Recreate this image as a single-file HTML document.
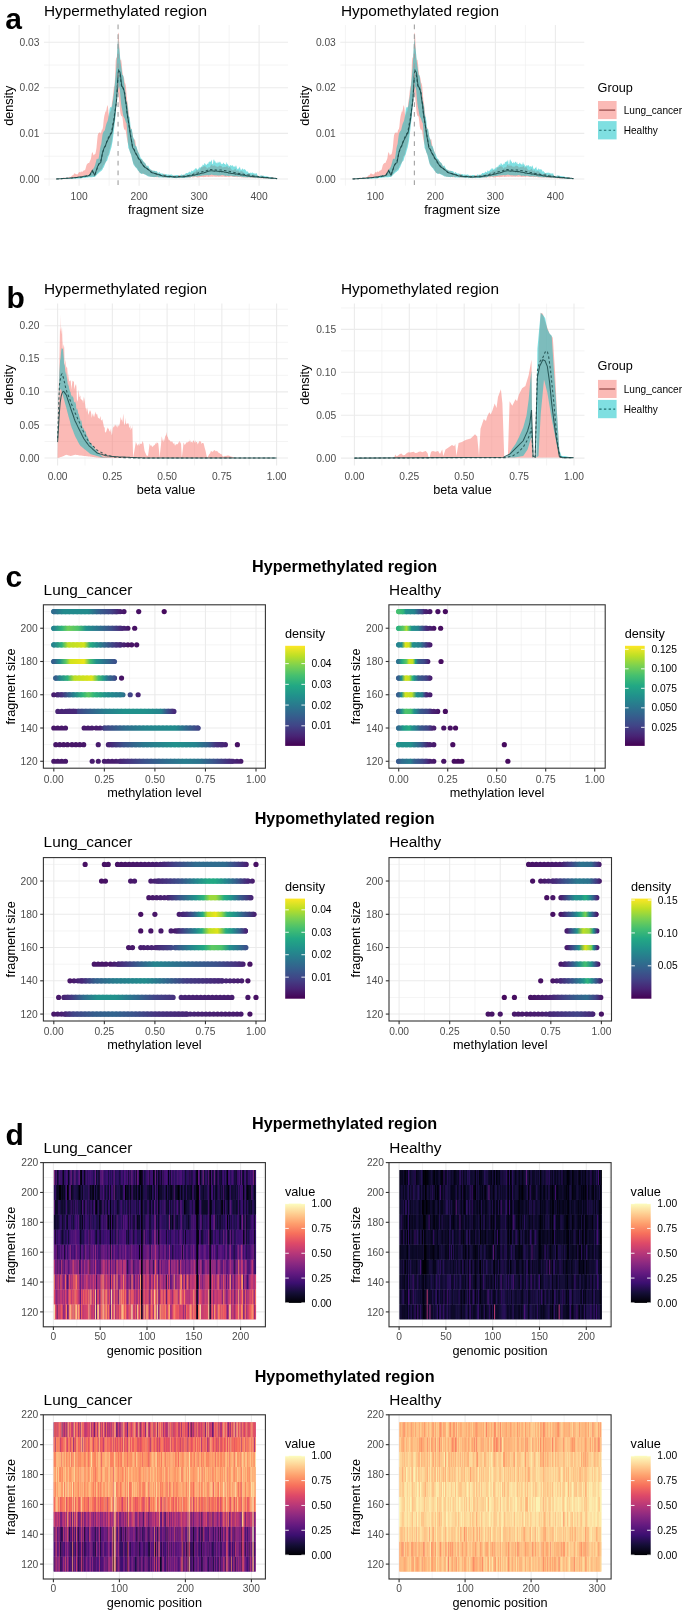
<!DOCTYPE html><html><head><meta charset="utf-8"><style>html,body{margin:0;padding:0;background:#fff;width:685px;height:1614px;overflow:hidden}svg{display:block;font-family:"Liberation Sans",sans-serif;filter:blur(0.5px)}</style></head><body><svg width="685" height="1614" viewBox="0 0 685 1614" font-family="Liberation Sans, sans-serif" fill="#000"><defs><linearGradient id="g0" gradientUnits="userSpaceOnUse" x1="53.8" y1="0" x2="175.12" y2="0"><stop offset="0" stop-color="#2f6c8e"/><stop offset="0.08" stop-color="#228b8d"/><stop offset="0.28" stop-color="#228b8d"/><stop offset="0.37" stop-color="#355f8d"/><stop offset="0.47" stop-color="#414487"/><stop offset="0.55" stop-color="#481d6f"/><stop offset="0.6" stop-color="#471365"/><stop offset="1" stop-color="#46085c"/></linearGradient><linearGradient id="g1" gradientUnits="userSpaceOnUse" x1="53.8" y1="0" x2="154.9" y2="0"><stop offset="0" stop-color="#25848e"/><stop offset="0.08" stop-color="#2fb47c"/><stop offset="0.14" stop-color="#6ece58"/><stop offset="0.24" stop-color="#4ec36b"/><stop offset="0.32" stop-color="#21918c"/><stop offset="0.44" stop-color="#2c738e"/><stop offset="0.56" stop-color="#3b528b"/><stop offset="0.66" stop-color="#472a7a"/><stop offset="0.76" stop-color="#471365"/><stop offset="1" stop-color="#460b5e"/></linearGradient><linearGradient id="g2" gradientUnits="userSpaceOnUse" x1="53.8" y1="0" x2="154.9" y2="0"><stop offset="0" stop-color="#25848e"/><stop offset="0.08" stop-color="#2fb47c"/><stop offset="0.14" stop-color="#bddf26"/><stop offset="0.3" stop-color="#d2e21b"/><stop offset="0.36" stop-color="#26ad81"/><stop offset="0.42" stop-color="#21918c"/><stop offset="0.52" stop-color="#355f8d"/><stop offset="0.62" stop-color="#463480"/><stop offset="0.74" stop-color="#471365"/><stop offset="1" stop-color="#460b5e"/></linearGradient><linearGradient id="g3" gradientUnits="userSpaceOnUse" x1="53.8" y1="0" x2="114.46" y2="0"><stop offset="0" stop-color="#355f8d"/><stop offset="0.1" stop-color="#21918c"/><stop offset="0.2" stop-color="#5ec962"/><stop offset="0.27" stop-color="#d2e21b"/><stop offset="0.5" stop-color="#ece51b"/><stop offset="0.6" stop-color="#44bf70"/><stop offset="0.7" stop-color="#21918c"/><stop offset="0.83" stop-color="#2c738e"/><stop offset="1" stop-color="#3b528b"/></linearGradient><linearGradient id="g4" gradientUnits="userSpaceOnUse" x1="55.82" y1="0" x2="121.54" y2="0"><stop offset="0" stop-color="#355f8d"/><stop offset="0.06" stop-color="#25848e"/><stop offset="0.18" stop-color="#2fb47c"/><stop offset="0.28" stop-color="#bddf26"/><stop offset="0.55" stop-color="#dfe318"/><stop offset="0.65" stop-color="#44bf70"/><stop offset="0.74" stop-color="#21918c"/><stop offset="0.8" stop-color="#2f6c8e"/><stop offset="0.89" stop-color="#3b528b"/><stop offset="1" stop-color="#471365"/></linearGradient><linearGradient id="g5" gradientUnits="userSpaceOnUse" x1="53.8" y1="0" x2="138.12" y2="0"><stop offset="0" stop-color="#481d6f"/><stop offset="0.1" stop-color="#463480"/><stop offset="0.17" stop-color="#355f8d"/><stop offset="0.24" stop-color="#25848e"/><stop offset="0.34" stop-color="#2fb47c"/><stop offset="0.41" stop-color="#5ec962"/><stop offset="0.48" stop-color="#2fb47c"/><stop offset="0.62" stop-color="#21918c"/><stop offset="0.72" stop-color="#25848e"/><stop offset="0.82" stop-color="#2a788e"/><stop offset="0.91" stop-color="#414487"/><stop offset="1" stop-color="#482475"/></linearGradient><linearGradient id="g6" gradientUnits="userSpaceOnUse" x1="57.84" y1="0" x2="173.91" y2="0"><stop offset="0" stop-color="#482475"/><stop offset="0.16" stop-color="#472a7a"/><stop offset="0.17" stop-color="#414487"/><stop offset="0.27" stop-color="#355f8d"/><stop offset="0.4" stop-color="#287d8e"/><stop offset="0.57" stop-color="#21918c"/><stop offset="0.75" stop-color="#21918c"/><stop offset="0.89" stop-color="#25848e"/><stop offset="0.94" stop-color="#3b528b"/><stop offset="1" stop-color="#472a7a"/></linearGradient><linearGradient id="g7" gradientUnits="userSpaceOnUse" x1="53.8" y1="0" x2="197.97" y2="0"><stop offset="0" stop-color="#481769"/><stop offset="0.32" stop-color="#481d6f"/><stop offset="0.35" stop-color="#414487"/><stop offset="0.49" stop-color="#2f6c8e"/><stop offset="0.63" stop-color="#25848e"/><stop offset="0.84" stop-color="#228b8d"/><stop offset="0.91" stop-color="#2f6c8e"/><stop offset="1" stop-color="#414487"/></linearGradient><linearGradient id="g8" gradientUnits="userSpaceOnUse" x1="53.8" y1="0" x2="237.8" y2="0"><stop offset="0" stop-color="#481769"/><stop offset="0.22" stop-color="#481769"/><stop offset="0.3" stop-color="#482475"/><stop offset="0.38" stop-color="#3b528b"/><stop offset="0.49" stop-color="#2a788e"/><stop offset="0.66" stop-color="#21918c"/><stop offset="0.77" stop-color="#25848e"/><stop offset="0.84" stop-color="#355f8d"/><stop offset="0.88" stop-color="#463480"/><stop offset="0.95" stop-color="#481d6f"/><stop offset="1" stop-color="#471063"/></linearGradient><linearGradient id="g9" gradientUnits="userSpaceOnUse" x1="53.8" y1="0" x2="243.46" y2="0"><stop offset="0" stop-color="#481769"/><stop offset="0.32" stop-color="#481d6f"/><stop offset="0.39" stop-color="#463480"/><stop offset="0.48" stop-color="#3b528b"/><stop offset="0.59" stop-color="#2f6c8e"/><stop offset="0.69" stop-color="#287d8e"/><stop offset="0.77" stop-color="#2c738e"/><stop offset="0.85" stop-color="#3b528b"/><stop offset="0.93" stop-color="#472a7a"/><stop offset="1" stop-color="#481769"/></linearGradient><linearGradient id="g10" x1="0" y1="0" x2="0" y2="1"><stop offset="0" stop-color="#fde725"/><stop offset="0.1" stop-color="#bddf26"/><stop offset="0.2" stop-color="#7ad151"/><stop offset="0.3" stop-color="#44bf70"/><stop offset="0.4" stop-color="#22a884"/><stop offset="0.5" stop-color="#21918c"/><stop offset="0.6" stop-color="#2a788e"/><stop offset="0.7" stop-color="#355f8d"/><stop offset="0.8" stop-color="#414487"/><stop offset="0.9" stop-color="#482475"/><stop offset="1" stop-color="#440154"/></linearGradient><linearGradient id="g11" gradientUnits="userSpaceOnUse" x1="398.7" y1="0" x2="445.74" y2="0"><stop offset="0" stop-color="#44bf70"/><stop offset="0.1" stop-color="#2fb47c"/><stop offset="0.15" stop-color="#21918c"/><stop offset="0.33" stop-color="#25848e"/><stop offset="0.42" stop-color="#375a8c"/><stop offset="0.5" stop-color="#414487"/><stop offset="0.54" stop-color="#482475"/><stop offset="0.71" stop-color="#471365"/><stop offset="1" stop-color="#460b5e"/></linearGradient><linearGradient id="g12" gradientUnits="userSpaceOnUse" x1="398.7" y1="0" x2="441.82" y2="0"><stop offset="0" stop-color="#2fb47c"/><stop offset="0.11" stop-color="#5ec962"/><stop offset="0.18" stop-color="#b0dd2f"/><stop offset="0.25" stop-color="#44bf70"/><stop offset="0.3" stop-color="#21918c"/><stop offset="0.45" stop-color="#25848e"/><stop offset="0.55" stop-color="#3b528b"/><stop offset="0.64" stop-color="#472a7a"/><stop offset="0.82" stop-color="#471365"/><stop offset="1" stop-color="#460b5e"/></linearGradient><linearGradient id="g13" gradientUnits="userSpaceOnUse" x1="398.7" y1="0" x2="432.41" y2="0"><stop offset="0" stop-color="#25848e"/><stop offset="0.09" stop-color="#21918c"/><stop offset="0.2" stop-color="#dfe318"/><stop offset="0.31" stop-color="#cae11f"/><stop offset="0.41" stop-color="#21918c"/><stop offset="0.64" stop-color="#287d8e"/><stop offset="0.76" stop-color="#3b528b"/><stop offset="0.87" stop-color="#472a7a"/><stop offset="1" stop-color="#481769"/></linearGradient><linearGradient id="g14" gradientUnits="userSpaceOnUse" x1="398.7" y1="0" x2="441.82" y2="0"><stop offset="0" stop-color="#2c738e"/><stop offset="0.07" stop-color="#22a884"/><stop offset="0.18" stop-color="#5ec962"/><stop offset="0.24" stop-color="#d2e21b"/><stop offset="0.33" stop-color="#bddf26"/><stop offset="0.39" stop-color="#1e9c89"/><stop offset="0.45" stop-color="#355f8d"/><stop offset="0.59" stop-color="#3e4989"/><stop offset="0.71" stop-color="#481d6f"/><stop offset="1" stop-color="#460b5e"/></linearGradient><linearGradient id="g15" gradientUnits="userSpaceOnUse" x1="398.7" y1="0" x2="433.78" y2="0"><stop offset="0" stop-color="#355f8d"/><stop offset="0.08" stop-color="#21918c"/><stop offset="0.19" stop-color="#d2e21b"/><stop offset="0.3" stop-color="#bddf26"/><stop offset="0.39" stop-color="#2fb47c"/><stop offset="0.45" stop-color="#21918c"/><stop offset="0.56" stop-color="#355f8d"/><stop offset="0.78" stop-color="#414487"/><stop offset="0.89" stop-color="#482475"/><stop offset="1" stop-color="#481769"/></linearGradient><linearGradient id="g16" gradientUnits="userSpaceOnUse" x1="398.7" y1="0" x2="433.39" y2="0"><stop offset="0" stop-color="#355f8d"/><stop offset="0.08" stop-color="#21918c"/><stop offset="0.19" stop-color="#d2e21b"/><stop offset="0.38" stop-color="#bddf26"/><stop offset="0.51" stop-color="#21918c"/><stop offset="0.68" stop-color="#287d8e"/><stop offset="0.73" stop-color="#3b528b"/><stop offset="0.79" stop-color="#472a7a"/><stop offset="1" stop-color="#481769"/></linearGradient><linearGradient id="g17" gradientUnits="userSpaceOnUse" x1="398.7" y1="0" x2="445.74" y2="0"><stop offset="0" stop-color="#355f8d"/><stop offset="0.06" stop-color="#21918c"/><stop offset="0.14" stop-color="#4ec36b"/><stop offset="0.26" stop-color="#44bf70"/><stop offset="0.33" stop-color="#21918c"/><stop offset="0.37" stop-color="#25848e"/><stop offset="0.46" stop-color="#375a8c"/><stop offset="0.62" stop-color="#414487"/><stop offset="0.71" stop-color="#482475"/><stop offset="0.85" stop-color="#481769"/><stop offset="1" stop-color="#460b5e"/></linearGradient><linearGradient id="g18" gradientUnits="userSpaceOnUse" x1="398.7" y1="0" x2="457.5" y2="0"><stop offset="0" stop-color="#2f6c8e"/><stop offset="0.08" stop-color="#1e9c89"/><stop offset="0.18" stop-color="#26ad81"/><stop offset="0.22" stop-color="#21918c"/><stop offset="0.27" stop-color="#25848e"/><stop offset="0.37" stop-color="#375a8c"/><stop offset="0.5" stop-color="#414487"/><stop offset="0.57" stop-color="#482475"/><stop offset="0.65" stop-color="#481769"/><stop offset="1" stop-color="#460b5e"/></linearGradient><linearGradient id="g19" gradientUnits="userSpaceOnUse" x1="398.7" y1="0" x2="457.5" y2="0"><stop offset="0" stop-color="#21918c"/><stop offset="0.2" stop-color="#21918c"/><stop offset="0.3" stop-color="#2c738e"/><stop offset="0.37" stop-color="#355f8d"/><stop offset="0.4" stop-color="#3b528b"/><stop offset="0.5" stop-color="#482475"/><stop offset="0.63" stop-color="#481769"/><stop offset="1" stop-color="#460b5e"/></linearGradient><linearGradient id="g20" gradientUnits="userSpaceOnUse" x1="398.7" y1="0" x2="457.5" y2="0"><stop offset="0" stop-color="#375a8c"/><stop offset="0.05" stop-color="#2f6c8e"/><stop offset="0.2" stop-color="#287d8e"/><stop offset="0.27" stop-color="#355f8d"/><stop offset="0.4" stop-color="#3e4989"/><stop offset="0.47" stop-color="#463480"/><stop offset="0.53" stop-color="#481d6f"/><stop offset="0.62" stop-color="#481769"/><stop offset="1" stop-color="#460b5e"/></linearGradient><linearGradient id="g21" x1="0" y1="0" x2="0" y2="1"><stop offset="0" stop-color="#fde725"/><stop offset="0.1" stop-color="#bddf26"/><stop offset="0.2" stop-color="#7ad151"/><stop offset="0.3" stop-color="#44bf70"/><stop offset="0.4" stop-color="#22a884"/><stop offset="0.5" stop-color="#21918c"/><stop offset="0.6" stop-color="#2a788e"/><stop offset="0.7" stop-color="#355f8d"/><stop offset="0.8" stop-color="#414487"/><stop offset="0.9" stop-color="#482475"/><stop offset="1" stop-color="#440154"/></linearGradient><linearGradient id="g22" gradientUnits="userSpaceOnUse" x1="84.13" y1="0" x2="256" y2="0"><stop offset="0" stop-color="#471063"/><stop offset="0.19" stop-color="#471365"/><stop offset="0.41" stop-color="#481d6f"/><stop offset="0.47" stop-color="#472a7a"/><stop offset="0.53" stop-color="#414487"/><stop offset="0.65" stop-color="#2f6c8e"/><stop offset="0.82" stop-color="#2f6c8e"/><stop offset="0.88" stop-color="#3e4989"/><stop offset="0.94" stop-color="#482475"/><stop offset="0.96" stop-color="#481769"/><stop offset="1" stop-color="#471063"/></linearGradient><linearGradient id="g23" gradientUnits="userSpaceOnUse" x1="100.31" y1="0" x2="256" y2="0"><stop offset="0" stop-color="#471063"/><stop offset="0.32" stop-color="#481d6f"/><stop offset="0.42" stop-color="#463480"/><stop offset="0.51" stop-color="#3b528b"/><stop offset="0.61" stop-color="#25848e"/><stop offset="0.69" stop-color="#22a884"/><stop offset="0.74" stop-color="#22a884"/><stop offset="0.81" stop-color="#25848e"/><stop offset="0.87" stop-color="#355f8d"/><stop offset="0.94" stop-color="#472a7a"/><stop offset="1" stop-color="#481769"/></linearGradient><linearGradient id="g24" gradientUnits="userSpaceOnUse" x1="148.83" y1="0" x2="251.96" y2="0"><stop offset="0" stop-color="#481769"/><stop offset="0.18" stop-color="#482475"/><stop offset="0.29" stop-color="#3b528b"/><stop offset="0.45" stop-color="#21918c"/><stop offset="0.53" stop-color="#2fb47c"/><stop offset="0.59" stop-color="#9bd93c"/><stop offset="0.65" stop-color="#9bd93c"/><stop offset="0.73" stop-color="#26ad81"/><stop offset="0.8" stop-color="#21918c"/><stop offset="0.88" stop-color="#355f8d"/><stop offset="1" stop-color="#482475"/></linearGradient><linearGradient id="g25" gradientUnits="userSpaceOnUse" x1="140.75" y1="0" x2="256" y2="0"><stop offset="0" stop-color="#471063"/><stop offset="0.33" stop-color="#481d6f"/><stop offset="0.4" stop-color="#463480"/><stop offset="0.46" stop-color="#355f8d"/><stop offset="0.51" stop-color="#21918c"/><stop offset="0.54" stop-color="#26ad81"/><stop offset="0.58" stop-color="#bddf26"/><stop offset="0.65" stop-color="#ece51b"/><stop offset="0.7" stop-color="#9bd93c"/><stop offset="0.75" stop-color="#26ad81"/><stop offset="0.82" stop-color="#21918c"/><stop offset="0.89" stop-color="#355f8d"/><stop offset="1" stop-color="#481d6f"/></linearGradient><linearGradient id="g26" gradientUnits="userSpaceOnUse" x1="140.75" y1="0" x2="245.89" y2="0"><stop offset="0" stop-color="#471063"/><stop offset="0.33" stop-color="#481d6f"/><stop offset="0.4" stop-color="#414487"/><stop offset="0.52" stop-color="#25848e"/><stop offset="0.58" stop-color="#26ad81"/><stop offset="0.65" stop-color="#bddf26"/><stop offset="0.73" stop-color="#dfe318"/><stop offset="0.81" stop-color="#26ad81"/><stop offset="0.87" stop-color="#21918c"/><stop offset="0.94" stop-color="#355f8d"/><stop offset="1" stop-color="#482475"/></linearGradient><linearGradient id="g27" gradientUnits="userSpaceOnUse" x1="128.61" y1="0" x2="245.89" y2="0"><stop offset="0" stop-color="#481769"/><stop offset="0.22" stop-color="#482475"/><stop offset="0.36" stop-color="#414487"/><stop offset="0.4" stop-color="#3b528b"/><stop offset="0.53" stop-color="#25848e"/><stop offset="0.64" stop-color="#22a884"/><stop offset="0.71" stop-color="#5ec962"/><stop offset="0.79" stop-color="#4ec36b"/><stop offset="0.86" stop-color="#21918c"/><stop offset="0.95" stop-color="#2f6c8e"/><stop offset="1" stop-color="#3b528b"/></linearGradient><linearGradient id="g28" gradientUnits="userSpaceOnUse" x1="94.24" y1="0" x2="249.93" y2="0"><stop offset="0" stop-color="#481769"/><stop offset="0.1" stop-color="#481769"/><stop offset="0.19" stop-color="#463480"/><stop offset="0.29" stop-color="#355f8d"/><stop offset="0.39" stop-color="#25848e"/><stop offset="0.52" stop-color="#2c738e"/><stop offset="0.65" stop-color="#355f8d"/><stop offset="0.78" stop-color="#3b528b"/><stop offset="0.91" stop-color="#463480"/><stop offset="0.97" stop-color="#481d6f"/><stop offset="1" stop-color="#471365"/></linearGradient><linearGradient id="g29" gradientUnits="userSpaceOnUse" x1="69.98" y1="0" x2="247.91" y2="0"><stop offset="0" stop-color="#481769"/><stop offset="0.07" stop-color="#472a7a"/><stop offset="0.14" stop-color="#355f8d"/><stop offset="0.25" stop-color="#287d8e"/><stop offset="0.42" stop-color="#228b8d"/><stop offset="0.53" stop-color="#2f6c8e"/><stop offset="0.65" stop-color="#433e85"/><stop offset="0.82" stop-color="#472a7a"/><stop offset="0.97" stop-color="#481d6f"/><stop offset="1" stop-color="#471365"/></linearGradient><linearGradient id="g30" gradientUnits="userSpaceOnUse" x1="57.84" y1="0" x2="256" y2="0"><stop offset="0" stop-color="#481769"/><stop offset="0.06" stop-color="#463480"/><stop offset="0.13" stop-color="#2f6c8e"/><stop offset="0.2" stop-color="#21918c"/><stop offset="0.29" stop-color="#21918c"/><stop offset="0.39" stop-color="#2f6c8e"/><stop offset="0.49" stop-color="#414487"/><stop offset="0.58" stop-color="#463480"/><stop offset="0.62" stop-color="#482475"/><stop offset="0.9" stop-color="#481d6f"/><stop offset="1" stop-color="#471063"/></linearGradient><linearGradient id="g31" gradientUnits="userSpaceOnUse" x1="53.8" y1="0" x2="249.93" y2="0"><stop offset="0" stop-color="#481769"/><stop offset="0.05" stop-color="#482475"/><stop offset="0.1" stop-color="#414487"/><stop offset="0.21" stop-color="#355f8d"/><stop offset="0.31" stop-color="#32648e"/><stop offset="0.41" stop-color="#3b528b"/><stop offset="0.52" stop-color="#463480"/><stop offset="0.72" stop-color="#482475"/><stop offset="0.96" stop-color="#481a6c"/><stop offset="1" stop-color="#471365"/></linearGradient><linearGradient id="g32" x1="0" y1="0" x2="0" y2="1"><stop offset="0" stop-color="#fde725"/><stop offset="0.1" stop-color="#bddf26"/><stop offset="0.2" stop-color="#7ad151"/><stop offset="0.3" stop-color="#44bf70"/><stop offset="0.4" stop-color="#22a884"/><stop offset="0.5" stop-color="#21918c"/><stop offset="0.6" stop-color="#2a788e"/><stop offset="0.7" stop-color="#355f8d"/><stop offset="0.8" stop-color="#414487"/><stop offset="0.9" stop-color="#482475"/><stop offset="1" stop-color="#440154"/></linearGradient><linearGradient id="g33" gradientUnits="userSpaceOnUse" x1="528.57" y1="0" x2="601.4" y2="0"><stop offset="0" stop-color="#471365"/><stop offset="0.44" stop-color="#481d6f"/><stop offset="0.58" stop-color="#414487"/><stop offset="0.72" stop-color="#2c738e"/><stop offset="0.86" stop-color="#2f6c8e"/><stop offset="0.92" stop-color="#414487"/><stop offset="1" stop-color="#481769"/></linearGradient><linearGradient id="g34" gradientUnits="userSpaceOnUse" x1="532.62" y1="0" x2="601.4" y2="0"><stop offset="0" stop-color="#471063"/><stop offset="0.12" stop-color="#481769"/><stop offset="0.32" stop-color="#472a7a"/><stop offset="0.47" stop-color="#3b528b"/><stop offset="0.65" stop-color="#2a788e"/><stop offset="0.82" stop-color="#2c738e"/><stop offset="0.91" stop-color="#414487"/><stop offset="1" stop-color="#481769"/></linearGradient><linearGradient id="g35" gradientUnits="userSpaceOnUse" x1="546.78" y1="0" x2="597.35" y2="0"><stop offset="0" stop-color="#471063"/><stop offset="0.28" stop-color="#481d6f"/><stop offset="0.44" stop-color="#355f8d"/><stop offset="0.56" stop-color="#21918c"/><stop offset="0.68" stop-color="#21918c"/><stop offset="0.76" stop-color="#26ad81"/><stop offset="0.84" stop-color="#21918c"/><stop offset="0.92" stop-color="#355f8d"/><stop offset="1" stop-color="#482475"/></linearGradient><linearGradient id="g36" gradientUnits="userSpaceOnUse" x1="552.85" y1="0" x2="597.35" y2="0"><stop offset="0" stop-color="#471063"/><stop offset="0.18" stop-color="#481769"/><stop offset="0.32" stop-color="#414487"/><stop offset="0.45" stop-color="#2f6c8e"/><stop offset="0.55" stop-color="#21918c"/><stop offset="0.64" stop-color="#2fb47c"/><stop offset="0.73" stop-color="#7ad151"/><stop offset="0.82" stop-color="#21918c"/><stop offset="0.91" stop-color="#3b528b"/><stop offset="1" stop-color="#481769"/></linearGradient><linearGradient id="g37" gradientUnits="userSpaceOnUse" x1="567.01" y1="0" x2="597.35" y2="0"><stop offset="0" stop-color="#481d6f"/><stop offset="0.13" stop-color="#3b528b"/><stop offset="0.33" stop-color="#21918c"/><stop offset="0.53" stop-color="#bddf26"/><stop offset="0.73" stop-color="#9bd93c"/><stop offset="0.87" stop-color="#21918c"/><stop offset="1" stop-color="#482475"/></linearGradient><linearGradient id="g38" gradientUnits="userSpaceOnUse" x1="567.01" y1="0" x2="597.35" y2="0"><stop offset="0" stop-color="#481d6f"/><stop offset="0.2" stop-color="#3b528b"/><stop offset="0.4" stop-color="#21918c"/><stop offset="0.6" stop-color="#dfe318"/><stop offset="0.8" stop-color="#7ad151"/><stop offset="0.87" stop-color="#21918c"/><stop offset="1" stop-color="#482475"/></linearGradient><linearGradient id="g39" gradientUnits="userSpaceOnUse" x1="560.94" y1="0" x2="599.38" y2="0"><stop offset="0" stop-color="#481769"/><stop offset="0.16" stop-color="#463480"/><stop offset="0.32" stop-color="#355f8d"/><stop offset="0.47" stop-color="#21918c"/><stop offset="0.63" stop-color="#44bf70"/><stop offset="0.79" stop-color="#21918c"/><stop offset="0.89" stop-color="#3b528b"/><stop offset="1" stop-color="#481769"/></linearGradient><linearGradient id="g40" gradientUnits="userSpaceOnUse" x1="540.71" y1="0" x2="601.4" y2="0"><stop offset="0" stop-color="#471063"/><stop offset="0.2" stop-color="#481769"/><stop offset="0.33" stop-color="#472a7a"/><stop offset="0.5" stop-color="#3b528b"/><stop offset="0.63" stop-color="#2a788e"/><stop offset="0.7" stop-color="#21918c"/><stop offset="0.77" stop-color="#2fb47c"/><stop offset="0.83" stop-color="#21918c"/><stop offset="0.9" stop-color="#355f8d"/><stop offset="1" stop-color="#481d6f"/></linearGradient><linearGradient id="g41" gradientUnits="userSpaceOnUse" x1="504.3" y1="0" x2="601.4" y2="0"><stop offset="0" stop-color="#460b5e"/><stop offset="0.27" stop-color="#471365"/><stop offset="0.48" stop-color="#482475"/><stop offset="0.62" stop-color="#414487"/><stop offset="0.75" stop-color="#355f8d"/><stop offset="0.85" stop-color="#2f6c8e"/><stop offset="0.94" stop-color="#414487"/><stop offset="1" stop-color="#481769"/></linearGradient><linearGradient id="g42" gradientUnits="userSpaceOnUse" x1="488.11" y1="0" x2="601.4" y2="0"><stop offset="0" stop-color="#471365"/><stop offset="0.46" stop-color="#481d6f"/><stop offset="0.64" stop-color="#463480"/><stop offset="0.79" stop-color="#414487"/><stop offset="0.91" stop-color="#472a7a"/><stop offset="1" stop-color="#471365"/></linearGradient><linearGradient id="g43" x1="0" y1="0" x2="0" y2="1"><stop offset="0" stop-color="#fde725"/><stop offset="0.1" stop-color="#bddf26"/><stop offset="0.2" stop-color="#7ad151"/><stop offset="0.3" stop-color="#44bf70"/><stop offset="0.4" stop-color="#22a884"/><stop offset="0.5" stop-color="#21918c"/><stop offset="0.6" stop-color="#2a788e"/><stop offset="0.7" stop-color="#355f8d"/><stop offset="0.8" stop-color="#414487"/><stop offset="0.9" stop-color="#482475"/><stop offset="1" stop-color="#440154"/></linearGradient><linearGradient id="g44" x1="0" y1="0" x2="0" y2="1"><stop offset="0" stop-color="#fcfdbf"/><stop offset="0.1" stop-color="#fecf92"/><stop offset="0.2" stop-color="#fe9f6d"/><stop offset="0.3" stop-color="#f7705c"/><stop offset="0.4" stop-color="#de4968"/><stop offset="0.5" stop-color="#b73779"/><stop offset="0.6" stop-color="#8c2981"/><stop offset="0.7" stop-color="#641a80"/><stop offset="0.8" stop-color="#3b0f70"/><stop offset="0.9" stop-color="#140e36"/><stop offset="1" stop-color="#000004"/></linearGradient><linearGradient id="g45" x1="0" y1="0" x2="0" y2="1"><stop offset="0" stop-color="#fcfdbf"/><stop offset="0.1" stop-color="#fecf92"/><stop offset="0.2" stop-color="#fe9f6d"/><stop offset="0.3" stop-color="#f7705c"/><stop offset="0.4" stop-color="#de4968"/><stop offset="0.5" stop-color="#b73779"/><stop offset="0.6" stop-color="#8c2981"/><stop offset="0.7" stop-color="#641a80"/><stop offset="0.8" stop-color="#3b0f70"/><stop offset="0.9" stop-color="#140e36"/><stop offset="1" stop-color="#000004"/></linearGradient><linearGradient id="g46" x1="0" y1="0" x2="0" y2="1"><stop offset="0" stop-color="#fcfdbf"/><stop offset="0.1" stop-color="#fecf92"/><stop offset="0.2" stop-color="#fe9f6d"/><stop offset="0.3" stop-color="#f7705c"/><stop offset="0.4" stop-color="#de4968"/><stop offset="0.5" stop-color="#b73779"/><stop offset="0.6" stop-color="#8c2981"/><stop offset="0.7" stop-color="#641a80"/><stop offset="0.8" stop-color="#3b0f70"/><stop offset="0.9" stop-color="#140e36"/><stop offset="1" stop-color="#000004"/></linearGradient><linearGradient id="g47" x1="0" y1="0" x2="0" y2="1"><stop offset="0" stop-color="#fcfdbf"/><stop offset="0.1" stop-color="#fecf92"/><stop offset="0.2" stop-color="#fe9f6d"/><stop offset="0.3" stop-color="#f7705c"/><stop offset="0.4" stop-color="#de4968"/><stop offset="0.5" stop-color="#b73779"/><stop offset="0.6" stop-color="#8c2981"/><stop offset="0.7" stop-color="#641a80"/><stop offset="0.8" stop-color="#3b0f70"/><stop offset="0.9" stop-color="#140e36"/><stop offset="1" stop-color="#000004"/></linearGradient></defs><text x="5.2" y="29.3" font-size="30" font-weight="bold">a</text><path d="M44 156.2H288" stroke="#EBEBEB" stroke-width="0.55"/><path d="M44 110.6H288" stroke="#EBEBEB" stroke-width="0.55"/><path d="M44 65H288" stroke="#EBEBEB" stroke-width="0.55"/><path d="M49.1 25V185.8" stroke="#EBEBEB" stroke-width="0.55"/><path d="M109.1 25V185.8" stroke="#EBEBEB" stroke-width="0.55"/><path d="M169.1 25V185.8" stroke="#EBEBEB" stroke-width="0.55"/><path d="M229.1 25V185.8" stroke="#EBEBEB" stroke-width="0.55"/><path d="M44 179H288" stroke="#EBEBEB" stroke-width="1.1"/><path d="M44 133.4H288" stroke="#EBEBEB" stroke-width="1.1"/><path d="M44 87.8H288" stroke="#EBEBEB" stroke-width="1.1"/><path d="M44 42.2H288" stroke="#EBEBEB" stroke-width="1.1"/><path d="M79.1 25V185.8" stroke="#EBEBEB" stroke-width="1.1"/><path d="M139.1 25V185.8" stroke="#EBEBEB" stroke-width="1.1"/><path d="M199.1 25V185.8" stroke="#EBEBEB" stroke-width="1.1"/><path d="M259.1 25V185.8" stroke="#EBEBEB" stroke-width="1.1"/><text x="44" y="15.5" font-size="15.36">Hypermethylated region</text><text x="39.5" y="182.6" font-size="10.24" text-anchor="end" fill="#4D4D4D">0.00</text><text x="39.5" y="137" font-size="10.24" text-anchor="end" fill="#4D4D4D">0.01</text><text x="39.5" y="91.4" font-size="10.24" text-anchor="end" fill="#4D4D4D">0.02</text><text x="39.5" y="45.8" font-size="10.24" text-anchor="end" fill="#4D4D4D">0.03</text><text x="79.1" y="199.8" font-size="10.24" text-anchor="middle" fill="#4D4D4D">100</text><text x="139.1" y="199.8" font-size="10.24" text-anchor="middle" fill="#4D4D4D">200</text><text x="199.1" y="199.8" font-size="10.24" text-anchor="middle" fill="#4D4D4D">300</text><text x="259.1" y="199.8" font-size="10.24" text-anchor="middle" fill="#4D4D4D">400</text><text x="166" y="214.3" font-size="12.7" text-anchor="middle">fragment size</text><text transform="translate(12.9 105.7) rotate(-90)" font-size="12.7" text-anchor="middle">density</text><path d="M56.3 178.5 56.9 178.6 57.5 179.0 58.1 179.0 58.7 179.0 59.3 178.7 59.9 178.7 60.5 178.6 61.1 178.5 61.7 178.6 62.3 178.5 62.9 177.9 63.5 177.5 64.1 177.4 64.7 177.7 65.3 178.0 65.9 178.1 66.5 178.0 67.1 177.7 67.7 177.8 68.3 177.9 68.9 177.3 69.5 176.8 70.1 176.9 70.7 177.0 71.3 176.5 71.9 175.7 72.5 175.3 73.1 175.2 73.7 174.5 74.3 173.5 74.9 173.2 75.5 173.9 76.1 174.2 76.7 174.2 77.3 174.4 77.9 174.0 78.5 173.0 79.1 172.1 79.7 172.2 80.3 172.4 80.9 171.6 81.5 171.6 82.1 171.9 82.7 171.4 83.3 170.8 83.9 170.4 84.5 170.3 85.1 170.0 85.7 168.2 86.3 165.7 86.9 164.3 87.5 163.7 88.1 162.9 88.7 163.0 89.3 162.7 89.9 161.1 90.5 160.1 91.1 157.9 91.7 154.1 92.3 152.0 92.9 153.3 93.5 155.6 94.1 154.5 94.7 154.6 95.3 154.1 95.9 151.6 96.5 147.9 97.1 141.2 97.7 135.6 98.3 133.5 98.9 133.1 99.5 132.5 100.1 132.2 100.7 133.7 101.3 131.9 101.9 129.6 102.5 129.4 103.1 126.5 103.7 120.0 104.3 116.1 104.9 113.7 105.5 111.2 106.1 111.8 106.7 108.5 107.3 104.9 107.9 106.7 108.5 113.1 109.1 116.9 109.7 114.0 110.3 111.1 110.9 111.8 111.5 107.3 112.1 101.7 112.7 98.0 113.3 92.5 113.9 87.1 114.5 85.6 115.1 77.4 115.7 60.8 116.3 56.9 116.9 58.6 117.5 48.6 118.1 32.5 118.7 33.5 119.3 45.2 119.9 57.4 120.5 60.5 121.1 59.4 121.7 63.5 122.3 70.8 122.9 75.0 123.5 76.3 124.1 78.3 124.7 82.6 125.3 83.5 125.9 86.1 126.5 94.0 127.1 100.3 127.7 103.2 128.3 108.7 128.9 114.3 129.5 121.3 130.1 126.7 130.7 127.6 131.3 128.5 131.9 131.0 132.5 133.7 133.1 137.3 133.7 139.8 134.3 139.4 134.9 138.9 135.5 142.3 136.1 146.2 136.7 147.9 137.3 150.1 137.9 151.4 138.5 152.2 139.1 155.2 139.7 158.2 140.3 158.9 140.9 159.1 141.5 159.3 142.1 159.9 142.7 161.1 143.3 161.5 143.9 162.1 144.5 163.0 145.1 163.3 145.7 164.3 146.3 165.4 146.9 166.0 147.5 167.1 148.1 167.7 148.7 167.8 149.3 168.6 149.9 169.6 150.5 169.9 151.1 169.7 151.7 169.9 152.3 170.6 152.9 171.0 153.5 171.4 154.1 171.3 154.7 170.6 155.3 171.6 155.9 172.5 156.5 172.3 157.1 172.7 157.7 172.8 158.3 172.9 158.9 173.6 159.5 174.1 160.1 174.3 160.7 174.6 161.3 175.1 161.9 175.1 162.5 174.4 163.1 173.9 163.7 173.8 164.3 173.7 164.9 174.2 165.5 174.9 166.1 175.4 166.7 175.9 167.3 176.0 167.9 175.7 168.5 175.2 169.1 175.2 169.7 175.6 170.3 176.1 170.9 176.3 171.5 176.0 172.1 175.7 172.7 175.8 173.3 175.8 173.9 175.4 174.5 175.5 175.1 176.2 175.7 176.4 176.3 176.3 176.9 176.1 177.5 175.9 178.1 175.6 178.7 175.3 179.3 175.0 179.9 175.1 180.5 175.4 181.1 175.5 181.7 175.7 182.3 175.4 182.9 174.9 183.5 174.8 184.1 174.7 184.7 174.9 185.3 174.9 185.9 174.6 186.5 174.7 187.1 174.8 187.7 174.8 188.3 174.7 188.9 174.5 189.5 174.0 190.1 173.3 190.7 173.0 191.3 173.3 191.9 174.0 192.5 173.4 193.1 172.6 193.7 172.3 194.3 171.8 194.9 171.6 195.5 171.8 196.1 170.9 196.7 169.8 197.3 170.2 197.9 170.6 198.5 170.5 199.1 170.5 199.7 170.5 200.3 169.3 200.9 167.5 201.5 167.3 202.1 167.5 202.7 166.9 203.3 166.6 203.9 166.5 204.5 166.1 205.1 166.4 205.7 166.6 206.3 167.1 206.9 168.4 207.5 168.2 208.1 167.3 208.7 167.4 209.3 167.3 209.9 167.2 210.5 166.1 211.1 164.4 211.7 164.9 212.3 165.7 212.9 165.5 213.5 165.7 214.1 165.7 214.7 165.3 215.3 165.7 215.9 166.6 216.5 166.4 217.1 166.5 217.7 166.9 218.3 166.5 218.9 166.2 219.5 165.6 220.1 165.5 220.7 165.9 221.3 166.0 221.9 166.6 222.5 167.6 223.1 167.5 223.7 167.1 224.3 167.0 224.9 166.8 225.5 167.1 226.1 167.1 226.7 165.9 227.3 165.7 227.9 167.2 228.5 167.9 229.1 167.5 229.7 166.8 230.3 167.2 230.9 168.8 231.5 169.6 232.1 169.9 232.7 170.3 233.3 170.2 233.9 169.7 234.5 169.4 235.1 168.6 235.7 169.0 236.3 170.4 236.9 171.0 237.5 170.5 238.1 170.1 238.7 171.1 239.3 171.9 239.9 171.4 240.5 171.3 241.1 171.3 241.7 171.0 242.3 171.3 242.9 172.0 243.5 172.6 244.1 172.8 244.7 173.3 245.3 173.9 245.9 173.9 246.5 174.0 247.1 174.2 247.7 173.8 248.3 173.2 248.9 173.1 249.5 173.4 250.1 173.8 250.7 175.0 251.3 175.5 251.9 174.8 252.5 174.3 253.1 174.3 253.7 174.3 254.3 174.7 254.9 175.3 255.5 174.9 256.1 174.6 256.7 175.6 257.3 176.3 257.9 176.1 258.5 175.8 259.1 175.9 259.7 176.1 260.3 176.5 260.9 176.7 261.5 176.0 262.1 175.4 262.7 175.9 263.3 176.7 263.9 177.1 264.5 177.5 265.1 177.1 265.7 176.9 266.3 177.2 266.9 177.0 267.5 176.9 268.1 176.9 268.7 177.1 269.3 177.6 269.9 178.1 270.5 178.2 271.1 177.9 271.7 177.7 272.3 177.6 272.9 177.6 273.5 178.1 274.1 178.2 274.7 178.2 275.3 178.2 275.9 178.3 276.5 178.4 277.1 178.3 277.1 179.0 276.5 179.0 275.9 179.0 275.3 178.8 274.7 178.9 274.1 179.0 273.5 178.8 272.9 178.7 272.3 178.9 271.7 178.9 271.1 178.7 270.5 178.7 269.9 178.7 269.3 178.7 268.7 178.6 268.1 178.6 267.5 178.6 266.9 178.6 266.3 178.5 265.7 178.6 265.1 178.5 264.5 178.3 263.9 178.2 263.3 178.3 262.7 178.3 262.1 178.2 261.5 178.3 260.9 178.4 260.3 178.3 259.7 178.0 259.1 178.0 258.5 178.2 257.9 178.2 257.3 178.1 256.7 178.1 256.1 178.1 255.5 178.2 254.9 178.0 254.3 177.9 253.7 178.0 253.1 178.0 252.5 177.9 251.9 178.0 251.3 177.8 250.7 177.7 250.1 177.6 249.5 177.5 248.9 177.4 248.3 177.5 247.7 177.4 247.1 177.4 246.5 177.5 245.9 177.5 245.3 177.6 244.7 177.7 244.1 177.6 243.5 177.4 242.9 177.3 242.3 177.5 241.7 177.4 241.1 177.2 240.5 177.0 239.9 177.1 239.3 177.2 238.7 177.1 238.1 177.0 237.5 177.2 236.9 177.2 236.3 177.0 235.7 176.9 235.1 176.9 234.5 177.0 233.9 177.1 233.3 177.0 232.7 176.9 232.1 176.8 231.5 176.6 230.9 176.7 230.3 176.6 229.7 176.7 229.1 177.1 228.5 177.0 227.9 176.6 227.3 176.8 226.7 176.9 226.1 176.8 225.5 177.0 224.9 177.0 224.3 176.7 223.7 176.6 223.1 176.7 222.5 176.8 221.9 176.7 221.3 176.7 220.7 176.7 220.1 176.6 219.5 176.8 218.9 177.0 218.3 176.7 217.7 176.5 217.1 176.7 216.5 176.7 215.9 176.7 215.3 176.7 214.7 176.7 214.1 176.6 213.5 176.6 212.9 176.7 212.3 176.8 211.7 176.7 211.1 176.6 210.5 176.8 209.9 176.8 209.3 176.8 208.7 177.0 208.1 177.0 207.5 176.7 206.9 176.6 206.3 176.8 205.7 177.0 205.1 177.1 204.5 177.0 203.9 177.1 203.3 177.2 202.7 176.9 202.1 176.9 201.5 177.1 200.9 177.1 200.3 177.0 199.7 177.0 199.1 177.2 198.5 177.3 197.9 177.4 197.3 177.5 196.7 177.3 196.1 177.0 195.5 176.8 194.9 177.0 194.3 177.2 193.7 177.3 193.1 177.5 192.5 177.4 191.9 177.0 191.3 177.1 190.7 177.5 190.1 177.7 189.5 177.7 188.9 177.6 188.3 177.6 187.7 177.6 187.1 177.6 186.5 177.8 185.9 177.6 185.3 177.6 184.7 177.8 184.1 177.9 183.5 177.9 182.9 177.8 182.3 177.6 181.7 177.7 181.1 177.8 180.5 177.7 179.9 178.0 179.3 178.2 178.7 178.0 178.1 177.7 177.5 177.8 176.9 178.0 176.3 178.1 175.7 178.2 175.1 178.1 174.5 178.0 173.9 178.0 173.3 178.0 172.7 178.0 172.1 177.9 171.5 177.8 170.9 177.8 170.3 178.0 169.7 178.0 169.1 177.8 168.5 177.8 167.9 177.9 167.3 177.8 166.7 177.7 166.1 177.7 165.5 177.6 164.9 177.4 164.3 177.5 163.7 177.6 163.1 177.6 162.5 177.3 161.9 177.1 161.3 177.1 160.7 177.0 160.1 176.9 159.5 176.8 158.9 177.0 158.3 177.3 157.7 177.3 157.1 177.3 156.5 177.3 155.9 177.2 155.3 177.1 154.7 177.1 154.1 177.2 153.5 177.1 152.9 176.9 152.3 176.8 151.7 176.8 151.1 176.8 150.5 176.8 149.9 176.6 149.3 176.3 148.7 175.9 148.1 175.6 147.5 175.6 146.9 175.4 146.3 174.9 145.7 174.4 145.1 174.1 144.5 174.0 143.9 174.1 143.3 173.9 142.7 173.7 142.1 173.5 141.5 173.3 140.9 173.2 140.3 173.0 139.7 172.7 139.1 171.8 138.5 170.4 137.9 169.5 137.3 168.5 136.7 167.7 136.1 167.5 135.5 167.0 134.9 165.5 134.3 164.4 133.7 164.3 133.1 162.6 132.5 159.4 131.9 157.0 131.3 155.0 130.7 153.5 130.1 152.5 129.5 149.6 128.9 145.9 128.3 144.3 127.7 142.4 127.1 139.4 126.5 136.1 125.9 131.7 125.3 129.5 124.7 130.1 124.1 129.1 123.5 126.6 122.9 121.1 122.3 116.5 121.7 116.3 121.1 115.8 120.5 113.8 119.9 108.6 119.3 101.8 118.7 94.8 118.1 92.5 117.5 92.7 116.9 91.7 116.3 97.1 115.7 106.3 115.1 114.9 114.5 121.0 113.9 126.2 113.3 129.6 112.7 133.8 112.1 139.2 111.5 143.3 110.9 145.1 110.3 147.4 109.7 149.3 109.1 151.6 108.5 154.7 107.9 155.8 107.3 156.1 106.7 158.5 106.1 160.9 105.5 162.5 104.9 163.4 104.3 164.3 103.7 165.1 103.1 165.8 102.5 167.4 101.9 168.9 101.3 169.3 100.7 169.7 100.1 170.3 99.5 170.8 98.9 171.4 98.3 171.9 97.7 172.5 97.1 173.6 96.5 174.4 95.9 174.9 95.3 175.7 94.7 176.4 94.1 176.4 93.5 176.4 92.9 176.1 92.3 176.0 91.7 176.2 91.1 176.4 90.5 176.6 89.9 176.8 89.3 176.8 88.7 176.8 88.1 176.8 87.5 176.9 86.9 177.0 86.3 176.8 85.7 176.7 85.1 176.8 84.5 176.9 83.9 176.9 83.3 177.0 82.7 177.1 82.1 177.3 81.5 177.4 80.9 177.3 80.3 177.4 79.7 177.3 79.1 177.3 78.5 177.2 77.9 177.1 77.3 177.3 76.7 177.8 76.1 178.0 75.5 177.7 74.9 177.6 74.3 177.8 73.7 177.9 73.1 177.8 72.5 177.8 71.9 177.7 71.3 177.7 70.7 177.8 70.1 178.0 69.5 178.1 68.9 178.1 68.3 178.2 67.7 178.2 67.1 178.1 66.5 178.1 65.9 178.3 65.3 178.4 64.7 178.5 64.1 178.4 63.5 178.4 62.9 178.5 62.3 178.6 61.7 178.7 61.1 178.7 60.5 178.7 59.9 178.9 59.3 179.0 58.7 179.0 58.1 179.0 57.5 179.0 56.9 179.0 56.3 179.0Z" fill="#F8766D" fill-opacity="0.5"/><path d="M56.3 178.8 56.9 179.0 57.5 179.0 58.1 179.0 58.7 179.0 59.3 179.0 59.9 178.8 60.5 178.7 61.1 178.8 61.7 178.6 62.3 178.6 62.9 178.9 63.5 178.9 64.1 178.6 64.7 178.5 65.3 178.6 65.9 178.7 66.5 178.6 67.1 178.4 67.7 178.4 68.3 178.4 68.9 178.1 69.5 177.9 70.1 178.0 70.7 178.1 71.3 178.2 71.9 178.3 72.5 178.4 73.1 178.2 73.7 178.0 74.3 178.0 74.9 178.0 75.5 178.0 76.1 178.0 76.7 177.8 77.3 177.7 77.9 177.6 78.5 177.2 79.1 176.7 79.7 176.7 80.3 177.1 80.9 177.2 81.5 176.9 82.1 176.4 82.7 176.4 83.3 176.5 83.9 176.0 84.5 175.5 85.1 175.5 85.7 175.5 86.3 175.4 86.9 175.6 87.5 175.6 88.1 175.4 88.7 174.9 89.3 174.5 89.9 174.1 90.5 173.8 91.1 172.7 91.7 171.8 92.3 170.8 92.9 169.3 93.5 168.3 94.1 167.5 94.7 165.9 95.3 164.2 95.9 162.0 96.5 159.6 97.1 158.5 97.7 159.2 98.3 159.1 98.9 157.1 99.5 153.1 100.1 148.5 100.7 145.8 101.3 143.9 101.9 138.9 102.5 134.5 103.1 132.7 103.7 131.5 104.3 131.0 104.9 129.9 105.5 127.2 106.1 124.7 106.7 122.9 107.3 121.7 107.9 119.9 108.5 116.7 109.1 112.9 109.7 109.0 110.3 106.9 110.9 107.2 111.5 107.6 112.1 105.4 112.7 101.5 113.3 98.1 113.9 93.1 114.5 87.6 115.1 81.4 115.7 74.7 116.3 68.0 116.9 57.0 117.5 45.3 118.1 38.0 118.7 44.8 119.3 49.1 119.9 54.7 120.5 62.1 121.1 66.0 121.7 70.0 122.3 75.1 122.9 75.1 123.5 77.0 124.1 82.6 124.7 87.1 125.3 91.6 125.9 97.6 126.5 101.9 127.1 103.4 127.7 106.5 128.3 112.7 128.9 116.5 129.5 117.1 130.1 121.5 130.7 128.4 131.3 128.9 131.9 129.2 132.5 133.8 133.1 137.2 133.7 138.3 134.3 140.6 134.9 144.0 135.5 145.9 136.1 146.1 136.7 147.2 137.3 149.4 137.9 151.2 138.5 152.8 139.1 153.7 139.7 155.1 140.3 157.0 140.9 158.2 141.5 158.8 142.1 159.3 142.7 160.3 143.3 161.3 143.9 162.0 144.5 162.4 145.1 163.1 145.7 163.9 146.3 165.5 146.9 166.6 147.5 165.7 148.1 165.4 148.7 166.8 149.3 168.2 149.9 168.9 150.5 169.3 151.1 169.7 151.7 170.3 152.3 170.6 152.9 170.7 153.5 170.6 154.1 170.7 154.7 170.9 155.3 171.0 155.9 171.2 156.5 171.1 157.1 171.6 157.7 172.7 158.3 173.0 158.9 172.2 159.5 172.1 160.1 173.0 160.7 173.6 161.3 173.5 161.9 173.4 162.5 173.6 163.1 173.8 163.7 174.2 164.3 174.5 164.9 174.2 165.5 173.9 166.1 174.0 166.7 174.4 167.3 174.7 167.9 174.6 168.5 174.6 169.1 174.8 169.7 174.8 170.3 174.7 170.9 174.6 171.5 174.5 172.1 174.7 172.7 175.3 173.3 175.8 173.9 175.6 174.5 175.4 175.1 175.4 175.7 175.1 176.3 175.1 176.9 175.1 177.5 175.0 178.1 174.9 178.7 175.5 179.3 175.9 179.9 175.7 180.5 175.3 181.1 174.5 181.7 174.5 182.3 175.0 182.9 174.7 183.5 174.7 184.1 175.1 184.7 174.3 185.3 173.9 185.9 173.1 186.5 172.9 187.1 173.3 187.7 172.9 188.3 172.8 188.9 172.0 189.5 171.6 190.1 172.3 190.7 172.2 191.3 170.0 191.9 171.4 192.5 170.8 193.1 171.0 193.7 170.0 194.3 169.5 194.9 169.4 195.5 168.1 196.1 168.8 196.7 168.2 197.3 169.9 197.9 169.2 198.5 168.4 199.1 168.4 199.7 166.9 200.3 167.6 200.9 167.6 201.5 166.2 202.1 166.4 202.7 164.6 203.3 164.7 203.9 165.2 204.5 163.0 205.1 163.6 205.7 164.5 206.3 164.9 206.9 164.5 207.5 163.3 208.1 164.2 208.7 162.0 209.3 162.3 209.9 160.9 210.5 162.0 211.1 161.2 211.7 159.6 212.3 163.9 212.9 163.9 213.5 159.7 214.1 159.5 214.7 161.6 215.3 161.2 215.9 163.1 216.5 163.3 217.1 161.6 217.7 163.6 218.3 162.7 218.9 161.7 219.5 161.8 220.1 163.5 220.7 161.6 221.3 164.0 221.9 164.2 222.5 163.9 223.1 163.2 223.7 162.4 224.3 163.9 224.9 164.0 225.5 164.8 226.1 164.4 226.7 161.7 227.3 164.2 227.9 164.3 228.5 165.4 229.1 166.5 229.7 166.1 230.3 165.3 230.9 165.0 231.5 166.2 232.1 165.1 232.7 165.5 233.3 167.0 233.9 166.0 234.5 166.5 235.1 167.3 235.7 165.6 236.3 165.7 236.9 168.1 237.5 169.2 238.1 168.9 238.7 168.2 239.3 167.8 239.9 166.6 240.5 169.4 241.1 169.8 241.7 169.7 242.3 168.3 242.9 168.9 243.5 169.7 244.1 169.4 244.7 169.1 245.3 169.7 245.9 170.4 246.5 171.8 247.1 171.0 247.7 171.7 248.3 172.5 248.9 172.9 249.5 172.9 250.1 172.9 250.7 172.5 251.3 172.8 251.9 173.2 252.5 172.3 253.1 173.1 253.7 173.3 254.3 173.4 254.9 173.6 255.5 173.6 256.1 173.8 256.7 172.7 257.3 174.9 257.9 175.9 258.5 176.1 259.1 176.0 259.7 176.4 260.3 175.8 260.9 175.2 261.5 175.6 262.1 175.6 262.7 176.0 263.3 175.6 263.9 176.1 264.5 176.0 265.1 175.9 265.7 176.4 266.3 176.2 266.9 176.3 267.5 176.4 268.1 176.5 268.7 177.0 269.3 177.3 269.9 177.0 270.5 177.1 271.1 177.5 271.7 177.8 272.3 177.7 272.9 177.8 273.5 178.0 274.1 178.0 274.7 177.9 275.3 178.0 275.9 178.3 276.5 178.9 277.1 178.6 277.1 179.0 276.5 178.9 275.9 178.8 275.3 178.8 274.7 178.8 274.1 178.9 273.5 178.9 272.9 178.8 272.3 178.5 271.7 178.4 271.1 178.6 270.5 178.7 269.9 178.7 269.3 178.6 268.7 178.4 268.1 178.3 267.5 178.2 266.9 178.3 266.3 178.4 265.7 178.3 265.1 178.1 264.5 178.0 263.9 178.0 263.3 178.0 262.7 177.9 262.1 177.9 261.5 178.0 260.9 178.0 260.3 178.0 259.7 177.9 259.1 177.8 258.5 177.8 257.9 177.8 257.3 177.7 256.7 177.7 256.1 177.6 255.5 177.7 254.9 177.8 254.3 177.6 253.7 177.4 253.1 177.5 252.5 177.4 251.9 177.3 251.3 177.2 250.7 177.4 250.1 177.6 249.5 177.2 248.9 176.9 248.3 177.2 247.7 177.4 247.1 177.3 246.5 177.2 245.9 177.2 245.3 177.2 244.7 177.1 244.1 177.0 243.5 177.2 242.9 177.1 242.3 176.9 241.7 176.7 241.1 176.6 240.5 176.6 239.9 176.7 239.3 176.6 238.7 176.6 238.1 176.7 237.5 176.6 236.9 176.3 236.3 176.2 235.7 176.3 235.1 176.4 234.5 176.4 233.9 176.4 233.3 176.2 232.7 176.2 232.1 176.1 231.5 175.8 230.9 175.8 230.3 175.7 229.7 175.7 229.1 176.0 228.5 176.1 227.9 175.9 227.3 175.7 226.7 175.6 226.1 175.7 225.5 176.0 224.9 175.8 224.3 175.4 223.7 175.3 223.1 175.2 222.5 175.0 221.9 175.0 221.3 175.3 220.7 175.4 220.1 175.5 219.5 175.5 218.9 175.5 218.3 175.6 217.7 175.5 217.1 175.4 216.5 175.3 215.9 175.2 215.3 175.3 214.7 175.3 214.1 175.3 213.5 175.1 212.9 174.9 212.3 174.7 211.7 174.6 211.1 174.7 210.5 174.9 209.9 174.9 209.3 175.2 208.7 175.5 208.1 175.3 207.5 175.1 206.9 175.1 206.3 175.3 205.7 175.3 205.1 175.3 204.5 175.3 203.9 175.5 203.3 175.5 202.7 175.5 202.1 175.6 201.5 175.8 200.9 176.1 200.3 176.1 199.7 176.0 199.1 175.9 198.5 175.9 197.9 176.3 197.3 176.4 196.7 176.4 196.1 176.4 195.5 176.3 194.9 176.3 194.3 176.4 193.7 176.4 193.1 176.5 192.5 176.6 191.9 176.8 191.3 177.1 190.7 177.2 190.1 177.3 189.5 177.2 188.9 177.1 188.3 177.4 187.7 177.6 187.1 177.6 186.5 177.6 185.9 177.7 185.3 177.7 184.7 177.9 184.1 178.0 183.5 177.9 182.9 177.9 182.3 178.0 181.7 178.0 181.1 177.9 180.5 177.8 179.9 177.9 179.3 178.0 178.7 177.8 178.1 177.8 177.5 178.0 176.9 178.1 176.3 178.2 175.7 178.1 175.1 178.0 174.5 177.9 173.9 177.9 173.3 177.9 172.7 178.0 172.1 178.2 171.5 178.0 170.9 177.8 170.3 177.7 169.7 177.7 169.1 177.7 168.5 177.9 167.9 177.9 167.3 177.7 166.7 177.5 166.1 177.6 165.5 177.6 164.9 177.5 164.3 177.3 163.7 177.4 163.1 177.5 162.5 177.5 161.9 177.5 161.3 177.5 160.7 177.5 160.1 177.3 159.5 177.4 158.9 177.5 158.3 177.2 157.7 176.8 157.1 176.6 156.5 176.9 155.9 177.1 155.3 177.0 154.7 177.1 154.1 177.3 153.5 177.1 152.9 177.0 152.3 177.1 151.7 177.0 151.1 176.8 150.5 176.8 149.9 176.7 149.3 176.4 148.7 176.4 148.1 176.4 147.5 176.1 146.9 175.6 146.3 175.2 145.7 174.9 145.1 174.7 144.5 174.5 143.9 174.0 143.3 173.5 142.7 173.4 142.1 173.9 141.5 174.0 140.9 173.5 140.3 173.2 139.7 172.8 139.1 171.8 138.5 171.1 137.9 170.5 137.3 169.4 136.7 168.4 136.1 167.8 135.5 167.3 134.9 166.5 134.3 165.7 133.7 164.9 133.1 163.1 132.5 160.9 131.9 158.5 131.3 155.8 130.7 153.9 130.1 152.4 129.5 150.7 128.9 149.0 128.3 147.9 127.7 140.7 127.1 130.1 126.5 122.9 125.9 122.4 125.3 120.4 124.7 118.6 124.1 117.6 123.5 116.5 122.9 114.0 122.3 110.4 121.7 107.5 121.1 103.8 120.5 97.6 119.9 90.1 119.3 86.6 118.7 87.2 118.1 89.5 117.5 94.2 116.9 97.8 116.3 105.1 115.7 114.7 115.1 120.2 114.5 125.3 113.9 131.0 113.3 135.8 112.7 140.7 112.1 143.8 111.5 147.1 110.9 149.1 110.3 151.0 109.7 153.2 109.1 155.0 108.5 156.1 107.9 158.1 107.3 160.3 106.7 161.2 106.1 161.5 105.5 162.7 104.9 164.4 104.3 166.1 103.7 167.4 103.1 168.0 102.5 169.4 101.9 170.6 101.3 170.7 100.7 171.2 100.1 171.9 99.5 172.3 98.9 172.8 98.3 173.4 97.7 173.8 97.1 174.5 96.5 175.3 95.9 175.8 95.3 176.4 94.7 177.0 94.1 176.9 93.5 176.9 92.9 177.0 92.3 177.2 91.7 177.3 91.1 177.2 90.5 177.2 89.9 177.2 89.3 177.2 88.7 177.3 88.1 177.5 87.5 177.6 86.9 177.6 86.3 177.6 85.7 177.8 85.1 177.9 84.5 177.9 83.9 177.9 83.3 178.0 82.7 177.9 82.1 178.0 81.5 178.3 80.9 178.4 80.3 178.4 79.7 178.4 79.1 178.6 78.5 178.6 77.9 178.5 77.3 178.4 76.7 178.5 76.1 178.7 75.5 178.7 74.9 178.5 74.3 178.6 73.7 178.8 73.1 178.9 72.5 178.9 71.9 178.8 71.3 178.8 70.7 178.8 70.1 178.8 69.5 178.8 68.9 178.8 68.3 178.9 67.7 178.8 67.1 178.8 66.5 178.7 65.9 178.8 65.3 178.9 64.7 178.9 64.1 178.9 63.5 178.9 62.9 178.9 62.3 178.8 61.7 179.0 61.1 179.0 60.5 179.0 59.9 179.0 59.3 179.0 58.7 179.0 58.1 179.0 57.5 179.0 56.9 179.0 56.3 179.0Z" fill="#00BFC4" fill-opacity="0.5"/><path d="M56.3 179.0 56.9 178.9 57.5 178.8 58.1 178.8 58.7 178.8 59.3 178.7 59.9 178.8 60.5 178.8 61.1 178.7 61.7 178.7 62.3 178.7 62.9 178.6 63.5 178.5 64.1 178.5 64.7 178.5 65.3 178.4 65.9 178.3 66.5 178.2 67.1 178.3 67.7 178.3 68.3 178.3 68.9 178.3 69.5 178.2 70.1 178.1 70.7 178.0 71.3 177.9 71.9 177.9 72.5 177.9 73.1 177.8 73.7 177.7 74.3 177.6 74.9 177.6 75.5 177.6 76.1 177.5 76.7 177.4 77.3 177.3 77.9 177.2 78.5 177.1 79.1 177.1 79.7 177.0 80.3 177.0 80.9 177.0 81.5 176.9 82.1 176.7 82.7 176.6 83.3 176.4 83.9 176.3 84.5 176.3 85.1 176.2 85.7 176.1 86.3 175.9 86.9 175.9 87.5 175.9 88.1 175.8 88.7 175.6 89.3 175.4 89.9 174.9 90.5 173.6 91.1 172.5 91.7 171.5 92.3 170.3 92.9 171.5 93.5 172.7 94.1 174.0 94.7 175.1 95.3 173.7 95.9 171.6 96.5 169.9 97.1 168.2 97.7 166.1 98.3 165.2 98.9 164.0 99.5 163.1 100.1 162.9 100.7 162.6 101.3 159.4 101.9 155.9 102.5 152.8 103.1 150.9 103.7 149.2 104.3 147.5 104.9 146.4 105.5 145.4 106.1 143.8 106.7 142.0 107.3 140.7 107.9 139.7 108.5 138.4 109.1 137.4 109.7 136.2 110.3 134.7 110.9 134.0 111.5 133.5 112.1 131.1 112.7 127.8 113.3 124.3 113.9 121.3 114.5 117.1 115.1 112.0 115.7 107.0 116.3 102.4 116.9 96.4 117.5 84.8 118.1 73.0 118.7 70.1 119.3 71.4 119.9 72.0 120.5 75.1 121.1 80.7 121.7 85.4 122.3 86.5 122.9 87.9 123.5 88.7 124.1 91.2 124.7 94.3 125.3 99.3 125.9 102.7 126.5 106.9 127.1 112.9 127.7 117.1 128.3 120.2 128.9 124.1 129.5 128.8 130.1 133.2 130.7 136.9 131.3 139.9 131.9 143.4 132.5 147.4 133.1 148.4 133.7 149.0 134.3 150.3 134.9 151.7 135.5 153.0 136.1 154.1 136.7 154.9 137.3 155.7 137.9 156.9 138.5 158.1 139.1 159.0 139.7 159.7 140.3 160.4 140.9 161.4 141.5 162.5 142.1 163.8 142.7 164.8 143.3 165.4 143.9 166.2 144.5 166.8 145.1 167.5 145.7 167.8 146.3 168.0 146.9 168.6 147.5 169.2 148.1 169.6 148.7 170.0 149.3 170.4 149.9 170.8 150.5 171.5 151.1 172.2 151.7 172.6 152.3 172.8 152.9 172.9 153.5 173.0 154.1 173.3 154.7 173.5 155.3 173.7 155.9 173.8 156.5 174.0 157.1 174.2 157.7 174.5 158.3 174.6 158.9 174.7 159.5 174.8 160.1 174.9 160.7 175.2 161.3 175.4 161.9 175.7 162.5 175.9 163.1 176.0 163.7 176.0 164.3 176.1 164.9 176.1 165.5 176.2 166.1 176.3 166.7 176.4 167.3 176.4 167.9 176.4 168.5 176.5 169.1 176.6 169.7 176.6 170.3 176.5 170.9 176.5 171.5 176.6 172.1 176.7 172.7 176.8 173.3 176.8 173.9 176.8 174.5 176.9 175.1 176.9 175.7 176.8 176.3 176.9 176.9 177.0 177.5 177.0 178.1 177.0 178.7 176.9 179.3 176.8 179.9 176.8 180.5 176.8 181.1 176.7 181.7 176.7 182.3 176.8 182.9 176.9 183.5 176.8 184.1 176.7 184.7 176.7 185.3 176.6 185.9 176.5 186.5 176.3 187.1 176.3 187.7 176.3 188.3 176.2 188.9 176.1 189.5 175.9 190.1 175.7 190.7 175.7 191.3 175.7 191.9 175.6 192.5 175.4 193.1 175.3 193.7 175.1 194.3 175.1 194.9 175.0 195.5 174.8 196.1 174.5 196.7 174.4 197.3 174.4 197.9 174.3 198.5 174.0 199.1 174.0 199.7 173.9 200.3 173.6 200.9 173.4 201.5 173.3 202.1 173.2 202.7 173.0 203.3 172.9 203.9 172.9 204.5 172.6 205.1 172.4 205.7 172.2 206.3 171.9 206.9 171.7 207.5 171.5 208.1 171.3 208.7 171.2 209.3 171.1 209.9 171.0 210.5 170.8 211.1 170.8 211.7 170.8 212.3 170.8 212.9 170.9 213.5 171.0 214.1 171.1 214.7 171.1 215.3 171.0 215.9 171.0 216.5 171.0 217.1 171.2 217.7 171.2 218.3 171.2 218.9 171.4 219.5 171.6 220.1 171.5 220.7 171.5 221.3 171.6 221.9 171.6 222.5 171.6 223.1 171.7 223.7 171.8 224.3 172.1 224.9 172.3 225.5 172.2 226.1 172.2 226.7 172.4 227.3 172.5 227.9 172.6 228.5 172.9 229.1 173.1 229.7 173.0 230.3 173.1 230.9 173.4 231.5 173.5 232.1 173.5 232.7 173.5 233.3 173.6 233.9 173.7 234.5 173.8 235.1 174.0 235.7 174.1 236.3 174.0 236.9 174.0 237.5 174.1 238.1 174.4 238.7 174.5 239.3 174.5 239.9 174.6 240.5 175.0 241.1 175.0 241.7 174.8 242.3 174.9 242.9 175.1 243.5 175.2 244.1 175.2 244.7 175.3 245.3 175.4 245.9 175.5 246.5 175.7 247.1 175.9 247.7 176.0 248.3 176.0 248.9 176.1 249.5 176.1 250.1 176.3 250.7 176.5 251.3 176.4 251.9 176.3 252.5 176.4 253.1 176.5 253.7 176.6 254.3 176.6 254.9 176.7 255.5 176.7 256.1 176.7 256.7 176.8 257.3 176.9 257.9 177.0 258.5 177.1 259.1 177.3 259.7 177.3 260.3 177.2 260.9 177.3 261.5 177.4 262.1 177.5 262.7 177.5 263.3 177.6 263.9 177.6 264.5 177.6 265.1 177.6 265.7 177.6 266.3 177.7 266.9 177.7 267.5 177.6 268.1 177.8 268.7 177.9 269.3 177.9 269.9 178.0 270.5 178.1 271.1 178.1 271.7 178.2 272.3 178.2 272.9 178.3 273.5 178.3 274.1 178.3 274.7 178.3 275.3 178.3 275.9 178.4 276.5 178.6 277.1 178.6" fill="none" stroke="#1b4848" stroke-opacity="0.85" stroke-width="1.05"/><path d="M56.3 179.0 56.9 178.9 57.5 178.9 58.1 179.0 58.7 179.0 59.3 178.8 59.9 178.7 60.5 178.7 61.1 178.6 61.7 178.6 62.3 178.5 62.9 178.5 63.5 178.5 64.1 178.4 64.7 178.4 65.3 178.4 65.9 178.4 66.5 178.3 67.1 178.2 67.7 178.2 68.3 178.1 68.9 178.1 69.5 178.2 70.1 178.1 70.7 178.0 71.3 178.0 71.9 177.9 72.5 177.8 73.1 177.8 73.7 177.8 74.3 177.8 74.9 177.8 75.5 177.6 76.1 177.5 76.7 177.5 77.3 177.5 77.9 177.6 78.5 177.5 79.1 177.4 79.7 177.2 80.3 177.1 80.9 177.2 81.5 177.1 82.1 176.9 82.7 176.8 83.3 176.7 83.9 176.5 84.5 176.5 85.1 176.4 85.7 176.3 86.3 176.0 86.9 175.9 87.5 175.8 88.1 175.7 88.7 175.5 89.3 175.2 89.9 174.9 90.5 174.1 91.1 173.1 91.7 172.0 92.3 171.2 92.9 172.2 93.5 173.0 94.1 173.8 94.7 174.7 95.3 173.5 95.9 171.7 96.5 170.1 97.1 168.4 97.7 166.3 98.3 165.1 98.9 164.1 99.5 163.0 100.1 162.0 100.7 161.5 101.3 158.9 101.9 156.2 102.5 153.5 103.1 151.2 103.7 149.6 104.3 148.0 104.9 146.8 105.5 145.9 106.1 144.2 106.7 142.1 107.3 140.3 107.9 138.8 108.5 137.3 109.1 135.9 109.7 134.9 110.3 133.9 110.9 133.1 111.5 132.2 112.1 128.7 112.7 124.8 113.3 122.1 113.9 119.0 114.5 114.2 115.1 110.5 115.7 107.1 116.3 102.8 116.9 95.4 117.5 83.8 118.1 75.9 118.7 75.4 119.3 74.5 119.9 74.2 120.5 78.2 121.1 83.2 121.7 87.3 122.3 87.2 122.9 87.1 123.5 89.6 124.1 92.1 124.7 92.7 125.3 97.3 125.9 102.4 126.5 108.1 127.1 113.2 127.7 117.3 128.3 121.4 128.9 125.0 129.5 128.6 130.1 132.2 130.7 135.8 131.3 139.4 131.9 143.0 132.5 146.3 133.1 147.5 133.7 148.8 134.3 150.0 134.9 151.1 135.5 152.4 136.1 153.8 136.7 155.1 137.3 156.4 137.9 157.8 138.5 158.6 139.1 159.6 139.7 160.6 140.3 161.2 140.9 162.4 141.5 163.6 142.1 164.1 142.7 164.6 143.3 165.4 143.9 166.3 144.5 166.8 145.1 167.2 145.7 167.8 146.3 168.4 146.9 168.6 147.5 168.9 148.1 169.3 148.7 169.8 149.3 170.4 149.9 170.9 150.5 171.4 151.1 172.0 151.7 172.5 152.3 172.7 152.9 173.0 153.5 173.2 154.1 173.3 154.7 173.4 155.3 173.5 155.9 173.7 156.5 174.0 157.1 174.2 157.7 174.4 158.3 174.5 158.9 174.5 159.5 174.8 160.1 175.0 160.7 175.2 161.3 175.4 161.9 175.6 162.5 175.8 163.1 175.9 163.7 175.9 164.3 175.9 164.9 175.9 165.5 176.0 166.1 176.2 166.7 176.2 167.3 176.1 167.9 176.2 168.5 176.4 169.1 176.4 169.7 176.3 170.3 176.3 170.9 176.3 171.5 176.3 172.1 176.4 172.7 176.5 173.3 176.7 173.9 176.9 174.5 176.9 175.1 176.7 175.7 176.6 176.3 176.6 176.9 176.6 177.5 176.6 178.1 176.5 178.7 176.4 179.3 176.4 179.9 176.5 180.5 176.4 181.1 176.3 181.7 176.4 182.3 176.4 182.9 176.3 183.5 176.3 184.1 176.3 184.7 176.3 185.3 176.2 185.9 175.9 186.5 175.7 187.1 175.5 187.7 175.3 188.3 175.4 188.9 175.4 189.5 175.3 190.1 175.2 190.7 174.9 191.3 174.7 191.9 174.7 192.5 174.6 193.1 174.4 193.7 174.1 194.3 174.0 194.9 174.0 195.5 173.9 196.1 173.6 196.7 173.3 197.3 173.2 197.9 173.0 198.5 172.7 199.1 172.6 199.7 172.5 200.3 172.3 200.9 172.2 201.5 171.9 202.1 171.7 202.7 171.5 203.3 171.4 203.9 171.4 204.5 171.3 205.1 171.0 205.7 170.9 206.3 170.7 206.9 170.4 207.5 170.2 208.1 170.4 208.7 170.6 209.3 170.3 209.9 169.9 210.5 169.5 211.1 169.5 211.7 169.6 212.3 169.7 212.9 170.0 213.5 170.2 214.1 170.1 214.7 169.9 215.3 169.8 215.9 169.9 216.5 170.0 217.1 170.2 217.7 170.2 218.3 170.0 218.9 169.9 219.5 170.0 220.1 170.0 220.7 170.0 221.3 170.1 221.9 170.2 222.5 170.1 223.1 170.2 223.7 170.5 224.3 170.5 224.9 170.6 225.5 170.7 226.1 170.8 226.7 170.8 227.3 171.2 227.9 171.4 228.5 171.3 229.1 171.3 229.7 171.4 230.3 171.6 230.9 171.8 231.5 172.0 232.1 172.2 232.7 172.3 233.3 172.3 233.9 172.5 234.5 172.6 235.1 172.6 235.7 172.7 236.3 172.8 236.9 172.8 237.5 172.9 238.1 173.2 238.7 173.5 239.3 173.5 239.9 173.5 240.5 173.7 241.1 173.8 241.7 174.0 242.3 174.1 242.9 174.1 243.5 174.2 244.1 174.4 244.7 174.4 245.3 174.4 245.9 174.5 246.5 174.7 247.1 174.8 247.7 175.0 248.3 175.0 248.9 175.0 249.5 175.1 250.1 175.3 250.7 175.5 251.3 175.7 251.9 175.8 252.5 175.8 253.1 175.9 253.7 175.9 254.3 176.0 254.9 176.1 255.5 176.1 256.1 176.2 256.7 176.3 257.3 176.3 257.9 176.4 258.5 176.6 259.1 176.7 259.7 176.7 260.3 176.8 260.9 177.0 261.5 177.0 262.1 177.0 262.7 177.1 263.3 177.2 263.9 177.2 264.5 177.1 265.1 177.2 265.7 177.4 266.3 177.5 266.9 177.5 267.5 177.6 268.1 177.7 268.7 177.7 269.3 177.7 269.9 177.8 270.5 177.9 271.1 178.0 271.7 178.0 272.3 178.0 272.9 178.0 273.5 178.0 274.1 178.2 274.7 178.4 275.3 178.4 275.9 178.4 276.5 178.4 277.1 178.5" fill="none" stroke="#1b4848" stroke-opacity="0.85" stroke-width="1.05" stroke-dasharray="2.5 2.3"/><path d="M118.06 24.5V186" stroke="#A0A0A0" stroke-width="1.1" stroke-dasharray="4.7 5.03"/><path d="M340.3 156.2H584.3" stroke="#EBEBEB" stroke-width="0.55"/><path d="M340.3 110.6H584.3" stroke="#EBEBEB" stroke-width="0.55"/><path d="M340.3 65H584.3" stroke="#EBEBEB" stroke-width="0.55"/><path d="M345.4 25V185.8" stroke="#EBEBEB" stroke-width="0.55"/><path d="M405.4 25V185.8" stroke="#EBEBEB" stroke-width="0.55"/><path d="M465.4 25V185.8" stroke="#EBEBEB" stroke-width="0.55"/><path d="M525.4 25V185.8" stroke="#EBEBEB" stroke-width="0.55"/><path d="M340.3 179H584.3" stroke="#EBEBEB" stroke-width="1.1"/><path d="M340.3 133.4H584.3" stroke="#EBEBEB" stroke-width="1.1"/><path d="M340.3 87.8H584.3" stroke="#EBEBEB" stroke-width="1.1"/><path d="M340.3 42.2H584.3" stroke="#EBEBEB" stroke-width="1.1"/><path d="M375.4 25V185.8" stroke="#EBEBEB" stroke-width="1.1"/><path d="M435.4 25V185.8" stroke="#EBEBEB" stroke-width="1.1"/><path d="M495.4 25V185.8" stroke="#EBEBEB" stroke-width="1.1"/><path d="M555.4 25V185.8" stroke="#EBEBEB" stroke-width="1.1"/><text x="341" y="15.5" font-size="15.36">Hypomethylated region</text><text x="335.8" y="182.6" font-size="10.24" text-anchor="end" fill="#4D4D4D">0.00</text><text x="335.8" y="137" font-size="10.24" text-anchor="end" fill="#4D4D4D">0.01</text><text x="335.8" y="91.4" font-size="10.24" text-anchor="end" fill="#4D4D4D">0.02</text><text x="335.8" y="45.8" font-size="10.24" text-anchor="end" fill="#4D4D4D">0.03</text><text x="375.4" y="199.8" font-size="10.24" text-anchor="middle" fill="#4D4D4D">100</text><text x="435.4" y="199.8" font-size="10.24" text-anchor="middle" fill="#4D4D4D">200</text><text x="495.4" y="199.8" font-size="10.24" text-anchor="middle" fill="#4D4D4D">300</text><text x="555.4" y="199.8" font-size="10.24" text-anchor="middle" fill="#4D4D4D">400</text><text x="462.3" y="214.3" font-size="12.7" text-anchor="middle">fragment size</text><text transform="translate(309.2 105.7) rotate(-90)" font-size="12.7" text-anchor="middle">density</text><path d="M352.6 178.5 353.2 178.6 353.8 179.0 354.4 179.0 355.0 179.0 355.6 178.7 356.2 178.7 356.8 178.6 357.4 178.5 358.0 178.6 358.6 178.5 359.2 177.9 359.8 177.5 360.4 177.4 361.0 177.7 361.6 178.0 362.2 178.1 362.8 178.0 363.4 177.7 364.0 177.8 364.6 177.9 365.2 177.3 365.8 176.8 366.4 176.9 367.0 177.0 367.6 176.5 368.2 175.7 368.8 175.3 369.4 175.2 370.0 174.5 370.6 173.5 371.2 173.2 371.8 173.9 372.4 174.2 373.0 174.2 373.6 174.4 374.2 174.0 374.8 173.0 375.4 172.1 376.0 172.2 376.6 172.4 377.2 171.6 377.8 171.6 378.4 171.9 379.0 171.4 379.6 170.8 380.2 170.4 380.8 170.3 381.4 170.0 382.0 168.2 382.6 165.7 383.2 164.3 383.8 163.7 384.4 162.9 385.0 163.0 385.6 162.7 386.2 161.1 386.8 160.1 387.4 157.9 388.0 154.1 388.6 152.0 389.2 153.3 389.8 155.6 390.4 154.5 391.0 154.6 391.6 154.1 392.2 151.6 392.8 147.9 393.4 141.2 394.0 135.6 394.6 133.5 395.2 133.1 395.8 132.5 396.4 132.2 397.0 133.7 397.6 131.9 398.2 129.6 398.8 129.4 399.4 126.5 400.0 120.0 400.6 116.1 401.2 113.7 401.8 111.2 402.4 111.8 403.0 108.5 403.6 104.9 404.2 106.7 404.8 113.1 405.4 116.9 406.0 114.0 406.6 111.1 407.2 111.8 407.8 107.3 408.4 101.7 409.0 98.0 409.6 92.5 410.2 87.1 410.8 85.6 411.4 77.4 412.0 60.8 412.6 56.9 413.2 58.6 413.8 48.6 414.4 32.5 415.0 33.5 415.6 45.2 416.2 57.4 416.8 60.5 417.4 59.4 418.0 63.5 418.6 70.8 419.2 75.0 419.8 76.3 420.4 78.3 421.0 82.6 421.6 83.5 422.2 86.1 422.8 94.0 423.4 100.3 424.0 103.2 424.6 108.7 425.2 114.3 425.8 121.3 426.4 126.7 427.0 127.6 427.6 128.5 428.2 131.0 428.8 133.7 429.4 137.3 430.0 139.8 430.6 139.4 431.2 138.9 431.8 142.3 432.4 146.2 433.0 147.9 433.6 150.1 434.2 151.4 434.8 152.2 435.4 155.2 436.0 158.2 436.6 158.9 437.2 159.1 437.8 159.3 438.4 159.9 439.0 161.1 439.6 161.5 440.2 162.1 440.8 163.0 441.4 163.3 442.0 164.3 442.6 165.4 443.2 166.0 443.8 167.1 444.4 167.7 445.0 167.8 445.6 168.6 446.2 169.6 446.8 169.9 447.4 169.7 448.0 169.9 448.6 170.6 449.2 171.0 449.8 171.4 450.4 171.3 451.0 170.6 451.6 171.6 452.2 172.5 452.8 172.3 453.4 172.7 454.0 172.8 454.6 172.9 455.2 173.6 455.8 174.1 456.4 174.3 457.0 174.6 457.6 175.1 458.2 175.1 458.8 174.4 459.4 173.9 460.0 173.8 460.6 173.7 461.2 174.2 461.8 174.9 462.4 175.4 463.0 175.9 463.6 176.0 464.2 175.7 464.8 175.2 465.4 175.2 466.0 175.6 466.6 176.1 467.2 176.3 467.8 176.0 468.4 175.7 469.0 175.8 469.6 175.8 470.2 175.4 470.8 175.5 471.4 176.2 472.0 176.4 472.6 176.3 473.2 176.1 473.8 175.9 474.4 175.6 475.0 175.3 475.6 175.0 476.2 175.1 476.8 175.4 477.4 175.5 478.0 175.7 478.6 175.4 479.2 174.9 479.8 174.8 480.4 174.7 481.0 174.9 481.6 174.9 482.2 174.6 482.8 174.7 483.4 174.8 484.0 174.8 484.6 174.7 485.2 174.5 485.8 174.0 486.4 173.3 487.0 173.0 487.6 173.3 488.2 174.0 488.8 173.4 489.4 172.6 490.0 172.3 490.6 171.8 491.2 171.6 491.8 171.8 492.4 170.9 493.0 169.8 493.6 170.2 494.2 170.6 494.8 170.5 495.4 170.5 496.0 170.5 496.6 169.3 497.2 167.5 497.8 167.3 498.4 167.5 499.0 166.9 499.6 166.6 500.2 166.5 500.8 166.1 501.4 166.4 502.0 166.6 502.6 167.1 503.2 168.4 503.8 168.2 504.4 167.3 505.0 167.4 505.6 167.3 506.2 167.2 506.8 166.1 507.4 164.4 508.0 164.9 508.6 165.7 509.2 165.5 509.8 165.7 510.4 165.7 511.0 165.3 511.6 165.7 512.2 166.6 512.8 166.4 513.4 166.5 514.0 166.9 514.6 166.5 515.2 166.2 515.8 165.6 516.4 165.5 517.0 165.9 517.6 166.0 518.2 166.6 518.8 167.6 519.4 167.5 520.0 167.1 520.6 167.0 521.2 166.8 521.8 167.1 522.4 167.1 523.0 165.9 523.6 165.7 524.2 167.2 524.8 167.9 525.4 167.5 526.0 166.8 526.6 167.2 527.2 168.8 527.8 169.6 528.4 169.9 529.0 170.3 529.6 170.2 530.2 169.7 530.8 169.4 531.4 168.6 532.0 169.0 532.6 170.4 533.2 171.0 533.8 170.5 534.4 170.1 535.0 171.1 535.6 171.9 536.2 171.4 536.8 171.3 537.4 171.3 538.0 171.0 538.6 171.3 539.2 172.0 539.8 172.6 540.4 172.8 541.0 173.3 541.6 173.9 542.2 173.9 542.8 174.0 543.4 174.2 544.0 173.8 544.6 173.2 545.2 173.1 545.8 173.4 546.4 173.8 547.0 175.0 547.6 175.5 548.2 174.8 548.8 174.3 549.4 174.3 550.0 174.3 550.6 174.7 551.2 175.3 551.8 174.9 552.4 174.6 553.0 175.6 553.6 176.3 554.2 176.1 554.8 175.8 555.4 175.9 556.0 176.1 556.6 176.5 557.2 176.7 557.8 176.0 558.4 175.4 559.0 175.9 559.6 176.7 560.2 177.1 560.8 177.5 561.4 177.1 562.0 176.9 562.6 177.2 563.2 177.0 563.8 176.9 564.4 176.9 565.0 177.1 565.6 177.6 566.2 178.1 566.8 178.2 567.4 177.9 568.0 177.7 568.6 177.6 569.2 177.6 569.8 178.1 570.4 178.2 571.0 178.2 571.6 178.2 572.2 178.3 572.8 178.4 573.4 178.3 573.4 179.0 572.8 179.0 572.2 179.0 571.6 178.8 571.0 178.9 570.4 179.0 569.8 178.8 569.2 178.7 568.6 178.9 568.0 178.9 567.4 178.7 566.8 178.7 566.2 178.7 565.6 178.7 565.0 178.6 564.4 178.6 563.8 178.6 563.2 178.6 562.6 178.5 562.0 178.6 561.4 178.5 560.8 178.3 560.2 178.2 559.6 178.3 559.0 178.3 558.4 178.2 557.8 178.3 557.2 178.4 556.6 178.3 556.0 178.0 555.4 178.0 554.8 178.2 554.2 178.2 553.6 178.1 553.0 178.1 552.4 178.1 551.8 178.2 551.2 178.0 550.6 177.9 550.0 178.0 549.4 178.0 548.8 177.9 548.2 178.0 547.6 177.8 547.0 177.7 546.4 177.6 545.8 177.5 545.2 177.4 544.6 177.5 544.0 177.4 543.4 177.4 542.8 177.5 542.2 177.5 541.6 177.6 541.0 177.7 540.4 177.6 539.8 177.4 539.2 177.3 538.6 177.5 538.0 177.4 537.4 177.2 536.8 177.0 536.2 177.1 535.6 177.2 535.0 177.1 534.4 177.0 533.8 177.2 533.2 177.2 532.6 177.0 532.0 176.9 531.4 176.9 530.8 177.0 530.2 177.1 529.6 177.0 529.0 176.9 528.4 176.8 527.8 176.6 527.2 176.7 526.6 176.6 526.0 176.7 525.4 177.1 524.8 177.0 524.2 176.6 523.6 176.8 523.0 176.9 522.4 176.8 521.8 177.0 521.2 177.0 520.6 176.7 520.0 176.6 519.4 176.7 518.8 176.8 518.2 176.7 517.6 176.7 517.0 176.7 516.4 176.6 515.8 176.8 515.2 177.0 514.6 176.7 514.0 176.5 513.4 176.7 512.8 176.7 512.2 176.7 511.6 176.7 511.0 176.7 510.4 176.6 509.8 176.6 509.2 176.7 508.6 176.8 508.0 176.7 507.4 176.6 506.8 176.8 506.2 176.8 505.6 176.8 505.0 177.0 504.4 177.0 503.8 176.7 503.2 176.6 502.6 176.8 502.0 177.0 501.4 177.1 500.8 177.0 500.2 177.1 499.6 177.2 499.0 176.9 498.4 176.9 497.8 177.1 497.2 177.1 496.6 177.0 496.0 177.0 495.4 177.2 494.8 177.3 494.2 177.4 493.6 177.5 493.0 177.3 492.4 177.0 491.8 176.8 491.2 177.0 490.6 177.2 490.0 177.3 489.4 177.5 488.8 177.4 488.2 177.0 487.6 177.1 487.0 177.5 486.4 177.7 485.8 177.7 485.2 177.6 484.6 177.6 484.0 177.6 483.4 177.6 482.8 177.8 482.2 177.6 481.6 177.6 481.0 177.8 480.4 177.9 479.8 177.9 479.2 177.8 478.6 177.6 478.0 177.7 477.4 177.8 476.8 177.7 476.2 178.0 475.6 178.2 475.0 178.0 474.4 177.7 473.8 177.8 473.2 178.0 472.6 178.1 472.0 178.2 471.4 178.1 470.8 178.0 470.2 178.0 469.6 178.0 469.0 178.0 468.4 177.9 467.8 177.8 467.2 177.8 466.6 178.0 466.0 178.0 465.4 177.8 464.8 177.8 464.2 177.9 463.6 177.8 463.0 177.7 462.4 177.7 461.8 177.6 461.2 177.4 460.6 177.5 460.0 177.6 459.4 177.6 458.8 177.3 458.2 177.1 457.6 177.1 457.0 177.0 456.4 176.9 455.8 176.8 455.2 177.0 454.6 177.3 454.0 177.3 453.4 177.3 452.8 177.3 452.2 177.2 451.6 177.1 451.0 177.1 450.4 177.2 449.8 177.1 449.2 176.9 448.6 176.8 448.0 176.8 447.4 176.8 446.8 176.8 446.2 176.6 445.6 176.3 445.0 175.9 444.4 175.6 443.8 175.6 443.2 175.4 442.6 174.9 442.0 174.4 441.4 174.1 440.8 174.0 440.2 174.1 439.6 173.9 439.0 173.7 438.4 173.5 437.8 173.3 437.2 173.2 436.6 173.0 436.0 172.7 435.4 171.8 434.8 170.4 434.2 169.5 433.6 168.5 433.0 167.7 432.4 167.5 431.8 167.0 431.2 165.5 430.6 164.4 430.0 164.3 429.4 162.6 428.8 159.4 428.2 157.0 427.6 155.0 427.0 153.5 426.4 152.5 425.8 149.6 425.2 145.9 424.6 144.3 424.0 142.4 423.4 139.4 422.8 136.1 422.2 131.7 421.6 129.5 421.0 130.1 420.4 129.1 419.8 126.6 419.2 121.1 418.6 116.5 418.0 116.3 417.4 115.8 416.8 113.8 416.2 108.6 415.6 101.8 415.0 94.8 414.4 92.5 413.8 92.7 413.2 91.7 412.6 97.1 412.0 106.3 411.4 114.9 410.8 121.0 410.2 126.2 409.6 129.6 409.0 133.8 408.4 139.2 407.8 143.3 407.2 145.1 406.6 147.4 406.0 149.3 405.4 151.6 404.8 154.7 404.2 155.8 403.6 156.1 403.0 158.5 402.4 160.9 401.8 162.5 401.2 163.4 400.6 164.3 400.0 165.1 399.4 165.8 398.8 167.4 398.2 168.9 397.6 169.3 397.0 169.7 396.4 170.3 395.8 170.8 395.2 171.4 394.6 171.9 394.0 172.5 393.4 173.6 392.8 174.4 392.2 174.9 391.6 175.7 391.0 176.4 390.4 176.4 389.8 176.4 389.2 176.1 388.6 176.0 388.0 176.2 387.4 176.4 386.8 176.6 386.2 176.8 385.6 176.8 385.0 176.8 384.4 176.8 383.8 176.9 383.2 177.0 382.6 176.8 382.0 176.7 381.4 176.8 380.8 176.9 380.2 176.9 379.6 177.0 379.0 177.1 378.4 177.3 377.8 177.4 377.2 177.3 376.6 177.4 376.0 177.3 375.4 177.3 374.8 177.2 374.2 177.1 373.6 177.3 373.0 177.8 372.4 178.0 371.8 177.7 371.2 177.6 370.6 177.8 370.0 177.9 369.4 177.8 368.8 177.8 368.2 177.7 367.6 177.7 367.0 177.8 366.4 178.0 365.8 178.1 365.2 178.1 364.6 178.2 364.0 178.2 363.4 178.1 362.8 178.1 362.2 178.3 361.6 178.4 361.0 178.5 360.4 178.4 359.8 178.4 359.2 178.5 358.6 178.6 358.0 178.7 357.4 178.7 356.8 178.7 356.2 178.9 355.6 179.0 355.0 179.0 354.4 179.0 353.8 179.0 353.2 179.0 352.6 179.0Z" fill="#F8766D" fill-opacity="0.5"/><path d="M352.6 178.8 353.2 179.0 353.8 179.0 354.4 179.0 355.0 179.0 355.6 179.0 356.2 178.8 356.8 178.7 357.4 178.8 358.0 178.6 358.6 178.6 359.2 178.9 359.8 178.9 360.4 178.6 361.0 178.5 361.6 178.6 362.2 178.7 362.8 178.6 363.4 178.4 364.0 178.4 364.6 178.4 365.2 178.1 365.8 177.9 366.4 178.0 367.0 178.1 367.6 178.2 368.2 178.3 368.8 178.4 369.4 178.2 370.0 178.0 370.6 178.0 371.2 178.0 371.8 178.0 372.4 178.0 373.0 177.8 373.6 177.7 374.2 177.6 374.8 177.2 375.4 176.7 376.0 176.7 376.6 177.1 377.2 177.2 377.8 176.9 378.4 176.4 379.0 176.4 379.6 176.5 380.2 176.0 380.8 175.5 381.4 175.5 382.0 175.5 382.6 175.4 383.2 175.6 383.8 175.6 384.4 175.4 385.0 174.9 385.6 174.5 386.2 174.1 386.8 173.8 387.4 172.7 388.0 171.8 388.6 170.8 389.2 169.3 389.8 168.3 390.4 167.5 391.0 165.9 391.6 164.2 392.2 162.0 392.8 159.6 393.4 158.5 394.0 159.2 394.6 159.1 395.2 157.1 395.8 153.1 396.4 148.5 397.0 145.8 397.6 143.9 398.2 138.9 398.8 134.5 399.4 132.7 400.0 131.5 400.6 131.0 401.2 129.9 401.8 127.2 402.4 124.7 403.0 122.9 403.6 121.7 404.2 119.9 404.8 116.7 405.4 112.9 406.0 109.0 406.6 106.9 407.2 107.2 407.8 107.6 408.4 105.4 409.0 101.5 409.6 98.1 410.2 93.1 410.8 87.6 411.4 81.4 412.0 74.7 412.6 68.0 413.2 57.0 413.8 45.3 414.4 38.0 415.0 44.8 415.6 49.1 416.2 54.7 416.8 62.1 417.4 66.0 418.0 70.0 418.6 75.1 419.2 75.1 419.8 77.0 420.4 82.6 421.0 87.1 421.6 91.6 422.2 97.6 422.8 101.9 423.4 103.4 424.0 106.5 424.6 112.7 425.2 116.5 425.8 117.1 426.4 121.5 427.0 128.4 427.6 128.9 428.2 129.2 428.8 133.8 429.4 137.2 430.0 138.3 430.6 140.6 431.2 144.0 431.8 145.9 432.4 146.1 433.0 147.2 433.6 149.4 434.2 151.2 434.8 152.8 435.4 153.7 436.0 155.1 436.6 157.0 437.2 158.2 437.8 158.8 438.4 159.3 439.0 160.3 439.6 161.3 440.2 162.0 440.8 162.4 441.4 163.1 442.0 163.9 442.6 165.5 443.2 166.6 443.8 165.7 444.4 165.4 445.0 166.8 445.6 168.2 446.2 168.9 446.8 169.3 447.4 169.7 448.0 170.3 448.6 170.6 449.2 170.7 449.8 170.6 450.4 170.7 451.0 170.9 451.6 171.0 452.2 171.2 452.8 171.1 453.4 171.6 454.0 172.7 454.6 173.0 455.2 172.2 455.8 172.1 456.4 173.0 457.0 173.6 457.6 173.5 458.2 173.4 458.8 173.6 459.4 173.8 460.0 174.2 460.6 174.5 461.2 174.2 461.8 173.9 462.4 174.0 463.0 174.4 463.6 174.7 464.2 174.6 464.8 174.6 465.4 174.8 466.0 174.8 466.6 174.7 467.2 174.6 467.8 174.5 468.4 174.7 469.0 175.3 469.6 175.8 470.2 175.6 470.8 175.4 471.4 175.4 472.0 175.1 472.6 175.1 473.2 175.1 473.8 175.0 474.4 174.9 475.0 175.5 475.6 175.9 476.2 175.7 476.8 175.3 477.4 174.5 478.0 174.5 478.6 175.0 479.2 174.7 479.8 174.7 480.4 175.1 481.0 174.3 481.6 173.9 482.2 173.1 482.8 172.9 483.4 173.3 484.0 172.9 484.6 172.8 485.2 172.0 485.8 171.6 486.4 172.3 487.0 172.2 487.6 170.0 488.2 171.4 488.8 170.8 489.4 171.0 490.0 170.0 490.6 169.5 491.2 169.4 491.8 168.1 492.4 168.8 493.0 168.2 493.6 169.9 494.2 169.2 494.8 168.4 495.4 168.4 496.0 166.9 496.6 167.6 497.2 167.6 497.8 166.2 498.4 166.4 499.0 164.6 499.6 164.7 500.2 165.2 500.8 163.0 501.4 163.6 502.0 164.5 502.6 164.9 503.2 164.5 503.8 163.3 504.4 164.2 505.0 162.0 505.6 162.3 506.2 160.9 506.8 162.0 507.4 161.2 508.0 159.6 508.6 163.9 509.2 163.9 509.8 159.7 510.4 159.5 511.0 161.6 511.6 161.2 512.2 163.1 512.8 163.3 513.4 161.6 514.0 163.6 514.6 162.7 515.2 161.7 515.8 161.8 516.4 163.5 517.0 161.6 517.6 164.0 518.2 164.2 518.8 163.9 519.4 163.2 520.0 162.4 520.6 163.9 521.2 164.0 521.8 164.8 522.4 164.4 523.0 161.7 523.6 164.2 524.2 164.3 524.8 165.4 525.4 166.5 526.0 166.1 526.6 165.3 527.2 165.0 527.8 166.2 528.4 165.1 529.0 165.5 529.6 167.0 530.2 166.0 530.8 166.5 531.4 167.3 532.0 165.6 532.6 165.7 533.2 168.1 533.8 169.2 534.4 168.9 535.0 168.2 535.6 167.8 536.2 166.6 536.8 169.4 537.4 169.8 538.0 169.7 538.6 168.3 539.2 168.9 539.8 169.7 540.4 169.4 541.0 169.1 541.6 169.7 542.2 170.4 542.8 171.8 543.4 171.0 544.0 171.7 544.6 172.5 545.2 172.9 545.8 172.9 546.4 172.9 547.0 172.5 547.6 172.8 548.2 173.2 548.8 172.3 549.4 173.1 550.0 173.3 550.6 173.4 551.2 173.6 551.8 173.6 552.4 173.8 553.0 172.7 553.6 174.9 554.2 175.9 554.8 176.1 555.4 176.0 556.0 176.4 556.6 175.8 557.2 175.2 557.8 175.6 558.4 175.6 559.0 176.0 559.6 175.6 560.2 176.1 560.8 176.0 561.4 175.9 562.0 176.4 562.6 176.2 563.2 176.3 563.8 176.4 564.4 176.5 565.0 177.0 565.6 177.3 566.2 177.0 566.8 177.1 567.4 177.5 568.0 177.8 568.6 177.7 569.2 177.8 569.8 178.0 570.4 178.0 571.0 177.9 571.6 178.0 572.2 178.3 572.8 178.9 573.4 178.6 573.4 179.0 572.8 178.9 572.2 178.8 571.6 178.8 571.0 178.8 570.4 178.9 569.8 178.9 569.2 178.8 568.6 178.5 568.0 178.4 567.4 178.6 566.8 178.7 566.2 178.7 565.6 178.6 565.0 178.4 564.4 178.3 563.8 178.2 563.2 178.3 562.6 178.4 562.0 178.3 561.4 178.1 560.8 178.0 560.2 178.0 559.6 178.0 559.0 177.9 558.4 177.9 557.8 178.0 557.2 178.0 556.6 178.0 556.0 177.9 555.4 177.8 554.8 177.8 554.2 177.8 553.6 177.7 553.0 177.7 552.4 177.6 551.8 177.7 551.2 177.8 550.6 177.6 550.0 177.4 549.4 177.5 548.8 177.4 548.2 177.3 547.6 177.2 547.0 177.4 546.4 177.6 545.8 177.2 545.2 176.9 544.6 177.2 544.0 177.4 543.4 177.3 542.8 177.2 542.2 177.2 541.6 177.2 541.0 177.1 540.4 177.0 539.8 177.2 539.2 177.1 538.6 176.9 538.0 176.7 537.4 176.6 536.8 176.6 536.2 176.7 535.6 176.6 535.0 176.6 534.4 176.7 533.8 176.6 533.2 176.3 532.6 176.2 532.0 176.3 531.4 176.4 530.8 176.4 530.2 176.4 529.6 176.2 529.0 176.2 528.4 176.1 527.8 175.8 527.2 175.8 526.6 175.7 526.0 175.7 525.4 176.0 524.8 176.1 524.2 175.9 523.6 175.7 523.0 175.6 522.4 175.7 521.8 176.0 521.2 175.8 520.6 175.4 520.0 175.3 519.4 175.2 518.8 175.0 518.2 175.0 517.6 175.3 517.0 175.4 516.4 175.5 515.8 175.5 515.2 175.5 514.6 175.6 514.0 175.5 513.4 175.4 512.8 175.3 512.2 175.2 511.6 175.3 511.0 175.3 510.4 175.3 509.8 175.1 509.2 174.9 508.6 174.7 508.0 174.6 507.4 174.7 506.8 174.9 506.2 174.9 505.6 175.2 505.0 175.5 504.4 175.3 503.8 175.1 503.2 175.1 502.6 175.3 502.0 175.3 501.4 175.3 500.8 175.3 500.2 175.5 499.6 175.5 499.0 175.5 498.4 175.6 497.8 175.8 497.2 176.1 496.6 176.1 496.0 176.0 495.4 175.9 494.8 175.9 494.2 176.3 493.6 176.4 493.0 176.4 492.4 176.4 491.8 176.3 491.2 176.3 490.6 176.4 490.0 176.4 489.4 176.5 488.8 176.6 488.2 176.8 487.6 177.1 487.0 177.2 486.4 177.3 485.8 177.2 485.2 177.1 484.6 177.4 484.0 177.6 483.4 177.6 482.8 177.6 482.2 177.7 481.6 177.7 481.0 177.9 480.4 178.0 479.8 177.9 479.2 177.9 478.6 178.0 478.0 178.0 477.4 177.9 476.8 177.8 476.2 177.9 475.6 178.0 475.0 177.8 474.4 177.8 473.8 178.0 473.2 178.1 472.6 178.2 472.0 178.1 471.4 178.0 470.8 177.9 470.2 177.9 469.6 177.9 469.0 178.0 468.4 178.2 467.8 178.0 467.2 177.8 466.6 177.7 466.0 177.7 465.4 177.7 464.8 177.9 464.2 177.9 463.6 177.7 463.0 177.5 462.4 177.6 461.8 177.6 461.2 177.5 460.6 177.3 460.0 177.4 459.4 177.5 458.8 177.5 458.2 177.5 457.6 177.5 457.0 177.5 456.4 177.3 455.8 177.4 455.2 177.5 454.6 177.2 454.0 176.8 453.4 176.6 452.8 176.9 452.2 177.1 451.6 177.0 451.0 177.1 450.4 177.3 449.8 177.1 449.2 177.0 448.6 177.1 448.0 177.0 447.4 176.8 446.8 176.8 446.2 176.7 445.6 176.4 445.0 176.4 444.4 176.4 443.8 176.1 443.2 175.6 442.6 175.2 442.0 174.9 441.4 174.7 440.8 174.5 440.2 174.0 439.6 173.5 439.0 173.4 438.4 173.9 437.8 174.0 437.2 173.5 436.6 173.2 436.0 172.8 435.4 171.8 434.8 171.1 434.2 170.5 433.6 169.4 433.0 168.4 432.4 167.8 431.8 167.3 431.2 166.5 430.6 165.7 430.0 164.9 429.4 163.1 428.8 160.9 428.2 158.5 427.6 155.8 427.0 153.9 426.4 152.4 425.8 150.7 425.2 149.0 424.6 147.9 424.0 140.7 423.4 130.1 422.8 122.9 422.2 122.4 421.6 120.4 421.0 118.6 420.4 117.6 419.8 116.5 419.2 114.0 418.6 110.4 418.0 107.5 417.4 103.8 416.8 97.6 416.2 90.1 415.6 86.6 415.0 87.2 414.4 89.5 413.8 94.2 413.2 97.8 412.6 105.1 412.0 114.7 411.4 120.2 410.8 125.3 410.2 131.0 409.6 135.8 409.0 140.7 408.4 143.8 407.8 147.1 407.2 149.1 406.6 151.0 406.0 153.2 405.4 155.0 404.8 156.1 404.2 158.1 403.6 160.3 403.0 161.2 402.4 161.5 401.8 162.7 401.2 164.4 400.6 166.1 400.0 167.4 399.4 168.0 398.8 169.4 398.2 170.6 397.6 170.7 397.0 171.2 396.4 171.9 395.8 172.3 395.2 172.8 394.6 173.4 394.0 173.8 393.4 174.5 392.8 175.3 392.2 175.8 391.6 176.4 391.0 177.0 390.4 176.9 389.8 176.9 389.2 177.0 388.6 177.2 388.0 177.3 387.4 177.2 386.8 177.2 386.2 177.2 385.6 177.2 385.0 177.3 384.4 177.5 383.8 177.6 383.2 177.6 382.6 177.6 382.0 177.8 381.4 177.9 380.8 177.9 380.2 177.9 379.6 178.0 379.0 177.9 378.4 178.0 377.8 178.3 377.2 178.4 376.6 178.4 376.0 178.4 375.4 178.6 374.8 178.6 374.2 178.5 373.6 178.4 373.0 178.5 372.4 178.7 371.8 178.7 371.2 178.5 370.6 178.6 370.0 178.8 369.4 178.9 368.8 178.9 368.2 178.8 367.6 178.8 367.0 178.8 366.4 178.8 365.8 178.8 365.2 178.8 364.6 178.9 364.0 178.8 363.4 178.8 362.8 178.7 362.2 178.8 361.6 178.9 361.0 178.9 360.4 178.9 359.8 178.9 359.2 178.9 358.6 178.8 358.0 179.0 357.4 179.0 356.8 179.0 356.2 179.0 355.6 179.0 355.0 179.0 354.4 179.0 353.8 179.0 353.2 179.0 352.6 179.0Z" fill="#00BFC4" fill-opacity="0.5"/><path d="M352.6 179.0 353.2 178.9 353.8 178.8 354.4 178.8 355.0 178.8 355.6 178.7 356.2 178.8 356.8 178.8 357.4 178.7 358.0 178.7 358.6 178.7 359.2 178.6 359.8 178.5 360.4 178.5 361.0 178.5 361.6 178.4 362.2 178.3 362.8 178.2 363.4 178.3 364.0 178.3 364.6 178.3 365.2 178.3 365.8 178.2 366.4 178.1 367.0 178.0 367.6 177.9 368.2 177.9 368.8 177.9 369.4 177.8 370.0 177.7 370.6 177.6 371.2 177.6 371.8 177.6 372.4 177.5 373.0 177.4 373.6 177.3 374.2 177.2 374.8 177.1 375.4 177.1 376.0 177.0 376.6 177.0 377.2 177.0 377.8 176.9 378.4 176.7 379.0 176.6 379.6 176.4 380.2 176.3 380.8 176.3 381.4 176.2 382.0 176.1 382.6 175.9 383.2 175.9 383.8 175.9 384.4 175.8 385.0 175.6 385.6 175.4 386.2 174.9 386.8 173.6 387.4 172.5 388.0 171.5 388.6 170.3 389.2 171.5 389.8 172.7 390.4 174.0 391.0 175.1 391.6 173.7 392.2 171.6 392.8 169.9 393.4 168.2 394.0 166.1 394.6 165.2 395.2 164.0 395.8 163.1 396.4 162.9 397.0 162.6 397.6 159.4 398.2 155.9 398.8 152.8 399.4 150.9 400.0 149.2 400.6 147.5 401.2 146.4 401.8 145.4 402.4 143.8 403.0 142.0 403.6 140.7 404.2 139.7 404.8 138.4 405.4 137.4 406.0 136.2 406.6 134.7 407.2 134.0 407.8 133.5 408.4 131.1 409.0 127.8 409.6 124.3 410.2 121.3 410.8 117.1 411.4 112.0 412.0 107.0 412.6 102.4 413.2 96.4 413.8 84.8 414.4 73.0 415.0 70.1 415.6 71.4 416.2 72.0 416.8 75.1 417.4 80.7 418.0 85.4 418.6 86.5 419.2 87.9 419.8 88.7 420.4 91.2 421.0 94.3 421.6 99.3 422.2 102.7 422.8 106.9 423.4 112.9 424.0 117.1 424.6 120.2 425.2 124.1 425.8 128.8 426.4 133.2 427.0 136.9 427.6 139.9 428.2 143.4 428.8 147.4 429.4 148.4 430.0 149.0 430.6 150.3 431.2 151.7 431.8 153.0 432.4 154.1 433.0 154.9 433.6 155.7 434.2 156.9 434.8 158.1 435.4 159.0 436.0 159.7 436.6 160.4 437.2 161.4 437.8 162.5 438.4 163.8 439.0 164.8 439.6 165.4 440.2 166.2 440.8 166.8 441.4 167.5 442.0 167.8 442.6 168.0 443.2 168.6 443.8 169.2 444.4 169.6 445.0 170.0 445.6 170.4 446.2 170.8 446.8 171.5 447.4 172.2 448.0 172.6 448.6 172.8 449.2 172.9 449.8 173.0 450.4 173.3 451.0 173.5 451.6 173.7 452.2 173.8 452.8 174.0 453.4 174.2 454.0 174.5 454.6 174.6 455.2 174.7 455.8 174.8 456.4 174.9 457.0 175.2 457.6 175.4 458.2 175.7 458.8 175.9 459.4 176.0 460.0 176.0 460.6 176.1 461.2 176.1 461.8 176.2 462.4 176.3 463.0 176.4 463.6 176.4 464.2 176.4 464.8 176.5 465.4 176.6 466.0 176.6 466.6 176.5 467.2 176.5 467.8 176.6 468.4 176.7 469.0 176.8 469.6 176.8 470.2 176.8 470.8 176.9 471.4 176.9 472.0 176.8 472.6 176.9 473.2 177.0 473.8 177.0 474.4 177.0 475.0 176.9 475.6 176.8 476.2 176.8 476.8 176.8 477.4 176.7 478.0 176.7 478.6 176.8 479.2 176.9 479.8 176.8 480.4 176.7 481.0 176.7 481.6 176.6 482.2 176.5 482.8 176.3 483.4 176.3 484.0 176.3 484.6 176.2 485.2 176.1 485.8 175.9 486.4 175.7 487.0 175.7 487.6 175.7 488.2 175.6 488.8 175.4 489.4 175.3 490.0 175.1 490.6 175.1 491.2 175.0 491.8 174.8 492.4 174.5 493.0 174.4 493.6 174.4 494.2 174.3 494.8 174.0 495.4 174.0 496.0 173.9 496.6 173.6 497.2 173.4 497.8 173.3 498.4 173.2 499.0 173.0 499.6 172.9 500.2 172.9 500.8 172.6 501.4 172.4 502.0 172.2 502.6 171.9 503.2 171.7 503.8 171.5 504.4 171.3 505.0 171.2 505.6 171.1 506.2 171.0 506.8 170.8 507.4 170.8 508.0 170.8 508.6 170.8 509.2 170.9 509.8 171.0 510.4 171.1 511.0 171.1 511.6 171.0 512.2 171.0 512.8 171.0 513.4 171.2 514.0 171.2 514.6 171.2 515.2 171.4 515.8 171.6 516.4 171.5 517.0 171.5 517.6 171.6 518.2 171.6 518.8 171.6 519.4 171.7 520.0 171.8 520.6 172.1 521.2 172.3 521.8 172.2 522.4 172.2 523.0 172.4 523.6 172.5 524.2 172.6 524.8 172.9 525.4 173.1 526.0 173.0 526.6 173.1 527.2 173.4 527.8 173.5 528.4 173.5 529.0 173.5 529.6 173.6 530.2 173.7 530.8 173.8 531.4 174.0 532.0 174.1 532.6 174.0 533.2 174.0 533.8 174.1 534.4 174.4 535.0 174.5 535.6 174.5 536.2 174.6 536.8 175.0 537.4 175.0 538.0 174.8 538.6 174.9 539.2 175.1 539.8 175.2 540.4 175.2 541.0 175.3 541.6 175.4 542.2 175.5 542.8 175.7 543.4 175.9 544.0 176.0 544.6 176.0 545.2 176.1 545.8 176.1 546.4 176.3 547.0 176.5 547.6 176.4 548.2 176.3 548.8 176.4 549.4 176.5 550.0 176.6 550.6 176.6 551.2 176.7 551.8 176.7 552.4 176.7 553.0 176.8 553.6 176.9 554.2 177.0 554.8 177.1 555.4 177.3 556.0 177.3 556.6 177.2 557.2 177.3 557.8 177.4 558.4 177.5 559.0 177.5 559.6 177.6 560.2 177.6 560.8 177.6 561.4 177.6 562.0 177.6 562.6 177.7 563.2 177.7 563.8 177.6 564.4 177.8 565.0 177.9 565.6 177.9 566.2 178.0 566.8 178.1 567.4 178.1 568.0 178.2 568.6 178.2 569.2 178.3 569.8 178.3 570.4 178.3 571.0 178.3 571.6 178.3 572.2 178.4 572.8 178.6 573.4 178.6" fill="none" stroke="#1b4848" stroke-opacity="0.85" stroke-width="1.05"/><path d="M352.6 179.0 353.2 178.9 353.8 178.9 354.4 179.0 355.0 179.0 355.6 178.8 356.2 178.7 356.8 178.7 357.4 178.6 358.0 178.6 358.6 178.5 359.2 178.5 359.8 178.5 360.4 178.4 361.0 178.4 361.6 178.4 362.2 178.4 362.8 178.3 363.4 178.2 364.0 178.2 364.6 178.1 365.2 178.1 365.8 178.2 366.4 178.1 367.0 178.0 367.6 178.0 368.2 177.9 368.8 177.8 369.4 177.8 370.0 177.8 370.6 177.8 371.2 177.8 371.8 177.6 372.4 177.5 373.0 177.5 373.6 177.5 374.2 177.6 374.8 177.5 375.4 177.4 376.0 177.2 376.6 177.1 377.2 177.2 377.8 177.1 378.4 176.9 379.0 176.8 379.6 176.7 380.2 176.5 380.8 176.5 381.4 176.4 382.0 176.3 382.6 176.0 383.2 175.9 383.8 175.8 384.4 175.7 385.0 175.5 385.6 175.2 386.2 174.9 386.8 174.1 387.4 173.1 388.0 172.0 388.6 171.2 389.2 172.2 389.8 173.0 390.4 173.8 391.0 174.7 391.6 173.5 392.2 171.7 392.8 170.1 393.4 168.4 394.0 166.3 394.6 165.1 395.2 164.1 395.8 163.0 396.4 162.0 397.0 161.5 397.6 158.9 398.2 156.2 398.8 153.5 399.4 151.2 400.0 149.6 400.6 148.0 401.2 146.8 401.8 145.9 402.4 144.2 403.0 142.1 403.6 140.3 404.2 138.8 404.8 137.3 405.4 135.9 406.0 134.9 406.6 133.9 407.2 133.1 407.8 132.2 408.4 128.7 409.0 124.8 409.6 122.1 410.2 119.0 410.8 114.2 411.4 110.5 412.0 107.1 412.6 102.8 413.2 95.4 413.8 83.8 414.4 75.9 415.0 75.4 415.6 74.5 416.2 74.2 416.8 78.2 417.4 83.2 418.0 87.3 418.6 87.2 419.2 87.1 419.8 89.6 420.4 92.1 421.0 92.7 421.6 97.3 422.2 102.4 422.8 108.1 423.4 113.2 424.0 117.3 424.6 121.4 425.2 125.0 425.8 128.6 426.4 132.2 427.0 135.8 427.6 139.4 428.2 143.0 428.8 146.3 429.4 147.5 430.0 148.8 430.6 150.0 431.2 151.1 431.8 152.4 432.4 153.8 433.0 155.1 433.6 156.4 434.2 157.8 434.8 158.6 435.4 159.6 436.0 160.6 436.6 161.2 437.2 162.4 437.8 163.6 438.4 164.1 439.0 164.6 439.6 165.4 440.2 166.3 440.8 166.8 441.4 167.2 442.0 167.8 442.6 168.4 443.2 168.6 443.8 168.9 444.4 169.3 445.0 169.8 445.6 170.4 446.2 170.9 446.8 171.4 447.4 172.0 448.0 172.5 448.6 172.7 449.2 173.0 449.8 173.2 450.4 173.3 451.0 173.4 451.6 173.5 452.2 173.7 452.8 174.0 453.4 174.2 454.0 174.4 454.6 174.5 455.2 174.5 455.8 174.8 456.4 175.0 457.0 175.2 457.6 175.4 458.2 175.6 458.8 175.8 459.4 175.9 460.0 175.9 460.6 175.9 461.2 175.9 461.8 176.0 462.4 176.2 463.0 176.2 463.6 176.1 464.2 176.2 464.8 176.4 465.4 176.4 466.0 176.3 466.6 176.3 467.2 176.3 467.8 176.3 468.4 176.4 469.0 176.5 469.6 176.7 470.2 176.9 470.8 176.9 471.4 176.7 472.0 176.6 472.6 176.6 473.2 176.6 473.8 176.6 474.4 176.5 475.0 176.4 475.6 176.4 476.2 176.5 476.8 176.4 477.4 176.3 478.0 176.4 478.6 176.4 479.2 176.3 479.8 176.3 480.4 176.3 481.0 176.3 481.6 176.2 482.2 175.9 482.8 175.7 483.4 175.5 484.0 175.3 484.6 175.4 485.2 175.4 485.8 175.3 486.4 175.2 487.0 174.9 487.6 174.7 488.2 174.7 488.8 174.6 489.4 174.4 490.0 174.1 490.6 174.0 491.2 174.0 491.8 173.9 492.4 173.6 493.0 173.3 493.6 173.2 494.2 173.0 494.8 172.7 495.4 172.6 496.0 172.5 496.6 172.3 497.2 172.2 497.8 171.9 498.4 171.7 499.0 171.5 499.6 171.4 500.2 171.4 500.8 171.3 501.4 171.0 502.0 170.9 502.6 170.7 503.2 170.4 503.8 170.2 504.4 170.4 505.0 170.6 505.6 170.3 506.2 169.9 506.8 169.5 507.4 169.5 508.0 169.6 508.6 169.7 509.2 170.0 509.8 170.2 510.4 170.1 511.0 169.9 511.6 169.8 512.2 169.9 512.8 170.0 513.4 170.2 514.0 170.2 514.6 170.0 515.2 169.9 515.8 170.0 516.4 170.0 517.0 170.0 517.6 170.1 518.2 170.2 518.8 170.1 519.4 170.2 520.0 170.5 520.6 170.5 521.2 170.6 521.8 170.7 522.4 170.8 523.0 170.8 523.6 171.2 524.2 171.4 524.8 171.3 525.4 171.3 526.0 171.4 526.6 171.6 527.2 171.8 527.8 172.0 528.4 172.2 529.0 172.3 529.6 172.3 530.2 172.5 530.8 172.6 531.4 172.6 532.0 172.7 532.6 172.8 533.2 172.8 533.8 172.9 534.4 173.2 535.0 173.5 535.6 173.5 536.2 173.5 536.8 173.7 537.4 173.8 538.0 174.0 538.6 174.1 539.2 174.1 539.8 174.2 540.4 174.4 541.0 174.4 541.6 174.4 542.2 174.5 542.8 174.7 543.4 174.8 544.0 175.0 544.6 175.0 545.2 175.0 545.8 175.1 546.4 175.3 547.0 175.5 547.6 175.7 548.2 175.8 548.8 175.8 549.4 175.9 550.0 175.9 550.6 176.0 551.2 176.1 551.8 176.1 552.4 176.2 553.0 176.3 553.6 176.3 554.2 176.4 554.8 176.6 555.4 176.7 556.0 176.7 556.6 176.8 557.2 177.0 557.8 177.0 558.4 177.0 559.0 177.1 559.6 177.2 560.2 177.2 560.8 177.1 561.4 177.2 562.0 177.4 562.6 177.5 563.2 177.5 563.8 177.6 564.4 177.7 565.0 177.7 565.6 177.7 566.2 177.8 566.8 177.9 567.4 178.0 568.0 178.0 568.6 178.0 569.2 178.0 569.8 178.0 570.4 178.2 571.0 178.4 571.6 178.4 572.2 178.4 572.8 178.4 573.4 178.5" fill="none" stroke="#1b4848" stroke-opacity="0.85" stroke-width="1.05" stroke-dasharray="2.5 2.3"/><path d="M414.36 24.5V186" stroke="#A0A0A0" stroke-width="1.1" stroke-dasharray="4.7 5.03"/><text x="597.6" y="92.3" font-size="12.7">Group</text><rect x="598" y="101" width="18.6" height="18.1" fill="#F8766D" fill-opacity="0.5"/><rect x="598" y="121.1" width="18.6" height="18.3" fill="#00BFC4" fill-opacity="0.5"/><path d="M599.2 110.1H615.2" stroke="#8a3f3d" stroke-width="1.1"/><path d="M599.2 130.3H615.2" stroke="#1f6f6f" stroke-width="1.1" stroke-dasharray="2.4 2.3"/><text x="623.7" y="114.1" font-size="10.1">Lung_cancer</text><text x="623.7" y="134" font-size="10.1">Healthy</text><text x="6.5" y="307.7" font-size="30" font-weight="bold">b</text><path d="M44.5 441.46H288" stroke="#EBEBEB" stroke-width="0.55"/><path d="M44.5 408.39H288" stroke="#EBEBEB" stroke-width="0.55"/><path d="M44.5 375.32H288" stroke="#EBEBEB" stroke-width="0.55"/><path d="M44.5 342.25H288" stroke="#EBEBEB" stroke-width="0.55"/><path d="M44.5 309.19H288" stroke="#EBEBEB" stroke-width="0.55"/><path d="M84.97 303.6V465.5" stroke="#EBEBEB" stroke-width="0.55"/><path d="M139.72 303.6V465.5" stroke="#EBEBEB" stroke-width="0.55"/><path d="M194.47 303.6V465.5" stroke="#EBEBEB" stroke-width="0.55"/><path d="M249.22 303.6V465.5" stroke="#EBEBEB" stroke-width="0.55"/><path d="M44.5 458H288" stroke="#EBEBEB" stroke-width="1.1"/><path d="M44.5 424.93H288" stroke="#EBEBEB" stroke-width="1.1"/><path d="M44.5 391.86H288" stroke="#EBEBEB" stroke-width="1.1"/><path d="M44.5 358.79H288" stroke="#EBEBEB" stroke-width="1.1"/><path d="M44.5 325.72H288" stroke="#EBEBEB" stroke-width="1.1"/><path d="M57.6 303.6V465.5" stroke="#EBEBEB" stroke-width="1.1"/><path d="M112.35 303.6V465.5" stroke="#EBEBEB" stroke-width="1.1"/><path d="M167.1 303.6V465.5" stroke="#EBEBEB" stroke-width="1.1"/><path d="M221.85 303.6V465.5" stroke="#EBEBEB" stroke-width="1.1"/><path d="M276.6 303.6V465.5" stroke="#EBEBEB" stroke-width="1.1"/><text x="44" y="294.2" font-size="15.36">Hypermethylated region</text><text x="39.5" y="461.6" font-size="10.24" text-anchor="end" fill="#4D4D4D">0.00</text><text x="39.5" y="428.53" font-size="10.24" text-anchor="end" fill="#4D4D4D">0.05</text><text x="39.5" y="395.46" font-size="10.24" text-anchor="end" fill="#4D4D4D">0.10</text><text x="39.5" y="362.39" font-size="10.24" text-anchor="end" fill="#4D4D4D">0.15</text><text x="39.5" y="329.32" font-size="10.24" text-anchor="end" fill="#4D4D4D">0.20</text><text x="57.6" y="479.5" font-size="10.24" text-anchor="middle" fill="#4D4D4D">0.00</text><text x="112.35" y="479.5" font-size="10.24" text-anchor="middle" fill="#4D4D4D">0.25</text><text x="167.1" y="479.5" font-size="10.24" text-anchor="middle" fill="#4D4D4D">0.50</text><text x="221.85" y="479.5" font-size="10.24" text-anchor="middle" fill="#4D4D4D">0.75</text><text x="276.6" y="479.5" font-size="10.24" text-anchor="middle" fill="#4D4D4D">1.00</text><text x="166" y="494" font-size="12.7" text-anchor="middle">beta value</text><text transform="translate(12.9 384.7) rotate(-90)" font-size="12.7" text-anchor="middle">density</text><path d="M57.6 458.0 58.0 425.2 58.5 396.5 59.4 361.5 60.2 314.9 60.4 331.7 61.1 327.1 61.5 334.4 62.0 326.7 62.4 340.4 62.9 349.8 63.7 344.2 64.2 347.6 64.6 365.3 65.5 359.7 65.9 368.9 66.4 366.2 67.2 368.1 68.1 379.8 68.5 373.0 69.0 380.4 69.9 381.5 70.7 380.0 71.4 389.7 71.6 387.4 72.5 380.7 73.4 381.3 74.0 382.3 74.2 389.4 75.1 385.9 76.0 384.1 76.4 387.1 76.9 399.3 77.7 401.7 78.4 392.7 78.6 389.5 79.5 397.3 80.4 395.4 80.6 398.8 81.3 399.5 82.1 400.0 82.8 400.9 83.0 403.8 83.9 396.5 84.8 401.5 85.6 408.3 86.5 408.7 86.9 412.0 87.4 407.3 88.3 414.9 89.1 412.4 90.0 410.1 90.5 411.3 90.9 411.7 91.8 418.1 92.6 413.2 93.5 416.9 94.0 413.2 94.4 417.6 95.3 411.5 96.1 414.8 97.0 413.5 97.9 417.5 98.8 418.3 99.6 419.0 100.5 415.9 101.0 420.2 101.4 420.4 102.3 419.3 103.2 423.2 104.0 427.2 104.7 427.6 104.9 431.4 105.8 432.8 106.7 430.2 107.5 427.3 108.0 429.3 108.4 428.0 109.3 430.8 110.2 432.1 111.0 428.3 111.3 432.5 111.9 435.4 112.8 428.3 113.7 426.4 114.5 426.4 115.0 424.3 115.4 425.5 116.3 425.5 117.2 427.8 118.0 424.8 118.9 426.5 119.8 423.6 120.7 417.1 121.5 420.5 122.0 419.6 122.4 422.4 123.3 413.6 124.2 425.6 125.1 422.8 125.5 417.8 125.9 423.0 126.8 424.6 127.7 423.0 128.1 423.2 128.6 423.8 129.4 428.2 130.3 425.5 130.7 430.2 131.2 428.8 132.1 427.6 132.3 424.2 132.9 449.9 133.2 458.0 133.8 453.9 134.7 449.0 135.6 443.4 135.8 441.8 136.4 443.3 137.3 445.3 137.5 445.9 138.2 443.4 139.1 446.0 139.9 443.3 140.2 444.3 140.8 443.5 141.7 443.9 142.6 441.1 142.8 441.5 143.4 443.3 144.3 449.3 144.5 450.7 145.2 452.5 146.1 454.5 146.3 455.2 147.0 455.7 147.8 455.7 148.0 456.0 148.7 451.1 149.6 443.6 150.5 445.8 151.3 445.3 152.2 447.0 153.1 446.3 154.0 445.3 154.8 445.0 155.7 442.9 156.2 444.2 156.6 442.6 157.5 442.8 158.3 443.4 159.2 452.5 159.7 458.0 160.1 452.6 161.0 444.7 161.6 437.5 161.8 436.2 162.7 441.1 163.4 439.0 163.6 442.3 164.5 439.5 165.3 435.9 166.2 435.0 166.9 431.9 167.1 436.0 168.0 437.4 168.6 439.9 168.9 439.6 169.7 440.4 170.4 441.1 170.6 441.7 171.5 441.4 172.4 441.6 173.0 443.3 173.2 443.9 174.1 442.7 175.0 445.8 175.2 445.5 175.9 444.2 176.7 444.2 177.4 444.3 177.6 444.3 178.5 442.8 179.4 440.7 180.2 443.8 180.9 441.7 181.1 444.8 181.8 458.0 182.0 456.3 182.9 448.9 183.5 443.0 183.7 442.4 184.6 444.9 185.5 444.0 186.4 442.6 186.8 442.3 187.2 442.4 188.1 442.0 189.0 441.3 189.7 441.6 189.9 439.2 190.8 442.5 191.6 441.8 192.5 442.8 193.2 440.1 193.4 440.6 194.3 441.6 195.1 443.2 195.6 439.9 196.0 441.9 196.9 441.9 197.8 444.5 198.4 443.1 198.6 442.8 199.5 441.1 200.4 441.8 201.0 440.9 201.3 444.0 202.1 442.9 203.0 443.0 203.7 443.5 203.9 444.6 204.8 448.2 205.6 451.1 206.5 455.4 207.2 458.0 207.4 457.6 208.3 456.0 209.1 454.2 210.0 453.5 210.7 451.7 210.9 450.8 211.8 451.4 212.7 451.9 213.1 450.2 213.5 451.4 214.4 450.0 215.3 450.7 215.9 451.4 216.2 451.2 217.0 450.8 217.9 452.1 218.6 452.7 218.8 452.8 219.7 453.3 220.5 453.9 221.2 453.9 221.4 454.0 222.3 455.7 222.9 456.5 223.2 456.5 224.0 456.4 224.7 455.9 224.9 455.8 225.8 456.1 226.7 455.7 227.5 455.4 228.2 455.5 228.4 455.4 229.3 455.8 230.2 456.2 231.0 456.5 231.7 456.7 231.9 456.8 232.8 457.1 233.7 457.5 234.6 457.8 235.2 458.0 235.4 458.0 236.3 458.0 237.2 458.0 238.1 458.0 238.9 458.0 239.8 458.0 240.7 458.0 241.6 458.0 242.4 458.0 243.3 458.0 244.2 458.0 245.1 458.0 245.9 458.0 246.8 458.0 247.7 458.0 248.6 458.0 249.4 458.0 250.3 458.0 251.2 458.0 252.1 458.0 252.9 458.0 253.8 458.0 254.7 458.0 255.6 458.0 256.5 458.0 257.3 458.0 258.2 458.0 259.1 458.0 260.0 458.0 260.8 458.0 261.7 458.0 262.6 458.0 263.5 458.0 264.3 458.0 265.2 458.0 266.1 458.0 267.0 458.0 267.8 458.0 268.7 458.0 269.6 458.0 270.5 458.0 271.3 458.0 272.2 458.0 273.1 458.0 274.0 458.0 274.8 458.0 275.7 458.0 276.6 458.0 276.6 458.0 275.7 458.0 274.8 458.0 274.0 458.0 273.1 458.0 272.2 458.0 271.3 458.0 270.5 458.0 269.6 458.0 268.7 458.0 267.8 458.0 267.0 458.0 266.1 458.0 265.2 458.0 264.3 458.0 263.5 458.0 262.6 458.0 261.7 458.0 260.8 458.0 260.0 458.0 259.1 458.0 258.2 458.0 257.3 458.0 256.5 458.0 255.6 458.0 254.7 458.0 253.8 458.0 252.9 458.0 252.1 458.0 251.2 458.0 250.3 458.0 249.4 458.0 248.6 458.0 247.7 458.0 246.8 458.0 245.9 458.0 245.1 458.0 244.2 458.0 243.3 458.0 242.4 458.0 241.6 458.0 240.7 458.0 239.8 458.0 238.9 458.0 238.1 458.0 237.2 458.0 236.3 458.0 235.4 458.0 235.2 458.0 234.6 458.0 233.7 458.0 232.8 458.0 231.9 458.0 231.7 458.0 231.0 458.0 230.2 458.0 229.3 458.0 228.4 458.0 228.2 458.0 227.5 458.0 226.7 458.0 225.8 458.0 224.9 458.0 224.7 458.0 224.0 458.0 223.2 458.0 222.9 458.0 222.3 458.0 221.4 458.0 221.2 458.0 220.5 458.0 219.7 458.0 218.8 458.0 218.6 458.0 217.9 458.0 217.0 458.0 216.2 458.0 215.9 458.0 215.3 458.0 214.4 458.0 213.5 458.0 213.1 458.0 212.7 458.0 211.8 458.0 210.9 458.0 210.7 458.0 210.0 458.0 209.1 458.0 208.3 458.0 207.4 458.0 207.2 458.0 206.5 458.0 205.6 458.0 204.8 458.0 203.9 458.0 203.7 458.0 203.0 458.0 202.1 458.0 201.3 458.0 201.0 458.0 200.4 458.0 199.5 458.0 198.6 458.0 198.4 458.0 197.8 458.0 196.9 458.0 196.0 458.0 195.6 458.0 195.1 458.0 194.3 458.0 193.4 458.0 193.2 458.0 192.5 458.0 191.6 458.0 190.8 458.0 189.9 458.0 189.7 458.0 189.0 458.0 188.1 458.0 187.2 458.0 186.8 458.0 186.4 458.0 185.5 458.0 184.6 458.0 183.7 458.0 183.5 458.0 182.9 458.0 182.0 458.0 181.8 458.0 181.1 458.0 180.9 458.0 180.2 458.0 179.4 458.0 178.5 458.0 177.6 458.0 177.4 458.0 176.7 458.0 175.9 458.0 175.2 458.0 175.0 458.0 174.1 458.0 173.2 458.0 173.0 458.0 172.4 458.0 171.5 458.0 170.6 458.0 170.4 458.0 169.7 458.0 168.9 458.0 168.6 458.0 168.0 458.0 167.1 458.0 166.9 458.0 166.2 458.0 165.3 458.0 164.5 458.0 163.6 458.0 163.4 458.0 162.7 458.0 161.8 458.0 161.6 458.0 161.0 458.0 160.1 458.0 159.7 458.0 159.2 458.0 158.3 458.0 157.5 458.0 156.6 458.0 156.2 458.0 155.7 458.0 154.8 458.0 154.0 458.0 153.1 458.0 152.2 458.0 151.3 458.0 150.5 458.0 149.6 458.0 148.7 458.0 148.0 458.0 147.8 458.0 147.0 458.0 146.3 458.0 146.1 458.0 145.2 458.0 144.5 458.0 144.3 458.0 143.4 458.0 142.8 458.0 142.6 458.0 141.7 458.0 140.8 458.0 140.2 458.0 139.9 458.0 139.1 458.0 138.2 458.0 137.5 458.0 137.3 458.0 136.4 458.0 135.8 458.0 135.6 458.0 134.7 458.0 133.8 458.0 133.2 458.0 132.9 458.0 132.3 458.0 132.1 458.0 131.2 458.0 130.7 458.0 130.3 458.0 129.4 458.0 128.6 458.0 128.1 458.0 127.7 458.0 126.8 458.0 125.9 458.0 125.5 458.0 125.1 458.0 124.2 458.0 123.3 458.0 122.4 458.0 122.0 458.0 121.5 458.0 120.7 458.0 119.8 458.0 118.9 458.0 118.0 458.0 117.2 458.0 116.3 458.0 115.4 458.0 115.0 458.0 114.5 458.0 113.7 458.0 112.8 458.0 111.9 458.0 111.3 458.0 111.0 458.0 110.2 458.0 109.3 458.0 108.4 458.0 108.0 458.0 107.5 458.0 106.7 458.0 105.8 458.0 104.9 458.0 104.7 458.0 104.0 458.0 103.2 458.0 102.3 458.0 101.4 458.0 101.0 457.9 100.5 457.9 99.6 457.8 98.8 457.7 97.9 457.6 97.0 457.5 96.1 457.4 95.3 457.3 94.4 457.2 94.0 457.1 93.5 457.0 92.6 456.9 91.8 456.8 90.9 456.7 90.5 456.7 90.0 456.6 89.1 456.5 88.3 456.4 87.4 456.3 86.9 456.3 86.5 456.2 85.6 456.1 84.8 456.0 83.9 455.9 83.0 455.8 82.8 455.8 82.1 455.7 81.3 455.6 80.6 455.5 80.4 455.5 79.5 455.4 78.6 455.2 78.4 455.2 77.7 455.1 76.9 455.0 76.4 454.9 76.0 454.8 75.1 454.7 74.2 455.0 74.0 455.0 73.4 455.2 72.5 455.5 71.6 455.8 71.4 455.8 70.7 456.0 69.9 455.8 69.0 455.5 68.5 455.4 68.1 455.2 67.2 455.0 66.4 454.7 65.9 454.9 65.5 455.1 64.6 455.5 64.2 455.7 63.7 455.9 62.9 456.3 62.4 456.5 62.0 456.7 61.5 456.8 61.1 456.9 60.4 457.1 60.2 457.2 59.4 457.5 58.5 457.7 58.0 457.9 57.6 458.0Z" fill="#F8766D" fill-opacity="0.5"/><path d="M57.6 458.0 58.0 424.7 58.5 406.2 59.4 372.6 60.2 358.4 60.4 360.2 61.1 351.7 61.5 348.8 62.0 348.0 62.4 348.9 62.9 348.4 63.7 357.2 64.2 366.1 64.6 363.4 65.5 374.6 65.9 371.3 66.4 374.7 67.2 379.4 68.1 386.2 68.5 383.6 69.0 387.9 69.9 390.9 70.7 392.6 71.4 397.4 71.6 394.8 72.5 396.5 73.4 397.8 74.0 402.0 74.2 402.4 75.1 401.6 76.0 404.5 76.4 410.3 76.9 408.2 77.7 410.3 78.4 414.6 78.6 413.1 79.5 417.3 80.4 419.9 80.6 421.4 81.3 420.2 82.1 424.9 82.8 428.7 83.0 427.5 83.9 429.0 84.8 431.5 85.6 431.3 86.5 435.1 86.9 435.8 87.4 436.5 88.3 438.2 89.1 441.0 90.0 442.6 90.5 442.9 90.9 442.9 91.8 444.8 92.6 445.9 93.5 447.5 94.0 447.5 94.4 448.2 95.3 449.2 96.1 450.1 97.0 451.1 97.9 452.1 98.8 453.2 99.6 453.8 100.5 454.8 101.0 455.1 101.4 455.6 102.3 456.5 103.2 457.0 104.0 457.0 104.7 457.1 104.9 457.1 105.8 457.2 106.7 457.3 107.5 457.4 108.0 457.4 108.4 457.5 109.3 457.6 110.2 457.6 111.0 457.7 111.3 457.7 111.9 457.8 112.8 457.8 113.7 457.9 114.5 458.0 115.0 458.0 115.4 458.0 116.3 458.0 117.2 458.0 118.0 458.0 118.9 458.0 119.8 458.0 120.7 458.0 121.5 458.0 122.0 458.0 122.4 458.0 123.3 458.0 124.2 458.0 125.1 458.0 125.5 458.0 125.9 458.0 126.8 458.0 127.7 458.0 128.1 458.0 128.6 458.0 129.4 458.0 130.3 458.0 130.7 458.0 131.2 458.0 132.1 458.0 132.3 458.0 132.9 458.0 133.2 458.0 133.8 458.0 134.7 458.0 135.6 458.0 135.8 458.0 136.4 458.0 137.3 458.0 137.5 458.0 138.2 458.0 139.1 458.0 139.9 458.0 140.2 458.0 140.8 458.0 141.7 458.0 142.6 458.0 142.8 458.0 143.4 458.0 144.3 458.0 144.5 458.0 145.2 458.0 146.1 458.0 146.3 458.0 147.0 458.0 147.8 458.0 148.0 458.0 148.7 458.0 149.6 458.0 150.5 458.0 151.3 458.0 152.2 458.0 153.1 458.0 154.0 458.0 154.8 458.0 155.7 458.0 156.2 458.0 156.6 458.0 157.5 458.0 158.3 458.0 159.2 458.0 159.7 458.0 160.1 458.0 161.0 458.0 161.6 458.0 161.8 458.0 162.7 458.0 163.4 458.0 163.6 458.0 164.5 458.0 165.3 458.0 166.2 458.0 166.9 458.0 167.1 458.0 168.0 458.0 168.6 458.0 168.9 458.0 169.7 458.0 170.4 458.0 170.6 458.0 171.5 458.0 172.4 458.0 173.0 458.0 173.2 458.0 174.1 458.0 175.0 458.0 175.2 458.0 175.9 458.0 176.7 458.0 177.4 458.0 177.6 458.0 178.5 458.0 179.4 458.0 180.2 458.0 180.9 458.0 181.1 458.0 181.8 458.0 182.0 458.0 182.9 458.0 183.5 458.0 183.7 458.0 184.6 458.0 185.5 458.0 186.4 458.0 186.8 458.0 187.2 458.0 188.1 458.0 189.0 458.0 189.7 458.0 189.9 458.0 190.8 458.0 191.6 458.0 192.5 458.0 193.2 458.0 193.4 458.0 194.3 458.0 195.1 458.0 195.6 458.0 196.0 458.0 196.9 458.0 197.8 458.0 198.4 458.0 198.6 458.0 199.5 458.0 200.4 458.0 201.0 458.0 201.3 458.0 202.1 458.0 203.0 458.0 203.7 458.0 203.9 458.0 204.8 458.0 205.6 458.0 206.5 458.0 207.2 458.0 207.4 458.0 208.3 458.0 209.1 458.0 210.0 458.0 210.7 458.0 210.9 458.0 211.8 458.0 212.7 458.0 213.1 458.0 213.5 458.0 214.4 458.0 215.3 458.0 215.9 458.0 216.2 458.0 217.0 458.0 217.9 458.0 218.6 458.0 218.8 458.0 219.7 458.0 220.5 458.0 221.2 458.0 221.4 458.0 222.3 458.0 222.9 458.0 223.2 458.0 224.0 458.0 224.7 458.0 224.9 458.0 225.8 458.0 226.7 458.0 227.5 458.0 228.2 458.0 228.4 458.0 229.3 458.0 230.2 458.0 231.0 458.0 231.7 458.0 231.9 458.0 232.8 458.0 233.7 458.0 234.6 458.0 235.2 458.0 235.4 458.0 236.3 458.0 237.2 458.0 238.1 458.0 238.9 458.0 239.8 458.0 240.7 458.0 241.6 458.0 242.4 458.0 243.3 458.0 244.2 458.0 245.1 458.0 245.9 458.0 246.8 458.0 247.7 458.0 248.6 458.0 249.4 458.0 250.3 458.0 251.2 458.0 252.1 458.0 252.9 458.0 253.8 458.0 254.7 458.0 255.6 458.0 256.5 458.0 257.3 458.0 258.2 458.0 259.1 458.0 260.0 458.0 260.8 458.0 261.7 458.0 262.6 458.0 263.5 458.0 264.3 458.0 265.2 458.0 266.1 458.0 267.0 458.0 267.8 458.0 268.7 458.0 269.6 458.0 270.5 458.0 271.3 458.0 272.2 458.0 273.1 458.0 274.0 458.0 274.8 458.0 275.7 458.0 276.6 458.0 276.6 458.0 275.7 458.0 274.8 458.0 274.0 458.0 273.1 458.0 272.2 458.0 271.3 458.0 270.5 458.0 269.6 458.0 268.7 458.0 267.8 458.0 267.0 458.0 266.1 458.0 265.2 458.0 264.3 458.0 263.5 458.0 262.6 458.0 261.7 458.0 260.8 458.0 260.0 458.0 259.1 458.0 258.2 458.0 257.3 458.0 256.5 458.0 255.6 458.0 254.7 458.0 253.8 458.0 252.9 458.0 252.1 458.0 251.2 458.0 250.3 458.0 249.4 458.0 248.6 458.0 247.7 458.0 246.8 458.0 245.9 458.0 245.1 458.0 244.2 458.0 243.3 458.0 242.4 458.0 241.6 458.0 240.7 458.0 239.8 458.0 238.9 458.0 238.1 458.0 237.2 458.0 236.3 458.0 235.4 458.0 235.2 458.0 234.6 458.0 233.7 458.0 232.8 458.0 231.9 458.0 231.7 458.0 231.0 458.0 230.2 458.0 229.3 458.0 228.4 458.0 228.2 458.0 227.5 458.0 226.7 458.0 225.8 458.0 224.9 458.0 224.7 458.0 224.0 458.0 223.2 458.0 222.9 458.0 222.3 458.0 221.4 458.0 221.2 458.0 220.5 458.0 219.7 458.0 218.8 458.0 218.6 458.0 217.9 458.0 217.0 458.0 216.2 458.0 215.9 458.0 215.3 458.0 214.4 458.0 213.5 458.0 213.1 458.0 212.7 458.0 211.8 458.0 210.9 458.0 210.7 458.0 210.0 458.0 209.1 458.0 208.3 458.0 207.4 458.0 207.2 458.0 206.5 458.0 205.6 458.0 204.8 458.0 203.9 458.0 203.7 458.0 203.0 458.0 202.1 458.0 201.3 458.0 201.0 458.0 200.4 458.0 199.5 458.0 198.6 458.0 198.4 458.0 197.8 458.0 196.9 458.0 196.0 458.0 195.6 458.0 195.1 458.0 194.3 458.0 193.4 458.0 193.2 458.0 192.5 458.0 191.6 458.0 190.8 458.0 189.9 458.0 189.7 458.0 189.0 458.0 188.1 458.0 187.2 458.0 186.8 458.0 186.4 458.0 185.5 458.0 184.6 458.0 183.7 458.0 183.5 458.0 182.9 458.0 182.0 458.0 181.8 458.0 181.1 458.0 180.9 458.0 180.2 458.0 179.4 458.0 178.5 458.0 177.6 458.0 177.4 458.0 176.7 458.0 175.9 458.0 175.2 458.0 175.0 458.0 174.1 458.0 173.2 458.0 173.0 458.0 172.4 458.0 171.5 458.0 170.6 458.0 170.4 458.0 169.7 458.0 168.9 458.0 168.6 458.0 168.0 458.0 167.1 458.0 166.9 458.0 166.2 458.0 165.3 458.0 164.5 458.0 163.6 458.0 163.4 458.0 162.7 458.0 161.8 458.0 161.6 458.0 161.0 458.0 160.1 458.0 159.7 458.0 159.2 458.0 158.3 458.0 157.5 458.0 156.6 458.0 156.2 458.0 155.7 458.0 154.8 458.0 154.0 458.0 153.1 458.0 152.2 458.0 151.3 458.0 150.5 458.0 149.6 458.0 148.7 458.0 148.0 458.0 147.8 458.0 147.0 458.0 146.3 458.0 146.1 458.0 145.2 458.0 144.5 458.0 144.3 458.0 143.4 458.0 142.8 458.0 142.6 458.0 141.7 458.0 140.8 458.0 140.2 458.0 139.9 458.0 139.1 458.0 138.2 458.0 137.5 458.0 137.3 458.0 136.4 458.0 135.8 458.0 135.6 458.0 134.7 458.0 133.8 458.0 133.2 458.0 132.9 458.0 132.3 458.0 132.1 458.0 131.2 458.0 130.7 458.0 130.3 458.0 129.4 458.0 128.6 458.0 128.1 458.0 127.7 458.0 126.8 458.0 125.9 458.0 125.5 458.0 125.1 458.0 124.2 458.0 123.3 458.0 122.4 458.0 122.0 458.0 121.5 458.0 120.7 458.0 119.8 458.0 118.9 458.0 118.0 458.0 117.2 458.0 116.3 458.0 115.4 458.0 115.0 458.0 114.5 458.0 113.7 458.0 112.8 458.0 111.9 458.0 111.3 457.9 111.0 457.9 110.2 457.9 109.3 457.8 108.4 457.8 108.0 457.7 107.5 457.7 106.7 457.7 105.8 457.6 104.9 457.6 104.7 457.5 104.0 457.5 103.2 457.4 102.3 457.4 101.4 457.3 101.0 457.2 100.5 457.1 99.6 456.8 98.8 456.5 97.9 456.3 97.0 456.0 96.1 455.8 95.3 455.5 94.4 455.2 94.0 455.1 93.5 455.0 92.6 454.7 91.8 454.4 90.9 454.2 90.5 454.0 90.0 453.7 89.1 453.0 88.3 452.2 87.4 451.5 86.9 451.2 86.5 450.8 85.6 450.1 84.8 449.4 83.9 448.7 83.0 447.9 82.8 447.8 82.1 447.2 81.3 446.5 80.6 446.0 80.4 445.8 79.5 444.6 78.6 442.9 78.4 442.5 77.7 441.2 76.9 439.5 76.4 438.7 76.0 437.9 75.1 436.2 74.2 434.0 74.0 433.4 73.4 431.8 72.5 429.6 71.6 427.4 71.4 426.8 70.7 424.6 69.9 421.3 69.0 418.1 68.5 416.4 68.1 414.8 67.2 411.5 66.4 408.2 65.9 406.6 65.5 405.0 64.6 401.7 64.2 400.1 63.7 398.5 62.9 395.5 62.4 393.9 62.0 392.4 61.5 390.9 61.1 389.3 60.4 389.3 60.2 389.7 59.4 391.1 58.5 409.9 58.0 427.9 57.6 458.0Z" fill="#00BFC4" fill-opacity="0.5"/><path d="M57.6 442.1 58.5 427.3 59.4 412.5 60.2 402.3 61.1 396.7 62.0 393.1 62.9 391.7 63.7 391.3 64.6 392.6 65.5 393.9 66.4 395.2 67.2 397.8 68.1 400.5 69.0 403.1 69.9 405.7 70.7 408.4 71.6 411.0 72.5 413.5 73.4 416.0 74.2 418.5 75.1 421.0 76.0 422.8 76.9 424.6 77.7 426.4 78.6 428.2 79.5 430.0 80.4 431.8 81.3 433.5 82.1 435.3 83.0 437.1 83.9 438.8 84.8 440.0 85.6 441.2 86.5 442.4 87.4 443.6 88.3 444.8 89.1 445.8 90.0 446.6 90.9 447.4 91.8 448.2 92.6 449.0 93.5 449.8 94.4 450.6 95.3 451.4 96.1 452.2 97.0 453.0 97.9 453.2 98.8 453.5 99.6 453.8 100.5 454.1 101.4 454.3 102.3 454.6 103.2 454.9 104.0 455.1 104.9 455.4 105.8 455.7 106.7 455.8 107.5 455.9 108.4 456.0 109.3 456.1 110.2 456.2 111.0 456.3 111.9 456.4 112.8 456.5 113.7 456.6 114.5 456.7 115.4 456.7 116.3 456.8 117.2 456.8 118.0 456.8 118.9 456.9 119.8 456.9 120.7 456.9 121.5 457.0 122.4 457.0 123.3 457.1 124.2 457.1 125.1 457.1 125.9 457.2 126.8 457.2 127.7 457.2 128.6 457.3 129.4 457.3 130.3 457.4 131.2 457.4 132.1 457.4 132.9 457.5 133.8 457.5 134.7 457.5 135.6 457.6 136.4 457.6 137.3 457.7 138.2 457.7 139.1 457.7 139.9 457.8 140.8 457.8 141.7 457.8 142.6 457.9 143.4 457.9 144.3 458.0 145.2 458.0 146.1 458.0 147.0 458.0 147.8 458.0 148.7 458.0 149.6 458.0 150.5 458.0 151.3 458.0 152.2 458.0 153.1 458.0 154.0 458.0 154.8 458.0 155.7 458.0 156.6 458.0 157.5 458.0 158.3 458.0 159.2 458.0 160.1 458.0 161.0 458.0 161.8 458.0 162.7 458.0 163.6 458.0 164.5 458.0 165.3 458.0 166.2 458.0 167.1 458.0 168.0 458.0 168.9 458.0 169.7 458.0 170.6 458.0 171.5 458.0 172.4 458.0 173.2 458.0 174.1 458.0 175.0 458.0 175.9 458.0 176.7 458.0 177.6 458.0 178.5 458.0 179.4 458.0 180.2 458.0 181.1 458.0 182.0 458.0 182.9 458.0 183.7 458.0 184.6 458.0 185.5 458.0 186.4 458.0 187.2 458.0 188.1 458.0 189.0 458.0 189.9 458.0 190.8 458.0 191.6 458.0 192.5 458.0 193.4 458.0 194.3 458.0 195.1 458.0 196.0 458.0 196.9 458.0 197.8 458.0 198.6 458.0 199.5 458.0 200.4 458.0 201.3 458.0 202.1 458.0 203.0 458.0 203.9 458.0 204.8 458.0 205.6 458.0 206.5 458.0 207.4 458.0 208.3 458.0 209.1 458.0 210.0 458.0 210.9 458.0 211.8 458.0 212.7 458.0 213.5 458.0 214.4 458.0 215.3 458.0 216.2 458.0 217.0 458.0 217.9 458.0 218.8 458.0 219.7 458.0 220.5 458.0 221.4 458.0 222.3 458.0 223.2 458.0 224.0 458.0 224.9 458.0 225.8 458.0 226.7 458.0 227.5 458.0 228.4 458.0 229.3 458.0 230.2 458.0 231.0 458.0 231.9 458.0 232.8 458.0 233.7 458.0 234.6 458.0 235.4 458.0 236.3 458.0 237.2 458.0 238.1 458.0 238.9 458.0 239.8 458.0 240.7 458.0 241.6 458.0 242.4 458.0 243.3 458.0 244.2 458.0 245.1 458.0 245.9 458.0 246.8 458.0 247.7 458.0 248.6 458.0 249.4 458.0 250.3 458.0 251.2 458.0 252.1 458.0 252.9 458.0 253.8 458.0 254.7 458.0 255.6 458.0 256.5 458.0 257.3 458.0 258.2 458.0 259.1 458.0 260.0 458.0 260.8 458.0 261.7 458.0 262.6 458.0 263.5 458.0 264.3 458.0 265.2 458.0 266.1 458.0 267.0 458.0 267.8 458.0 268.7 458.0 269.6 458.0 270.5 458.0 271.3 458.0 272.2 458.0 273.1 458.0 274.0 458.0 274.8 458.0 275.7 458.0 276.6 458.0" fill="none" stroke="#1b4848" stroke-opacity="0.85" stroke-width="1.05"/><path d="M57.6 438.2 58.5 411.7 59.4 385.2 60.2 380.2 61.1 375.2 62.0 373.9 62.9 376.3 63.7 378.6 64.6 382.9 65.5 387.1 66.4 390.4 67.2 392.7 68.1 395.0 69.0 397.3 69.9 399.6 70.7 401.9 71.6 404.2 72.5 406.4 73.4 408.6 74.2 410.8 75.1 413.0 76.0 414.9 76.9 416.9 77.7 418.8 78.6 420.7 79.5 422.6 80.4 424.6 81.3 426.7 82.1 428.8 83.0 430.8 83.9 432.9 84.8 434.5 85.6 436.1 86.5 437.7 87.4 439.4 88.3 441.0 89.1 442.2 90.0 443.1 90.9 443.9 91.8 444.8 92.6 445.7 93.5 446.5 94.4 447.4 95.3 448.2 96.1 449.1 97.0 450.0 97.9 450.6 98.8 451.1 99.6 451.6 100.5 452.0 101.4 452.5 102.3 452.9 103.2 453.4 104.0 453.9 104.9 454.3 105.8 454.8 106.7 455.1 107.5 455.3 108.4 455.5 109.3 455.7 110.2 455.9 111.0 456.1 111.9 456.3 112.8 456.5 113.7 456.7 114.5 456.9 115.4 457.0 116.3 457.2 117.2 457.4 118.0 457.4 118.9 457.4 119.8 457.5 120.7 457.5 121.5 457.5 122.4 457.6 123.3 457.6 124.2 457.6 125.1 457.7 125.9 457.7 126.8 457.7 127.7 457.8 128.6 457.8 129.4 457.8 130.3 457.9 131.2 457.9 132.1 457.9 132.9 458.0 133.8 458.0 134.7 458.0 135.6 458.0 136.4 458.0 137.3 458.0 138.2 458.0 139.1 458.0 139.9 458.0 140.8 458.0 141.7 458.0 142.6 458.0 143.4 458.0 144.3 458.0 145.2 458.0 146.1 458.0 147.0 458.0 147.8 458.0 148.7 458.0 149.6 458.0 150.5 458.0 151.3 458.0 152.2 458.0 153.1 458.0 154.0 458.0 154.8 458.0 155.7 458.0 156.6 458.0 157.5 458.0 158.3 458.0 159.2 458.0 160.1 458.0 161.0 458.0 161.8 458.0 162.7 458.0 163.6 458.0 164.5 458.0 165.3 458.0 166.2 458.0 167.1 458.0 168.0 458.0 168.9 458.0 169.7 458.0 170.6 458.0 171.5 458.0 172.4 458.0 173.2 458.0 174.1 458.0 175.0 458.0 175.9 458.0 176.7 458.0 177.6 458.0 178.5 458.0 179.4 458.0 180.2 458.0 181.1 458.0 182.0 458.0 182.9 458.0 183.7 458.0 184.6 458.0 185.5 458.0 186.4 458.0 187.2 458.0 188.1 458.0 189.0 458.0 189.9 458.0 190.8 458.0 191.6 458.0 192.5 458.0 193.4 458.0 194.3 458.0 195.1 458.0 196.0 458.0 196.9 458.0 197.8 458.0 198.6 458.0 199.5 458.0 200.4 458.0 201.3 458.0 202.1 458.0 203.0 458.0 203.9 458.0 204.8 458.0 205.6 458.0 206.5 458.0 207.4 458.0 208.3 458.0 209.1 458.0 210.0 458.0 210.9 458.0 211.8 458.0 212.7 458.0 213.5 458.0 214.4 458.0 215.3 458.0 216.2 458.0 217.0 458.0 217.9 458.0 218.8 458.0 219.7 458.0 220.5 458.0 221.4 458.0 222.3 458.0 223.2 458.0 224.0 458.0 224.9 458.0 225.8 458.0 226.7 458.0 227.5 458.0 228.4 458.0 229.3 458.0 230.2 458.0 231.0 458.0 231.9 458.0 232.8 458.0 233.7 458.0 234.6 458.0 235.4 458.0 236.3 458.0 237.2 458.0 238.1 458.0 238.9 458.0 239.8 458.0 240.7 458.0 241.6 458.0 242.4 458.0 243.3 458.0 244.2 458.0 245.1 458.0 245.9 458.0 246.8 458.0 247.7 458.0 248.6 458.0 249.4 458.0 250.3 458.0 251.2 458.0 252.1 458.0 252.9 458.0 253.8 458.0 254.7 458.0 255.6 458.0 256.5 458.0 257.3 458.0 258.2 458.0 259.1 458.0 260.0 458.0 260.8 458.0 261.7 458.0 262.6 458.0 263.5 458.0 264.3 458.0 265.2 458.0 266.1 458.0 267.0 458.0 267.8 458.0 268.7 458.0 269.6 458.0 270.5 458.0 271.3 458.0 272.2 458.0 273.1 458.0 274.0 458.0 274.8 458.0 275.7 458.0 276.6 458.0" fill="none" stroke="#1b4848" stroke-opacity="0.85" stroke-width="1.05" stroke-dasharray="2.5 2.3"/><path d="M341 436.65H584.5" stroke="#EBEBEB" stroke-width="0.55"/><path d="M341 393.75H584.5" stroke="#EBEBEB" stroke-width="0.55"/><path d="M341 350.85H584.5" stroke="#EBEBEB" stroke-width="0.55"/><path d="M341 307.95H584.5" stroke="#EBEBEB" stroke-width="0.55"/><path d="M381.85 303.6V465.5" stroke="#EBEBEB" stroke-width="0.55"/><path d="M436.75 303.6V465.5" stroke="#EBEBEB" stroke-width="0.55"/><path d="M491.65 303.6V465.5" stroke="#EBEBEB" stroke-width="0.55"/><path d="M546.55 303.6V465.5" stroke="#EBEBEB" stroke-width="0.55"/><path d="M341 458.1H584.5" stroke="#EBEBEB" stroke-width="1.1"/><path d="M341 415.2H584.5" stroke="#EBEBEB" stroke-width="1.1"/><path d="M341 372.3H584.5" stroke="#EBEBEB" stroke-width="1.1"/><path d="M341 329.4H584.5" stroke="#EBEBEB" stroke-width="1.1"/><path d="M354.4 303.6V465.5" stroke="#EBEBEB" stroke-width="1.1"/><path d="M409.3 303.6V465.5" stroke="#EBEBEB" stroke-width="1.1"/><path d="M464.2 303.6V465.5" stroke="#EBEBEB" stroke-width="1.1"/><path d="M519.1 303.6V465.5" stroke="#EBEBEB" stroke-width="1.1"/><path d="M574 303.6V465.5" stroke="#EBEBEB" stroke-width="1.1"/><text x="341" y="294.2" font-size="15.36">Hypomethylated region</text><text x="336.1" y="461.7" font-size="10.24" text-anchor="end" fill="#4D4D4D">0.00</text><text x="336.1" y="418.8" font-size="10.24" text-anchor="end" fill="#4D4D4D">0.05</text><text x="336.1" y="375.9" font-size="10.24" text-anchor="end" fill="#4D4D4D">0.10</text><text x="336.1" y="333" font-size="10.24" text-anchor="end" fill="#4D4D4D">0.15</text><text x="354.4" y="479.5" font-size="10.24" text-anchor="middle" fill="#4D4D4D">0.00</text><text x="409.3" y="479.5" font-size="10.24" text-anchor="middle" fill="#4D4D4D">0.25</text><text x="464.2" y="479.5" font-size="10.24" text-anchor="middle" fill="#4D4D4D">0.50</text><text x="519.1" y="479.5" font-size="10.24" text-anchor="middle" fill="#4D4D4D">0.75</text><text x="574" y="479.5" font-size="10.24" text-anchor="middle" fill="#4D4D4D">1.00</text><text x="462.5" y="494" font-size="12.7" text-anchor="middle">beta value</text><text transform="translate(309.2 384.7) rotate(-90)" font-size="12.7" text-anchor="middle">density</text><path d="M393.9 458.1 394.3 457.6 395.2 454.5 396.4 456.2 397.8 455.7 399.6 454.3 401.3 453.6 403.1 455.3 404.8 455.0 406.6 453.2 408.3 452.2 410.1 452.5 413.6 451.8 415.3 452.9 417.1 452.7 418.8 451.8 420.6 451.5 422.3 452.2 424.1 451.5 425.8 451.0 427.6 453.2 428.5 457.1 429.7 457.1 431.1 451.8 432.9 451.0 435.5 451.8 438.1 451.0 440.0 453.9 442.2 449.5 443.3 456.1 445.5 449.5 448.8 447.3 452.0 445.1 454.2 446.2 455.3 444.0 456.4 456.1 458.6 442.9 461.9 441.9 464.1 440.8 466.3 439.7 470.7 438.6 472.8 436.4 475.0 434.2 477.2 436.4 479.0 456.1 480.5 428.7 483.8 418.9 486.0 421.0 487.1 416.7 489.3 412.3 490.8 414.5 492.6 410.1 494.7 403.5 496.5 407.9 498.0 397.0 500.9 389.3 502.4 403.5 504.2 456.1 505.7 457.6 507.9 456.1 509.6 401.3 512.3 405.7 515.5 399.2 517.1 401.3 518.8 394.8 522.1 388.2 525.4 386.0 528.7 375.1 531.5 359.7 532.6 456.1 533.7 457.6 536.3 457.6 537.4 436.4 538.5 348.8 540.7 312.7 542.9 313.8 544.0 318.1 546.2 324.7 549.5 333.5 552.8 337.8 555.0 370.7 557.1 414.5 559.3 449.5 560.9 457.2 561.7 457.6Z" fill="#F8766D" fill-opacity="0.5"/><path d="M503.5 457.6 507.9 456.1 512.3 448.4 515.5 444.0 518.8 437.5 523.2 427.6 526.5 415.6 528.7 399.2 530.4 379.4 531.5 370.7 532.4 456.1 533.1 457.6 536.3 457.6 537.4 348.8 540.7 312.7 542.9 314.9 545.1 318.1 547.3 329.1 549.5 333.5 551.7 335.7 553.9 370.7 557.1 414.5 559.3 449.5 561.5 456.1 564.8 456.1 571.4 457.6 571.4 457.6 561.5 457.6 559.3 456.1 556.0 440.8 551.7 418.9 547.3 392.6 544.0 379.4 540.7 414.5 538.5 456.1 536.3 457.6 533.1 457.6 532.4 457.6 531.5 436.4 527.6 449.5 523.2 456.1 514.4 457.6 503.5 457.6Z" fill="#00BFC4" fill-opacity="0.5"/><path d="M354.4 458.1 503.5 457.2 510.1 453.9 516.6 447.3 523.2 440.8 527.6 430.9 529.8 423.2 531.5 410.1 533.1 456.1 535.2 457.2 537.4 377.3 539.6 366.3 542.9 359.7 545.1 360.8 547.3 366.3 549.5 381.6 551.7 403.5 553.9 421.0 556.0 436.4 559.3 456.1 562.6 457.6 573.6 457.6" fill="none" stroke="#1b4848" stroke-opacity="0.85" stroke-width="1.05"/><path d="M354.4 458.1 505.7 457.6 512.3 456.1 517.7 452.8 523.2 447.3 527.6 439.7 529.8 434.2 531.5 427.6 533.1 457.2 535.2 457.6 537.4 370.7 539.6 361.9 542.9 357.6 545.1 352.1 547.3 351.0 548.8 357.6 550.6 370.7 553.9 403.5 557.1 440.8 560.0 457.2 562.6 457.6 573.6 457.6" fill="none" stroke="#1b4848" stroke-opacity="0.85" stroke-width="1.05" stroke-dasharray="2.5 2.3"/><text x="597.6" y="370.4" font-size="12.7">Group</text><rect x="598" y="379.9" width="18.6" height="18.1" fill="#F8766D" fill-opacity="0.5"/><rect x="598" y="399.9" width="18.6" height="18.3" fill="#00BFC4" fill-opacity="0.5"/><path d="M599.2 389H615.2" stroke="#8a3f3d" stroke-width="1.1"/><path d="M599.2 409.1H615.2" stroke="#1f6f6f" stroke-width="1.1" stroke-dasharray="2.4 2.3"/><text x="623.7" y="393.1" font-size="10.1">Lung_cancer</text><text x="623.7" y="412.8" font-size="10.1">Healthy</text><text x="5.6" y="587" font-size="30" font-weight="bold">c</text><text x="344.6" y="571.5" font-size="16.2" text-anchor="middle" font-weight="bold">Hypermethylated region</text><path d="M43.4 744.64H265.4" stroke="#EBEBEB" stroke-width="0.55"/><path d="M43.4 711.38H265.4" stroke="#EBEBEB" stroke-width="0.55"/><path d="M43.4 678.12H265.4" stroke="#EBEBEB" stroke-width="0.55"/><path d="M43.4 644.86H265.4" stroke="#EBEBEB" stroke-width="0.55"/><path d="M43.4 611.6H265.4" stroke="#EBEBEB" stroke-width="0.55"/><path d="M79.07 604.8V768.2" stroke="#EBEBEB" stroke-width="0.55"/><path d="M129.62 604.8V768.2" stroke="#EBEBEB" stroke-width="0.55"/><path d="M180.18 604.8V768.2" stroke="#EBEBEB" stroke-width="0.55"/><path d="M230.72 604.8V768.2" stroke="#EBEBEB" stroke-width="0.55"/><path d="M43.4 761.27H265.4" stroke="#EBEBEB" stroke-width="1.1"/><path d="M43.4 728.01H265.4" stroke="#EBEBEB" stroke-width="1.1"/><path d="M43.4 694.75H265.4" stroke="#EBEBEB" stroke-width="1.1"/><path d="M43.4 661.49H265.4" stroke="#EBEBEB" stroke-width="1.1"/><path d="M43.4 628.23H265.4" stroke="#EBEBEB" stroke-width="1.1"/><path d="M53.8 604.8V768.2" stroke="#EBEBEB" stroke-width="1.1"/><path d="M104.35 604.8V768.2" stroke="#EBEBEB" stroke-width="1.1"/><path d="M154.9 604.8V768.2" stroke="#EBEBEB" stroke-width="1.1"/><path d="M205.45 604.8V768.2" stroke="#EBEBEB" stroke-width="1.1"/><path d="M256 604.8V768.2" stroke="#EBEBEB" stroke-width="1.1"/><path d="M53.8 611.6H126.59" stroke="url(#g0)" stroke-width="5.2" stroke-linecap="round" stroke-dasharray="0 3.9" fill="none"/><path d="M53.8 611.6H117.95" stroke="url(#g0)" stroke-width="5.2" stroke-linecap="round" fill="none"/><circle cx="138.72" cy="611.6" r="2.6" fill="#471063"/><circle cx="164.2" cy="611.6" r="2.6" fill="#460a5d"/><path d="M53.8 628.23H130.64" stroke="url(#g1)" stroke-width="5.2" stroke-linecap="round" stroke-dasharray="0 3.9" fill="none"/><path d="M53.8 628.23H121.49" stroke="url(#g1)" stroke-width="5.2" stroke-linecap="round" fill="none"/><circle cx="134.68" cy="628.23" r="2.6" fill="#471164"/><path d="M53.8 644.86H128.61" stroke="url(#g2)" stroke-width="5.2" stroke-linecap="round" stroke-dasharray="0 3.9" fill="none"/><path d="M53.8 644.86H120.99" stroke="url(#g2)" stroke-width="5.2" stroke-linecap="round" fill="none"/><circle cx="131.65" cy="644.86" r="2.6" fill="#471365"/><circle cx="136.7" cy="644.86" r="2.6" fill="#471164"/><path d="M53.8 661.49H114.46" stroke="url(#g3)" stroke-width="5.2" stroke-linecap="round" stroke-dasharray="0 3.9" fill="none"/><path d="M53.8 661.49H114.47" stroke="url(#g3)" stroke-width="5.2" stroke-linecap="round" fill="none"/><path d="M55.82 678.12H114.46" stroke="url(#g4)" stroke-width="5.2" stroke-linecap="round" stroke-dasharray="0 3.9" fill="none"/><path d="M55.82 678.12H114.47" stroke="url(#g4)" stroke-width="5.2" stroke-linecap="round" fill="none"/><circle cx="121.54" cy="678.12" r="2.6" fill="#471365"/><path d="M53.8 694.75H122.95" stroke="url(#g5)" stroke-width="5.2" stroke-linecap="round" stroke-dasharray="0 3.9" fill="none"/><path d="M57.39 694.75H122.96" stroke="url(#g5)" stroke-width="5.2" stroke-linecap="round" fill="none"/><circle cx="130.23" cy="694.75" r="2.6" fill="#414487"/><circle cx="138.12" cy="694.75" r="2.6" fill="#482475"/><path d="M57.84 711.38H76.04M78.06 711.38H89.19M90.2 711.38H173.91" stroke="url(#g6)" stroke-width="5.2" stroke-linecap="round" stroke-dasharray="0 3.9" fill="none"/><path d="M67.2 711.38H76.05M78.06 711.38H89.2M90.2 711.38H173.92" stroke="url(#g6)" stroke-width="5.2" stroke-linecap="round" fill="none"/><path d="M53.8 728.01H67.95M84.13 728.01H92.22M96.26 728.01H100.31M104.35 728.01H197.97" stroke="url(#g7)" stroke-width="5.2" stroke-linecap="round" stroke-dasharray="0 3.9" fill="none"/><path d="M104.35 728.01H197.98" stroke="url(#g7)" stroke-width="5.2" stroke-linecap="round" fill="none"/><path d="M55.82 744.64H67.95M72 744.64H86.15M108.39 744.64H228.3" stroke="url(#g8)" stroke-width="5.2" stroke-linecap="round" stroke-dasharray="0 3.9" fill="none"/><path d="M109.92 744.64H222.72" stroke="url(#g8)" stroke-width="5.2" stroke-linecap="round" fill="none"/><circle cx="98.28" cy="744.64" r="2.6" fill="#481b6d"/><circle cx="237.4" cy="744.64" r="2.6" fill="#471063"/><path d="M53.8 761.27H67.95M98.28 761.27H100.31M104.35 761.27H243.46" stroke="url(#g9)" stroke-width="5.2" stroke-linecap="round" stroke-dasharray="0 3.9" fill="none"/><path d="M120.6 761.27H231.8" stroke="url(#g9)" stroke-width="5.2" stroke-linecap="round" fill="none"/><circle cx="92.22" cy="761.27" r="2.6" fill="#481b6d"/><rect x="43.4" y="604.8" width="222" height="163.4" fill="none" stroke="#333" stroke-width="1.1"/><text x="43.6" y="594.6" font-size="15.36">Lung_cancer</text><text x="37.6" y="764.87" font-size="10.24" text-anchor="end" fill="#4D4D4D">120</text><path d="M40.2 761.27H43.4" stroke="#333" stroke-width="1.1"/><text x="37.6" y="731.61" font-size="10.24" text-anchor="end" fill="#4D4D4D">140</text><path d="M40.2 728.01H43.4" stroke="#333" stroke-width="1.1"/><text x="37.6" y="698.35" font-size="10.24" text-anchor="end" fill="#4D4D4D">160</text><path d="M40.2 694.75H43.4" stroke="#333" stroke-width="1.1"/><text x="37.6" y="665.09" font-size="10.24" text-anchor="end" fill="#4D4D4D">180</text><path d="M40.2 661.49H43.4" stroke="#333" stroke-width="1.1"/><text x="37.6" y="631.83" font-size="10.24" text-anchor="end" fill="#4D4D4D">200</text><path d="M40.2 628.23H43.4" stroke="#333" stroke-width="1.1"/><text x="53.8" y="782.6" font-size="10.24" text-anchor="middle" fill="#4D4D4D">0.00</text><path d="M53.8 768.2V771.4" stroke="#333" stroke-width="1.1"/><text x="104.35" y="782.6" font-size="10.24" text-anchor="middle" fill="#4D4D4D">0.25</text><path d="M104.35 768.2V771.4" stroke="#333" stroke-width="1.1"/><text x="154.9" y="782.6" font-size="10.24" text-anchor="middle" fill="#4D4D4D">0.50</text><path d="M154.9 768.2V771.4" stroke="#333" stroke-width="1.1"/><text x="205.45" y="782.6" font-size="10.24" text-anchor="middle" fill="#4D4D4D">0.75</text><path d="M205.45 768.2V771.4" stroke="#333" stroke-width="1.1"/><text x="256" y="782.6" font-size="10.24" text-anchor="middle" fill="#4D4D4D">1.00</text><path d="M256 768.2V771.4" stroke="#333" stroke-width="1.1"/><text x="154.4" y="796.5" font-size="12.7" text-anchor="middle">methylation level</text><text transform="translate(14.7 686.5) rotate(-90)" font-size="12.7" text-anchor="middle">fragment size</text><rect x="285.2" y="645.8" width="19.8" height="100.1" fill="url(#g10)"/><text x="284.9" y="637.9" font-size="12.7">density</text><path d="M285.2 725.8H288.8" stroke="#fff" stroke-width="0.9"/><path d="M301.4 725.8H305" stroke="#fff" stroke-width="0.9"/><text x="311.6" y="729.4" font-size="10.24">0.01</text><path d="M285.2 705.07H288.8" stroke="#fff" stroke-width="0.9"/><path d="M301.4 705.07H305" stroke="#fff" stroke-width="0.9"/><text x="311.6" y="708.67" font-size="10.24">0.02</text><path d="M285.2 684.35H288.8" stroke="#fff" stroke-width="0.9"/><path d="M301.4 684.35H305" stroke="#fff" stroke-width="0.9"/><text x="311.6" y="687.95" font-size="10.24">0.03</text><path d="M285.2 663.62H288.8" stroke="#fff" stroke-width="0.9"/><path d="M301.4 663.62H305" stroke="#fff" stroke-width="0.9"/><text x="311.6" y="667.22" font-size="10.24">0.04</text><path d="M388.9 744.64H605.2" stroke="#EBEBEB" stroke-width="0.55"/><path d="M388.9 711.38H605.2" stroke="#EBEBEB" stroke-width="0.55"/><path d="M388.9 678.12H605.2" stroke="#EBEBEB" stroke-width="0.55"/><path d="M388.9 644.86H605.2" stroke="#EBEBEB" stroke-width="0.55"/><path d="M388.9 611.6H605.2" stroke="#EBEBEB" stroke-width="0.55"/><path d="M423.2 604.8V768.2" stroke="#EBEBEB" stroke-width="0.55"/><path d="M472.2 604.8V768.2" stroke="#EBEBEB" stroke-width="0.55"/><path d="M521.2 604.8V768.2" stroke="#EBEBEB" stroke-width="0.55"/><path d="M570.2 604.8V768.2" stroke="#EBEBEB" stroke-width="0.55"/><path d="M388.9 761.27H605.2" stroke="#EBEBEB" stroke-width="1.1"/><path d="M388.9 728.01H605.2" stroke="#EBEBEB" stroke-width="1.1"/><path d="M388.9 694.75H605.2" stroke="#EBEBEB" stroke-width="1.1"/><path d="M388.9 661.49H605.2" stroke="#EBEBEB" stroke-width="1.1"/><path d="M388.9 628.23H605.2" stroke="#EBEBEB" stroke-width="1.1"/><path d="M398.7 604.8V768.2" stroke="#EBEBEB" stroke-width="1.1"/><path d="M447.7 604.8V768.2" stroke="#EBEBEB" stroke-width="1.1"/><path d="M496.7 604.8V768.2" stroke="#EBEBEB" stroke-width="1.1"/><path d="M545.7 604.8V768.2" stroke="#EBEBEB" stroke-width="1.1"/><path d="M594.7 604.8V768.2" stroke="#EBEBEB" stroke-width="1.1"/><path d="M398.7 611.6H432.02" stroke="url(#g11)" stroke-width="5.2" stroke-linecap="round" stroke-dasharray="0 3.9" fill="none"/><path d="M398.7 611.6H423.58" stroke="url(#g11)" stroke-width="5.2" stroke-linecap="round" fill="none"/><circle cx="437.9" cy="611.6" r="2.6" fill="#471063"/><circle cx="445.35" cy="611.6" r="2.6" fill="#460b5e"/><path d="M398.7 628.23H433.98" stroke="url(#g12)" stroke-width="5.2" stroke-linecap="round" stroke-dasharray="0 3.9" fill="none"/><path d="M398.7 628.23H427.03" stroke="url(#g12)" stroke-width="5.2" stroke-linecap="round" fill="none"/><circle cx="440.64" cy="628.23" r="2.6" fill="#470d60"/><path d="M398.7 644.86H432.41" stroke="url(#g13)" stroke-width="5.2" stroke-linecap="round" stroke-dasharray="0 3.9" fill="none"/><path d="M398.7 644.86H428.4" stroke="url(#g13)" stroke-width="5.2" stroke-linecap="round" fill="none"/><path d="M398.7 661.49H429.28" stroke="url(#g14)" stroke-width="5.2" stroke-linecap="round" stroke-dasharray="0 3.9" fill="none"/><path d="M398.7 661.49H427.78" stroke="url(#g14)" stroke-width="5.2" stroke-linecap="round" fill="none"/><circle cx="441.04" cy="661.49" r="2.6" fill="#470d60"/><path d="M398.7 678.12H433.78" stroke="url(#g15)" stroke-width="5.2" stroke-linecap="round" stroke-dasharray="0 3.9" fill="none"/><path d="M398.7 678.12H429.28" stroke="url(#g15)" stroke-width="5.2" stroke-linecap="round" fill="none"/><path d="M398.7 694.75H433.39" stroke="url(#g16)" stroke-width="5.2" stroke-linecap="round" stroke-dasharray="0 3.9" fill="none"/><path d="M398.7 694.75H426.87" stroke="url(#g16)" stroke-width="5.2" stroke-linecap="round" fill="none"/><path d="M398.7 711.38H438.68" stroke="url(#g17)" stroke-width="5.2" stroke-linecap="round" stroke-dasharray="0 3.9" fill="none"/><path d="M398.7 711.38H431.2" stroke="url(#g17)" stroke-width="5.2" stroke-linecap="round" fill="none"/><circle cx="445.35" cy="711.38" r="2.6" fill="#470d60"/><path d="M398.7 728.01H436.72" stroke="url(#g18)" stroke-width="5.2" stroke-linecap="round" stroke-dasharray="0 3.9" fill="none"/><path d="M398.7 728.01H431.23" stroke="url(#g18)" stroke-width="5.2" stroke-linecap="round" fill="none"/><circle cx="443.78" cy="728.01" r="2.6" fill="#471365"/><circle cx="450.25" cy="728.01" r="2.6" fill="#471063"/><circle cx="455.54" cy="728.01" r="2.6" fill="#470d60"/><path d="M398.7 744.64H435.94" stroke="url(#g19)" stroke-width="5.2" stroke-linecap="round" stroke-dasharray="0 3.9" fill="none"/><path d="M398.7 744.64H427.51" stroke="url(#g19)" stroke-width="5.2" stroke-linecap="round" fill="none"/><circle cx="452.8" cy="744.64" r="2.6" fill="#470e61"/><circle cx="504.34" cy="744.64" r="2.6" fill="#460b5e"/><path d="M398.7 761.27H434.96M454.17 761.27H462.6" stroke="url(#g20)" stroke-width="5.2" stroke-linecap="round" stroke-dasharray="0 3.9" fill="none"/><path d="M398.7 761.27H428.02" stroke="url(#g20)" stroke-width="5.2" stroke-linecap="round" fill="none"/><circle cx="443.78" cy="761.27" r="2.6" fill="#471365"/><circle cx="507.87" cy="761.27" r="2.6" fill="#460b5e"/><rect x="388.9" y="604.8" width="216.3" height="163.4" fill="none" stroke="#333" stroke-width="1.1"/><text x="389.1" y="594.6" font-size="15.36">Healthy</text><text x="383.1" y="764.87" font-size="10.24" text-anchor="end" fill="#4D4D4D">120</text><path d="M385.7 761.27H388.9" stroke="#333" stroke-width="1.1"/><text x="383.1" y="731.61" font-size="10.24" text-anchor="end" fill="#4D4D4D">140</text><path d="M385.7 728.01H388.9" stroke="#333" stroke-width="1.1"/><text x="383.1" y="698.35" font-size="10.24" text-anchor="end" fill="#4D4D4D">160</text><path d="M385.7 694.75H388.9" stroke="#333" stroke-width="1.1"/><text x="383.1" y="665.09" font-size="10.24" text-anchor="end" fill="#4D4D4D">180</text><path d="M385.7 661.49H388.9" stroke="#333" stroke-width="1.1"/><text x="383.1" y="631.83" font-size="10.24" text-anchor="end" fill="#4D4D4D">200</text><path d="M385.7 628.23H388.9" stroke="#333" stroke-width="1.1"/><text x="398.7" y="782.6" font-size="10.24" text-anchor="middle" fill="#4D4D4D">0.00</text><path d="M398.7 768.2V771.4" stroke="#333" stroke-width="1.1"/><text x="447.7" y="782.6" font-size="10.24" text-anchor="middle" fill="#4D4D4D">0.25</text><path d="M447.7 768.2V771.4" stroke="#333" stroke-width="1.1"/><text x="496.7" y="782.6" font-size="10.24" text-anchor="middle" fill="#4D4D4D">0.50</text><path d="M496.7 768.2V771.4" stroke="#333" stroke-width="1.1"/><text x="545.7" y="782.6" font-size="10.24" text-anchor="middle" fill="#4D4D4D">0.75</text><path d="M545.7 768.2V771.4" stroke="#333" stroke-width="1.1"/><text x="594.7" y="782.6" font-size="10.24" text-anchor="middle" fill="#4D4D4D">1.00</text><path d="M594.7 768.2V771.4" stroke="#333" stroke-width="1.1"/><text x="497.05" y="796.5" font-size="12.7" text-anchor="middle">methylation level</text><text transform="translate(360.2 686.5) rotate(-90)" font-size="12.7" text-anchor="middle">fragment size</text><rect x="625" y="645.8" width="19.7" height="100.1" fill="url(#g21)"/><text x="624.7" y="637.9" font-size="12.7">density</text><path d="M625 727.33H628.6" stroke="#fff" stroke-width="0.9"/><path d="M641.1 727.33H644.7" stroke="#fff" stroke-width="0.9"/><text x="651.4" y="730.93" font-size="10.24">0.025</text><path d="M625 707.83H628.6" stroke="#fff" stroke-width="0.9"/><path d="M641.1 707.83H644.7" stroke="#fff" stroke-width="0.9"/><text x="651.4" y="711.43" font-size="10.24">0.050</text><path d="M625 688.32H628.6" stroke="#fff" stroke-width="0.9"/><path d="M641.1 688.32H644.7" stroke="#fff" stroke-width="0.9"/><text x="651.4" y="691.92" font-size="10.24">0.075</text><path d="M625 668.82H628.6" stroke="#fff" stroke-width="0.9"/><path d="M641.1 668.82H644.7" stroke="#fff" stroke-width="0.9"/><text x="651.4" y="672.42" font-size="10.24">0.100</text><path d="M625 649.31H628.6" stroke="#fff" stroke-width="0.9"/><path d="M641.1 649.31H644.7" stroke="#fff" stroke-width="0.9"/><text x="651.4" y="652.91" font-size="10.24">0.125</text><text x="344.6" y="824.3" font-size="16.2" text-anchor="middle" font-weight="bold">Hypomethylated region</text><path d="M43.4 997.44H265.4" stroke="#EBEBEB" stroke-width="0.55"/><path d="M43.4 964.18H265.4" stroke="#EBEBEB" stroke-width="0.55"/><path d="M43.4 930.92H265.4" stroke="#EBEBEB" stroke-width="0.55"/><path d="M43.4 897.66H265.4" stroke="#EBEBEB" stroke-width="0.55"/><path d="M43.4 864.4H265.4" stroke="#EBEBEB" stroke-width="0.55"/><path d="M79.07 857.6V1021" stroke="#EBEBEB" stroke-width="0.55"/><path d="M129.62 857.6V1021" stroke="#EBEBEB" stroke-width="0.55"/><path d="M180.18 857.6V1021" stroke="#EBEBEB" stroke-width="0.55"/><path d="M230.72 857.6V1021" stroke="#EBEBEB" stroke-width="0.55"/><path d="M43.4 1014.07H265.4" stroke="#EBEBEB" stroke-width="1.1"/><path d="M43.4 980.81H265.4" stroke="#EBEBEB" stroke-width="1.1"/><path d="M43.4 947.55H265.4" stroke="#EBEBEB" stroke-width="1.1"/><path d="M43.4 914.29H265.4" stroke="#EBEBEB" stroke-width="1.1"/><path d="M43.4 881.03H265.4" stroke="#EBEBEB" stroke-width="1.1"/><path d="M53.8 857.6V1021" stroke="#EBEBEB" stroke-width="1.1"/><path d="M104.35 857.6V1021" stroke="#EBEBEB" stroke-width="1.1"/><path d="M154.9 857.6V1021" stroke="#EBEBEB" stroke-width="1.1"/><path d="M205.45 857.6V1021" stroke="#EBEBEB" stroke-width="1.1"/><path d="M256 857.6V1021" stroke="#EBEBEB" stroke-width="1.1"/><path d="M85.14 864.4H88.17M104.35 864.4H109.41M117.49 864.4H249.93" stroke="url(#g22)" stroke-width="5.2" stroke-linecap="round" stroke-dasharray="0 3.9" fill="none"/><path d="M162.65 864.4H244.87" stroke="url(#g22)" stroke-width="5.2" stroke-linecap="round" fill="none"/><circle cx="256" cy="864.4" r="2.6" fill="#471063"/><path d="M101.52 881.03H106.37M130.64 881.03H136.7M150.86 881.03H256" stroke="url(#g23)" stroke-width="5.2" stroke-linecap="round" stroke-dasharray="0 3.9" fill="none"/><path d="M156.95 881.03H247.37" stroke="url(#g23)" stroke-width="5.2" stroke-linecap="round" fill="none"/><path d="M148.83 897.66H251.96" stroke="url(#g24)" stroke-width="5.2" stroke-linecap="round" stroke-dasharray="0 3.9" fill="none"/><path d="M168.14 897.66H250.95" stroke="url(#g24)" stroke-width="5.2" stroke-linecap="round" fill="none"/><path d="M179.16 914.29H255.6" stroke="url(#g25)" stroke-width="5.2" stroke-linecap="round" stroke-dasharray="0 3.9" fill="none"/><path d="M182.73 914.29H254.08" stroke="url(#g25)" stroke-width="5.2" stroke-linecap="round" fill="none"/><circle cx="140.75" cy="914.29" r="2.6" fill="#471063"/><circle cx="154.9" cy="914.29" r="2.6" fill="#481668"/><path d="M175.12 930.92H245.89" stroke="url(#g26)" stroke-width="5.2" stroke-linecap="round" stroke-dasharray="0 3.9" fill="none"/><path d="M177.16 930.92H245.39" stroke="url(#g26)" stroke-width="5.2" stroke-linecap="round" fill="none"/><circle cx="140.75" cy="930.92" r="2.6" fill="#471063"/><circle cx="150.86" cy="930.92" r="2.6" fill="#481467"/><circle cx="160.97" cy="930.92" r="2.6" fill="#48186a"/><circle cx="171.08" cy="930.92" r="2.6" fill="#481c6e"/><path d="M128.61 947.55H134.68M143.78 947.55H171.08M175.12 947.55H245.89" stroke="url(#g27)" stroke-width="5.2" stroke-linecap="round" stroke-dasharray="0 3.9" fill="none"/><path d="M156.9 947.55H171.09M175.12 947.55H245.9" stroke="url(#g27)" stroke-width="5.2" stroke-linecap="round" fill="none"/><circle cx="140.75" cy="947.55" r="2.6" fill="#481d6f"/><path d="M94.24 964.18H108.39M110.42 964.18H245.89" stroke="url(#g28)" stroke-width="5.2" stroke-linecap="round" stroke-dasharray="0 3.9" fill="none"/><path d="M118.53 964.18H241.33" stroke="url(#g28)" stroke-width="5.2" stroke-linecap="round" fill="none"/><circle cx="249.93" cy="964.18" r="2.6" fill="#471365"/><path d="M74.02 980.81H241.85" stroke="url(#g29)" stroke-width="5.2" stroke-linecap="round" stroke-dasharray="0 3.9" fill="none"/><path d="M80.1 980.81H222.08" stroke="url(#g29)" stroke-width="5.2" stroke-linecap="round" fill="none"/><circle cx="69.98" cy="980.81" r="2.6" fill="#481769"/><circle cx="247.91" cy="980.81" r="2.6" fill="#471365"/><path d="M63.91 997.44H173.1M181.19 997.44H235.78" stroke="url(#g30)" stroke-width="5.2" stroke-linecap="round" stroke-dasharray="0 3.9" fill="none"/><path d="M64.93 997.44H173.11" stroke="url(#g30)" stroke-width="5.2" stroke-linecap="round" fill="none"/><circle cx="58.65" cy="997.44" r="2.6" fill="#48186a"/><circle cx="247.91" cy="997.44" r="2.6" fill="#481668"/><circle cx="256" cy="997.44" r="2.6" fill="#471063"/><path d="M53.8 1014.07H241.85" stroke="url(#g31)" stroke-width="5.2" stroke-linecap="round" stroke-dasharray="0 3.9" fill="none"/><path d="M64.95 1014.07H187.11" stroke="url(#g31)" stroke-width="5.2" stroke-linecap="round" fill="none"/><circle cx="249.93" cy="1014.07" r="2.6" fill="#471365"/><rect x="43.4" y="857.6" width="222" height="163.4" fill="none" stroke="#333" stroke-width="1.1"/><text x="43.6" y="847.4" font-size="15.36">Lung_cancer</text><text x="37.6" y="1017.67" font-size="10.24" text-anchor="end" fill="#4D4D4D">120</text><path d="M40.2 1014.07H43.4" stroke="#333" stroke-width="1.1"/><text x="37.6" y="984.41" font-size="10.24" text-anchor="end" fill="#4D4D4D">140</text><path d="M40.2 980.81H43.4" stroke="#333" stroke-width="1.1"/><text x="37.6" y="951.15" font-size="10.24" text-anchor="end" fill="#4D4D4D">160</text><path d="M40.2 947.55H43.4" stroke="#333" stroke-width="1.1"/><text x="37.6" y="917.89" font-size="10.24" text-anchor="end" fill="#4D4D4D">180</text><path d="M40.2 914.29H43.4" stroke="#333" stroke-width="1.1"/><text x="37.6" y="884.63" font-size="10.24" text-anchor="end" fill="#4D4D4D">200</text><path d="M40.2 881.03H43.4" stroke="#333" stroke-width="1.1"/><text x="53.8" y="1035.4" font-size="10.24" text-anchor="middle" fill="#4D4D4D">0.00</text><path d="M53.8 1021V1024.2" stroke="#333" stroke-width="1.1"/><text x="104.35" y="1035.4" font-size="10.24" text-anchor="middle" fill="#4D4D4D">0.25</text><path d="M104.35 1021V1024.2" stroke="#333" stroke-width="1.1"/><text x="154.9" y="1035.4" font-size="10.24" text-anchor="middle" fill="#4D4D4D">0.50</text><path d="M154.9 1021V1024.2" stroke="#333" stroke-width="1.1"/><text x="205.45" y="1035.4" font-size="10.24" text-anchor="middle" fill="#4D4D4D">0.75</text><path d="M205.45 1021V1024.2" stroke="#333" stroke-width="1.1"/><text x="256" y="1035.4" font-size="10.24" text-anchor="middle" fill="#4D4D4D">1.00</text><path d="M256 1021V1024.2" stroke="#333" stroke-width="1.1"/><text x="154.4" y="1049.3" font-size="12.7" text-anchor="middle">methylation level</text><text transform="translate(14.7 939.3) rotate(-90)" font-size="12.7" text-anchor="middle">fragment size</text><rect x="285.2" y="898.6" width="19.8" height="100.1" fill="url(#g32)"/><text x="284.9" y="890.7" font-size="12.7">density</text><path d="M285.2 977.15H288.8" stroke="#fff" stroke-width="0.9"/><path d="M301.4 977.15H305" stroke="#fff" stroke-width="0.9"/><text x="311.6" y="980.75" font-size="10.24">0.01</text><path d="M285.2 954.71H288.8" stroke="#fff" stroke-width="0.9"/><path d="M301.4 954.71H305" stroke="#fff" stroke-width="0.9"/><text x="311.6" y="958.31" font-size="10.24">0.02</text><path d="M285.2 932.27H288.8" stroke="#fff" stroke-width="0.9"/><path d="M301.4 932.27H305" stroke="#fff" stroke-width="0.9"/><text x="311.6" y="935.87" font-size="10.24">0.03</text><path d="M285.2 909.82H288.8" stroke="#fff" stroke-width="0.9"/><path d="M301.4 909.82H305" stroke="#fff" stroke-width="0.9"/><text x="311.6" y="913.42" font-size="10.24">0.04</text><path d="M389 997.44H611.5" stroke="#EBEBEB" stroke-width="0.55"/><path d="M389 964.18H611.5" stroke="#EBEBEB" stroke-width="0.55"/><path d="M389 930.92H611.5" stroke="#EBEBEB" stroke-width="0.55"/><path d="M389 897.66H611.5" stroke="#EBEBEB" stroke-width="0.55"/><path d="M389 864.4H611.5" stroke="#EBEBEB" stroke-width="0.55"/><path d="M424.39 857.6V1021" stroke="#EBEBEB" stroke-width="0.55"/><path d="M474.96 857.6V1021" stroke="#EBEBEB" stroke-width="0.55"/><path d="M525.54 857.6V1021" stroke="#EBEBEB" stroke-width="0.55"/><path d="M576.11 857.6V1021" stroke="#EBEBEB" stroke-width="0.55"/><path d="M389 1014.07H611.5" stroke="#EBEBEB" stroke-width="1.1"/><path d="M389 980.81H611.5" stroke="#EBEBEB" stroke-width="1.1"/><path d="M389 947.55H611.5" stroke="#EBEBEB" stroke-width="1.1"/><path d="M389 914.29H611.5" stroke="#EBEBEB" stroke-width="1.1"/><path d="M389 881.03H611.5" stroke="#EBEBEB" stroke-width="1.1"/><path d="M399.1 857.6V1021" stroke="#EBEBEB" stroke-width="1.1"/><path d="M449.68 857.6V1021" stroke="#EBEBEB" stroke-width="1.1"/><path d="M500.25 857.6V1021" stroke="#EBEBEB" stroke-width="1.1"/><path d="M550.83 857.6V1021" stroke="#EBEBEB" stroke-width="1.1"/><path d="M601.4 857.6V1021" stroke="#EBEBEB" stroke-width="1.1"/><path d="M528.57 864.4H601.4" stroke="url(#g33)" stroke-width="5.2" stroke-linecap="round" stroke-dasharray="0 3.9" fill="none"/><path d="M563.71 864.4H598.86" stroke="url(#g33)" stroke-width="5.2" stroke-linecap="round" fill="none"/><path d="M540.71 881.03H601.4" stroke="url(#g34)" stroke-width="5.2" stroke-linecap="round" stroke-dasharray="0 3.9" fill="none"/><path d="M552.95 881.03H598.86" stroke="url(#g34)" stroke-width="5.2" stroke-linecap="round" fill="none"/><circle cx="532.62" cy="881.03" r="2.6" fill="#471063"/><path d="M560.94 897.66H597.35" stroke="url(#g35)" stroke-width="5.2" stroke-linecap="round" stroke-dasharray="0 3.9" fill="none"/><path d="M562.5 897.66H596.84" stroke="url(#g35)" stroke-width="5.2" stroke-linecap="round" fill="none"/><circle cx="546.78" cy="897.66" r="2.6" fill="#471063"/><circle cx="552.85" cy="897.66" r="2.6" fill="#481668"/><path d="M560.94 914.29H597.35" stroke="url(#g36)" stroke-width="5.2" stroke-linecap="round" stroke-dasharray="0 3.9" fill="none"/><path d="M563.54 914.29H595.8" stroke="url(#g36)" stroke-width="5.2" stroke-linecap="round" fill="none"/><circle cx="552.85" cy="914.29" r="2.6" fill="#471063"/><path d="M567.01 930.92H597.35" stroke="url(#g37)" stroke-width="5.2" stroke-linecap="round" stroke-dasharray="0 3.9" fill="none"/><path d="M568.04 930.92H596.85" stroke="url(#g37)" stroke-width="5.2" stroke-linecap="round" fill="none"/><path d="M567.01 947.55H597.35" stroke="url(#g38)" stroke-width="5.2" stroke-linecap="round" stroke-dasharray="0 3.9" fill="none"/><path d="M568.55 947.55H596.85" stroke="url(#g38)" stroke-width="5.2" stroke-linecap="round" fill="none"/><path d="M560.94 964.18H599.38" stroke="url(#g39)" stroke-width="5.2" stroke-linecap="round" stroke-dasharray="0 3.9" fill="none"/><path d="M564.58 964.18H597.83" stroke="url(#g39)" stroke-width="5.2" stroke-linecap="round" fill="none"/><path d="M552.85 980.81H601.4" stroke="url(#g40)" stroke-width="5.2" stroke-linecap="round" stroke-dasharray="0 3.9" fill="none"/><path d="M560 980.81H600.39" stroke="url(#g40)" stroke-width="5.2" stroke-linecap="round" fill="none"/><circle cx="540.71" cy="980.81" r="2.6" fill="#471063"/><path d="M530.6 997.44H601.4" stroke="url(#g41)" stroke-width="5.2" stroke-linecap="round" stroke-dasharray="0 3.9" fill="none"/><path d="M552.5 997.44H598.86" stroke="url(#g41)" stroke-width="5.2" stroke-linecap="round" fill="none"/><circle cx="504.3" cy="997.44" r="2.6" fill="#460b5e"/><circle cx="514.41" cy="997.44" r="2.6" fill="#470e61"/><path d="M488.11 1014.07H492.16M514.41 1014.07H522.5M526.55 1014.07H595.33" stroke="url(#g42)" stroke-width="5.2" stroke-linecap="round" stroke-dasharray="0 3.9" fill="none"/><path d="M549.48 1014.07H592.28" stroke="url(#g42)" stroke-width="5.2" stroke-linecap="round" fill="none"/><circle cx="500.25" cy="1014.07" r="2.6" fill="#481668"/><circle cx="601.4" cy="1014.07" r="2.6" fill="#471365"/><rect x="389" y="857.6" width="222.5" height="163.4" fill="none" stroke="#333" stroke-width="1.1"/><text x="389.2" y="847.4" font-size="15.36">Healthy</text><text x="383.2" y="1017.67" font-size="10.24" text-anchor="end" fill="#4D4D4D">120</text><path d="M385.8 1014.07H389" stroke="#333" stroke-width="1.1"/><text x="383.2" y="984.41" font-size="10.24" text-anchor="end" fill="#4D4D4D">140</text><path d="M385.8 980.81H389" stroke="#333" stroke-width="1.1"/><text x="383.2" y="951.15" font-size="10.24" text-anchor="end" fill="#4D4D4D">160</text><path d="M385.8 947.55H389" stroke="#333" stroke-width="1.1"/><text x="383.2" y="917.89" font-size="10.24" text-anchor="end" fill="#4D4D4D">180</text><path d="M385.8 914.29H389" stroke="#333" stroke-width="1.1"/><text x="383.2" y="884.63" font-size="10.24" text-anchor="end" fill="#4D4D4D">200</text><path d="M385.8 881.03H389" stroke="#333" stroke-width="1.1"/><text x="399.1" y="1035.4" font-size="10.24" text-anchor="middle" fill="#4D4D4D">0.00</text><path d="M399.1 1021V1024.2" stroke="#333" stroke-width="1.1"/><text x="449.68" y="1035.4" font-size="10.24" text-anchor="middle" fill="#4D4D4D">0.25</text><path d="M449.68 1021V1024.2" stroke="#333" stroke-width="1.1"/><text x="500.25" y="1035.4" font-size="10.24" text-anchor="middle" fill="#4D4D4D">0.50</text><path d="M500.25 1021V1024.2" stroke="#333" stroke-width="1.1"/><text x="550.83" y="1035.4" font-size="10.24" text-anchor="middle" fill="#4D4D4D">0.75</text><path d="M550.83 1021V1024.2" stroke="#333" stroke-width="1.1"/><text x="601.4" y="1035.4" font-size="10.24" text-anchor="middle" fill="#4D4D4D">1.00</text><path d="M601.4 1021V1024.2" stroke="#333" stroke-width="1.1"/><text x="500.25" y="1049.3" font-size="12.7" text-anchor="middle">methylation level</text><text transform="translate(360.3 939.3) rotate(-90)" font-size="12.7" text-anchor="middle">fragment size</text><rect x="631.3" y="898.6" width="20.1" height="100.1" fill="url(#g43)"/><text x="631" y="890.7" font-size="12.7">density</text><path d="M631.3 965.82H634.9" stroke="#fff" stroke-width="0.9"/><path d="M647.8 965.82H651.4" stroke="#fff" stroke-width="0.9"/><text x="657.7" y="969.42" font-size="10.24">0.05</text><path d="M631.3 932.93H634.9" stroke="#fff" stroke-width="0.9"/><path d="M647.8 932.93H651.4" stroke="#fff" stroke-width="0.9"/><text x="657.7" y="936.53" font-size="10.24">0.10</text><path d="M631.3 900.05H634.9" stroke="#fff" stroke-width="0.9"/><path d="M647.8 900.05H651.4" stroke="#fff" stroke-width="0.9"/><text x="657.7" y="903.65" font-size="10.24">0.15</text><text x="5.4" y="1144.8" font-size="30" font-weight="bold">d</text><text x="344.6" y="1129.1" font-size="16.2" text-anchor="middle" font-weight="bold">Hypermethylated region</text><path d="M43.3 1326.83H265.4" stroke="#EBEBEB" stroke-width="0.55"/><path d="M43.3 1296.97H265.4" stroke="#EBEBEB" stroke-width="0.55"/><path d="M43.3 1267.11H265.4" stroke="#EBEBEB" stroke-width="0.55"/><path d="M43.3 1237.25H265.4" stroke="#EBEBEB" stroke-width="0.55"/><path d="M43.3 1207.39H265.4" stroke="#EBEBEB" stroke-width="0.55"/><path d="M43.3 1177.53H265.4" stroke="#EBEBEB" stroke-width="0.55"/><path d="M76.8 1162.6V1326.8" stroke="#EBEBEB" stroke-width="0.55"/><path d="M123.6 1162.6V1326.8" stroke="#EBEBEB" stroke-width="0.55"/><path d="M170.4 1162.6V1326.8" stroke="#EBEBEB" stroke-width="0.55"/><path d="M217.2 1162.6V1326.8" stroke="#EBEBEB" stroke-width="0.55"/><path d="M264 1162.6V1326.8" stroke="#EBEBEB" stroke-width="0.55"/><path d="M43.3 1311.9H265.4" stroke="#EBEBEB" stroke-width="1.1"/><path d="M43.3 1282.04H265.4" stroke="#EBEBEB" stroke-width="1.1"/><path d="M43.3 1252.18H265.4" stroke="#EBEBEB" stroke-width="1.1"/><path d="M43.3 1222.32H265.4" stroke="#EBEBEB" stroke-width="1.1"/><path d="M43.3 1192.46H265.4" stroke="#EBEBEB" stroke-width="1.1"/><path d="M43.3 1162.6H265.4" stroke="#EBEBEB" stroke-width="1.1"/><path d="M53.4 1162.6V1326.8" stroke="#EBEBEB" stroke-width="1.1"/><path d="M100.2 1162.6V1326.8" stroke="#EBEBEB" stroke-width="1.1"/><path d="M147 1162.6V1326.8" stroke="#EBEBEB" stroke-width="1.1"/><path d="M193.8 1162.6V1326.8" stroke="#EBEBEB" stroke-width="1.1"/><path d="M240.6 1162.6V1326.8" stroke="#EBEBEB" stroke-width="1.1"/><g transform="translate(53.87 1170.07) scale(0.9360 14.9300)"><rect x="0" y="0" width="216" height="1" fill="#2c115f"/><rect x="0" y="1" width="216" height="1" fill="#150e38"/><rect x="0" y="2" width="216" height="1" fill="#1d1147"/><rect x="0" y="3" width="216" height="1" fill="#241253"/><rect x="0" y="4" width="216" height="1" fill="#331067"/><rect x="0" y="5" width="216" height="1" fill="#4f127b"/><rect x="0" y="6" width="216" height="1" fill="#792282"/><rect x="0" y="7" width="216" height="1" fill="#a3307e"/><rect x="0" y="8" width="216" height="1" fill="#c53c74"/><rect x="0" y="9" width="216" height="1" fill="#de4968"/><path fill="#000004" d="M29 0h1v1h-1zM32 0h1v1h-1zM92 0h1v1h-1zM94 0h1v1h-1zM112 0h1v1h-1zM144 0h1v1h-1zM146 0h1v1h-1zM166 0h1v1h-1zM178 0h1v1h-1zM185 0h1v1h-1zM193 0h1v1h-1zM195 0h1v1h-1zM206 0h1v1h-1zM3 1h1v1h-1zM5 1h3v1h-3zM9 1h1v1h-1zM14 1h2v1h-2zM19 1h1v1h-1zM27 1h1v1h-1zM41 1h1v1h-1zM48 1h1v1h-1zM76 1h1v1h-1zM81 1h1v1h-1zM88 1h1v1h-1zM114 1h1v1h-1zM120 1h1v1h-1zM132 1h2v1h-2zM136 1h1v1h-1zM147 1h1v1h-1zM152 1h3v1h-3zM162 1h1v1h-1zM177 1h1v1h-1zM186 1h1v1h-1zM193 1h1v1h-1zM202 1h1v1h-1zM214 1h1v1h-1zM3 2h1v1h-1zM19 2h1v1h-1zM32 2h1v1h-1zM38 2h1v1h-1zM45 2h1v1h-1zM93 2h1v1h-1zM102 2h1v1h-1zM111 2h1v1h-1zM139 2h1v1h-1zM151 2h3v1h-3zM178 2h1v1h-1zM182 2h1v1h-1zM205 2h1v1h-1zM9 3h1v1h-1zM38 3h1v1h-1zM48 3h1v1h-1zM58 3h1v1h-1zM60 3h1v1h-1zM79 3h1v1h-1zM89 3h1v1h-1zM93 3h1v1h-1zM152 3h1v1h-1zM174 3h1v1h-1zM178 3h1v1h-1zM185 3h1v1h-1zM205 3h1v1h-1zM49 4h1v1h-1zM79 4h1v1h-1zM205 4h1v1h-1zM214 4h1v1h-1zM93 5h1v1h-1z"/><path fill="#02020d" d="M15 0h1v1h-1zM28 0h1v1h-1zM48 0h1v1h-1zM88 0h1v1h-1zM91 0h1v1h-1zM93 0h1v1h-1zM102 0h1v1h-1zM106 0h1v1h-1zM114 0h1v1h-1zM122 0h1v1h-1zM152 0h2v1h-2zM156 0h1v1h-1zM167 0h1v1h-1zM214 0h1v1h-1zM39 1h1v1h-1zM42 1h1v1h-1zM71 1h1v1h-1zM79 1h1v1h-1zM91 1h1v1h-1zM93 1h2v1h-2zM104 1h1v1h-1zM111 1h2v1h-2zM125 1h1v1h-1zM166 1h2v1h-2zM173 1h1v1h-1zM206 1h2v1h-2zM210 1h1v1h-1zM8 2h1v1h-1zM49 2h1v1h-1zM57 2h1v1h-1zM60 2h1v1h-1zM81 2h1v1h-1zM94 2h1v1h-1zM154 2h1v1h-1zM166 2h2v1h-2zM179 2h2v1h-2zM186 2h1v1h-1zM211 2h1v1h-1zM30 3h1v1h-1zM62 3h1v1h-1zM84 3h1v1h-1zM94 3h1v1h-1zM102 3h1v1h-1zM132 3h1v1h-1zM143 3h1v1h-1zM153 3h1v1h-1zM166 3h2v1h-2zM1 4h1v1h-1zM38 4h1v1h-1zM60 4h1v1h-1zM93 4h2v1h-2zM102 4h1v1h-1zM140 4h1v1h-1zM152 4h3v1h-3zM166 4h2v1h-2zM202 4h1v1h-1zM91 5h1v1h-1zM94 5h1v1h-1zM152 5h2v1h-2zM166 5h1v1h-1zM93 6h2v1h-2zM153 6h1v1h-1zM93 7h1v1h-1zM152 7h2v1h-2z"/><path fill="#07061c" d="M3 0h1v1h-1zM9 0h2v1h-2zM70 0h1v1h-1zM79 0h1v1h-1zM109 0h1v1h-1zM111 0h1v1h-1zM173 0h1v1h-1zM176 0h1v1h-1zM202 0h1v1h-1zM11 1h1v1h-1zM18 1h1v1h-1zM26 1h1v1h-1zM30 1h1v1h-1zM38 1h1v1h-1zM44 1h1v1h-1zM47 1h1v1h-1zM78 1h1v1h-1zM82 1h1v1h-1zM85 1h1v1h-1zM90 1h1v1h-1zM99 1h1v1h-1zM102 1h1v1h-1zM124 1h1v1h-1zM127 1h1v1h-1zM130 1h1v1h-1zM134 1h1v1h-1zM140 1h1v1h-1zM146 1h1v1h-1zM150 1h1v1h-1zM159 1h1v1h-1zM180 1h1v1h-1zM182 1h1v1h-1zM185 1h1v1h-1zM191 1h1v1h-1zM208 1h1v1h-1zM1 2h1v1h-1zM29 2h1v1h-1zM41 2h1v1h-1zM44 2h1v1h-1zM68 2h1v1h-1zM79 2h1v1h-1zM103 2h1v1h-1zM112 2h1v1h-1zM120 2h1v1h-1zM133 2h1v1h-1zM140 2h1v1h-1zM168 2h1v1h-1zM192 2h1v1h-1zM198 2h1v1h-1zM202 2h1v1h-1zM209 2h1v1h-1zM1 3h1v1h-1zM4 3h1v1h-1zM14 3h1v1h-1zM49 3h1v1h-1zM57 3h1v1h-1zM81 3h1v1h-1zM111 3h1v1h-1zM124 3h1v1h-1zM126 3h2v1h-2zM158 3h1v1h-1zM187 3h1v1h-1zM199 3h1v1h-1zM207 3h1v1h-1zM209 3h1v1h-1zM214 3h1v1h-1zM9 4h1v1h-1zM28 4h1v1h-1zM111 4h2v1h-2zM120 4h1v1h-1zM189 4h1v1h-1zM3 5h1v1h-1zM11 5h1v1h-1zM38 5h1v1h-1zM167 5h1v1h-1zM38 6h1v1h-1zM152 6h1v1h-1zM166 6h2v1h-2zM94 7h1v1h-1zM166 7h2v1h-2zM93 8h2v1h-2zM152 8h1v1h-1zM93 9h1v1h-1zM152 9h2v1h-2z"/><path fill="#0d0a29" d="M4 0h1v1h-1zM45 0h1v1h-1zM81 0h1v1h-1zM86 0h1v1h-1zM115 0h1v1h-1zM124 0h1v1h-1zM140 0h1v1h-1zM164 0h1v1h-1zM174 0h1v1h-1zM179 0h1v1h-1zM4 1h1v1h-1zM8 1h1v1h-1zM10 1h1v1h-1zM21 1h1v1h-1zM28 1h1v1h-1zM46 1h1v1h-1zM54 1h1v1h-1zM58 1h1v1h-1zM60 1h1v1h-1zM66 1h1v1h-1zM72 1h1v1h-1zM77 1h1v1h-1zM86 1h1v1h-1zM101 1h1v1h-1zM103 1h1v1h-1zM107 1h1v1h-1zM122 1h1v1h-1zM131 1h1v1h-1zM139 1h1v1h-1zM142 1h2v1h-2zM145 1h1v1h-1zM160 1h1v1h-1zM170 1h1v1h-1zM172 1h1v1h-1zM184 1h1v1h-1zM189 1h1v1h-1zM196 1h1v1h-1zM205 1h1v1h-1zM209 1h1v1h-1zM2 2h1v1h-1zM6 2h1v1h-1zM9 2h1v1h-1zM11 2h1v1h-1zM15 2h1v1h-1zM48 2h1v1h-1zM50 2h1v1h-1zM67 2h1v1h-1zM88 2h1v1h-1zM97 2h1v1h-1zM99 2h1v1h-1zM106 2h1v1h-1zM122 2h1v1h-1zM124 2h1v1h-1zM127 2h1v1h-1zM141 2h1v1h-1zM148 2h1v1h-1zM158 2h6v1h-6zM172 2h1v1h-1zM194 2h2v1h-2zM208 2h1v1h-1zM214 2h2v1h-2zM0 3h1v1h-1zM3 3h1v1h-1zM28 3h1v1h-1zM32 3h1v1h-1zM66 3h1v1h-1zM86 3h1v1h-1zM90 3h2v1h-2zM109 3h1v1h-1zM112 3h1v1h-1zM130 3h1v1h-1zM144 3h1v1h-1zM163 3h1v1h-1zM180 3h1v1h-1zM189 3h1v1h-1zM198 3h1v1h-1zM8 4h1v1h-1zM15 4h1v1h-1zM45 4h1v1h-1zM85 4h1v1h-1zM133 4h1v1h-1zM157 4h1v1h-1zM177 4h1v1h-1zM186 4h1v1h-1zM208 4h1v1h-1zM112 5h1v1h-1zM137 5h1v1h-1zM174 5h1v1h-1zM192 5h1v1h-1zM208 5h1v1h-1zM214 5h1v1h-1zM193 6h1v1h-1zM153 8h1v1h-1zM166 8h2v1h-2zM94 9h1v1h-1zM166 9h1v1h-1z"/><path fill="#150e38" d="M19 0h1v1h-1zM33 0h1v1h-1zM47 0h1v1h-1zM58 0h1v1h-1zM96 0h1v1h-1zM107 0h1v1h-1zM117 0h1v1h-1zM148 0h1v1h-1zM160 0h2v1h-2zM169 0h1v1h-1zM184 0h1v1h-1zM199 0h1v1h-1zM201 0h1v1h-1zM205 0h1v1h-1zM2 1h1v1h-1zM23 1h1v1h-1zM25 1h1v1h-1zM40 1h1v1h-1zM55 1h1v1h-1zM57 1h1v1h-1zM65 1h1v1h-1zM73 1h1v1h-1zM84 1h1v1h-1zM87 1h1v1h-1zM97 1h1v1h-1zM109 1h1v1h-1zM113 1h1v1h-1zM115 1h1v1h-1zM117 1h1v1h-1zM119 1h1v1h-1zM123 1h1v1h-1zM126 1h1v1h-1zM129 1h1v1h-1zM137 1h1v1h-1zM144 1h1v1h-1zM151 1h1v1h-1zM157 1h2v1h-2zM174 1h1v1h-1zM178 1h1v1h-1zM187 1h1v1h-1zM190 1h1v1h-1zM194 1h1v1h-1zM215 1h1v1h-1zM4 2h1v1h-1zM10 2h1v1h-1zM14 2h1v1h-1zM16 2h2v1h-2zM21 2h1v1h-1zM24 2h1v1h-1zM26 2h1v1h-1zM28 2h1v1h-1zM46 2h1v1h-1zM51 2h1v1h-1zM53 2h2v1h-2zM63 2h1v1h-1zM69 2h1v1h-1zM90 2h1v1h-1zM105 2h1v1h-1zM109 2h1v1h-1zM115 2h1v1h-1zM121 2h1v1h-1zM134 2h1v1h-1zM142 2h3v1h-3zM164 2h1v1h-1zM173 2h2v1h-2zM176 2h1v1h-1zM185 2h1v1h-1zM191 2h1v1h-1zM196 2h1v1h-1zM207 2h1v1h-1zM210 2h1v1h-1zM2 3h1v1h-1zM13 3h1v1h-1zM18 3h1v1h-1zM20 3h2v1h-2zM27 3h1v1h-1zM53 3h1v1h-1zM63 3h1v1h-1zM65 3h1v1h-1zM97 3h1v1h-1zM103 3h1v1h-1zM131 3h1v1h-1zM134 3h1v1h-1zM141 3h1v1h-1zM154 3h1v1h-1zM172 3h1v1h-1zM176 3h2v1h-2zM192 3h1v1h-1zM202 3h1v1h-1zM62 4h1v1h-1zM65 4h1v1h-1zM77 4h1v1h-1zM84 4h1v1h-1zM97 4h1v1h-1zM144 4h1v1h-1zM146 4h1v1h-1zM158 4h2v1h-2zM168 4h1v1h-1zM176 4h1v1h-1zM180 4h1v1h-1zM192 4h1v1h-1zM203 4h1v1h-1zM28 5h1v1h-1zM60 5h1v1h-1zM126 5h1v1h-1zM145 5h1v1h-1zM78 6h1v1h-1zM120 7h1v1h-1zM167 9h1v1h-1z"/><path fill="#1d1147" d="M1 0h1v1h-1zM7 0h1v1h-1zM16 0h1v1h-1zM35 0h1v1h-1zM42 0h1v1h-1zM62 0h1v1h-1zM65 0h1v1h-1zM97 0h1v1h-1zM127 0h1v1h-1zM151 0h1v1h-1zM157 0h1v1h-1zM170 0h1v1h-1zM172 0h1v1h-1zM177 0h1v1h-1zM182 0h1v1h-1zM192 0h1v1h-1zM194 0h1v1h-1zM20 1h1v1h-1zM24 1h1v1h-1zM29 1h1v1h-1zM33 1h1v1h-1zM35 1h1v1h-1zM45 1h1v1h-1zM51 1h1v1h-1zM63 1h1v1h-1zM68 1h2v1h-2zM92 1h1v1h-1zM95 1h1v1h-1zM100 1h1v1h-1zM106 1h1v1h-1zM116 1h1v1h-1zM183 1h1v1h-1zM198 1h1v1h-1zM203 1h1v1h-1zM213 1h1v1h-1zM7 2h1v1h-1zM12 2h1v1h-1zM22 2h1v1h-1zM27 2h1v1h-1zM35 2h2v1h-2zM73 2h2v1h-2zM76 2h1v1h-1zM78 2h1v1h-1zM84 2h1v1h-1zM96 2h1v1h-1zM98 2h1v1h-1zM126 2h1v1h-1zM129 2h2v1h-2zM157 2h1v1h-1zM175 2h1v1h-1zM184 2h1v1h-1zM187 2h1v1h-1zM190 2h1v1h-1zM193 2h1v1h-1zM5 3h1v1h-1zM10 3h2v1h-2zM29 3h1v1h-1zM40 3h1v1h-1zM42 3h1v1h-1zM45 3h2v1h-2zM59 3h1v1h-1zM73 3h1v1h-1zM85 3h1v1h-1zM88 3h1v1h-1zM96 3h1v1h-1zM116 3h1v1h-1zM120 3h2v1h-2zM125 3h1v1h-1zM129 3h1v1h-1zM137 3h2v1h-2zM142 3h1v1h-1zM182 3h1v1h-1zM195 3h1v1h-1zM203 3h1v1h-1zM206 3h1v1h-1zM3 4h1v1h-1zM10 4h1v1h-1zM12 4h1v1h-1zM29 4h1v1h-1zM31 4h1v1h-1zM44 4h1v1h-1zM48 4h1v1h-1zM66 4h1v1h-1zM89 4h1v1h-1zM103 4h1v1h-1zM109 4h1v1h-1zM124 4h1v1h-1zM138 4h1v1h-1zM161 4h1v1h-1zM169 4h1v1h-1zM172 4h1v1h-1zM185 4h1v1h-1zM187 4h1v1h-1zM207 4h1v1h-1zM8 5h1v1h-1zM32 5h1v1h-1zM49 5h1v1h-1zM69 5h1v1h-1zM81 5h1v1h-1zM127 5h1v1h-1zM193 5h1v1h-1zM205 5h1v1h-1zM3 6h1v1h-1zM49 6h1v1h-1zM85 6h1v1h-1zM102 6h1v1h-1z"/><path fill="#271258" d="M24 0h1v1h-1zM38 0h1v1h-1zM46 0h1v1h-1zM54 0h1v1h-1zM60 0h1v1h-1zM66 0h1v1h-1zM69 0h1v1h-1zM71 0h1v1h-1zM74 0h1v1h-1zM84 0h1v1h-1zM98 0h1v1h-1zM129 0h1v1h-1zM133 0h1v1h-1zM137 0h1v1h-1zM141 0h2v1h-2zM147 0h1v1h-1zM158 0h1v1h-1zM163 0h1v1h-1zM188 0h1v1h-1zM208 0h1v1h-1zM0 1h1v1h-1zM12 1h1v1h-1zM32 1h1v1h-1zM34 1h1v1h-1zM36 1h1v1h-1zM43 1h1v1h-1zM70 1h1v1h-1zM80 1h1v1h-1zM89 1h1v1h-1zM96 1h1v1h-1zM121 1h1v1h-1zM135 1h1v1h-1zM138 1h1v1h-1zM149 1h1v1h-1zM156 1h1v1h-1zM161 1h1v1h-1zM163 1h2v1h-2zM175 1h1v1h-1zM179 1h1v1h-1zM192 1h1v1h-1zM195 1h1v1h-1zM31 2h1v1h-1zM56 2h1v1h-1zM61 2h2v1h-2zM65 2h1v1h-1zM70 2h1v1h-1zM82 2h1v1h-1zM86 2h1v1h-1zM89 2h1v1h-1zM92 2h1v1h-1zM101 2h1v1h-1zM117 2h1v1h-1zM119 2h1v1h-1zM137 2h2v1h-2zM147 2h1v1h-1zM169 2h2v1h-2zM177 2h1v1h-1zM199 2h1v1h-1zM203 2h1v1h-1zM213 2h1v1h-1zM6 3h1v1h-1zM8 3h1v1h-1zM47 3h1v1h-1zM68 3h1v1h-1zM70 3h1v1h-1zM95 3h1v1h-1zM106 3h1v1h-1zM118 3h1v1h-1zM122 3h1v1h-1zM133 3h1v1h-1zM139 3h2v1h-2zM145 3h2v1h-2zM155 3h1v1h-1zM159 3h3v1h-3zM173 3h1v1h-1zM175 3h1v1h-1zM193 3h2v1h-2zM208 3h1v1h-1zM7 4h1v1h-1zM13 4h1v1h-1zM30 4h1v1h-1zM68 4h2v1h-2zM78 4h1v1h-1zM90 4h2v1h-2zM95 4h1v1h-1zM100 4h1v1h-1zM122 4h1v1h-1zM129 4h1v1h-1zM164 4h1v1h-1zM182 4h1v1h-1zM193 4h2v1h-2zM206 4h1v1h-1zM5 5h1v1h-1zM103 5h1v1h-1zM120 5h1v1h-1zM129 5h1v1h-1zM133 5h1v1h-1zM140 5h1v1h-1zM182 5h1v1h-1zM186 5h1v1h-1zM206 5h1v1h-1zM27 6h1v1h-1zM97 6h1v1h-1zM106 6h1v1h-1zM133 6h1v1h-1zM158 6h1v1h-1zM192 6h1v1h-1zM207 6h1v1h-1zM81 7h1v1h-1zM144 7h1v1h-1z"/><path fill="#311165" d="M5 0h1v1h-1zM11 0h2v1h-2zM20 0h2v1h-2zM23 0h1v1h-1zM25 0h1v1h-1zM30 0h2v1h-2zM40 0h1v1h-1zM43 0h1v1h-1zM67 0h2v1h-2zM77 0h1v1h-1zM100 0h1v1h-1zM123 0h1v1h-1zM126 0h1v1h-1zM130 0h2v1h-2zM139 0h1v1h-1zM189 0h1v1h-1zM203 0h1v1h-1zM211 0h1v1h-1zM215 0h1v1h-1zM22 1h1v1h-1zM31 1h1v1h-1zM67 1h1v1h-1zM105 1h1v1h-1zM118 1h1v1h-1zM141 1h1v1h-1zM171 1h1v1h-1zM212 1h1v1h-1zM40 2h1v1h-1zM42 2h1v1h-1zM47 2h1v1h-1zM59 2h1v1h-1zM66 2h1v1h-1zM75 2h1v1h-1zM85 2h1v1h-1zM95 2h1v1h-1zM108 2h1v1h-1zM113 2h2v1h-2zM125 2h1v1h-1zM145 2h1v1h-1zM150 2h1v1h-1zM155 2h1v1h-1zM206 2h1v1h-1zM212 2h1v1h-1zM15 3h2v1h-2zM19 3h1v1h-1zM25 3h1v1h-1zM36 3h2v1h-2zM41 3h1v1h-1zM43 3h2v1h-2zM50 3h1v1h-1zM55 3h1v1h-1zM64 3h1v1h-1zM69 3h1v1h-1zM71 3h1v1h-1zM82 3h1v1h-1zM92 3h1v1h-1zM99 3h1v1h-1zM101 3h1v1h-1zM104 3h2v1h-2zM110 3h1v1h-1zM114 3h1v1h-1zM117 3h1v1h-1zM119 3h1v1h-1zM148 3h1v1h-1zM179 3h1v1h-1zM181 3h1v1h-1zM186 3h1v1h-1zM188 3h1v1h-1zM191 3h1v1h-1zM11 4h1v1h-1zM16 4h1v1h-1zM27 4h1v1h-1zM32 4h1v1h-1zM35 4h1v1h-1zM46 4h1v1h-1zM50 4h1v1h-1zM52 4h2v1h-2zM57 4h1v1h-1zM59 4h1v1h-1zM63 4h1v1h-1zM80 4h2v1h-2zM86 4h1v1h-1zM104 4h1v1h-1zM130 4h1v1h-1zM137 4h1v1h-1zM142 4h1v1h-1zM148 4h1v1h-1zM174 4h1v1h-1zM178 4h2v1h-2zM196 4h1v1h-1zM215 4h1v1h-1zM14 5h1v1h-1zM18 5h1v1h-1zM22 5h1v1h-1zM57 5h1v1h-1zM62 5h1v1h-1zM124 5h1v1h-1zM154 5h1v1h-1zM173 5h1v1h-1zM185 5h1v1h-1zM191 5h1v1h-1zM195 5h1v1h-1zM202 5h1v1h-1zM215 5h1v1h-1zM6 6h1v1h-1zM9 6h1v1h-1zM178 6h1v1h-1zM214 6h2v1h-2zM154 7h1v1h-1zM193 8h1v1h-1zM3 9h1v1h-1z"/><path fill="#3d0f71" d="M14 0h1v1h-1zM36 0h1v1h-1zM41 0h1v1h-1zM53 0h1v1h-1zM55 0h3v1h-3zM59 0h1v1h-1zM61 0h1v1h-1zM63 0h1v1h-1zM73 0h1v1h-1zM85 0h1v1h-1zM95 0h1v1h-1zM104 0h2v1h-2zM110 0h1v1h-1zM113 0h1v1h-1zM121 0h1v1h-1zM138 0h1v1h-1zM143 0h1v1h-1zM150 0h1v1h-1zM162 0h1v1h-1zM180 0h2v1h-2zM183 0h1v1h-1zM186 0h1v1h-1zM191 0h1v1h-1zM197 0h1v1h-1zM207 0h1v1h-1zM209 0h1v1h-1zM1 1h1v1h-1zM16 1h1v1h-1zM49 1h1v1h-1zM56 1h1v1h-1zM61 1h1v1h-1zM74 1h1v1h-1zM98 1h1v1h-1zM110 1h1v1h-1zM168 1h2v1h-2zM176 1h1v1h-1zM188 1h1v1h-1zM200 1h2v1h-2zM5 2h1v1h-1zM13 2h1v1h-1zM20 2h1v1h-1zM25 2h1v1h-1zM33 2h1v1h-1zM37 2h1v1h-1zM39 2h1v1h-1zM55 2h1v1h-1zM58 2h1v1h-1zM71 2h1v1h-1zM77 2h1v1h-1zM83 2h1v1h-1zM87 2h1v1h-1zM91 2h1v1h-1zM104 2h1v1h-1zM123 2h1v1h-1zM146 2h1v1h-1zM171 2h1v1h-1zM181 2h1v1h-1zM183 2h1v1h-1zM189 2h1v1h-1zM200 2h2v1h-2zM204 2h1v1h-1zM7 3h1v1h-1zM12 3h1v1h-1zM22 3h1v1h-1zM31 3h1v1h-1zM33 3h1v1h-1zM35 3h1v1h-1zM75 3h1v1h-1zM78 3h1v1h-1zM115 3h1v1h-1zM150 3h1v1h-1zM162 3h1v1h-1zM164 3h1v1h-1zM168 3h2v1h-2zM183 3h1v1h-1zM190 3h1v1h-1zM197 3h1v1h-1zM210 3h1v1h-1zM213 3h1v1h-1zM4 4h1v1h-1zM6 4h1v1h-1zM14 4h1v1h-1zM17 4h1v1h-1zM19 4h1v1h-1zM36 4h1v1h-1zM43 4h1v1h-1zM47 4h1v1h-1zM55 4h1v1h-1zM61 4h1v1h-1zM64 4h1v1h-1zM71 4h1v1h-1zM82 4h1v1h-1zM88 4h1v1h-1zM92 4h1v1h-1zM101 4h1v1h-1zM106 4h1v1h-1zM115 4h1v1h-1zM117 4h1v1h-1zM119 4h1v1h-1zM123 4h1v1h-1zM125 4h3v1h-3zM131 4h1v1h-1zM141 4h1v1h-1zM150 4h2v1h-2zM156 4h1v1h-1zM162 4h1v1h-1zM171 4h1v1h-1zM183 4h1v1h-1zM190 4h1v1h-1zM197 4h3v1h-3zM209 4h1v1h-1zM211 4h1v1h-1zM12 5h1v1h-1zM21 5h1v1h-1zM25 5h1v1h-1zM31 5h1v1h-1zM43 5h1v1h-1zM45 5h1v1h-1zM47 5h2v1h-2zM65 5h1v1h-1zM72 5h1v1h-1zM102 5h1v1h-1zM130 5h1v1h-1zM139 5h1v1h-1zM143 5h2v1h-2zM158 5h1v1h-1zM164 5h1v1h-1zM189 5h2v1h-2zM194 5h1v1h-1zM198 5h1v1h-1zM65 6h1v1h-1zM79 6h1v1h-1zM111 6h2v1h-2zM124 6h1v1h-1zM134 6h1v1h-1zM173 6h1v1h-1zM14 7h1v1h-1zM45 7h1v1h-1zM60 7h1v1h-1zM102 7h1v1h-1zM112 7h1v1h-1zM193 7h1v1h-1zM202 7h1v1h-1zM206 7h2v1h-2zM112 8h1v1h-1zM120 8h1v1h-1zM180 8h1v1h-1z"/><path fill="#491078" d="M8 0h1v1h-1zM13 0h1v1h-1zM17 0h1v1h-1zM37 0h1v1h-1zM50 0h1v1h-1zM72 0h1v1h-1zM76 0h1v1h-1zM80 0h1v1h-1zM90 0h1v1h-1zM99 0h1v1h-1zM103 0h1v1h-1zM119 0h2v1h-2zM134 0h2v1h-2zM145 0h1v1h-1zM149 0h1v1h-1zM155 0h1v1h-1zM187 0h1v1h-1zM196 0h1v1h-1zM204 0h1v1h-1zM13 1h1v1h-1zM37 1h1v1h-1zM50 1h1v1h-1zM52 1h2v1h-2zM59 1h1v1h-1zM62 1h1v1h-1zM75 1h1v1h-1zM148 1h1v1h-1zM165 1h1v1h-1zM197 1h1v1h-1zM199 1h1v1h-1zM204 1h1v1h-1zM18 2h1v1h-1zM64 2h1v1h-1zM72 2h1v1h-1zM80 2h1v1h-1zM100 2h1v1h-1zM116 2h1v1h-1zM131 2h2v1h-2zM136 2h1v1h-1zM149 2h1v1h-1zM156 2h1v1h-1zM197 2h1v1h-1zM17 3h1v1h-1zM23 3h2v1h-2zM34 3h1v1h-1zM52 3h1v1h-1zM61 3h1v1h-1zM72 3h1v1h-1zM83 3h1v1h-1zM135 3h1v1h-1zM151 3h1v1h-1zM184 3h1v1h-1zM196 3h1v1h-1zM200 3h1v1h-1zM211 3h2v1h-2zM215 3h1v1h-1zM2 4h1v1h-1zM24 4h2v1h-2zM34 4h1v1h-1zM41 4h2v1h-2zM51 4h1v1h-1zM54 4h1v1h-1zM58 4h1v1h-1zM72 4h1v1h-1zM75 4h1v1h-1zM87 4h1v1h-1zM98 4h2v1h-2zM116 4h1v1h-1zM118 4h1v1h-1zM121 4h1v1h-1zM132 4h1v1h-1zM139 4h1v1h-1zM143 4h1v1h-1zM145 4h1v1h-1zM160 4h1v1h-1zM163 4h1v1h-1zM170 4h1v1h-1zM173 4h1v1h-1zM175 4h1v1h-1zM200 4h1v1h-1zM210 4h1v1h-1zM213 4h1v1h-1zM4 5h1v1h-1zM6 5h1v1h-1zM19 5h1v1h-1zM27 5h1v1h-1zM51 5h1v1h-1zM67 5h1v1h-1zM78 5h2v1h-2zM84 5h1v1h-1zM86 5h1v1h-1zM88 5h1v1h-1zM90 5h1v1h-1zM97 5h1v1h-1zM99 5h1v1h-1zM117 5h1v1h-1zM122 5h1v1h-1zM125 5h1v1h-1zM131 5h2v1h-2zM134 5h2v1h-2zM148 5h1v1h-1zM150 5h2v1h-2zM162 5h2v1h-2zM168 5h1v1h-1zM170 5h1v1h-1zM172 5h1v1h-1zM175 5h1v1h-1zM180 5h1v1h-1zM204 5h1v1h-1zM207 5h1v1h-1zM209 5h2v1h-2zM7 6h1v1h-1zM11 6h1v1h-1zM15 6h1v1h-1zM28 6h1v1h-1zM60 6h1v1h-1zM140 6h1v1h-1zM159 6h1v1h-1zM180 6h1v1h-1zM206 6h1v1h-1zM213 6h1v1h-1zM6 7h1v1h-1zM184 7h1v1h-1zM192 9h1v1h-1z"/><path fill="#52137c" d="M26 0h1v1h-1zM34 0h1v1h-1zM39 0h1v1h-1zM75 0h1v1h-1zM78 0h1v1h-1zM87 0h1v1h-1zM116 0h1v1h-1zM118 0h1v1h-1zM125 0h1v1h-1zM128 0h1v1h-1zM136 0h1v1h-1zM168 0h1v1h-1zM175 0h1v1h-1zM190 0h1v1h-1zM198 0h1v1h-1zM210 0h1v1h-1zM212 0h1v1h-1zM83 1h1v1h-1zM108 1h1v1h-1zM155 1h1v1h-1zM181 1h1v1h-1zM23 2h1v1h-1zM30 2h1v1h-1zM34 2h1v1h-1zM43 2h1v1h-1zM110 2h1v1h-1zM118 2h1v1h-1zM128 2h1v1h-1zM165 2h1v1h-1zM39 3h1v1h-1zM51 3h1v1h-1zM54 3h1v1h-1zM76 3h2v1h-2zM80 3h1v1h-1zM87 3h1v1h-1zM98 3h1v1h-1zM100 3h1v1h-1zM113 3h1v1h-1zM157 3h1v1h-1zM165 3h1v1h-1zM0 4h1v1h-1zM5 4h1v1h-1zM21 4h1v1h-1zM26 4h1v1h-1zM39 4h2v1h-2zM56 4h1v1h-1zM70 4h1v1h-1zM73 4h2v1h-2zM76 4h1v1h-1zM105 4h1v1h-1zM114 4h1v1h-1zM134 4h1v1h-1zM136 4h1v1h-1zM149 4h1v1h-1zM155 4h1v1h-1zM195 4h1v1h-1zM201 4h1v1h-1zM212 4h1v1h-1zM1 5h1v1h-1zM15 5h1v1h-1zM35 5h2v1h-2zM40 5h1v1h-1zM63 5h1v1h-1zM68 5h1v1h-1zM75 5h1v1h-1zM89 5h1v1h-1zM95 5h1v1h-1zM111 5h1v1h-1zM116 5h1v1h-1zM121 5h1v1h-1zM147 5h1v1h-1zM157 5h1v1h-1zM159 5h1v1h-1zM177 5h1v1h-1zM179 5h1v1h-1zM181 5h1v1h-1zM31 6h1v1h-1zM43 6h1v1h-1zM46 6h1v1h-1zM48 6h1v1h-1zM57 6h1v1h-1zM84 6h1v1h-1zM114 6h1v1h-1zM130 6h1v1h-1zM145 6h1v1h-1zM160 6h1v1h-1zM174 6h1v1h-1zM184 6h2v1h-2zM208 6h2v1h-2zM124 7h1v1h-1zM140 7h1v1h-1zM45 8h1v1h-1zM45 9h1v1h-1z"/><path fill="#5d177f" d="M2 0h1v1h-1zM6 0h1v1h-1zM49 0h1v1h-1zM52 0h1v1h-1zM82 0h1v1h-1zM101 0h1v1h-1zM132 0h1v1h-1zM200 0h1v1h-1zM128 1h1v1h-1zM211 1h1v1h-1zM52 2h1v1h-1zM107 2h1v1h-1zM135 2h1v1h-1zM26 3h1v1h-1zM56 3h1v1h-1zM74 3h1v1h-1zM128 3h1v1h-1zM136 3h1v1h-1zM147 3h1v1h-1zM149 3h1v1h-1zM156 3h1v1h-1zM170 3h1v1h-1zM204 3h1v1h-1zM18 4h1v1h-1zM20 4h1v1h-1zM22 4h1v1h-1zM33 4h1v1h-1zM83 4h1v1h-1zM128 4h1v1h-1zM147 4h1v1h-1zM191 4h1v1h-1zM204 4h1v1h-1zM9 5h2v1h-2zM16 5h1v1h-1zM20 5h1v1h-1zM26 5h1v1h-1zM29 5h2v1h-2zM41 5h1v1h-1zM55 5h1v1h-1zM66 5h1v1h-1zM77 5h1v1h-1zM85 5h1v1h-1zM114 5h1v1h-1zM128 5h1v1h-1zM141 5h2v1h-2zM156 5h1v1h-1zM176 5h1v1h-1zM183 5h1v1h-1zM203 5h1v1h-1zM1 6h1v1h-1zM47 6h1v1h-1zM81 6h1v1h-1zM115 6h1v1h-1zM144 6h1v1h-1zM179 6h1v1h-1zM28 7h1v1h-1zM78 7h1v1h-1zM85 7h2v1h-2zM125 7h1v1h-1zM127 7h1v1h-1zM158 7h1v1h-1zM192 7h1v1h-1zM3 8h1v1h-1zM28 8h1v1h-1zM68 8h1v1h-1zM102 8h1v1h-1zM60 9h1v1h-1z"/><path fill="#671b80" d="M27 0h1v1h-1zM44 0h1v1h-1zM64 0h1v1h-1zM154 0h1v1h-1zM165 0h1v1h-1zM17 1h1v1h-1zM0 2h1v1h-1zM188 2h1v1h-1zM67 3h1v1h-1zM107 3h1v1h-1zM110 4h1v1h-1zM113 4h1v1h-1zM135 4h1v1h-1zM184 4h1v1h-1zM7 5h1v1h-1zM13 5h1v1h-1zM23 5h1v1h-1zM34 5h1v1h-1zM37 5h1v1h-1zM46 5h1v1h-1zM53 5h2v1h-2zM58 5h2v1h-2zM71 5h1v1h-1zM73 5h2v1h-2zM80 5h1v1h-1zM87 5h1v1h-1zM92 5h1v1h-1zM101 5h1v1h-1zM105 5h1v1h-1zM160 5h1v1h-1zM165 5h1v1h-1zM178 5h1v1h-1zM187 5h1v1h-1zM199 5h1v1h-1zM211 5h2v1h-2zM16 6h1v1h-1zM22 6h1v1h-1zM40 6h1v1h-1zM45 6h1v1h-1zM55 6h1v1h-1zM66 6h1v1h-1zM73 6h1v1h-1zM80 6h1v1h-1zM86 6h1v1h-1zM89 6h2v1h-2zM117 6h1v1h-1zM119 6h1v1h-1zM121 6h1v1h-1zM151 6h1v1h-1zM182 6h1v1h-1zM186 6h1v1h-1zM191 6h1v1h-1zM202 6h2v1h-2zM10 7h1v1h-1zM15 7h1v1h-1zM117 7h1v1h-1zM130 7h1v1h-1zM180 7h1v1h-1zM186 7h1v1h-1zM189 7h2v1h-2zM205 7h1v1h-1zM69 8h1v1h-1zM203 8h1v1h-1zM14 9h1v1h-1zM102 9h1v1h-1zM112 9h1v1h-1z"/><path fill="#721f81" d="M83 0h1v1h-1zM89 0h1v1h-1zM108 0h1v1h-1zM171 0h1v1h-1zM108 3h1v1h-1zM171 3h1v1h-1zM23 4h1v1h-1zM37 4h1v1h-1zM67 4h1v1h-1zM188 4h1v1h-1zM0 5h1v1h-1zM39 5h1v1h-1zM50 5h1v1h-1zM56 5h1v1h-1zM83 5h1v1h-1zM96 5h1v1h-1zM106 5h1v1h-1zM109 5h1v1h-1zM115 5h1v1h-1zM119 5h1v1h-1zM136 5h1v1h-1zM138 5h1v1h-1zM146 5h1v1h-1zM155 5h1v1h-1zM169 5h1v1h-1zM171 5h1v1h-1zM184 5h1v1h-1zM196 5h1v1h-1zM213 5h1v1h-1zM5 6h1v1h-1zM10 6h1v1h-1zM30 6h1v1h-1zM34 6h1v1h-1zM41 6h1v1h-1zM77 6h1v1h-1zM87 6h1v1h-1zM120 6h1v1h-1zM137 6h2v1h-2zM154 6h1v1h-1zM164 6h1v1h-1zM196 6h1v1h-1zM198 6h1v1h-1zM210 6h1v1h-1zM1 7h1v1h-1zM3 7h1v1h-1zM79 7h1v1h-1zM91 7h1v1h-1zM103 7h1v1h-1zM111 7h1v1h-1zM122 7h1v1h-1zM133 7h1v1h-1zM137 7h1v1h-1zM161 7h1v1h-1zM208 7h1v1h-1zM126 8h1v1h-1zM192 8h1v1h-1zM10 9h1v1h-1zM28 9h1v1h-1zM185 9h1v1h-1zM214 9h1v1h-1z"/><path fill="#7b2382" d="M18 0h1v1h-1zM22 0h1v1h-1zM51 0h1v1h-1zM64 1h1v1h-1zM201 3h1v1h-1zM181 4h1v1h-1zM2 5h1v1h-1zM70 5h1v1h-1zM107 5h1v1h-1zM110 5h1v1h-1zM113 5h1v1h-1zM118 5h1v1h-1zM161 5h1v1h-1zM201 5h1v1h-1zM2 6h1v1h-1zM4 6h1v1h-1zM14 6h1v1h-1zM19 6h1v1h-1zM24 6h1v1h-1zM39 6h1v1h-1zM62 6h2v1h-2zM68 6h1v1h-1zM88 6h1v1h-1zM95 6h1v1h-1zM105 6h1v1h-1zM136 6h1v1h-1zM141 6h3v1h-3zM148 6h1v1h-1zM161 6h1v1h-1zM187 6h1v1h-1zM189 6h1v1h-1zM194 6h1v1h-1zM19 7h1v1h-1zM31 7h1v1h-1zM36 7h1v1h-1zM38 7h1v1h-1zM40 7h1v1h-1zM68 7h2v1h-2zM88 7h1v1h-1zM119 7h1v1h-1zM129 7h1v1h-1zM177 7h2v1h-2zM2 8h1v1h-1zM5 8h1v1h-1zM14 8h1v1h-1zM48 8h1v1h-1zM60 8h1v1h-1zM154 8h1v1h-1zM184 8h1v1h-1zM189 8h1v1h-1zM208 8h1v1h-1zM15 9h1v1h-1zM88 9h1v1h-1zM111 9h1v1h-1zM140 9h1v1h-1zM202 9h1v1h-1zM205 9h1v1h-1z"/><path fill="#862781" d="M159 0h1v1h-1zM213 0h1v1h-1zM123 3h1v1h-1zM96 4h1v1h-1zM107 4h2v1h-2zM165 4h1v1h-1zM33 5h1v1h-1zM42 5h1v1h-1zM52 5h1v1h-1zM64 5h1v1h-1zM76 5h1v1h-1zM82 5h1v1h-1zM98 5h1v1h-1zM149 5h1v1h-1zM13 6h1v1h-1zM17 6h2v1h-2zM25 6h1v1h-1zM33 6h1v1h-1zM35 6h1v1h-1zM103 6h1v1h-1zM110 6h1v1h-1zM118 6h1v1h-1zM127 6h1v1h-1zM139 6h1v1h-1zM155 6h1v1h-1zM163 6h1v1h-1zM183 6h1v1h-1zM190 6h1v1h-1zM195 6h1v1h-1zM199 6h1v1h-1zM11 7h1v1h-1zM13 7h1v1h-1zM27 7h1v1h-1zM30 7h1v1h-1zM49 7h1v1h-1zM70 7h1v1h-1zM77 7h1v1h-1zM82 7h1v1h-1zM89 7h1v1h-1zM106 7h1v1h-1zM9 8h1v1h-1zM49 8h1v1h-1zM66 8h1v1h-1zM78 8h2v1h-2zM81 8h1v1h-1zM86 8h1v1h-1zM88 8h1v1h-1zM198 8h1v1h-1zM6 9h1v1h-1zM21 9h1v1h-1zM38 9h1v1h-1zM40 9h1v1h-1zM68 9h1v1h-1z"/><path fill="#912b81" d="M0 0h1v1h-1zM24 5h1v1h-1zM44 5h1v1h-1zM61 5h1v1h-1zM197 5h1v1h-1zM12 6h1v1h-1zM42 6h1v1h-1zM50 6h1v1h-1zM82 6h1v1h-1zM101 6h1v1h-1zM104 6h1v1h-1zM107 6h1v1h-1zM131 6h1v1h-1zM169 6h4v1h-4zM177 6h1v1h-1zM205 6h1v1h-1zM9 7h1v1h-1zM17 7h1v1h-1zM33 7h1v1h-1zM43 7h1v1h-1zM48 7h1v1h-1zM54 7h1v1h-1zM62 7h1v1h-1zM65 7h1v1h-1zM126 7h1v1h-1zM159 7h1v1h-1zM172 7h1v1h-1zM182 7h1v1h-1zM199 7h1v1h-1zM11 8h1v1h-1zM38 8h1v1h-1zM101 8h1v1h-1zM144 8h1v1h-1zM159 8h1v1h-1zM163 8h1v1h-1zM170 8h1v1h-1zM185 8h1v1h-1zM202 8h1v1h-1zM214 8h1v1h-1zM11 9h1v1h-1zM49 9h1v1h-1zM138 9h1v1h-1zM189 9h1v1h-1zM203 9h1v1h-1z"/><path fill="#9b2e7f" d="M17 5h1v1h-1zM100 5h1v1h-1zM104 5h1v1h-1zM123 5h1v1h-1zM188 5h1v1h-1zM51 6h1v1h-1zM69 6h1v1h-1zM91 6h1v1h-1zM99 6h1v1h-1zM109 6h1v1h-1zM116 6h1v1h-1zM125 6h2v1h-2zM146 6h2v1h-2zM157 6h1v1h-1zM165 6h1v1h-1zM168 6h1v1h-1zM25 7h1v1h-1zM46 7h1v1h-1zM57 7h1v1h-1zM116 7h1v1h-1zM131 7h1v1h-1zM156 7h1v1h-1zM163 7h1v1h-1zM203 7h2v1h-2zM27 8h1v1h-1zM41 8h1v1h-1zM97 8h1v1h-1zM111 8h1v1h-1zM133 8h1v1h-1zM174 8h1v1h-1zM190 8h1v1h-1zM196 8h1v1h-1zM205 8h2v1h-2zM43 9h1v1h-1zM66 9h1v1h-1zM97 9h1v1h-1zM161 9h1v1h-1zM170 9h1v1h-1zM174 9h1v1h-1zM178 9h1v1h-1z"/><path fill="#a6317d" d="M29 6h1v1h-1zM36 6h1v1h-1zM58 6h1v1h-1zM64 6h1v1h-1zM92 6h1v1h-1zM96 6h1v1h-1zM122 6h1v1h-1zM129 6h1v1h-1zM149 6h1v1h-1zM176 6h1v1h-1zM2 7h1v1h-1zM5 7h1v1h-1zM8 7h1v1h-1zM37 7h1v1h-1zM41 7h1v1h-1zM47 7h1v1h-1zM66 7h1v1h-1zM73 7h1v1h-1zM80 7h1v1h-1zM84 7h1v1h-1zM95 7h1v1h-1zM97 7h1v1h-1zM109 7h1v1h-1zM114 7h1v1h-1zM141 7h1v1h-1zM157 7h1v1h-1zM168 7h1v1h-1zM170 7h1v1h-1zM173 7h1v1h-1zM185 7h1v1h-1zM196 7h1v1h-1zM213 7h2v1h-2zM1 8h1v1h-1zM6 8h1v1h-1zM21 8h1v1h-1zM43 8h1v1h-1zM89 8h1v1h-1zM91 8h1v1h-1zM99 8h1v1h-1zM65 9h1v1h-1zM81 9h1v1h-1zM86 9h1v1h-1zM95 9h1v1h-1zM106 9h1v1h-1zM124 9h2v1h-2zM148 9h1v1h-1zM159 9h1v1h-1zM184 9h1v1h-1zM186 9h1v1h-1zM193 9h1v1h-1z"/><path fill="#b0357b" d="M200 5h1v1h-1zM23 6h1v1h-1zM26 6h1v1h-1zM32 6h1v1h-1zM59 6h1v1h-1zM61 6h1v1h-1zM70 6h1v1h-1zM128 6h1v1h-1zM156 6h1v1h-1zM162 6h1v1h-1zM175 6h1v1h-1zM181 6h1v1h-1zM204 6h1v1h-1zM211 6h1v1h-1zM29 7h1v1h-1zM58 7h1v1h-1zM75 7h1v1h-1zM105 7h1v1h-1zM118 7h1v1h-1zM148 7h1v1h-1zM160 7h1v1h-1zM176 7h1v1h-1zM179 7h1v1h-1zM183 7h1v1h-1zM194 7h2v1h-2zM209 7h1v1h-1zM13 8h1v1h-1zM18 8h1v1h-1zM57 8h1v1h-1zM62 8h2v1h-2zM65 8h1v1h-1zM77 8h1v1h-1zM95 8h1v1h-1zM132 8h1v1h-1zM142 8h1v1h-1zM158 8h1v1h-1zM160 8h1v1h-1zM182 8h2v1h-2zM213 8h1v1h-1zM4 9h1v1h-1zM9 9h1v1h-1zM48 9h1v1h-1zM78 9h1v1h-1zM120 9h1v1h-1zM134 9h1v1h-1zM190 9h1v1h-1zM198 9h1v1h-1zM207 9h1v1h-1z"/><path fill="#bc3978" d="M108 5h1v1h-1zM21 6h1v1h-1zM52 6h2v1h-2zM56 6h1v1h-1zM71 6h1v1h-1zM75 6h2v1h-2zM83 6h1v1h-1zM188 6h1v1h-1zM201 6h1v1h-1zM32 7h1v1h-1zM55 7h1v1h-1zM59 7h1v1h-1zM63 7h1v1h-1zM71 7h1v1h-1zM87 7h1v1h-1zM98 7h2v1h-2zM101 7h1v1h-1zM108 7h1v1h-1zM115 7h1v1h-1zM132 7h1v1h-1zM134 7h1v1h-1zM138 7h1v1h-1zM147 7h1v1h-1zM174 7h1v1h-1zM187 7h1v1h-1zM210 7h1v1h-1zM4 8h1v1h-1zM8 8h1v1h-1zM10 8h1v1h-1zM26 8h1v1h-1zM30 8h1v1h-1zM58 8h1v1h-1zM103 8h1v1h-1zM109 8h1v1h-1zM125 8h1v1h-1zM141 8h1v1h-1zM143 8h1v1h-1zM145 8h1v1h-1zM161 8h1v1h-1zM171 8h1v1h-1zM178 8h2v1h-2zM186 8h1v1h-1zM194 8h1v1h-1zM2 9h1v1h-1zM19 9h1v1h-1zM31 9h1v1h-1zM41 9h1v1h-1zM54 9h1v1h-1zM57 9h1v1h-1zM59 9h1v1h-1zM84 9h1v1h-1zM109 9h1v1h-1zM115 9h1v1h-1zM163 9h1v1h-1zM206 9h1v1h-1z"/><path fill="#c53c74" d="M0 6h1v1h-1zM37 6h1v1h-1zM44 6h1v1h-1zM54 6h1v1h-1zM72 6h1v1h-1zM74 6h1v1h-1zM98 6h1v1h-1zM113 6h1v1h-1zM150 6h1v1h-1zM200 6h1v1h-1zM39 7h1v1h-1zM44 7h1v1h-1zM51 7h1v1h-1zM90 7h1v1h-1zM145 7h1v1h-1zM149 7h1v1h-1zM171 7h1v1h-1zM191 7h1v1h-1zM198 7h1v1h-1zM7 8h1v1h-1zM15 8h1v1h-1zM35 8h1v1h-1zM51 8h1v1h-1zM85 8h1v1h-1zM105 8h1v1h-1zM113 8h1v1h-1zM117 8h1v1h-1zM124 8h1v1h-1zM130 8h1v1h-1zM140 8h1v1h-1zM168 8h1v1h-1zM173 8h1v1h-1zM176 8h1v1h-1zM187 8h1v1h-1zM199 8h1v1h-1zM207 8h1v1h-1zM30 9h1v1h-1zM62 9h1v1h-1zM71 9h1v1h-1zM79 9h1v1h-1zM91 9h1v1h-1zM101 9h1v1h-1zM126 9h1v1h-1zM144 9h1v1h-1zM157 9h2v1h-2zM173 9h1v1h-1zM180 9h1v1h-1zM194 9h1v1h-1z"/><path fill="#d0416f" d="M8 6h1v1h-1zM100 6h1v1h-1zM123 6h1v1h-1zM132 6h1v1h-1zM135 6h1v1h-1zM212 6h1v1h-1zM18 7h1v1h-1zM26 7h1v1h-1zM34 7h1v1h-1zM42 7h1v1h-1zM76 7h1v1h-1zM146 7h1v1h-1zM150 7h1v1h-1zM164 7h1v1h-1zM212 7h1v1h-1zM46 8h1v1h-1zM54 8h1v1h-1zM87 8h1v1h-1zM116 8h1v1h-1zM119 8h1v1h-1zM127 8h1v1h-1zM138 8h1v1h-1zM147 8h2v1h-2zM151 8h1v1h-1zM157 8h1v1h-1zM164 8h1v1h-1zM172 8h1v1h-1zM195 8h1v1h-1zM210 8h1v1h-1zM12 9h1v1h-1zM25 9h1v1h-1zM32 9h3v1h-3zM42 9h1v1h-1zM63 9h1v1h-1zM69 9h1v1h-1zM85 9h1v1h-1zM135 9h1v1h-1zM137 9h1v1h-1zM168 9h1v1h-1zM191 9h1v1h-1z"/><path fill="#d9466b" d="M4 7h1v1h-1zM22 7h1v1h-1zM35 7h1v1h-1zM72 7h1v1h-1zM104 7h1v1h-1zM113 7h1v1h-1zM121 7h1v1h-1zM123 7h1v1h-1zM143 7h1v1h-1zM151 7h1v1h-1zM211 7h1v1h-1zM215 7h1v1h-1zM12 8h1v1h-1zM19 8h1v1h-1zM25 8h1v1h-1zM32 8h1v1h-1zM40 8h1v1h-1zM71 8h1v1h-1zM75 8h1v1h-1zM106 8h1v1h-1zM121 8h1v1h-1zM137 8h1v1h-1zM146 8h1v1h-1zM150 8h1v1h-1zM162 8h1v1h-1zM169 8h1v1h-1zM175 8h1v1h-1zM177 8h1v1h-1zM191 8h1v1h-1zM211 8h1v1h-1zM35 9h2v1h-2zM51 9h1v1h-1zM77 9h1v1h-1zM103 9h1v1h-1zM121 9h1v1h-1zM136 9h1v1h-1zM139 9h1v1h-1zM199 9h1v1h-1zM215 9h1v1h-1z"/><path fill="#e34e65" d="M20 6h1v1h-1zM53 7h1v1h-1zM56 7h1v1h-1zM139 7h1v1h-1zM155 7h1v1h-1zM162 7h1v1h-1zM165 7h1v1h-1zM169 7h1v1h-1zM29 8h1v1h-1zM33 8h1v1h-1zM36 8h1v1h-1zM47 8h1v1h-1zM59 8h1v1h-1zM83 8h1v1h-1zM90 8h1v1h-1zM98 8h1v1h-1zM114 8h1v1h-1zM128 8h1v1h-1zM156 8h1v1h-1zM200 8h1v1h-1zM5 9h1v1h-1zM7 9h1v1h-1zM105 9h1v1h-1zM117 9h1v1h-1zM131 9h1v1h-1zM142 9h2v1h-2zM150 9h1v1h-1zM160 9h1v1h-1zM162 9h1v1h-1zM164 9h1v1h-1zM182 9h1v1h-1zM196 9h1v1h-1zM208 9h1v1h-1z"/><path fill="#eb5760" d="M16 7h1v1h-1zM20 7h1v1h-1zM61 7h1v1h-1zM96 7h1v1h-1zM100 7h1v1h-1zM0 8h1v1h-1zM24 8h1v1h-1zM42 8h1v1h-1zM73 8h1v1h-1zM134 8h1v1h-1zM1 9h1v1h-1zM75 9h1v1h-1zM127 9h1v1h-1zM132 9h2v1h-2zM151 9h1v1h-1zM172 9h1v1h-1zM183 9h1v1h-1zM195 9h1v1h-1zM213 9h1v1h-1z"/><path fill="#f1605d" d="M67 6h1v1h-1zM108 6h1v1h-1zM7 7h1v1h-1zM21 7h1v1h-1zM181 7h1v1h-1zM197 7h1v1h-1zM17 8h1v1h-1zM20 8h1v1h-1zM31 8h1v1h-1zM53 8h1v1h-1zM67 8h1v1h-1zM96 8h1v1h-1zM100 8h1v1h-1zM122 8h2v1h-2zM155 8h1v1h-1zM204 8h1v1h-1zM209 8h1v1h-1zM8 9h1v1h-1zM27 9h1v1h-1zM29 9h1v1h-1zM39 9h1v1h-1zM67 9h1v1h-1zM80 9h1v1h-1zM90 9h1v1h-1zM129 9h2v1h-2zM154 9h1v1h-1zM169 9h1v1h-1zM209 9h1v1h-1z"/><path fill="#f66c5c" d="M12 7h1v1h-1zM50 7h1v1h-1zM107 7h1v1h-1zM16 8h1v1h-1zM23 8h1v1h-1zM34 8h1v1h-1zM76 8h1v1h-1zM82 8h1v1h-1zM84 8h1v1h-1zM188 8h1v1h-1zM215 8h1v1h-1zM87 9h1v1h-1zM118 9h1v1h-1zM141 9h1v1h-1zM147 9h1v1h-1zM176 9h2v1h-2zM181 9h1v1h-1zM210 9h1v1h-1z"/><path fill="#f9785d" d="M197 6h1v1h-1zM23 7h2v1h-2zM142 7h1v1h-1zM175 7h1v1h-1zM200 7h1v1h-1zM50 8h1v1h-1zM92 8h1v1h-1zM108 8h1v1h-1zM118 8h1v1h-1zM129 8h1v1h-1zM136 8h1v1h-1zM212 8h1v1h-1zM58 9h1v1h-1zM70 9h1v1h-1zM104 9h1v1h-1zM204 9h1v1h-1z"/><path fill="#fb8560" d="M0 7h1v1h-1zM74 7h1v1h-1zM83 7h1v1h-1zM135 7h2v1h-2zM22 8h1v1h-1zM55 8h1v1h-1zM74 8h1v1h-1zM80 8h1v1h-1zM115 8h1v1h-1zM131 8h1v1h-1zM139 8h1v1h-1zM181 8h1v1h-1zM201 8h1v1h-1zM13 9h1v1h-1zM16 9h1v1h-1zM22 9h1v1h-1zM50 9h1v1h-1zM76 9h1v1h-1zM98 9h1v1h-1zM100 9h1v1h-1zM122 9h1v1h-1zM179 9h1v1h-1zM201 9h1v1h-1z"/><path fill="#fc9065" d="M64 7h1v1h-1zM67 7h1v1h-1zM110 7h1v1h-1zM128 7h1v1h-1zM37 8h1v1h-1zM56 8h1v1h-1zM64 8h1v1h-1zM104 8h1v1h-1zM18 9h1v1h-1zM55 9h2v1h-2zM82 9h1v1h-1zM92 9h1v1h-1zM114 9h1v1h-1zM116 9h1v1h-1zM119 9h1v1h-1zM149 9h1v1h-1zM200 9h1v1h-1zM211 9h1v1h-1z"/><path fill="#fe9d6c" d="M52 7h1v1h-1zM92 7h1v1h-1zM188 7h1v1h-1zM201 7h1v1h-1zM72 8h1v1h-1zM149 8h1v1h-1zM46 9h1v1h-1zM74 9h1v1h-1zM128 9h1v1h-1zM146 9h1v1h-1zM155 9h1v1h-1zM171 9h1v1h-1zM175 9h1v1h-1z"/><path fill="#feaa74" d="M70 8h1v1h-1zM110 8h1v1h-1zM197 8h1v1h-1zM20 9h1v1h-1zM108 9h1v1h-1zM113 9h1v1h-1zM123 9h1v1h-1zM212 9h1v1h-1z"/><path fill="#feb67c" d="M39 8h1v1h-1zM135 8h1v1h-1zM26 9h1v1h-1zM53 9h1v1h-1zM72 9h1v1h-1zM96 9h1v1h-1zM99 9h1v1h-1zM107 9h1v1h-1zM145 9h1v1h-1zM187 9h1v1h-1zM197 9h1v1h-1z"/><path fill="#fec287" d="M44 8h1v1h-1zM165 8h1v1h-1zM23 9h2v1h-2zM37 9h1v1h-1zM64 9h1v1h-1zM188 9h1v1h-1z"/><path fill="#fecd90" d="M52 8h1v1h-1zM107 8h1v1h-1zM17 9h1v1h-1zM52 9h1v1h-1zM61 9h1v1h-1zM73 9h1v1h-1zM89 9h1v1h-1z"/><path fill="#fdda9c" d="M44 9h1v1h-1zM47 9h1v1h-1z"/><path fill="#fde5a7" d="M61 8h1v1h-1zM156 9h1v1h-1zM165 9h1v1h-1z"/><path fill="#fcf2b4" d="M110 9h1v1h-1z"/><path fill="#fcfdbf" d="M0 9h1v1h-1zM83 9h1v1h-1z"/></g><rect x="43.3" y="1162.6" width="222.1" height="164.2" fill="none" stroke="#333" stroke-width="1.1"/><text x="43.6" y="1152.9" font-size="15.36">Lung_cancer</text><text x="38.3" y="1315.5" font-size="10.24" text-anchor="end" fill="#4D4D4D">120</text><path d="M40.1 1311.9H43.3" stroke="#333" stroke-width="1.1"/><text x="38.3" y="1285.64" font-size="10.24" text-anchor="end" fill="#4D4D4D">140</text><path d="M40.1 1282.04H43.3" stroke="#333" stroke-width="1.1"/><text x="38.3" y="1255.78" font-size="10.24" text-anchor="end" fill="#4D4D4D">160</text><path d="M40.1 1252.18H43.3" stroke="#333" stroke-width="1.1"/><text x="38.3" y="1225.92" font-size="10.24" text-anchor="end" fill="#4D4D4D">180</text><path d="M40.1 1222.32H43.3" stroke="#333" stroke-width="1.1"/><text x="38.3" y="1196.06" font-size="10.24" text-anchor="end" fill="#4D4D4D">200</text><path d="M40.1 1192.46H43.3" stroke="#333" stroke-width="1.1"/><text x="38.3" y="1166.2" font-size="10.24" text-anchor="end" fill="#4D4D4D">220</text><path d="M40.1 1162.6H43.3" stroke="#333" stroke-width="1.1"/><text x="53.4" y="1340.2" font-size="10.24" text-anchor="middle" fill="#4D4D4D">0</text><path d="M53.4 1326.8V1330" stroke="#333" stroke-width="1.1"/><text x="100.2" y="1340.2" font-size="10.24" text-anchor="middle" fill="#4D4D4D">50</text><path d="M100.2 1326.8V1330" stroke="#333" stroke-width="1.1"/><text x="147" y="1340.2" font-size="10.24" text-anchor="middle" fill="#4D4D4D">100</text><path d="M147 1326.8V1330" stroke="#333" stroke-width="1.1"/><text x="193.8" y="1340.2" font-size="10.24" text-anchor="middle" fill="#4D4D4D">150</text><path d="M193.8 1326.8V1330" stroke="#333" stroke-width="1.1"/><text x="240.6" y="1340.2" font-size="10.24" text-anchor="middle" fill="#4D4D4D">200</text><path d="M240.6 1326.8V1330" stroke="#333" stroke-width="1.1"/><text x="154.35" y="1354.6" font-size="12.7" text-anchor="middle">genomic position</text><text transform="translate(14.6 1244.7) rotate(-90)" font-size="12.7" text-anchor="middle">fragment size</text><rect x="285.2" y="1203.6" width="19.8" height="99.3" fill="url(#g44)"/><text x="284.9" y="1195.7" font-size="12.7">value</text><path d="M285.2 1302.9H288.8" stroke="#fff" stroke-width="0.9"/><path d="M301.4 1302.9H305" stroke="#fff" stroke-width="0.9"/><text x="311.6" y="1306.5" font-size="10.24">0.00</text><path d="M285.2 1278.08H288.8" stroke="#fff" stroke-width="0.9"/><path d="M301.4 1278.08H305" stroke="#fff" stroke-width="0.9"/><text x="311.6" y="1281.67" font-size="10.24">0.25</text><path d="M285.2 1253.25H288.8" stroke="#fff" stroke-width="0.9"/><path d="M301.4 1253.25H305" stroke="#fff" stroke-width="0.9"/><text x="311.6" y="1256.85" font-size="10.24">0.50</text><path d="M285.2 1228.42H288.8" stroke="#fff" stroke-width="0.9"/><path d="M301.4 1228.42H305" stroke="#fff" stroke-width="0.9"/><text x="311.6" y="1232.02" font-size="10.24">0.75</text><path d="M285.2 1203.6H288.8" stroke="#fff" stroke-width="0.9"/><path d="M301.4 1203.6H305" stroke="#fff" stroke-width="0.9"/><text x="311.6" y="1207.2" font-size="10.24">1.00</text><path d="M389 1326.83H611.1" stroke="#EBEBEB" stroke-width="0.55"/><path d="M389 1296.97H611.1" stroke="#EBEBEB" stroke-width="0.55"/><path d="M389 1267.11H611.1" stroke="#EBEBEB" stroke-width="0.55"/><path d="M389 1237.25H611.1" stroke="#EBEBEB" stroke-width="0.55"/><path d="M389 1207.39H611.1" stroke="#EBEBEB" stroke-width="0.55"/><path d="M389 1177.53H611.1" stroke="#EBEBEB" stroke-width="0.55"/><path d="M422.5 1162.6V1326.8" stroke="#EBEBEB" stroke-width="0.55"/><path d="M469.3 1162.6V1326.8" stroke="#EBEBEB" stroke-width="0.55"/><path d="M516.1 1162.6V1326.8" stroke="#EBEBEB" stroke-width="0.55"/><path d="M562.9 1162.6V1326.8" stroke="#EBEBEB" stroke-width="0.55"/><path d="M609.7 1162.6V1326.8" stroke="#EBEBEB" stroke-width="0.55"/><path d="M389 1311.9H611.1" stroke="#EBEBEB" stroke-width="1.1"/><path d="M389 1282.04H611.1" stroke="#EBEBEB" stroke-width="1.1"/><path d="M389 1252.18H611.1" stroke="#EBEBEB" stroke-width="1.1"/><path d="M389 1222.32H611.1" stroke="#EBEBEB" stroke-width="1.1"/><path d="M389 1192.46H611.1" stroke="#EBEBEB" stroke-width="1.1"/><path d="M389 1162.6H611.1" stroke="#EBEBEB" stroke-width="1.1"/><path d="M399.1 1162.6V1326.8" stroke="#EBEBEB" stroke-width="1.1"/><path d="M445.9 1162.6V1326.8" stroke="#EBEBEB" stroke-width="1.1"/><path d="M492.7 1162.6V1326.8" stroke="#EBEBEB" stroke-width="1.1"/><path d="M539.5 1162.6V1326.8" stroke="#EBEBEB" stroke-width="1.1"/><path d="M586.3 1162.6V1326.8" stroke="#EBEBEB" stroke-width="1.1"/><g transform="translate(399.57 1170.07) scale(0.9360 14.9300)"><rect x="0" y="0" width="216" height="1" fill="#0e0b2b"/><rect x="0" y="1" width="216" height="1" fill="#0d0a29"/><rect x="0" y="2" width="216" height="1" fill="#0d0a29"/><rect x="0" y="3" width="216" height="1" fill="#0d0a29"/><rect x="0" y="4" width="216" height="1" fill="#0e0b2b"/><rect x="0" y="5" width="216" height="1" fill="#0e0b2b"/><rect x="0" y="6" width="216" height="1" fill="#110c2f"/><rect x="0" y="7" width="216" height="1" fill="#140e36"/><rect x="0" y="8" width="216" height="1" fill="#140e36"/><rect x="0" y="9" width="216" height="1" fill="#150e38"/><path fill="#000004" d="M5 0h1v1h-1zM25 0h1v1h-1zM27 0h2v1h-2zM37 0h1v1h-1zM81 0h1v1h-1zM85 0h1v1h-1zM138 0h1v1h-1zM150 0h1v1h-1zM179 0h1v1h-1zM191 0h1v1h-1zM198 0h1v1h-1zM213 0h1v1h-1zM215 0h1v1h-1zM13 1h1v1h-1zM27 1h2v1h-2zM38 1h1v1h-1zM45 1h1v1h-1zM48 1h1v1h-1zM66 1h1v1h-1zM68 1h1v1h-1zM80 1h2v1h-2zM91 1h1v1h-1zM119 1h1v1h-1zM130 1h2v1h-2zM142 1h1v1h-1zM154 1h1v1h-1zM161 1h1v1h-1zM163 1h1v1h-1zM168 1h1v1h-1zM178 1h1v1h-1zM184 1h1v1h-1zM198 1h1v1h-1zM205 1h1v1h-1zM214 1h1v1h-1zM5 2h1v1h-1zM24 2h2v1h-2zM28 2h2v1h-2zM100 2h1v1h-1zM127 2h1v1h-1zM137 2h1v1h-1zM142 2h1v1h-1zM163 2h1v1h-1zM168 2h1v1h-1zM170 2h1v1h-1zM191 2h1v1h-1zM214 2h1v1h-1zM3 3h1v1h-1zM13 3h1v1h-1zM25 3h3v1h-3zM48 3h1v1h-1zM86 3h1v1h-1zM97 3h1v1h-1zM130 3h1v1h-1zM142 3h1v1h-1zM150 3h1v1h-1zM161 3h1v1h-1zM163 3h1v1h-1zM170 3h1v1h-1zM178 3h2v1h-2zM214 3h1v1h-1zM3 4h1v1h-1zM8 4h1v1h-1zM13 4h1v1h-1zM24 4h1v1h-1zM48 4h1v1h-1zM68 4h1v1h-1zM73 4h1v1h-1zM86 4h1v1h-1zM91 4h1v1h-1zM100 4h1v1h-1zM142 4h1v1h-1zM158 4h1v1h-1zM163 4h1v1h-1zM188 4h1v1h-1zM195 4h1v1h-1zM214 4h2v1h-2zM26 5h3v1h-3zM81 5h1v1h-1zM127 5h1v1h-1zM142 5h1v1h-1zM161 5h1v1h-1zM179 5h1v1h-1zM188 5h1v1h-1zM191 5h1v1h-1zM215 5h1v1h-1zM5 6h1v1h-1zM25 6h4v1h-4zM48 6h1v1h-1zM73 6h1v1h-1zM80 6h1v1h-1zM86 6h1v1h-1zM142 6h1v1h-1zM161 6h1v1h-1zM199 6h1v1h-1zM214 6h1v1h-1zM73 7h1v1h-1zM142 7h1v1h-1zM81 8h1v1h-1zM142 8h1v1h-1zM214 8h1v1h-1zM3 9h1v1h-1zM48 9h1v1h-1zM97 9h1v1h-1zM163 9h1v1h-1zM192 9h1v1h-1z"/><path fill="#02020d" d="M1 0h1v1h-1zM3 0h1v1h-1zM6 0h1v1h-1zM18 0h1v1h-1zM26 0h1v1h-1zM29 0h2v1h-2zM36 0h1v1h-1zM44 0h3v1h-3zM48 0h1v1h-1zM58 0h1v1h-1zM66 0h1v1h-1zM68 0h1v1h-1zM80 0h1v1h-1zM98 0h1v1h-1zM101 0h1v1h-1zM103 0h1v1h-1zM106 0h1v1h-1zM109 0h1v1h-1zM115 0h2v1h-2zM118 0h1v1h-1zM124 0h1v1h-1zM131 0h1v1h-1zM161 0h1v1h-1zM180 0h1v1h-1zM184 0h2v1h-2zM188 0h1v1h-1zM192 0h1v1h-1zM205 0h1v1h-1zM40 1h2v1h-2zM69 1h1v1h-1zM79 1h1v1h-1zM88 1h1v1h-1zM92 1h1v1h-1zM97 1h1v1h-1zM100 1h1v1h-1zM107 1h1v1h-1zM115 1h2v1h-2zM127 1h2v1h-2zM137 1h2v1h-2zM150 1h1v1h-1zM158 1h1v1h-1zM180 1h1v1h-1zM185 1h1v1h-1zM188 1h1v1h-1zM194 1h1v1h-1zM196 1h1v1h-1zM199 1h1v1h-1zM201 1h1v1h-1zM206 1h2v1h-2zM209 1h1v1h-1zM31 2h1v1h-1zM36 2h1v1h-1zM41 2h1v1h-1zM48 2h1v1h-1zM66 2h1v1h-1zM68 2h2v1h-2zM76 2h1v1h-1zM85 2h1v1h-1zM92 2h1v1h-1zM104 2h1v1h-1zM106 2h1v1h-1zM115 2h2v1h-2zM119 2h1v1h-1zM126 2h1v1h-1zM128 2h1v1h-1zM150 2h1v1h-1zM154 2h1v1h-1zM161 2h1v1h-1zM164 2h1v1h-1zM175 2h1v1h-1zM179 2h2v1h-2zM199 2h1v1h-1zM209 2h1v1h-1zM213 2h1v1h-1zM215 2h1v1h-1zM5 3h1v1h-1zM7 3h1v1h-1zM10 3h1v1h-1zM36 3h2v1h-2zM46 3h1v1h-1zM57 3h1v1h-1zM66 3h1v1h-1zM78 3h1v1h-1zM91 3h1v1h-1zM98 3h1v1h-1zM100 3h1v1h-1zM116 3h1v1h-1zM119 3h1v1h-1zM124 3h1v1h-1zM126 3h2v1h-2zM138 3h1v1h-1zM152 3h1v1h-1zM154 3h1v1h-1zM184 3h2v1h-2zM191 3h1v1h-1zM193 3h1v1h-1zM195 3h1v1h-1zM198 3h2v1h-2zM203 3h1v1h-1zM205 3h2v1h-2zM213 3h1v1h-1zM1 4h1v1h-1zM10 4h1v1h-1zM17 4h1v1h-1zM26 4h2v1h-2zM33 4h1v1h-1zM52 4h1v1h-1zM80 4h1v1h-1zM105 4h2v1h-2zM115 4h2v1h-2zM118 4h2v1h-2zM127 4h2v1h-2zM138 4h1v1h-1zM149 4h2v1h-2zM161 4h1v1h-1zM164 4h1v1h-1zM175 4h1v1h-1zM178 4h3v1h-3zM184 4h1v1h-1zM190 4h2v1h-2zM198 4h2v1h-2zM203 4h1v1h-1zM8 5h1v1h-1zM17 5h1v1h-1zM30 5h1v1h-1zM35 5h2v1h-2zM41 5h1v1h-1zM48 5h1v1h-1zM52 5h1v1h-1zM68 5h1v1h-1zM70 5h1v1h-1zM73 5h1v1h-1zM80 5h1v1h-1zM95 5h1v1h-1zM97 5h1v1h-1zM101 5h1v1h-1zM106 5h1v1h-1zM111 5h1v1h-1zM115 5h1v1h-1zM128 5h1v1h-1zM130 5h1v1h-1zM149 5h2v1h-2zM153 5h1v1h-1zM167 5h2v1h-2zM175 5h1v1h-1zM180 5h1v1h-1zM192 5h2v1h-2zM198 5h1v1h-1zM206 5h1v1h-1zM214 5h1v1h-1zM3 6h1v1h-1zM6 6h1v1h-1zM24 6h1v1h-1zM36 6h1v1h-1zM66 6h1v1h-1zM69 6h1v1h-1zM76 6h1v1h-1zM81 6h1v1h-1zM85 6h1v1h-1zM100 6h2v1h-2zM106 6h1v1h-1zM118 6h1v1h-1zM131 6h1v1h-1zM137 6h1v1h-1zM158 6h1v1h-1zM163 6h1v1h-1zM178 6h1v1h-1zM191 6h2v1h-2zM196 6h1v1h-1zM201 6h1v1h-1zM205 6h1v1h-1zM215 6h1v1h-1zM3 7h1v1h-1zM5 7h1v1h-1zM25 7h1v1h-1zM27 7h1v1h-1zM80 7h2v1h-2zM86 7h1v1h-1zM92 7h1v1h-1zM97 7h1v1h-1zM101 7h1v1h-1zM127 7h1v1h-1zM150 7h1v1h-1zM163 7h1v1h-1zM179 7h1v1h-1zM185 7h1v1h-1zM199 7h1v1h-1zM5 8h1v1h-1zM25 8h1v1h-1zM48 8h1v1h-1zM66 8h1v1h-1zM69 8h1v1h-1zM73 8h1v1h-1zM76 8h1v1h-1zM80 8h1v1h-1zM86 8h1v1h-1zM107 8h1v1h-1zM138 8h1v1h-1zM163 8h1v1h-1zM170 8h1v1h-1zM175 8h1v1h-1zM178 8h1v1h-1zM184 8h1v1h-1zM198 8h1v1h-1zM13 9h1v1h-1zM18 9h1v1h-1zM25 9h2v1h-2zM28 9h1v1h-1zM30 9h1v1h-1zM41 9h1v1h-1zM66 9h1v1h-1zM73 9h1v1h-1zM76 9h1v1h-1zM78 9h1v1h-1zM80 9h1v1h-1zM91 9h1v1h-1zM100 9h1v1h-1zM127 9h1v1h-1zM130 9h1v1h-1zM161 9h1v1h-1zM184 9h1v1h-1z"/><path fill="#07061c" d="M0 0h1v1h-1zM8 0h1v1h-1zM15 0h1v1h-1zM17 0h1v1h-1zM31 0h1v1h-1zM35 0h1v1h-1zM39 0h2v1h-2zM43 0h1v1h-1zM59 0h2v1h-2zM62 0h1v1h-1zM83 0h1v1h-1zM86 0h2v1h-2zM95 0h1v1h-1zM97 0h1v1h-1zM100 0h1v1h-1zM104 0h1v1h-1zM119 0h1v1h-1zM123 0h1v1h-1zM127 0h2v1h-2zM142 0h1v1h-1zM154 0h1v1h-1zM163 0h1v1h-1zM166 0h1v1h-1zM168 0h1v1h-1zM172 0h1v1h-1zM174 0h2v1h-2zM178 0h1v1h-1zM181 0h1v1h-1zM186 0h1v1h-1zM193 0h1v1h-1zM195 0h1v1h-1zM201 0h1v1h-1zM203 0h1v1h-1zM206 0h1v1h-1zM0 1h1v1h-1zM4 1h1v1h-1zM6 1h1v1h-1zM10 1h1v1h-1zM22 1h1v1h-1zM25 1h1v1h-1zM32 1h1v1h-1zM34 1h1v1h-1zM36 1h1v1h-1zM44 1h1v1h-1zM55 1h4v1h-4zM61 1h2v1h-2zM65 1h1v1h-1zM70 1h1v1h-1zM76 1h1v1h-1zM78 1h1v1h-1zM83 1h1v1h-1zM86 1h1v1h-1zM90 1h1v1h-1zM104 1h1v1h-1zM118 1h1v1h-1zM129 1h1v1h-1zM132 1h1v1h-1zM143 1h2v1h-2zM151 1h1v1h-1zM153 1h1v1h-1zM155 1h1v1h-1zM162 1h1v1h-1zM164 1h1v1h-1zM167 1h1v1h-1zM169 1h1v1h-1zM172 1h1v1h-1zM175 1h3v1h-3zM179 1h1v1h-1zM186 1h2v1h-2zM192 1h1v1h-1zM195 1h1v1h-1zM197 1h1v1h-1zM202 1h1v1h-1zM215 1h1v1h-1zM8 2h1v1h-1zM11 2h1v1h-1zM13 2h1v1h-1zM21 2h1v1h-1zM26 2h2v1h-2zM30 2h1v1h-1zM32 2h1v1h-1zM35 2h1v1h-1zM37 2h1v1h-1zM44 2h3v1h-3zM57 2h3v1h-3zM70 2h1v1h-1zM73 2h1v1h-1zM78 2h1v1h-1zM80 2h1v1h-1zM82 2h2v1h-2zM86 2h1v1h-1zM88 2h1v1h-1zM91 2h1v1h-1zM98 2h1v1h-1zM101 2h1v1h-1zM103 2h1v1h-1zM107 2h1v1h-1zM118 2h1v1h-1zM122 2h1v1h-1zM124 2h1v1h-1zM130 2h2v1h-2zM135 2h1v1h-1zM152 2h1v1h-1zM156 2h1v1h-1zM171 2h1v1h-1zM173 2h2v1h-2zM177 2h1v1h-1zM183 2h1v1h-1zM185 2h1v1h-1zM188 2h1v1h-1zM190 2h1v1h-1zM193 2h2v1h-2zM196 2h1v1h-1zM198 2h1v1h-1zM201 2h1v1h-1zM203 2h1v1h-1zM207 2h1v1h-1zM15 3h1v1h-1zM17 3h1v1h-1zM21 3h1v1h-1zM30 3h1v1h-1zM32 3h2v1h-2zM35 3h1v1h-1zM39 3h3v1h-3zM43 3h1v1h-1zM52 3h1v1h-1zM55 3h2v1h-2zM58 3h1v1h-1zM61 3h1v1h-1zM63 3h1v1h-1zM70 3h1v1h-1zM73 3h1v1h-1zM76 3h1v1h-1zM79 3h2v1h-2zM88 3h1v1h-1zM92 3h1v1h-1zM103 3h5v1h-5zM109 3h1v1h-1zM111 3h1v1h-1zM114 3h2v1h-2zM118 3h1v1h-1zM128 3h1v1h-1zM149 3h1v1h-1zM151 3h1v1h-1zM167 3h3v1h-3zM176 3h2v1h-2zM180 3h1v1h-1zM190 3h1v1h-1zM192 3h1v1h-1zM196 3h1v1h-1zM200 3h2v1h-2zM215 3h1v1h-1zM5 4h2v1h-2zM15 4h1v1h-1zM21 4h1v1h-1zM34 4h1v1h-1zM40 4h1v1h-1zM45 4h2v1h-2zM58 4h1v1h-1zM61 4h1v1h-1zM65 4h2v1h-2zM76 4h2v1h-2zM79 4h1v1h-1zM82 4h1v1h-1zM88 4h1v1h-1zM92 4h1v1h-1zM94 4h1v1h-1zM98 4h2v1h-2zM103 4h1v1h-1zM122 4h1v1h-1zM131 4h1v1h-1zM134 4h2v1h-2zM137 4h1v1h-1zM148 4h1v1h-1zM152 4h3v1h-3zM168 4h1v1h-1zM170 4h1v1h-1zM176 4h1v1h-1zM182 4h1v1h-1zM193 4h1v1h-1zM196 4h1v1h-1zM205 4h1v1h-1zM209 4h1v1h-1zM0 5h2v1h-2zM3 5h1v1h-1zM7 5h1v1h-1zM13 5h1v1h-1zM15 5h1v1h-1zM20 5h1v1h-1zM32 5h3v1h-3zM37 5h1v1h-1zM40 5h1v1h-1zM49 5h2v1h-2zM56 5h1v1h-1zM58 5h1v1h-1zM62 5h1v1h-1zM64 5h1v1h-1zM78 5h2v1h-2zM82 5h2v1h-2zM85 5h1v1h-1zM92 5h1v1h-1zM96 5h1v1h-1zM98 5h1v1h-1zM104 5h2v1h-2zM109 5h1v1h-1zM116 5h1v1h-1zM123 5h2v1h-2zM126 5h1v1h-1zM129 5h1v1h-1zM131 5h1v1h-1zM138 5h1v1h-1zM148 5h1v1h-1zM151 5h1v1h-1zM159 5h1v1h-1zM184 5h2v1h-2zM189 5h1v1h-1zM195 5h2v1h-2zM201 5h2v1h-2zM209 5h1v1h-1zM213 5h1v1h-1zM1 6h1v1h-1zM8 6h1v1h-1zM13 6h1v1h-1zM15 6h1v1h-1zM17 6h2v1h-2zM29 6h2v1h-2zM37 6h2v1h-2zM57 6h1v1h-1zM59 6h1v1h-1zM62 6h1v1h-1zM77 6h1v1h-1zM88 6h1v1h-1zM91 6h1v1h-1zM104 6h1v1h-1zM111 6h1v1h-1zM115 6h2v1h-2zM124 6h4v1h-4zM138 6h2v1h-2zM144 6h1v1h-1zM148 6h3v1h-3zM172 6h1v1h-1zM174 6h2v1h-2zM177 6h1v1h-1zM179 6h1v1h-1zM183 6h2v1h-2zM193 6h3v1h-3zM203 6h1v1h-1zM0 7h1v1h-1zM8 7h1v1h-1zM17 7h1v1h-1zM24 7h1v1h-1zM28 7h1v1h-1zM37 7h1v1h-1zM62 7h1v1h-1zM66 7h1v1h-1zM70 7h1v1h-1zM76 7h1v1h-1zM95 7h1v1h-1zM98 7h1v1h-1zM105 7h1v1h-1zM115 7h1v1h-1zM128 7h1v1h-1zM131 7h1v1h-1zM138 7h1v1h-1zM167 7h2v1h-2zM170 7h1v1h-1zM177 7h1v1h-1zM184 7h1v1h-1zM188 7h1v1h-1zM191 7h1v1h-1zM194 7h1v1h-1zM198 7h1v1h-1zM203 7h1v1h-1zM205 7h2v1h-2zM215 7h1v1h-1zM1 8h1v1h-1zM6 8h1v1h-1zM8 8h1v1h-1zM11 8h1v1h-1zM13 8h1v1h-1zM18 8h1v1h-1zM24 8h1v1h-1zM26 8h1v1h-1zM28 8h1v1h-1zM34 8h1v1h-1zM40 8h1v1h-1zM45 8h1v1h-1zM52 8h1v1h-1zM62 8h1v1h-1zM65 8h1v1h-1zM68 8h1v1h-1zM83 8h1v1h-1zM85 8h1v1h-1zM91 8h1v1h-1zM100 8h2v1h-2zM105 8h1v1h-1zM119 8h1v1h-1zM124 8h1v1h-1zM127 8h1v1h-1zM130 8h2v1h-2zM137 8h1v1h-1zM153 8h2v1h-2zM161 8h1v1h-1zM164 8h1v1h-1zM180 8h1v1h-1zM193 8h2v1h-2zM196 8h1v1h-1zM201 8h1v1h-1zM203 8h1v1h-1zM205 8h2v1h-2zM209 8h1v1h-1zM215 8h1v1h-1zM1 9h1v1h-1zM5 9h1v1h-1zM8 9h1v1h-1zM27 9h1v1h-1zM33 9h1v1h-1zM45 9h1v1h-1zM52 9h1v1h-1zM65 9h1v1h-1zM85 9h1v1h-1zM87 9h2v1h-2zM92 9h1v1h-1zM98 9h1v1h-1zM115 9h1v1h-1zM122 9h1v1h-1zM124 9h1v1h-1zM128 9h1v1h-1zM137 9h2v1h-2zM145 9h1v1h-1zM151 9h1v1h-1zM153 9h2v1h-2zM168 9h1v1h-1zM178 9h3v1h-3zM185 9h1v1h-1zM188 9h1v1h-1zM195 9h1v1h-1zM198 9h1v1h-1zM209 9h1v1h-1zM214 9h2v1h-2z"/><path fill="#0d0a29" d="M2 0h1v1h-1zM7 0h1v1h-1zM11 0h1v1h-1zM19 0h2v1h-2zM32 0h2v1h-2zM38 0h1v1h-1zM41 0h1v1h-1zM49 0h2v1h-2zM52 0h1v1h-1zM55 0h1v1h-1zM57 0h1v1h-1zM63 0h1v1h-1zM71 0h1v1h-1zM76 0h1v1h-1zM78 0h1v1h-1zM88 0h2v1h-2zM96 0h1v1h-1zM105 0h1v1h-1zM107 0h1v1h-1zM111 0h1v1h-1zM130 0h1v1h-1zM132 0h1v1h-1zM139 0h1v1h-1zM141 0h1v1h-1zM143 0h2v1h-2zM146 0h1v1h-1zM148 0h1v1h-1zM151 0h1v1h-1zM156 0h1v1h-1zM158 0h1v1h-1zM165 0h1v1h-1zM169 0h1v1h-1zM171 0h1v1h-1zM176 0h2v1h-2zM182 0h1v1h-1zM196 0h2v1h-2zM207 0h1v1h-1zM209 0h1v1h-1zM214 0h1v1h-1zM1 1h1v1h-1zM3 1h1v1h-1zM7 1h1v1h-1zM17 1h1v1h-1zM24 1h1v1h-1zM31 1h1v1h-1zM39 1h1v1h-1zM54 1h1v1h-1zM59 1h1v1h-1zM72 1h2v1h-2zM85 1h1v1h-1zM87 1h1v1h-1zM99 1h1v1h-1zM101 1h1v1h-1zM105 1h1v1h-1zM109 1h2v1h-2zM112 1h1v1h-1zM122 1h1v1h-1zM133 1h2v1h-2zM140 1h2v1h-2zM145 1h1v1h-1zM148 1h2v1h-2zM157 1h1v1h-1zM165 1h1v1h-1zM170 1h2v1h-2zM173 1h1v1h-1zM191 1h1v1h-1zM193 1h1v1h-1zM210 1h1v1h-1zM212 1h1v1h-1zM0 2h2v1h-2zM3 2h1v1h-1zM16 2h1v1h-1zM20 2h1v1h-1zM22 2h1v1h-1zM34 2h1v1h-1zM40 2h1v1h-1zM43 2h1v1h-1zM52 2h1v1h-1zM54 2h1v1h-1zM56 2h1v1h-1zM61 2h1v1h-1zM65 2h1v1h-1zM79 2h1v1h-1zM89 2h1v1h-1zM93 2h1v1h-1zM97 2h1v1h-1zM109 2h1v1h-1zM111 2h1v1h-1zM123 2h1v1h-1zM125 2h1v1h-1zM129 2h1v1h-1zM132 2h1v1h-1zM134 2h1v1h-1zM145 2h2v1h-2zM151 2h1v1h-1zM153 2h1v1h-1zM155 2h1v1h-1zM158 2h1v1h-1zM160 2h1v1h-1zM162 2h1v1h-1zM166 2h1v1h-1zM169 2h1v1h-1zM172 2h1v1h-1zM176 2h1v1h-1zM178 2h1v1h-1zM181 2h1v1h-1zM184 2h1v1h-1zM189 2h1v1h-1zM192 2h1v1h-1zM197 2h1v1h-1zM212 2h1v1h-1zM6 3h1v1h-1zM8 3h1v1h-1zM11 3h2v1h-2zM16 3h1v1h-1zM20 3h1v1h-1zM22 3h3v1h-3zM28 3h1v1h-1zM38 3h1v1h-1zM44 3h1v1h-1zM50 3h2v1h-2zM59 3h1v1h-1zM62 3h1v1h-1zM65 3h1v1h-1zM67 3h2v1h-2zM71 3h1v1h-1zM81 3h1v1h-1zM83 3h1v1h-1zM85 3h1v1h-1zM94 3h1v1h-1zM99 3h1v1h-1zM101 3h1v1h-1zM117 3h1v1h-1zM125 3h1v1h-1zM132 3h1v1h-1zM134 3h1v1h-1zM137 3h1v1h-1zM139 3h1v1h-1zM141 3h1v1h-1zM144 3h3v1h-3zM148 3h1v1h-1zM155 3h1v1h-1zM157 3h1v1h-1zM160 3h1v1h-1zM162 3h1v1h-1zM171 3h1v1h-1zM175 3h1v1h-1zM181 3h1v1h-1zM186 3h1v1h-1zM189 3h1v1h-1zM209 3h1v1h-1zM2 4h1v1h-1zM20 4h1v1h-1zM28 4h1v1h-1zM30 4h2v1h-2zM35 4h1v1h-1zM37 4h3v1h-3zM44 4h1v1h-1zM49 4h3v1h-3zM55 4h1v1h-1zM59 4h1v1h-1zM63 4h1v1h-1zM67 4h1v1h-1zM69 4h2v1h-2zM78 4h1v1h-1zM83 4h1v1h-1zM87 4h1v1h-1zM89 4h2v1h-2zM95 4h3v1h-3zM141 4h1v1h-1zM143 4h1v1h-1zM151 4h1v1h-1zM155 4h3v1h-3zM160 4h1v1h-1zM162 4h1v1h-1zM166 4h2v1h-2zM169 4h1v1h-1zM171 4h3v1h-3zM177 4h1v1h-1zM183 4h1v1h-1zM189 4h1v1h-1zM200 4h1v1h-1zM202 4h1v1h-1zM206 4h2v1h-2zM213 4h1v1h-1zM2 5h1v1h-1zM4 5h3v1h-3zM11 5h2v1h-2zM14 5h1v1h-1zM18 5h1v1h-1zM21 5h4v1h-4zM29 5h1v1h-1zM38 5h2v1h-2zM43 5h1v1h-1zM46 5h1v1h-1zM51 5h1v1h-1zM54 5h1v1h-1zM60 5h2v1h-2zM69 5h1v1h-1zM71 5h1v1h-1zM74 5h1v1h-1zM88 5h2v1h-2zM93 5h2v1h-2zM107 5h1v1h-1zM117 5h1v1h-1zM125 5h1v1h-1zM137 5h1v1h-1zM152 5h1v1h-1zM156 5h2v1h-2zM160 5h1v1h-1zM162 5h2v1h-2zM177 5h2v1h-2zM182 5h2v1h-2zM186 5h1v1h-1zM203 5h1v1h-1zM205 5h1v1h-1zM207 5h1v1h-1zM212 5h1v1h-1zM10 6h1v1h-1zM23 6h1v1h-1zM31 6h1v1h-1zM35 6h1v1h-1zM44 6h2v1h-2zM50 6h1v1h-1zM54 6h1v1h-1zM61 6h1v1h-1zM65 6h1v1h-1zM82 6h2v1h-2zM95 6h1v1h-1zM97 6h1v1h-1zM103 6h1v1h-1zM107 6h1v1h-1zM109 6h1v1h-1zM119 6h1v1h-1zM130 6h1v1h-1zM132 6h1v1h-1zM134 6h1v1h-1zM141 6h1v1h-1zM146 6h1v1h-1zM152 6h2v1h-2zM155 6h1v1h-1zM159 6h1v1h-1zM166 6h1v1h-1zM168 6h3v1h-3zM180 6h2v1h-2zM186 6h1v1h-1zM197 6h1v1h-1zM200 6h1v1h-1zM207 6h1v1h-1zM212 6h2v1h-2zM1 7h1v1h-1zM4 7h1v1h-1zM7 7h1v1h-1zM10 7h1v1h-1zM20 7h2v1h-2zM23 7h1v1h-1zM29 7h1v1h-1zM31 7h2v1h-2zM35 7h1v1h-1zM44 7h1v1h-1zM46 7h1v1h-1zM48 7h1v1h-1zM55 7h3v1h-3zM59 7h1v1h-1zM67 7h2v1h-2zM78 7h2v1h-2zM82 7h1v1h-1zM87 7h2v1h-2zM94 7h1v1h-1zM103 7h1v1h-1zM106 7h1v1h-1zM109 7h1v1h-1zM122 7h1v1h-1zM132 7h1v1h-1zM134 7h1v1h-1zM139 7h1v1h-1zM145 7h2v1h-2zM151 7h3v1h-3zM158 7h1v1h-1zM178 7h1v1h-1zM183 7h1v1h-1zM190 7h1v1h-1zM195 7h1v1h-1zM197 7h1v1h-1zM202 7h1v1h-1zM209 7h1v1h-1zM213 7h2v1h-2zM0 8h1v1h-1zM7 8h1v1h-1zM20 8h1v1h-1zM22 8h1v1h-1zM27 8h1v1h-1zM31 8h3v1h-3zM36 8h2v1h-2zM41 8h1v1h-1zM43 8h1v1h-1zM46 8h1v1h-1zM49 8h1v1h-1zM56 8h1v1h-1zM77 8h1v1h-1zM87 8h2v1h-2zM90 8h1v1h-1zM92 8h1v1h-1zM97 8h1v1h-1zM99 8h1v1h-1zM102 8h1v1h-1zM115 8h1v1h-1zM123 8h1v1h-1zM129 8h1v1h-1zM140 8h1v1h-1zM144 8h1v1h-1zM148 8h1v1h-1zM150 8h1v1h-1zM157 8h2v1h-2zM167 8h1v1h-1zM169 8h1v1h-1zM173 8h1v1h-1zM177 8h1v1h-1zM179 8h1v1h-1zM197 8h1v1h-1zM213 8h1v1h-1zM4 9h1v1h-1zM6 9h2v1h-2zM10 9h1v1h-1zM15 9h1v1h-1zM17 9h1v1h-1zM20 9h2v1h-2zM24 9h1v1h-1zM34 9h2v1h-2zM37 9h1v1h-1zM55 9h5v1h-5zM61 9h1v1h-1zM68 9h2v1h-2zM79 9h1v1h-1zM81 9h1v1h-1zM89 9h1v1h-1zM93 9h1v1h-1zM103 9h3v1h-3zM116 9h1v1h-1zM118 9h2v1h-2zM123 9h1v1h-1zM126 9h1v1h-1zM131 9h1v1h-1zM142 9h1v1h-1zM148 9h1v1h-1zM150 9h1v1h-1zM152 9h1v1h-1zM155 9h1v1h-1zM162 9h1v1h-1zM166 9h1v1h-1zM169 9h1v1h-1zM174 9h4v1h-4zM183 9h1v1h-1zM190 9h2v1h-2zM194 9h1v1h-1zM196 9h1v1h-1zM206 9h1v1h-1z"/><path fill="#150e38" d="M4 0h1v1h-1zM12 0h2v1h-2zM21 0h2v1h-2zM24 0h1v1h-1zM42 0h1v1h-1zM54 0h1v1h-1zM56 0h1v1h-1zM61 0h1v1h-1zM69 0h2v1h-2zM75 0h1v1h-1zM77 0h1v1h-1zM92 0h1v1h-1zM94 0h1v1h-1zM122 0h1v1h-1zM126 0h1v1h-1zM129 0h1v1h-1zM133 0h2v1h-2zM137 0h1v1h-1zM147 0h1v1h-1zM152 0h1v1h-1zM162 0h1v1h-1zM167 0h1v1h-1zM183 0h1v1h-1zM187 0h1v1h-1zM189 0h2v1h-2zM194 0h1v1h-1zM199 0h1v1h-1zM202 0h1v1h-1zM208 0h1v1h-1zM211 0h1v1h-1zM12 1h1v1h-1zM18 1h1v1h-1zM21 1h1v1h-1zM26 1h1v1h-1zM29 1h2v1h-2zM37 1h1v1h-1zM42 1h1v1h-1zM47 1h1v1h-1zM52 1h1v1h-1zM63 1h1v1h-1zM71 1h1v1h-1zM74 1h1v1h-1zM89 1h1v1h-1zM96 1h1v1h-1zM98 1h1v1h-1zM111 1h1v1h-1zM113 1h1v1h-1zM121 1h1v1h-1zM123 1h4v1h-4zM135 1h1v1h-1zM147 1h1v1h-1zM152 1h1v1h-1zM160 1h1v1h-1zM174 1h1v1h-1zM181 1h1v1h-1zM183 1h1v1h-1zM190 1h1v1h-1zM203 1h2v1h-2zM211 1h1v1h-1zM10 2h1v1h-1zM12 2h1v1h-1zM15 2h1v1h-1zM17 2h2v1h-2zM23 2h1v1h-1zM33 2h1v1h-1zM38 2h2v1h-2zM62 2h1v1h-1zM64 2h1v1h-1zM81 2h1v1h-1zM84 2h1v1h-1zM90 2h1v1h-1zM94 2h2v1h-2zM110 2h1v1h-1zM112 2h1v1h-1zM120 2h1v1h-1zM133 2h1v1h-1zM136 2h1v1h-1zM139 2h1v1h-1zM141 2h1v1h-1zM147 2h3v1h-3zM159 2h1v1h-1zM165 2h1v1h-1zM167 2h1v1h-1zM182 2h1v1h-1zM186 2h2v1h-2zM195 2h1v1h-1zM205 2h2v1h-2zM211 2h1v1h-1zM0 3h1v1h-1zM4 3h1v1h-1zM14 3h1v1h-1zM19 3h1v1h-1zM29 3h1v1h-1zM34 3h1v1h-1zM49 3h1v1h-1zM72 3h1v1h-1zM74 3h1v1h-1zM82 3h1v1h-1zM93 3h1v1h-1zM95 3h1v1h-1zM120 3h1v1h-1zM129 3h1v1h-1zM131 3h1v1h-1zM135 3h2v1h-2zM140 3h1v1h-1zM147 3h1v1h-1zM153 3h1v1h-1zM164 3h1v1h-1zM173 3h1v1h-1zM182 3h2v1h-2zM187 3h2v1h-2zM202 3h1v1h-1zM204 3h1v1h-1zM207 3h1v1h-1zM210 3h1v1h-1zM212 3h1v1h-1zM11 4h2v1h-2zM14 4h1v1h-1zM23 4h1v1h-1zM29 4h1v1h-1zM32 4h1v1h-1zM41 4h3v1h-3zM54 4h1v1h-1zM60 4h1v1h-1zM62 4h1v1h-1zM75 4h1v1h-1zM84 4h1v1h-1zM102 4h1v1h-1zM107 4h1v1h-1zM110 4h2v1h-2zM117 4h1v1h-1zM121 4h1v1h-1zM123 4h1v1h-1zM126 4h1v1h-1zM133 4h1v1h-1zM136 4h1v1h-1zM146 4h2v1h-2zM159 4h1v1h-1zM174 4h1v1h-1zM181 4h1v1h-1zM185 4h1v1h-1zM194 4h1v1h-1zM201 4h1v1h-1zM204 4h1v1h-1zM9 5h1v1h-1zM16 5h1v1h-1zM19 5h1v1h-1zM25 5h1v1h-1zM31 5h1v1h-1zM42 5h1v1h-1zM45 5h1v1h-1zM59 5h1v1h-1zM67 5h1v1h-1zM76 5h2v1h-2zM103 5h1v1h-1zM118 5h1v1h-1zM120 5h1v1h-1zM135 5h1v1h-1zM139 5h2v1h-2zM145 5h3v1h-3zM154 5h1v1h-1zM164 5h2v1h-2zM172 5h2v1h-2zM181 5h1v1h-1zM187 5h1v1h-1zM197 5h1v1h-1zM204 5h1v1h-1zM210 5h2v1h-2zM0 6h1v1h-1zM7 6h1v1h-1zM12 6h1v1h-1zM14 6h1v1h-1zM16 6h1v1h-1zM19 6h1v1h-1zM21 6h1v1h-1zM33 6h2v1h-2zM39 6h1v1h-1zM42 6h1v1h-1zM49 6h1v1h-1zM51 6h3v1h-3zM55 6h2v1h-2zM58 6h1v1h-1zM64 6h1v1h-1zM68 6h1v1h-1zM70 6h2v1h-2zM79 6h1v1h-1zM90 6h1v1h-1zM94 6h1v1h-1zM96 6h1v1h-1zM102 6h1v1h-1zM114 6h1v1h-1zM120 6h2v1h-2zM128 6h2v1h-2zM145 6h1v1h-1zM147 6h1v1h-1zM162 6h1v1h-1zM167 6h1v1h-1zM176 6h1v1h-1zM182 6h1v1h-1zM185 6h1v1h-1zM189 6h1v1h-1zM198 6h1v1h-1zM202 6h1v1h-1zM206 6h1v1h-1zM208 6h2v1h-2zM2 7h1v1h-1zM6 7h1v1h-1zM13 7h1v1h-1zM15 7h2v1h-2zM18 7h1v1h-1zM22 7h1v1h-1zM26 7h1v1h-1zM30 7h1v1h-1zM36 7h1v1h-1zM38 7h1v1h-1zM41 7h1v1h-1zM43 7h1v1h-1zM45 7h1v1h-1zM49 7h2v1h-2zM63 7h1v1h-1zM69 7h1v1h-1zM85 7h1v1h-1zM93 7h1v1h-1zM99 7h2v1h-2zM110 7h1v1h-1zM117 7h2v1h-2zM124 7h3v1h-3zM130 7h1v1h-1zM137 7h1v1h-1zM143 7h1v1h-1zM147 7h1v1h-1zM156 7h1v1h-1zM159 7h2v1h-2zM164 7h3v1h-3zM171 7h6v1h-6zM180 7h3v1h-3zM189 7h1v1h-1zM196 7h1v1h-1zM201 7h1v1h-1zM210 7h1v1h-1zM12 8h1v1h-1zM15 8h1v1h-1zM21 8h1v1h-1zM23 8h1v1h-1zM30 8h1v1h-1zM44 8h1v1h-1zM50 8h1v1h-1zM55 8h1v1h-1zM58 8h4v1h-4zM64 8h1v1h-1zM67 8h1v1h-1zM70 8h2v1h-2zM75 8h1v1h-1zM89 8h1v1h-1zM93 8h1v1h-1zM96 8h1v1h-1zM104 8h1v1h-1zM106 8h1v1h-1zM113 8h2v1h-2zM117 8h1v1h-1zM122 8h1v1h-1zM125 8h1v1h-1zM132 8h1v1h-1zM135 8h1v1h-1zM139 8h1v1h-1zM156 8h1v1h-1zM162 8h1v1h-1zM171 8h1v1h-1zM185 8h1v1h-1zM189 8h1v1h-1zM191 8h1v1h-1zM199 8h1v1h-1zM210 8h3v1h-3zM0 9h1v1h-1zM2 9h1v1h-1zM11 9h1v1h-1zM14 9h1v1h-1zM23 9h1v1h-1zM38 9h1v1h-1zM44 9h1v1h-1zM49 9h1v1h-1zM54 9h1v1h-1zM63 9h2v1h-2zM67 9h1v1h-1zM82 9h1v1h-1zM86 9h1v1h-1zM94 9h2v1h-2zM102 9h1v1h-1zM106 9h2v1h-2zM114 9h1v1h-1zM117 9h1v1h-1zM125 9h1v1h-1zM129 9h1v1h-1zM143 9h1v1h-1zM146 9h1v1h-1zM149 9h1v1h-1zM156 9h2v1h-2zM160 9h1v1h-1zM164 9h1v1h-1zM167 9h1v1h-1zM171 9h2v1h-2zM186 9h1v1h-1zM205 9h1v1h-1zM211 9h1v1h-1z"/><path fill="#1d1147" d="M10 0h1v1h-1zM34 0h1v1h-1zM53 0h1v1h-1zM73 0h1v1h-1zM79 0h1v1h-1zM84 0h1v1h-1zM99 0h1v1h-1zM102 0h1v1h-1zM113 0h1v1h-1zM121 0h1v1h-1zM125 0h1v1h-1zM136 0h1v1h-1zM145 0h1v1h-1zM149 0h1v1h-1zM153 0h1v1h-1zM155 0h1v1h-1zM164 0h1v1h-1zM170 0h1v1h-1zM200 0h1v1h-1zM2 1h1v1h-1zM5 1h1v1h-1zM8 1h1v1h-1zM11 1h1v1h-1zM15 1h2v1h-2zM23 1h1v1h-1zM46 1h1v1h-1zM50 1h2v1h-2zM53 1h1v1h-1zM84 1h1v1h-1zM93 1h2v1h-2zM102 1h2v1h-2zM106 1h1v1h-1zM108 1h1v1h-1zM117 1h1v1h-1zM156 1h1v1h-1zM182 1h1v1h-1zM189 1h1v1h-1zM208 1h1v1h-1zM213 1h1v1h-1zM2 2h1v1h-1zM14 2h1v1h-1zM19 2h1v1h-1zM42 2h1v1h-1zM47 2h1v1h-1zM55 2h1v1h-1zM67 2h1v1h-1zM75 2h1v1h-1zM102 2h1v1h-1zM144 2h1v1h-1zM208 2h1v1h-1zM210 2h1v1h-1zM1 3h1v1h-1zM18 3h1v1h-1zM47 3h1v1h-1zM53 3h1v1h-1zM60 3h1v1h-1zM69 3h1v1h-1zM75 3h1v1h-1zM84 3h1v1h-1zM87 3h1v1h-1zM89 3h1v1h-1zM112 3h1v1h-1zM123 3h1v1h-1zM158 3h2v1h-2zM166 3h1v1h-1zM174 3h1v1h-1zM194 3h1v1h-1zM197 3h1v1h-1zM208 3h1v1h-1zM7 4h1v1h-1zM22 4h1v1h-1zM25 4h1v1h-1zM47 4h1v1h-1zM57 4h1v1h-1zM85 4h1v1h-1zM93 4h1v1h-1zM101 4h1v1h-1zM109 4h1v1h-1zM112 4h3v1h-3zM125 4h1v1h-1zM129 4h2v1h-2zM132 4h1v1h-1zM186 4h1v1h-1zM197 4h1v1h-1zM212 4h1v1h-1zM10 5h1v1h-1zM44 5h1v1h-1zM47 5h1v1h-1zM65 5h2v1h-2zM72 5h1v1h-1zM75 5h1v1h-1zM84 5h1v1h-1zM86 5h2v1h-2zM91 5h1v1h-1zM99 5h1v1h-1zM102 5h1v1h-1zM110 5h1v1h-1zM113 5h1v1h-1zM121 5h1v1h-1zM132 5h1v1h-1zM134 5h1v1h-1zM136 5h1v1h-1zM144 5h1v1h-1zM170 5h1v1h-1zM174 5h1v1h-1zM200 5h1v1h-1zM2 6h1v1h-1zM9 6h1v1h-1zM20 6h1v1h-1zM32 6h1v1h-1zM40 6h1v1h-1zM72 6h1v1h-1zM84 6h1v1h-1zM87 6h1v1h-1zM98 6h2v1h-2zM112 6h2v1h-2zM117 6h1v1h-1zM122 6h1v1h-1zM133 6h1v1h-1zM143 6h1v1h-1zM151 6h1v1h-1zM154 6h1v1h-1zM156 6h1v1h-1zM187 6h2v1h-2zM190 6h1v1h-1zM204 6h1v1h-1zM11 7h2v1h-2zM33 7h1v1h-1zM40 7h1v1h-1zM60 7h2v1h-2zM71 7h2v1h-2zM77 7h1v1h-1zM83 7h2v1h-2zM90 7h2v1h-2zM96 7h1v1h-1zM104 7h1v1h-1zM107 7h1v1h-1zM111 7h3v1h-3zM123 7h1v1h-1zM133 7h1v1h-1zM141 7h1v1h-1zM155 7h1v1h-1zM162 7h1v1h-1zM192 7h2v1h-2zM200 7h1v1h-1zM207 7h1v1h-1zM2 8h2v1h-2zM16 8h1v1h-1zM19 8h1v1h-1zM54 8h1v1h-1zM57 8h1v1h-1zM82 8h1v1h-1zM109 8h2v1h-2zM112 8h1v1h-1zM116 8h1v1h-1zM118 8h1v1h-1zM120 8h2v1h-2zM126 8h1v1h-1zM128 8h1v1h-1zM133 8h2v1h-2zM145 8h2v1h-2zM149 8h1v1h-1zM152 8h1v1h-1zM159 8h2v1h-2zM168 8h1v1h-1zM186 8h3v1h-3zM190 8h1v1h-1zM192 8h1v1h-1zM200 8h1v1h-1zM202 8h1v1h-1zM31 9h1v1h-1zM36 9h1v1h-1zM39 9h1v1h-1zM50 9h1v1h-1zM53 9h1v1h-1zM60 9h1v1h-1zM62 9h1v1h-1zM70 9h1v1h-1zM72 9h1v1h-1zM74 9h1v1h-1zM77 9h1v1h-1zM108 9h2v1h-2zM113 9h1v1h-1zM120 9h1v1h-1zM132 9h1v1h-1zM135 9h2v1h-2zM140 9h2v1h-2zM144 9h1v1h-1zM158 9h1v1h-1zM181 9h1v1h-1zM193 9h1v1h-1zM199 9h1v1h-1zM201 9h2v1h-2zM212 9h2v1h-2z"/><path fill="#271258" d="M14 0h1v1h-1zM23 0h1v1h-1zM65 0h1v1h-1zM67 0h1v1h-1zM72 0h1v1h-1zM82 0h1v1h-1zM90 0h2v1h-2zM93 0h1v1h-1zM108 0h1v1h-1zM110 0h1v1h-1zM112 0h1v1h-1zM140 0h1v1h-1zM159 0h1v1h-1zM210 0h1v1h-1zM9 1h1v1h-1zM19 1h2v1h-2zM33 1h1v1h-1zM60 1h1v1h-1zM64 1h1v1h-1zM67 1h1v1h-1zM82 1h1v1h-1zM114 1h1v1h-1zM136 1h1v1h-1zM146 1h1v1h-1zM159 1h1v1h-1zM200 1h1v1h-1zM4 2h1v1h-1zM7 2h1v1h-1zM49 2h3v1h-3zM53 2h1v1h-1zM63 2h1v1h-1zM72 2h1v1h-1zM87 2h1v1h-1zM96 2h1v1h-1zM99 2h1v1h-1zM105 2h1v1h-1zM121 2h1v1h-1zM138 2h1v1h-1zM140 2h1v1h-1zM157 2h1v1h-1zM200 2h1v1h-1zM202 2h1v1h-1zM204 2h1v1h-1zM42 3h1v1h-1zM45 3h1v1h-1zM54 3h1v1h-1zM77 3h1v1h-1zM90 3h1v1h-1zM96 3h1v1h-1zM102 3h1v1h-1zM108 3h1v1h-1zM110 3h1v1h-1zM143 3h1v1h-1zM156 3h1v1h-1zM172 3h1v1h-1zM0 4h1v1h-1zM18 4h2v1h-2zM53 4h1v1h-1zM56 4h1v1h-1zM71 4h2v1h-2zM81 4h1v1h-1zM108 4h1v1h-1zM120 4h1v1h-1zM144 4h1v1h-1zM187 4h1v1h-1zM192 4h1v1h-1zM208 4h1v1h-1zM210 4h1v1h-1zM57 5h1v1h-1zM63 5h1v1h-1zM90 5h1v1h-1zM114 5h1v1h-1zM122 5h1v1h-1zM133 5h1v1h-1zM143 5h1v1h-1zM158 5h1v1h-1zM166 5h1v1h-1zM169 5h1v1h-1zM171 5h1v1h-1zM176 5h1v1h-1zM190 5h1v1h-1zM208 5h1v1h-1zM4 6h1v1h-1zM11 6h1v1h-1zM41 6h1v1h-1zM46 6h2v1h-2zM60 6h1v1h-1zM63 6h1v1h-1zM75 6h1v1h-1zM78 6h1v1h-1zM89 6h1v1h-1zM92 6h2v1h-2zM105 6h1v1h-1zM108 6h1v1h-1zM123 6h1v1h-1zM135 6h1v1h-1zM140 6h1v1h-1zM164 6h1v1h-1zM173 6h1v1h-1zM34 7h1v1h-1zM47 7h1v1h-1zM52 7h2v1h-2zM64 7h2v1h-2zM119 7h2v1h-2zM136 7h1v1h-1zM148 7h1v1h-1zM154 7h1v1h-1zM157 7h1v1h-1zM161 7h1v1h-1zM169 7h1v1h-1zM186 7h1v1h-1zM208 7h1v1h-1zM212 7h1v1h-1zM10 8h1v1h-1zM17 8h1v1h-1zM35 8h1v1h-1zM38 8h1v1h-1zM42 8h1v1h-1zM53 8h1v1h-1zM72 8h1v1h-1zM95 8h1v1h-1zM103 8h1v1h-1zM136 8h1v1h-1zM141 8h1v1h-1zM143 8h1v1h-1zM147 8h1v1h-1zM166 8h1v1h-1zM172 8h1v1h-1zM176 8h1v1h-1zM181 8h1v1h-1zM183 8h1v1h-1zM195 8h1v1h-1zM204 8h1v1h-1zM207 8h2v1h-2zM9 9h1v1h-1zM12 9h1v1h-1zM42 9h1v1h-1zM71 9h1v1h-1zM99 9h1v1h-1zM111 9h1v1h-1zM121 9h1v1h-1zM134 9h1v1h-1zM139 9h1v1h-1zM159 9h1v1h-1zM187 9h1v1h-1zM200 9h1v1h-1zM203 9h1v1h-1zM207 9h1v1h-1z"/><path fill="#311165" d="M51 0h1v1h-1zM74 0h1v1h-1zM117 0h1v1h-1zM120 0h1v1h-1zM160 0h1v1h-1zM173 0h1v1h-1zM14 1h1v1h-1zM35 1h1v1h-1zM49 1h1v1h-1zM75 1h1v1h-1zM120 1h1v1h-1zM6 2h1v1h-1zM9 2h1v1h-1zM71 2h1v1h-1zM74 2h1v1h-1zM113 2h2v1h-2zM143 2h1v1h-1zM2 3h1v1h-1zM9 3h1v1h-1zM113 3h1v1h-1zM122 3h1v1h-1zM133 3h1v1h-1zM4 4h1v1h-1zM9 4h1v1h-1zM64 4h1v1h-1zM74 4h1v1h-1zM139 4h2v1h-2zM165 4h1v1h-1zM53 5h1v1h-1zM55 5h1v1h-1zM108 5h1v1h-1zM112 5h1v1h-1zM119 5h1v1h-1zM194 5h1v1h-1zM199 5h1v1h-1zM43 6h1v1h-1zM67 6h1v1h-1zM74 6h1v1h-1zM110 6h1v1h-1zM136 6h1v1h-1zM165 6h1v1h-1zM171 6h1v1h-1zM210 6h2v1h-2zM9 7h1v1h-1zM19 7h1v1h-1zM39 7h1v1h-1zM42 7h1v1h-1zM51 7h1v1h-1zM54 7h1v1h-1zM58 7h1v1h-1zM102 7h1v1h-1zM114 7h1v1h-1zM116 7h1v1h-1zM129 7h1v1h-1zM135 7h1v1h-1zM144 7h1v1h-1zM204 7h1v1h-1zM4 8h1v1h-1zM39 8h1v1h-1zM63 8h1v1h-1zM78 8h2v1h-2zM84 8h1v1h-1zM98 8h1v1h-1zM111 8h1v1h-1zM155 8h1v1h-1zM165 8h1v1h-1zM182 8h1v1h-1zM22 9h1v1h-1zM40 9h1v1h-1zM46 9h2v1h-2zM51 9h1v1h-1zM83 9h1v1h-1zM90 9h1v1h-1zM110 9h1v1h-1zM112 9h1v1h-1zM147 9h1v1h-1zM165 9h1v1h-1zM173 9h1v1h-1zM197 9h1v1h-1zM208 9h1v1h-1z"/><path fill="#3d0f71" d="M9 0h1v1h-1zM16 0h1v1h-1zM47 0h1v1h-1zM64 0h1v1h-1zM114 0h1v1h-1zM157 0h1v1h-1zM204 0h1v1h-1zM139 1h1v1h-1zM77 2h1v1h-1zM117 2h1v1h-1zM165 3h1v1h-1zM211 3h1v1h-1zM36 4h1v1h-1zM104 4h1v1h-1zM124 4h1v1h-1zM145 4h1v1h-1zM155 5h1v1h-1zM157 6h1v1h-1zM74 7h1v1h-1zM89 7h1v1h-1zM149 7h1v1h-1zM187 7h1v1h-1zM211 7h1v1h-1zM47 8h1v1h-1zM74 8h1v1h-1zM108 8h1v1h-1zM151 8h1v1h-1zM174 8h1v1h-1zM16 9h1v1h-1zM43 9h1v1h-1zM75 9h1v1h-1zM84 9h1v1h-1zM96 9h1v1h-1zM182 9h1v1h-1zM204 9h1v1h-1zM210 9h1v1h-1z"/><path fill="#491078" d="M212 0h1v1h-1zM43 1h1v1h-1zM77 1h1v1h-1zM166 1h1v1h-1zM31 3h1v1h-1zM16 4h1v1h-1zM211 4h1v1h-1zM22 6h1v1h-1zM14 7h1v1h-1zM75 7h1v1h-1zM140 7h1v1h-1zM9 8h1v1h-1zM14 8h1v1h-1zM51 8h1v1h-1zM19 9h1v1h-1zM189 9h1v1h-1z"/><path fill="#52137c" d="M108 2h1v1h-1zM64 3h1v1h-1zM121 3h1v1h-1zM108 7h1v1h-1zM121 7h1v1h-1zM94 8h1v1h-1zM133 9h1v1h-1z"/><path fill="#5d177f" d="M60 2h1v1h-1zM141 5h1v1h-1z"/><path fill="#671b80" d="M135 0h1v1h-1zM95 1h1v1h-1zM100 5h1v1h-1zM160 6h1v1h-1z"/><path fill="#912b81" d="M32 9h1v1h-1z"/><path fill="#a6317d" d="M29 9h1v1h-1z"/><path fill="#bc3978" d="M170 9h1v1h-1z"/><path fill="#c53c74" d="M29 8h1v1h-1zM101 9h1v1h-1z"/></g><rect x="389" y="1162.6" width="222.1" height="164.2" fill="none" stroke="#333" stroke-width="1.1"/><text x="389.3" y="1152.9" font-size="15.36">Healthy</text><text x="384" y="1315.5" font-size="10.24" text-anchor="end" fill="#4D4D4D">120</text><path d="M385.8 1311.9H389" stroke="#333" stroke-width="1.1"/><text x="384" y="1285.64" font-size="10.24" text-anchor="end" fill="#4D4D4D">140</text><path d="M385.8 1282.04H389" stroke="#333" stroke-width="1.1"/><text x="384" y="1255.78" font-size="10.24" text-anchor="end" fill="#4D4D4D">160</text><path d="M385.8 1252.18H389" stroke="#333" stroke-width="1.1"/><text x="384" y="1225.92" font-size="10.24" text-anchor="end" fill="#4D4D4D">180</text><path d="M385.8 1222.32H389" stroke="#333" stroke-width="1.1"/><text x="384" y="1196.06" font-size="10.24" text-anchor="end" fill="#4D4D4D">200</text><path d="M385.8 1192.46H389" stroke="#333" stroke-width="1.1"/><text x="384" y="1166.2" font-size="10.24" text-anchor="end" fill="#4D4D4D">220</text><path d="M385.8 1162.6H389" stroke="#333" stroke-width="1.1"/><text x="399.1" y="1340.2" font-size="10.24" text-anchor="middle" fill="#4D4D4D">0</text><path d="M399.1 1326.8V1330" stroke="#333" stroke-width="1.1"/><text x="445.9" y="1340.2" font-size="10.24" text-anchor="middle" fill="#4D4D4D">50</text><path d="M445.9 1326.8V1330" stroke="#333" stroke-width="1.1"/><text x="492.7" y="1340.2" font-size="10.24" text-anchor="middle" fill="#4D4D4D">100</text><path d="M492.7 1326.8V1330" stroke="#333" stroke-width="1.1"/><text x="539.5" y="1340.2" font-size="10.24" text-anchor="middle" fill="#4D4D4D">150</text><path d="M539.5 1326.8V1330" stroke="#333" stroke-width="1.1"/><text x="586.3" y="1340.2" font-size="10.24" text-anchor="middle" fill="#4D4D4D">200</text><path d="M586.3 1326.8V1330" stroke="#333" stroke-width="1.1"/><text x="500.05" y="1354.6" font-size="12.7" text-anchor="middle">genomic position</text><text transform="translate(360.3 1244.7) rotate(-90)" font-size="12.7" text-anchor="middle">fragment size</text><rect x="630.9" y="1203.6" width="19.8" height="99.3" fill="url(#g45)"/><text x="630.6" y="1195.7" font-size="12.7">value</text><path d="M630.9 1302.9H634.5" stroke="#fff" stroke-width="0.9"/><path d="M647.1 1302.9H650.7" stroke="#fff" stroke-width="0.9"/><text x="657.3" y="1306.5" font-size="10.24">0.00</text><path d="M630.9 1278.08H634.5" stroke="#fff" stroke-width="0.9"/><path d="M647.1 1278.08H650.7" stroke="#fff" stroke-width="0.9"/><text x="657.3" y="1281.67" font-size="10.24">0.25</text><path d="M630.9 1253.25H634.5" stroke="#fff" stroke-width="0.9"/><path d="M647.1 1253.25H650.7" stroke="#fff" stroke-width="0.9"/><text x="657.3" y="1256.85" font-size="10.24">0.50</text><path d="M630.9 1228.42H634.5" stroke="#fff" stroke-width="0.9"/><path d="M647.1 1228.42H650.7" stroke="#fff" stroke-width="0.9"/><text x="657.3" y="1232.02" font-size="10.24">0.75</text><path d="M630.9 1203.6H634.5" stroke="#fff" stroke-width="0.9"/><path d="M647.1 1203.6H650.7" stroke="#fff" stroke-width="0.9"/><text x="657.3" y="1207.2" font-size="10.24">1.00</text><text x="344.6" y="1382.1" font-size="16.2" text-anchor="middle" font-weight="bold">Hypomethylated region</text><path d="M43.3 1579.03H265.4" stroke="#EBEBEB" stroke-width="0.55"/><path d="M43.3 1549.17H265.4" stroke="#EBEBEB" stroke-width="0.55"/><path d="M43.3 1519.31H265.4" stroke="#EBEBEB" stroke-width="0.55"/><path d="M43.3 1489.45H265.4" stroke="#EBEBEB" stroke-width="0.55"/><path d="M43.3 1459.59H265.4" stroke="#EBEBEB" stroke-width="0.55"/><path d="M43.3 1429.73H265.4" stroke="#EBEBEB" stroke-width="0.55"/><path d="M86.4 1414.8V1579" stroke="#EBEBEB" stroke-width="0.55"/><path d="M152.4 1414.8V1579" stroke="#EBEBEB" stroke-width="0.55"/><path d="M218.4 1414.8V1579" stroke="#EBEBEB" stroke-width="0.55"/><path d="M43.3 1564.1H265.4" stroke="#EBEBEB" stroke-width="1.1"/><path d="M43.3 1534.24H265.4" stroke="#EBEBEB" stroke-width="1.1"/><path d="M43.3 1504.38H265.4" stroke="#EBEBEB" stroke-width="1.1"/><path d="M43.3 1474.52H265.4" stroke="#EBEBEB" stroke-width="1.1"/><path d="M43.3 1444.66H265.4" stroke="#EBEBEB" stroke-width="1.1"/><path d="M43.3 1414.8H265.4" stroke="#EBEBEB" stroke-width="1.1"/><path d="M53.4 1414.8V1579" stroke="#EBEBEB" stroke-width="1.1"/><path d="M119.4 1414.8V1579" stroke="#EBEBEB" stroke-width="1.1"/><path d="M185.4 1414.8V1579" stroke="#EBEBEB" stroke-width="1.1"/><path d="M251.4 1414.8V1579" stroke="#EBEBEB" stroke-width="1.1"/><g transform="translate(53.73 1422.26) scale(0.6600 14.9300)"><rect x="0" y="0" width="306" height="1" fill="#d6456c"/><rect x="0" y="1" width="306" height="1" fill="#f05f5e"/><rect x="0" y="2" width="306" height="1" fill="#fd9a6a"/><rect x="0" y="3" width="306" height="1" fill="#fea36f"/><rect x="0" y="4" width="306" height="1" fill="#fe9d6c"/><rect x="0" y="5" width="306" height="1" fill="#f8765c"/><rect x="0" y="6" width="306" height="1" fill="#a5317e"/><rect x="0" y="7" width="306" height="1" fill="#6b1d81"/><rect x="0" y="8" width="306" height="1" fill="#5c167f"/><rect x="0" y="9" width="306" height="1" fill="#6a1c81"/><path fill="#000004" d="M9 7h1v1h-1zM144 7h1v1h-1zM252 7h1v1h-1zM274 7h1v1h-1zM29 8h1v1h-1zM62 8h1v1h-1zM111 8h1v1h-1zM144 8h1v1h-1zM153 8h1v1h-1zM201 8h1v1h-1zM223 8h1v1h-1zM274 8h1v1h-1zM62 9h1v1h-1zM90 9h1v1h-1zM144 9h1v1h-1zM223 9h1v1h-1z"/><path fill="#02020d" d="M11 7h1v1h-1zM24 7h1v1h-1zM37 7h1v1h-1zM46 7h1v1h-1zM102 7h1v1h-1zM108 7h1v1h-1zM211 7h1v1h-1zM70 8h1v1h-1zM212 8h1v1h-1zM274 9h1v1h-1z"/><path fill="#07061c" d="M29 7h1v1h-1zM90 7h1v1h-1zM125 7h1v1h-1zM194 7h1v1h-1zM221 7h1v1h-1zM223 7h1v1h-1zM90 8h1v1h-1zM124 8h1v1h-1zM127 8h1v1h-1zM129 8h1v1h-1zM163 8h1v1h-1zM194 8h1v1h-1zM207 8h1v1h-1zM211 8h1v1h-1zM227 8h1v1h-1zM284 8h1v1h-1zM38 9h1v1h-1zM212 9h1v1h-1z"/><path fill="#0d0a29" d="M223 6h1v1h-1zM62 7h1v1h-1zM70 7h1v1h-1zM127 7h1v1h-1zM129 7h1v1h-1zM241 7h1v1h-1zM249 7h1v1h-1zM9 8h1v1h-1zM37 8h1v1h-1zM43 8h1v1h-1zM46 8h1v1h-1zM135 8h1v1h-1zM157 8h1v1h-1zM218 8h1v1h-1zM235 8h1v1h-1zM290 8h1v1h-1zM29 9h1v1h-1zM95 9h1v1h-1zM111 9h1v1h-1zM127 9h1v1h-1zM135 9h1v1h-1zM161 9h2v1h-2zM211 9h1v1h-1zM238 9h1v1h-1zM241 9h1v1h-1zM268 9h1v1h-1z"/><path fill="#150e38" d="M208 0h1v1h-1zM144 6h1v1h-1zM0 7h1v1h-1zM13 7h1v1h-1zM71 7h1v1h-1zM135 7h1v1h-1zM142 7h1v1h-1zM170 7h1v1h-1zM212 7h1v1h-1zM225 7h1v1h-1zM284 7h1v1h-1zM10 8h1v1h-1zM23 8h1v1h-1zM38 8h1v1h-1zM59 8h1v1h-1zM63 8h1v1h-1zM108 8h1v1h-1zM116 8h1v1h-1zM137 8h1v1h-1zM143 8h1v1h-1zM145 8h1v1h-1zM154 8h1v1h-1zM172 8h1v1h-1zM208 8h1v1h-1zM233 8h1v1h-1zM238 8h1v1h-1zM252 8h1v1h-1zM294 8h1v1h-1zM296 8h1v1h-1zM0 9h1v1h-1zM11 9h1v1h-1zM26 9h1v1h-1zM37 9h1v1h-1zM43 9h1v1h-1zM129 9h1v1h-1zM163 9h1v1h-1zM172 9h1v1h-1zM207 9h1v1h-1zM234 9h1v1h-1zM249 9h1v1h-1zM252 9h1v1h-1z"/><path fill="#1d1147" d="M23 7h1v1h-1zM32 7h1v1h-1zM47 7h1v1h-1zM63 7h1v1h-1zM101 7h1v1h-1zM106 7h1v1h-1zM134 7h1v1h-1zM157 7h1v1h-1zM256 7h1v1h-1zM266 7h1v1h-1zM11 8h1v1h-1zM27 8h1v1h-1zM32 8h1v1h-1zM48 8h1v1h-1zM74 8h1v1h-1zM100 8h1v1h-1zM104 8h1v1h-1zM106 8h1v1h-1zM130 8h1v1h-1zM166 8h1v1h-1zM175 8h1v1h-1zM178 8h1v1h-1zM210 8h1v1h-1zM220 8h1v1h-1zM224 8h1v1h-1zM240 8h2v1h-2zM245 8h1v1h-1zM254 8h1v1h-1zM266 8h1v1h-1zM268 8h1v1h-1zM271 8h1v1h-1zM304 8h1v1h-1zM40 9h1v1h-1zM108 9h1v1h-1zM123 9h2v1h-2zM147 9h1v1h-1zM204 9h1v1h-1zM208 9h1v1h-1zM218 9h1v1h-1zM225 9h1v1h-1zM242 9h1v1h-1zM260 9h1v1h-1zM296 9h1v1h-1z"/><path fill="#271258" d="M111 6h1v1h-1zM129 6h1v1h-1zM135 6h1v1h-1zM169 6h1v1h-1zM238 6h1v1h-1zM241 6h1v1h-1zM59 7h1v1h-1zM66 7h1v1h-1zM81 7h1v1h-1zM111 7h1v1h-1zM137 7h1v1h-1zM147 7h1v1h-1zM162 7h1v1h-1zM169 7h1v1h-1zM173 7h1v1h-1zM189 7h1v1h-1zM204 7h1v1h-1zM208 7h1v1h-1zM220 7h1v1h-1zM227 7h1v1h-1zM233 7h1v1h-1zM245 7h1v1h-1zM268 7h1v1h-1zM271 7h1v1h-1zM13 8h1v1h-1zM25 8h2v1h-2zM60 8h1v1h-1zM67 8h1v1h-1zM101 8h1v1h-1zM142 8h1v1h-1zM161 8h1v1h-1zM196 8h1v1h-1zM204 8h1v1h-1zM242 8h1v1h-1zM248 8h1v1h-1zM10 9h1v1h-1zM46 9h1v1h-1zM74 9h1v1h-1zM100 9h1v1h-1zM125 9h1v1h-1zM131 9h1v1h-1zM142 9h1v1h-1zM196 9h1v1h-1zM227 9h1v1h-1zM245 9h1v1h-1zM284 9h1v1h-1z"/><path fill="#311165" d="M131 0h1v1h-1zM26 6h1v1h-1zM62 6h1v1h-1zM175 6h1v1h-1zM208 6h1v1h-1zM235 6h1v1h-1zM38 7h1v1h-1zM53 7h1v1h-1zM74 7h1v1h-1zM95 7h1v1h-1zM131 7h1v1h-1zM156 7h1v1h-1zM172 7h1v1h-1zM214 7h1v1h-1zM218 7h1v1h-1zM234 7h1v1h-1zM238 7h1v1h-1zM260 7h1v1h-1zM290 7h1v1h-1zM16 8h1v1h-1zM33 8h1v1h-1zM56 8h1v1h-1zM71 8h1v1h-1zM76 8h1v1h-1zM78 8h1v1h-1zM102 8h2v1h-2zM110 8h1v1h-1zM115 8h1v1h-1zM139 8h1v1h-1zM202 8h1v1h-1zM300 8h1v1h-1zM9 9h1v1h-1zM23 9h1v1h-1zM56 9h1v1h-1zM60 9h1v1h-1zM70 9h1v1h-1zM81 9h1v1h-1zM115 9h1v1h-1zM120 9h1v1h-1zM153 9h1v1h-1zM189 9h1v1h-1zM194 9h1v1h-1zM201 9h1v1h-1zM224 9h1v1h-1zM233 9h1v1h-1zM235 9h1v1h-1zM266 9h1v1h-1zM275 9h1v1h-1zM304 9h1v1h-1z"/><path fill="#3d0f71" d="M61 0h1v1h-1zM95 0h1v1h-1zM157 0h1v1h-1zM229 0h1v1h-1zM37 6h1v1h-1zM43 6h1v1h-1zM136 6h1v1h-1zM162 6h1v1h-1zM274 6h1v1h-1zM284 6h1v1h-1zM10 7h1v1h-1zM26 7h1v1h-1zM43 7h1v1h-1zM52 7h1v1h-1zM67 7h1v1h-1zM97 7h1v1h-1zM100 7h1v1h-1zM143 7h1v1h-1zM158 7h1v1h-1zM184 7h1v1h-1zM201 7h1v1h-1zM207 7h1v1h-1zM224 7h1v1h-1zM242 7h1v1h-1zM293 7h2v1h-2zM304 7h1v1h-1zM40 8h1v1h-1zM47 8h1v1h-1zM49 8h1v1h-1zM51 8h2v1h-2zM85 8h1v1h-1zM120 8h1v1h-1zM131 8h1v1h-1zM147 8h1v1h-1zM150 8h1v1h-1zM168 8h3v1h-3zM182 8h1v1h-1zM184 8h2v1h-2zM188 8h1v1h-1zM198 8h1v1h-1zM216 8h1v1h-1zM221 8h1v1h-1zM256 8h1v1h-1zM260 8h1v1h-1zM265 8h1v1h-1zM270 8h1v1h-1zM282 8h1v1h-1zM24 9h1v1h-1zM53 9h1v1h-1zM66 9h1v1h-1zM71 9h1v1h-1zM79 9h1v1h-1zM97 9h1v1h-1zM101 9h4v1h-4zM116 9h1v1h-1zM122 9h1v1h-1zM136 9h1v1h-1zM139 9h1v1h-1zM143 9h1v1h-1zM168 9h3v1h-3zM175 9h1v1h-1zM220 9h1v1h-1zM244 9h1v1h-1zM256 9h1v1h-1zM271 9h1v1h-1zM293 9h2v1h-2z"/><path fill="#491078" d="M0 0h1v1h-1zM13 0h1v1h-1zM212 0h1v1h-1zM240 0h2v1h-2zM29 6h1v1h-1zM100 6h1v1h-1zM163 6h1v1h-1zM194 6h1v1h-1zM212 6h1v1h-1zM233 6h1v1h-1zM266 6h1v1h-1zM290 6h1v1h-1zM5 7h1v1h-1zM12 7h1v1h-1zM27 7h1v1h-1zM33 7h1v1h-1zM35 7h1v1h-1zM56 7h1v1h-1zM151 7h1v1h-1zM166 7h1v1h-1zM178 7h1v1h-1zM187 7h1v1h-1zM230 7h1v1h-1zM235 7h1v1h-1zM265 7h1v1h-1zM0 8h1v1h-1zM15 8h1v1h-1zM39 8h1v1h-1zM61 8h1v1h-1zM72 8h1v1h-1zM81 8h1v1h-1zM86 8h1v1h-1zM95 8h1v1h-1zM97 8h1v1h-1zM99 8h1v1h-1zM125 8h1v1h-1zM136 8h1v1h-1zM151 8h1v1h-1zM162 8h1v1h-1zM167 8h1v1h-1zM209 8h1v1h-1zM230 8h1v1h-1zM258 8h1v1h-1zM281 8h1v1h-1zM303 8h1v1h-1zM13 9h1v1h-1zM33 9h1v1h-1zM36 9h1v1h-1zM45 9h1v1h-1zM48 9h1v1h-1zM72 9h1v1h-1zM110 9h1v1h-1zM137 9h1v1h-1zM145 9h1v1h-1zM151 9h1v1h-1zM154 9h1v1h-1zM156 9h1v1h-1zM167 9h1v1h-1zM177 9h1v1h-1zM185 9h1v1h-1zM221 9h1v1h-1zM232 9h1v1h-1zM247 9h2v1h-2zM270 9h1v1h-1zM279 9h1v1h-1zM292 9h1v1h-1zM300 9h1v1h-1z"/><path fill="#52137c" d="M29 0h1v1h-1zM59 0h1v1h-1zM70 0h1v1h-1zM139 0h1v1h-1zM145 0h1v1h-1zM10 6h2v1h-2zM40 6h1v1h-1zM74 6h1v1h-1zM108 6h1v1h-1zM271 6h1v1h-1zM304 6h1v1h-1zM15 7h1v1h-1zM79 7h1v1h-1zM96 7h1v1h-1zM123 7h1v1h-1zM133 7h1v1h-1zM136 7h1v1h-1zM153 7h2v1h-2zM161 7h1v1h-1zM163 7h1v1h-1zM167 7h1v1h-1zM175 7h1v1h-1zM185 7h1v1h-1zM191 7h1v1h-1zM196 7h1v1h-1zM210 7h1v1h-1zM229 7h1v1h-1zM231 7h1v1h-1zM244 7h1v1h-1zM253 7h1v1h-1zM289 7h1v1h-1zM296 7h1v1h-1zM1 8h1v1h-1zM5 8h1v1h-1zM18 8h1v1h-1zM35 8h1v1h-1zM66 8h1v1h-1zM80 8h1v1h-1zM109 8h1v1h-1zM114 8h1v1h-1zM118 8h2v1h-2zM140 8h1v1h-1zM181 8h1v1h-1zM214 8h1v1h-1zM219 8h1v1h-1zM249 8h1v1h-1zM267 8h1v1h-1zM279 8h1v1h-1zM293 8h1v1h-1zM25 9h1v1h-1zM32 9h1v1h-1zM51 9h2v1h-2zM57 9h1v1h-1zM61 9h1v1h-1zM63 9h1v1h-1zM65 9h1v1h-1zM67 9h2v1h-2zM73 9h1v1h-1zM133 9h1v1h-1zM148 9h1v1h-1zM157 9h1v1h-1zM182 9h1v1h-1zM184 9h1v1h-1zM188 9h1v1h-1zM190 9h1v1h-1zM202 9h1v1h-1zM210 9h1v1h-1zM215 9h2v1h-2zM240 9h1v1h-1z"/><path fill="#5d177f" d="M180 0h1v1h-1zM204 0h1v1h-1zM264 0h1v1h-1zM23 6h1v1h-1zM46 6h1v1h-1zM59 6h1v1h-1zM95 6h1v1h-1zM106 6h1v1h-1zM161 6h1v1h-1zM167 6h1v1h-1zM182 6h1v1h-1zM207 6h1v1h-1zM218 6h1v1h-1zM221 6h1v1h-1zM48 7h1v1h-1zM51 7h1v1h-1zM61 7h1v1h-1zM72 7h2v1h-2zM76 7h1v1h-1zM78 7h1v1h-1zM99 7h1v1h-1zM103 7h1v1h-1zM105 7h1v1h-1zM116 7h1v1h-1zM120 7h1v1h-1zM124 7h1v1h-1zM164 7h1v1h-1zM182 7h1v1h-1zM199 7h1v1h-1zM213 7h1v1h-1zM216 7h1v1h-1zM255 7h1v1h-1zM2 8h1v1h-1zM14 8h1v1h-1zM31 8h1v1h-1zM45 8h1v1h-1zM53 8h1v1h-1zM77 8h1v1h-1zM79 8h1v1h-1zM107 8h1v1h-1zM117 8h1v1h-1zM122 8h1v1h-1zM132 8h2v1h-2zM141 8h1v1h-1zM148 8h1v1h-1zM192 8h1v1h-1zM200 8h1v1h-1zM222 8h1v1h-1zM228 8h1v1h-1zM231 8h1v1h-1zM239 8h1v1h-1zM244 8h1v1h-1zM253 8h1v1h-1zM273 8h1v1h-1zM289 8h1v1h-1zM2 9h1v1h-1zM19 9h1v1h-1zM39 9h1v1h-1zM47 9h1v1h-1zM59 9h1v1h-1zM76 9h1v1h-1zM78 9h1v1h-1zM106 9h1v1h-1zM109 9h1v1h-1zM117 9h1v1h-1zM130 9h1v1h-1zM179 9h1v1h-1zM181 9h1v1h-1zM187 9h1v1h-1zM209 9h1v1h-1zM237 9h1v1h-1zM254 9h1v1h-1zM281 9h1v1h-1zM291 9h1v1h-1z"/><path fill="#671b80" d="M19 0h1v1h-1zM78 0h1v1h-1zM227 0h1v1h-1zM235 0h1v1h-1zM267 0h1v1h-1zM19 6h1v1h-1zM81 6h1v1h-1zM99 6h1v1h-1zM124 6h1v1h-1zM143 6h1v1h-1zM147 6h1v1h-1zM156 6h1v1h-1zM168 6h1v1h-1zM178 6h1v1h-1zM211 6h1v1h-1zM240 6h1v1h-1zM300 6h1v1h-1zM41 7h1v1h-1zM50 7h1v1h-1zM58 7h1v1h-1zM60 7h1v1h-1zM75 7h1v1h-1zM109 7h1v1h-1zM117 7h1v1h-1zM119 7h1v1h-1zM126 7h1v1h-1zM145 7h1v1h-1zM150 7h1v1h-1zM180 7h1v1h-1zM219 7h1v1h-1zM232 7h1v1h-1zM240 7h1v1h-1zM248 7h1v1h-1zM277 7h1v1h-1zM6 8h1v1h-1zM19 8h1v1h-1zM22 8h1v1h-1zM123 8h1v1h-1zM134 8h1v1h-1zM149 8h1v1h-1zM156 8h1v1h-1zM173 8h1v1h-1zM180 8h1v1h-1zM186 8h2v1h-2zM189 8h2v1h-2zM206 8h1v1h-1zM225 8h1v1h-1zM236 8h1v1h-1zM243 8h1v1h-1zM277 8h1v1h-1zM12 9h1v1h-1zM18 9h1v1h-1zM27 9h1v1h-1zM64 9h1v1h-1zM75 9h1v1h-1zM88 9h1v1h-1zM140 9h1v1h-1zM206 9h1v1h-1zM213 9h1v1h-1zM222 9h1v1h-1zM267 9h1v1h-1zM290 9h1v1h-1zM303 9h1v1h-1z"/><path fill="#721f81" d="M16 0h1v1h-1zM37 0h1v1h-1zM40 0h1v1h-1zM96 0h1v1h-1zM125 0h1v1h-1zM170 0h1v1h-1zM193 0h1v1h-1zM294 0h1v1h-1zM29 1h1v1h-1zM27 6h1v1h-1zM71 6h1v1h-1zM85 6h1v1h-1zM101 6h1v1h-1zM125 6h1v1h-1zM142 6h1v1h-1zM172 6h1v1h-1zM225 6h1v1h-1zM245 6h1v1h-1zM248 6h1v1h-1zM252 6h2v1h-2zM2 7h1v1h-1zM6 7h1v1h-1zM19 7h1v1h-1zM25 7h1v1h-1zM30 7h1v1h-1zM36 7h1v1h-1zM39 7h2v1h-2zM49 7h1v1h-1zM64 7h1v1h-1zM86 7h1v1h-1zM113 7h1v1h-1zM122 7h1v1h-1zM139 7h1v1h-1zM177 7h1v1h-1zM200 7h1v1h-1zM202 7h1v1h-1zM209 7h1v1h-1zM215 7h1v1h-1zM237 7h1v1h-1zM272 7h1v1h-1zM279 7h1v1h-1zM281 7h2v1h-2zM291 7h1v1h-1zM300 7h1v1h-1zM303 7h1v1h-1zM7 8h1v1h-1zM24 8h1v1h-1zM41 8h1v1h-1zM58 8h1v1h-1zM68 8h1v1h-1zM73 8h1v1h-1zM87 8h2v1h-2zM126 8h1v1h-1zM128 8h1v1h-1zM165 8h1v1h-1zM176 8h2v1h-2zM197 8h1v1h-1zM215 8h1v1h-1zM226 8h1v1h-1zM234 8h1v1h-1zM237 8h1v1h-1zM250 8h1v1h-1zM272 8h1v1h-1zM298 8h2v1h-2zM1 9h1v1h-1zM15 9h2v1h-2zM22 9h1v1h-1zM96 9h1v1h-1zM99 9h1v1h-1zM105 9h1v1h-1zM107 9h1v1h-1zM118 9h1v1h-1zM134 9h1v1h-1zM149 9h1v1h-1zM178 9h1v1h-1zM214 9h1v1h-1zM228 9h1v1h-1zM230 9h1v1h-1zM236 9h1v1h-1zM277 9h2v1h-2zM282 9h1v1h-1zM295 9h1v1h-1z"/><path fill="#7b2382" d="M3 0h1v1h-1zM100 0h1v1h-1zM111 0h2v1h-2zM129 0h1v1h-1zM151 0h1v1h-1zM271 0h1v1h-1zM43 1h1v1h-1zM156 1h1v1h-1zM38 6h2v1h-2zM52 6h1v1h-1zM60 6h1v1h-1zM63 6h1v1h-1zM67 6h1v1h-1zM70 6h1v1h-1zM78 6h1v1h-1zM90 6h1v1h-1zM116 6h1v1h-1zM123 6h1v1h-1zM154 6h1v1h-1zM166 6h1v1h-1zM170 6h1v1h-1zM227 6h1v1h-1zM247 6h1v1h-1zM260 6h1v1h-1zM16 7h1v1h-1zM57 7h1v1h-1zM65 7h1v1h-1zM80 7h1v1h-1zM85 7h1v1h-1zM104 7h1v1h-1zM110 7h1v1h-1zM115 7h1v1h-1zM118 7h1v1h-1zM149 7h1v1h-1zM168 7h1v1h-1zM181 7h1v1h-1zM190 7h1v1h-1zM198 7h1v1h-1zM246 7h2v1h-2zM250 7h1v1h-1zM292 7h1v1h-1zM21 8h1v1h-1zM30 8h1v1h-1zM54 8h1v1h-1zM96 8h1v1h-1zM121 8h1v1h-1zM138 8h1v1h-1zM158 8h1v1h-1zM164 8h1v1h-1zM191 8h1v1h-1zM232 8h1v1h-1zM247 8h1v1h-1zM251 8h1v1h-1zM259 8h1v1h-1zM264 8h1v1h-1zM291 8h1v1h-1zM5 9h1v1h-1zM35 9h1v1h-1zM85 9h1v1h-1zM94 9h1v1h-1zM119 9h1v1h-1zM121 9h1v1h-1zM158 9h1v1h-1zM164 9h1v1h-1zM173 9h1v1h-1zM191 9h1v1h-1zM198 9h1v1h-1zM239 9h1v1h-1zM250 9h1v1h-1zM253 9h1v1h-1zM255 9h1v1h-1zM264 9h1v1h-1zM299 9h1v1h-1z"/><path fill="#862781" d="M11 0h1v1h-1zM62 0h1v1h-1zM81 0h1v1h-1zM87 0h1v1h-1zM94 0h1v1h-1zM99 0h1v1h-1zM189 0h1v1h-1zM203 0h1v1h-1zM207 0h1v1h-1zM221 0h1v1h-1zM2 1h1v1h-1zM9 1h1v1h-1zM235 1h1v1h-1zM2 6h1v1h-1zM7 6h1v1h-1zM16 6h1v1h-1zM47 6h2v1h-2zM53 6h1v1h-1zM88 6h1v1h-1zM105 6h1v1h-1zM132 6h1v1h-1zM134 6h1v1h-1zM185 6h1v1h-1zM188 6h1v1h-1zM210 6h1v1h-1zM214 6h1v1h-1zM220 6h1v1h-1zM224 6h1v1h-1zM254 6h1v1h-1zM282 6h1v1h-1zM294 6h1v1h-1zM296 6h1v1h-1zM7 7h1v1h-1zM45 7h1v1h-1zM83 7h1v1h-1zM87 7h1v1h-1zM114 7h1v1h-1zM132 7h1v1h-1zM138 7h1v1h-1zM140 7h1v1h-1zM228 7h1v1h-1zM239 7h1v1h-1zM254 7h1v1h-1zM258 7h1v1h-1zM264 7h1v1h-1zM270 7h1v1h-1zM273 7h1v1h-1zM12 8h1v1h-1zM36 8h1v1h-1zM44 8h1v1h-1zM50 8h1v1h-1zM57 8h1v1h-1zM83 8h2v1h-2zM105 8h1v1h-1zM179 8h1v1h-1zM213 8h1v1h-1zM229 8h1v1h-1zM246 8h1v1h-1zM255 8h1v1h-1zM257 8h1v1h-1zM288 8h1v1h-1zM292 8h1v1h-1zM305 8h1v1h-1zM4 9h1v1h-1zM30 9h2v1h-2zM49 9h2v1h-2zM54 9h1v1h-1zM114 9h1v1h-1zM126 9h1v1h-1zM128 9h1v1h-1zM180 9h1v1h-1zM197 9h1v1h-1zM200 9h1v1h-1zM217 9h1v1h-1zM226 9h1v1h-1zM229 9h1v1h-1zM231 9h1v1h-1zM243 9h1v1h-1zM246 9h1v1h-1zM259 9h1v1h-1z"/><path fill="#912b81" d="M20 0h1v1h-1zM66 0h1v1h-1zM84 0h1v1h-1zM104 0h1v1h-1zM230 0h1v1h-1zM249 0h1v1h-1zM254 0h1v1h-1zM275 0h1v1h-1zM32 1h1v1h-1zM202 1h1v1h-1zM232 1h1v1h-1zM253 1h1v1h-1zM268 1h1v1h-1zM284 1h1v1h-1zM144 5h1v1h-1zM12 6h1v1h-1zM51 6h1v1h-1zM57 6h1v1h-1zM96 6h1v1h-1zM103 6h1v1h-1zM127 6h1v1h-1zM131 6h1v1h-1zM140 6h1v1h-1zM151 6h1v1h-1zM177 6h1v1h-1zM181 6h1v1h-1zM189 6h1v1h-1zM234 6h1v1h-1zM249 6h1v1h-1zM256 6h1v1h-1zM263 6h1v1h-1zM267 6h1v1h-1zM283 6h1v1h-1zM303 6h1v1h-1zM1 7h1v1h-1zM22 7h1v1h-1zM77 7h1v1h-1zM88 7h1v1h-1zM107 7h1v1h-1zM128 7h1v1h-1zM130 7h1v1h-1zM141 7h1v1h-1zM146 7h1v1h-1zM160 7h1v1h-1zM179 7h1v1h-1zM192 7h1v1h-1zM222 7h1v1h-1zM243 7h1v1h-1zM251 7h1v1h-1zM259 7h1v1h-1zM267 7h1v1h-1zM275 7h1v1h-1zM295 7h1v1h-1zM298 7h1v1h-1zM64 8h2v1h-2zM75 8h1v1h-1zM146 8h1v1h-1zM171 8h1v1h-1zM295 8h1v1h-1zM80 9h1v1h-1zM83 9h1v1h-1zM87 9h1v1h-1zM141 9h1v1h-1zM146 9h1v1h-1zM150 9h1v1h-1zM160 9h1v1h-1zM166 9h1v1h-1zM199 9h1v1h-1zM219 9h1v1h-1zM258 9h1v1h-1zM288 9h1v1h-1zM305 9h1v1h-1z"/><path fill="#9b2e7f" d="M17 0h1v1h-1zM56 0h1v1h-1zM73 0h1v1h-1zM77 0h1v1h-1zM115 0h1v1h-1zM138 0h1v1h-1zM153 0h1v1h-1zM166 0h1v1h-1zM172 0h1v1h-1zM183 0h1v1h-1zM242 0h1v1h-1zM265 0h1v1h-1zM282 0h1v1h-1zM288 0h1v1h-1zM30 1h1v1h-1zM147 1h1v1h-1zM192 1h1v1h-1zM81 5h1v1h-1zM111 5h1v1h-1zM4 6h1v1h-1zM9 6h1v1h-1zM30 6h1v1h-1zM32 6h1v1h-1zM36 6h1v1h-1zM45 6h1v1h-1zM72 6h2v1h-2zM77 6h1v1h-1zM86 6h1v1h-1zM102 6h1v1h-1zM104 6h1v1h-1zM114 6h1v1h-1zM130 6h1v1h-1zM146 6h1v1h-1zM201 6h1v1h-1zM216 6h1v1h-1zM232 6h1v1h-1zM242 6h1v1h-1zM265 6h1v1h-1zM277 6h1v1h-1zM279 6h1v1h-1zM281 6h1v1h-1zM289 6h1v1h-1zM8 7h1v1h-1zM17 7h1v1h-1zM68 7h1v1h-1zM186 7h1v1h-1zM206 7h1v1h-1zM278 7h1v1h-1zM283 7h1v1h-1zM305 7h1v1h-1zM4 8h1v1h-1zM55 8h1v1h-1zM94 8h1v1h-1zM113 8h1v1h-1zM199 8h1v1h-1zM217 8h1v1h-1zM283 8h1v1h-1zM6 9h1v1h-1zM41 9h1v1h-1zM58 9h1v1h-1zM86 9h1v1h-1zM113 9h1v1h-1zM132 9h1v1h-1zM165 9h1v1h-1zM174 9h1v1h-1zM176 9h1v1h-1zM186 9h1v1h-1zM192 9h1v1h-1zM251 9h1v1h-1zM272 9h1v1h-1zM283 9h1v1h-1zM289 9h1v1h-1z"/><path fill="#a6317d" d="M48 0h1v1h-1zM89 0h1v1h-1zM97 0h1v1h-1zM102 0h1v1h-1zM108 0h1v1h-1zM165 0h1v1h-1zM216 0h1v1h-1zM237 0h1v1h-1zM252 0h1v1h-1zM284 0h1v1h-1zM303 0h1v1h-1zM60 1h1v1h-1zM67 1h1v1h-1zM183 1h1v1h-1zM194 1h1v1h-1zM233 1h1v1h-1zM163 5h1v1h-1zM167 5h1v1h-1zM274 5h1v1h-1zM56 6h1v1h-1zM58 6h1v1h-1zM97 6h1v1h-1zM120 6h1v1h-1zM133 6h1v1h-1zM137 6h1v1h-1zM148 6h1v1h-1zM153 6h1v1h-1zM158 6h1v1h-1zM180 6h1v1h-1zM190 6h2v1h-2zM202 6h1v1h-1zM204 6h1v1h-1zM230 6h1v1h-1zM305 6h1v1h-1zM4 7h1v1h-1zM21 7h1v1h-1zM84 7h1v1h-1zM94 7h1v1h-1zM148 7h1v1h-1zM165 7h1v1h-1zM171 7h1v1h-1zM176 7h1v1h-1zM188 7h1v1h-1zM280 7h1v1h-1zM288 7h1v1h-1zM297 7h1v1h-1zM299 7h1v1h-1zM276 8h1v1h-1zM278 8h1v1h-1zM7 9h1v1h-1zM44 9h1v1h-1zM55 9h1v1h-1zM138 9h1v1h-1zM265 9h1v1h-1zM276 9h1v1h-1z"/><path fill="#b0357b" d="M5 0h1v1h-1zM14 0h1v1h-1zM23 0h1v1h-1zM57 0h1v1h-1zM65 0h1v1h-1zM82 0h1v1h-1zM101 0h1v1h-1zM118 0h1v1h-1zM190 0h1v1h-1zM210 0h2v1h-2zM223 0h1v1h-1zM247 0h1v1h-1zM25 1h1v1h-1zM90 1h1v1h-1zM97 1h1v1h-1zM100 1h1v1h-1zM126 1h1v1h-1zM144 1h1v1h-1zM146 1h1v1h-1zM159 1h1v1h-1zM249 1h1v1h-1zM303 1h2v1h-2zM90 5h1v1h-1zM211 5h1v1h-1zM220 5h1v1h-1zM227 5h1v1h-1zM233 5h1v1h-1zM0 6h1v1h-1zM13 6h1v1h-1zM24 6h1v1h-1zM33 6h1v1h-1zM66 6h1v1h-1zM76 6h1v1h-1zM118 6h1v1h-1zM122 6h1v1h-1zM126 6h1v1h-1zM139 6h1v1h-1zM145 6h1v1h-1zM149 6h1v1h-1zM186 6h1v1h-1zM196 6h1v1h-1zM213 6h1v1h-1zM219 6h1v1h-1zM237 6h1v1h-1zM246 6h1v1h-1zM268 6h1v1h-1zM272 6h1v1h-1zM31 7h1v1h-1zM55 7h1v1h-1zM155 7h1v1h-1zM276 7h1v1h-1zM17 8h1v1h-1zM20 8h1v1h-1zM69 8h1v1h-1zM82 8h1v1h-1zM183 8h1v1h-1zM193 8h1v1h-1zM14 9h1v1h-1zM21 9h1v1h-1zM77 9h1v1h-1zM171 9h1v1h-1zM263 9h1v1h-1zM273 9h1v1h-1z"/><path fill="#bc3978" d="M46 0h1v1h-1zM49 0h1v1h-1zM54 0h1v1h-1zM86 0h1v1h-1zM110 0h1v1h-1zM143 0h1v1h-1zM147 0h1v1h-1zM169 0h1v1h-1zM199 0h1v1h-1zM233 0h1v1h-1zM291 0h1v1h-1zM76 1h1v1h-1zM93 1h1v1h-1zM104 1h1v1h-1zM107 1h1v1h-1zM111 1h1v1h-1zM167 1h1v1h-1zM170 1h1v1h-1zM178 1h1v1h-1zM189 1h1v1h-1zM196 1h1v1h-1zM223 1h2v1h-2zM227 1h1v1h-1zM294 1h1v1h-1zM144 2h1v1h-1zM9 5h1v1h-1zM76 5h1v1h-1zM235 5h1v1h-1zM252 5h1v1h-1zM15 6h1v1h-1zM18 6h1v1h-1zM49 6h1v1h-1zM65 6h1v1h-1zM68 6h2v1h-2zM79 6h2v1h-2zM89 6h1v1h-1zM110 6h1v1h-1zM115 6h1v1h-1zM117 6h1v1h-1zM164 6h1v1h-1zM176 6h1v1h-1zM184 6h1v1h-1zM187 6h1v1h-1zM199 6h2v1h-2zM215 6h1v1h-1zM243 6h1v1h-1zM250 6h1v1h-1zM293 6h1v1h-1zM44 7h1v1h-1zM121 7h1v1h-1zM197 7h1v1h-1zM217 7h1v1h-1zM236 7h1v1h-1zM261 7h1v1h-1zM160 8h1v1h-1zM174 8h1v1h-1zM263 8h1v1h-1zM269 8h1v1h-1zM280 8h1v1h-1zM69 9h1v1h-1zM82 9h1v1h-1zM84 9h1v1h-1zM183 9h1v1h-1zM286 9h1v1h-1zM298 9h1v1h-1z"/><path fill="#c53c74" d="M28 0h1v1h-1zM47 0h1v1h-1zM83 0h1v1h-1zM90 0h1v1h-1zM127 0h1v1h-1zM144 0h1v1h-1zM168 0h1v1h-1zM175 0h1v1h-1zM178 0h1v1h-1zM206 0h1v1h-1zM218 0h1v1h-1zM253 0h1v1h-1zM256 0h1v1h-1zM262 0h2v1h-2zM297 0h1v1h-1zM300 0h1v1h-1zM20 1h1v1h-1zM40 1h1v1h-1zM46 1h1v1h-1zM48 1h1v1h-1zM74 1h2v1h-2zM131 1h1v1h-1zM142 1h1v1h-1zM160 1h1v1h-1zM204 1h1v1h-1zM229 1h1v1h-1zM244 1h1v1h-1zM247 1h1v1h-1zM274 1h1v1h-1zM144 4h1v1h-1zM38 5h1v1h-1zM62 5h1v1h-1zM97 5h1v1h-1zM241 5h1v1h-1zM268 5h1v1h-1zM284 5h1v1h-1zM6 6h1v1h-1zM14 6h1v1h-1zM50 6h1v1h-1zM61 6h1v1h-1zM75 6h1v1h-1zM87 6h1v1h-1zM109 6h1v1h-1zM197 6h2v1h-2zM206 6h1v1h-1zM209 6h1v1h-1zM222 6h1v1h-1zM251 6h1v1h-1zM255 6h1v1h-1zM258 6h1v1h-1zM270 6h1v1h-1zM276 6h1v1h-1zM295 6h1v1h-1zM298 6h1v1h-1zM18 7h1v1h-1zM69 7h1v1h-1zM174 7h1v1h-1zM263 7h1v1h-1zM8 8h1v1h-1zM155 8h1v1h-1zM297 8h1v1h-1zM8 9h1v1h-1zM20 9h1v1h-1zM98 9h1v1h-1zM261 9h1v1h-1zM297 9h1v1h-1z"/><path fill="#d0416f" d="M15 0h1v1h-1zM26 0h2v1h-2zM32 0h1v1h-1zM39 0h1v1h-1zM50 0h1v1h-1zM60 0h1v1h-1zM117 0h1v1h-1zM120 0h1v1h-1zM126 0h1v1h-1zM132 0h2v1h-2zM171 0h1v1h-1zM173 0h1v1h-1zM181 0h1v1h-1zM185 0h1v1h-1zM209 0h1v1h-1zM238 0h2v1h-2zM251 0h1v1h-1zM277 0h1v1h-1zM10 1h1v1h-1zM52 1h1v1h-1zM70 1h1v1h-1zM175 1h1v1h-1zM184 1h1v1h-1zM201 1h1v1h-1zM209 1h1v1h-1zM234 1h1v1h-1zM246 1h1v1h-1zM290 1h1v1h-1zM218 2h1v1h-1zM242 4h1v1h-1zM19 5h1v1h-1zM29 5h1v1h-1zM71 5h1v1h-1zM100 5h1v1h-1zM103 5h2v1h-2zM124 5h1v1h-1zM135 5h1v1h-1zM137 5h1v1h-1zM145 5h1v1h-1zM189 5h1v1h-1zM194 5h1v1h-1zM208 5h1v1h-1zM248 5h1v1h-1zM293 5h1v1h-1zM5 6h1v1h-1zM25 6h1v1h-1zM54 6h1v1h-1zM64 6h1v1h-1zM83 6h2v1h-2zM107 6h1v1h-1zM141 6h1v1h-1zM150 6h1v1h-1zM174 6h1v1h-1zM179 6h1v1h-1zM192 6h1v1h-1zM217 6h1v1h-1zM228 6h2v1h-2zM278 6h1v1h-1zM280 6h1v1h-1zM291 6h1v1h-1zM82 7h1v1h-1zM257 7h1v1h-1zM34 8h1v1h-1zM257 9h1v1h-1z"/><path fill="#d9466b" d="M7 0h1v1h-1zM33 0h1v1h-1zM51 0h1v1h-1zM74 0h1v1h-1zM85 0h1v1h-1zM98 0h1v1h-1zM136 0h1v1h-1zM159 0h1v1h-1zM163 0h1v1h-1zM202 0h1v1h-1zM214 0h1v1h-1zM219 0h2v1h-2zM224 0h1v1h-1zM268 0h1v1h-1zM274 0h1v1h-1zM305 0h1v1h-1zM0 1h1v1h-1zM19 1h1v1h-1zM21 1h1v1h-1zM62 1h1v1h-1zM82 1h1v1h-1zM86 1h2v1h-2zM110 1h1v1h-1zM112 1h1v1h-1zM128 1h1v1h-1zM152 1h1v1h-1zM157 1h1v1h-1zM174 1h1v1h-1zM214 1h1v1h-1zM242 1h1v1h-1zM258 1h1v1h-1zM271 1h1v1h-1zM300 1h1v1h-1zM72 2h1v1h-1zM90 3h1v1h-1zM90 4h1v1h-1zM284 4h1v1h-1zM27 5h1v1h-1zM52 5h1v1h-1zM67 5h1v1h-1zM115 5h1v1h-1zM120 5h1v1h-1zM129 5h1v1h-1zM134 5h1v1h-1zM136 5h1v1h-1zM212 5h1v1h-1zM216 5h1v1h-1zM238 5h1v1h-1zM249 5h1v1h-1zM3 6h1v1h-1zM8 6h1v1h-1zM22 6h1v1h-1zM35 6h1v1h-1zM42 6h1v1h-1zM94 6h1v1h-1zM128 6h1v1h-1zM152 6h1v1h-1zM155 6h1v1h-1zM157 6h1v1h-1zM159 6h1v1h-1zM173 6h1v1h-1zM195 6h1v1h-1zM226 6h1v1h-1zM244 6h1v1h-1zM292 6h1v1h-1zM14 7h1v1h-1zM112 7h1v1h-1zM193 7h1v1h-1zM226 7h1v1h-1zM285 7h1v1h-1zM42 8h1v1h-1zM98 8h1v1h-1zM261 8h1v1h-1zM275 8h1v1h-1zM285 8h1v1h-1zM280 9h1v1h-1z"/><path fill="#e34e65" d="M9 0h1v1h-1zM45 0h1v1h-1zM52 0h1v1h-1zM107 0h1v1h-1zM109 0h1v1h-1zM152 0h1v1h-1zM156 0h1v1h-1zM188 0h1v1h-1zM194 0h1v1h-1zM196 0h1v1h-1zM201 0h1v1h-1zM245 0h1v1h-1zM260 0h1v1h-1zM266 0h1v1h-1zM279 0h1v1h-1zM287 0h1v1h-1zM289 0h1v1h-1zM296 0h1v1h-1zM11 1h1v1h-1zM14 1h1v1h-1zM96 1h1v1h-1zM101 1h1v1h-1zM116 1h1v1h-1zM120 1h1v1h-1zM129 1h1v1h-1zM166 1h1v1h-1zM168 1h1v1h-1zM172 1h2v1h-2zM180 1h1v1h-1zM187 1h1v1h-1zM191 1h1v1h-1zM208 1h1v1h-1zM218 1h1v1h-1zM221 1h1v1h-1zM238 1h1v1h-1zM241 1h1v1h-1zM256 1h1v1h-1zM262 1h2v1h-2zM266 1h1v1h-1zM26 2h1v1h-1zM245 2h1v1h-1zM274 2h1v1h-1zM283 2h1v1h-1zM175 4h1v1h-1zM233 4h1v1h-1zM279 4h1v1h-1zM46 5h1v1h-1zM70 5h1v1h-1zM79 5h1v1h-1zM102 5h1v1h-1zM106 5h1v1h-1zM108 5h1v1h-1zM123 5h1v1h-1zM127 5h1v1h-1zM169 5h2v1h-2zM180 5h2v1h-2zM185 5h1v1h-1zM207 5h1v1h-1zM223 5h1v1h-1zM225 5h1v1h-1zM230 5h1v1h-1zM256 5h1v1h-1zM267 5h1v1h-1zM1 6h1v1h-1zM55 6h1v1h-1zM119 6h1v1h-1zM183 6h1v1h-1zM236 6h1v1h-1zM273 6h1v1h-1zM288 6h1v1h-1zM297 6h1v1h-1zM299 6h1v1h-1zM28 7h1v1h-1zM54 7h1v1h-1zM195 7h1v1h-1zM269 7h1v1h-1zM287 7h1v1h-1zM287 8h1v1h-1zM3 9h1v1h-1zM42 9h1v1h-1zM159 9h1v1h-1z"/><path fill="#eb5760" d="M2 0h1v1h-1zM36 0h1v1h-1zM43 0h1v1h-1zM53 0h1v1h-1zM63 0h1v1h-1zM72 0h1v1h-1zM76 0h1v1h-1zM80 0h1v1h-1zM124 0h1v1h-1zM135 0h1v1h-1zM137 0h1v1h-1zM146 0h1v1h-1zM182 0h1v1h-1zM184 0h1v1h-1zM191 0h1v1h-1zM225 0h1v1h-1zM236 0h1v1h-1zM280 0h1v1h-1zM302 0h1v1h-1zM304 0h1v1h-1zM81 1h1v1h-1zM92 1h1v1h-1zM108 1h1v1h-1zM119 1h1v1h-1zM132 1h2v1h-2zM135 1h1v1h-1zM145 1h1v1h-1zM151 1h1v1h-1zM171 1h1v1h-1zM182 1h1v1h-1zM190 1h1v1h-1zM198 1h2v1h-2zM212 1h1v1h-1zM252 1h1v1h-1zM254 1h1v1h-1zM11 2h1v1h-1zM29 2h1v1h-1zM36 2h1v1h-1zM111 2h1v1h-1zM134 2h1v1h-1zM223 2h1v1h-1zM266 2h1v1h-1zM62 3h1v1h-1zM194 3h1v1h-1zM263 3h1v1h-1zM71 4h1v1h-1zM95 4h1v1h-1zM130 4h1v1h-1zM170 4h1v1h-1zM181 4h1v1h-1zM200 4h1v1h-1zM11 5h1v1h-1zM20 5h1v1h-1zM33 5h1v1h-1zM37 5h1v1h-1zM51 5h1v1h-1zM53 5h1v1h-1zM63 5h1v1h-1zM73 5h1v1h-1zM95 5h1v1h-1zM116 5h1v1h-1zM126 5h1v1h-1zM143 5h1v1h-1zM156 5h1v1h-1zM161 5h2v1h-2zM166 5h1v1h-1zM184 5h1v1h-1zM245 5h1v1h-1zM247 5h1v1h-1zM260 5h1v1h-1zM282 5h1v1h-1zM289 5h1v1h-1zM300 5h1v1h-1zM17 6h1v1h-1zM44 6h1v1h-1zM98 6h1v1h-1zM138 6h1v1h-1zM171 6h1v1h-1zM231 6h1v1h-1zM261 6h1v1h-1zM275 6h1v1h-1zM3 7h1v1h-1zM42 7h1v1h-1zM98 7h1v1h-1zM262 7h1v1h-1zM286 7h1v1h-1zM286 8h1v1h-1zM17 9h1v1h-1zM34 9h1v1h-1zM112 9h1v1h-1zM152 9h1v1h-1zM155 9h1v1h-1zM193 9h1v1h-1zM285 9h1v1h-1zM287 9h1v1h-1z"/><path fill="#f1605d" d="M38 0h1v1h-1zM116 0h1v1h-1zM167 0h1v1h-1zM198 0h1v1h-1zM222 0h1v1h-1zM244 0h1v1h-1zM270 0h1v1h-1zM285 0h1v1h-1zM293 0h1v1h-1zM295 0h1v1h-1zM12 1h2v1h-2zM26 1h1v1h-1zM33 1h1v1h-1zM37 1h1v1h-1zM53 1h1v1h-1zM59 1h1v1h-1zM66 1h1v1h-1zM72 1h2v1h-2zM79 1h1v1h-1zM85 1h1v1h-1zM95 1h1v1h-1zM103 1h1v1h-1zM115 1h1v1h-1zM137 1h1v1h-1zM161 1h1v1h-1zM169 1h1v1h-1zM195 1h1v1h-1zM206 1h1v1h-1zM210 1h1v1h-1zM248 1h1v1h-1zM259 1h1v1h-1zM273 1h1v1h-1zM276 1h1v1h-1zM15 2h1v1h-1zM47 2h1v1h-1zM52 2h1v1h-1zM102 2h1v1h-1zM143 2h1v1h-1zM169 2h1v1h-1zM185 2h1v1h-1zM235 2h1v1h-1zM86 3h1v1h-1zM129 3h1v1h-1zM225 3h1v1h-1zM274 3h1v1h-1zM16 4h1v1h-1zM20 4h1v1h-1zM29 4h1v1h-1zM62 4h1v1h-1zM106 4h1v1h-1zM111 4h1v1h-1zM137 4h1v1h-1zM153 4h1v1h-1zM161 4h1v1h-1zM172 4h1v1h-1zM208 4h1v1h-1zM218 4h1v1h-1zM271 4h1v1h-1zM274 4h1v1h-1zM10 5h1v1h-1zM18 5h1v1h-1zM23 5h2v1h-2zM32 5h1v1h-1zM39 5h2v1h-2zM56 5h1v1h-1zM61 5h1v1h-1zM78 5h1v1h-1zM118 5h1v1h-1zM122 5h1v1h-1zM125 5h1v1h-1zM132 5h1v1h-1zM140 5h1v1h-1zM158 5h1v1h-1zM164 5h1v1h-1zM172 5h2v1h-2zM178 5h1v1h-1zM186 5h1v1h-1zM196 5h1v1h-1zM201 5h1v1h-1zM240 5h1v1h-1zM253 5h2v1h-2zM273 5h1v1h-1zM276 5h1v1h-1zM279 5h1v1h-1zM281 5h1v1h-1zM291 5h1v1h-1zM294 5h3v1h-3zM304 5h1v1h-1zM82 6h1v1h-1zM165 6h1v1h-1zM193 6h1v1h-1zM239 6h1v1h-1zM259 6h1v1h-1zM269 6h1v1h-1zM20 7h1v1h-1zM183 7h1v1h-1zM3 8h1v1h-1zM205 8h1v1h-1z"/><path fill="#f66c5c" d="M4 0h1v1h-1zM10 0h1v1h-1zM24 0h1v1h-1zM58 0h1v1h-1zM119 0h1v1h-1zM142 0h1v1h-1zM154 0h1v1h-1zM160 0h1v1h-1zM200 0h1v1h-1zM213 0h1v1h-1zM228 0h1v1h-1zM232 0h1v1h-1zM290 0h1v1h-1zM16 1h1v1h-1zM31 1h1v1h-1zM39 1h1v1h-1zM45 1h1v1h-1zM49 1h1v1h-1zM54 1h1v1h-1zM71 1h1v1h-1zM89 1h1v1h-1zM99 1h1v1h-1zM118 1h1v1h-1zM121 1h1v1h-1zM127 1h1v1h-1zM130 1h1v1h-1zM139 1h1v1h-1zM143 1h1v1h-1zM153 1h1v1h-1zM155 1h1v1h-1zM158 1h1v1h-1zM164 1h1v1h-1zM177 1h1v1h-1zM181 1h1v1h-1zM185 1h1v1h-1zM207 1h1v1h-1zM215 1h1v1h-1zM217 1h1v1h-1zM220 1h1v1h-1zM225 1h1v1h-1zM228 1h1v1h-1zM240 1h1v1h-1zM255 1h1v1h-1zM260 1h1v1h-1zM277 1h1v1h-1zM281 1h2v1h-2zM285 1h1v1h-1zM292 1h1v1h-1zM86 2h1v1h-1zM89 2h1v1h-1zM95 2h1v1h-1zM129 2h1v1h-1zM135 2h1v1h-1zM139 2h1v1h-1zM142 2h1v1h-1zM156 2h1v1h-1zM180 2h1v1h-1zM188 2h2v1h-2zM208 2h1v1h-1zM213 2h1v1h-1zM233 2h1v1h-1zM256 2h1v1h-1zM258 2h1v1h-1zM60 3h1v1h-1zM63 3h1v1h-1zM72 3h1v1h-1zM108 3h1v1h-1zM139 3h1v1h-1zM170 3h1v1h-1zM175 3h1v1h-1zM218 3h1v1h-1zM238 3h1v1h-1zM241 3h1v1h-1zM256 3h1v1h-1zM284 3h1v1h-1zM0 4h1v1h-1zM59 4h1v1h-1zM67 4h1v1h-1zM96 4h1v1h-1zM108 4h1v1h-1zM116 4h2v1h-2zM136 4h1v1h-1zM186 4h1v1h-1zM194 4h1v1h-1zM204 4h1v1h-1zM211 4h2v1h-2zM221 4h1v1h-1zM223 4h1v1h-1zM241 4h1v1h-1zM248 4h2v1h-2zM260 4h1v1h-1zM263 4h1v1h-1zM266 4h1v1h-1zM282 4h1v1h-1zM0 5h2v1h-2zM13 5h1v1h-1zM25 5h2v1h-2zM49 5h1v1h-1zM59 5h2v1h-2zM66 5h1v1h-1zM72 5h1v1h-1zM74 5h1v1h-1zM82 5h1v1h-1zM88 5h1v1h-1zM99 5h1v1h-1zM133 5h1v1h-1zM139 5h1v1h-1zM147 5h1v1h-1zM151 5h1v1h-1zM157 5h1v1h-1zM175 5h1v1h-1zM197 5h1v1h-1zM213 5h1v1h-1zM224 5h1v1h-1zM236 5h1v1h-1zM250 5h1v1h-1zM265 5h2v1h-2zM271 5h1v1h-1zM290 5h1v1h-1zM31 6h1v1h-1zM41 6h1v1h-1zM112 6h1v1h-1zM159 7h1v1h-1zM91 8h1v1h-1zM112 8h1v1h-1zM195 8h1v1h-1zM262 8h1v1h-1z"/><path fill="#f9785d" d="M1 0h1v1h-1zM18 0h1v1h-1zM34 0h1v1h-1zM68 0h1v1h-1zM71 0h1v1h-1zM79 0h1v1h-1zM123 0h1v1h-1zM149 0h1v1h-1zM162 0h1v1h-1zM176 0h1v1h-1zM187 0h1v1h-1zM192 0h1v1h-1zM246 0h1v1h-1zM250 0h1v1h-1zM255 0h1v1h-1zM5 1h1v1h-1zM23 1h2v1h-2zM38 1h1v1h-1zM50 1h1v1h-1zM58 1h1v1h-1zM84 1h1v1h-1zM94 1h1v1h-1zM102 1h1v1h-1zM106 1h1v1h-1zM123 1h3v1h-3zM134 1h1v1h-1zM140 1h1v1h-1zM162 1h1v1h-1zM188 1h1v1h-1zM193 1h1v1h-1zM230 1h1v1h-1zM245 1h1v1h-1zM270 1h1v1h-1zM272 1h1v1h-1zM275 1h1v1h-1zM278 1h3v1h-3zM2 2h1v1h-1zM20 2h1v1h-1zM24 2h1v1h-1zM32 2h1v1h-1zM38 2h1v1h-1zM46 2h1v1h-1zM53 2h1v1h-1zM63 2h1v1h-1zM66 2h1v1h-1zM71 2h1v1h-1zM87 2h1v1h-1zM97 2h2v1h-2zM101 2h1v1h-1zM118 2h1v1h-1zM123 2h1v1h-1zM127 2h1v1h-1zM131 2h1v1h-1zM162 2h2v1h-2zM184 2h1v1h-1zM191 2h1v1h-1zM201 2h1v1h-1zM207 2h1v1h-1zM227 2h1v1h-1zM231 2h1v1h-1zM248 2h1v1h-1zM304 2h1v1h-1zM10 3h1v1h-1zM13 3h1v1h-1zM38 3h1v1h-1zM40 3h1v1h-1zM45 3h1v1h-1zM53 3h1v1h-1zM71 3h1v1h-1zM98 3h1v1h-1zM142 3h1v1h-1zM163 3h1v1h-1zM169 3h1v1h-1zM193 3h1v1h-1zM201 3h1v1h-1zM204 3h1v1h-1zM223 3h1v1h-1zM227 3h1v1h-1zM240 3h1v1h-1zM271 3h1v1h-1zM282 3h1v1h-1zM2 4h1v1h-1zM37 4h1v1h-1zM47 4h1v1h-1zM60 4h1v1h-1zM63 4h1v1h-1zM81 4h1v1h-1zM86 4h1v1h-1zM98 4h1v1h-1zM100 4h2v1h-2zM114 4h2v1h-2zM127 4h1v1h-1zM131 4h1v1h-1zM135 4h1v1h-1zM157 4h1v1h-1zM169 4h1v1h-1zM210 4h1v1h-1zM227 4h1v1h-1zM245 4h1v1h-1zM253 4h1v1h-1zM280 4h1v1h-1zM283 4h1v1h-1zM290 4h1v1h-1zM2 5h1v1h-1zM7 5h1v1h-1zM16 5h1v1h-1zM36 5h1v1h-1zM47 5h1v1h-1zM58 5h1v1h-1zM68 5h1v1h-1zM75 5h1v1h-1zM83 5h2v1h-2zM86 5h1v1h-1zM105 5h1v1h-1zM107 5h1v1h-1zM174 5h1v1h-1zM179 5h1v1h-1zM182 5h1v1h-1zM198 5h1v1h-1zM228 5h1v1h-1zM242 5h1v1h-1zM244 5h1v1h-1zM263 5h1v1h-1zM277 5h1v1h-1zM283 5h1v1h-1zM21 6h1v1h-1zM257 6h1v1h-1zM262 6h1v1h-1zM34 7h1v1h-1zM203 8h1v1h-1zM195 9h1v1h-1zM203 9h1v1h-1z"/><path fill="#fb8560" d="M25 0h1v1h-1zM64 0h1v1h-1zM113 0h2v1h-2zM130 0h1v1h-1zM134 0h1v1h-1zM177 0h1v1h-1zM186 0h1v1h-1zM195 0h1v1h-1zM197 0h1v1h-1zM205 0h1v1h-1zM215 0h1v1h-1zM243 0h1v1h-1zM259 0h1v1h-1zM269 0h1v1h-1zM298 0h1v1h-1zM3 1h1v1h-1zM7 1h1v1h-1zM27 1h1v1h-1zM51 1h1v1h-1zM61 1h1v1h-1zM63 1h3v1h-3zM78 1h1v1h-1zM109 1h1v1h-1zM149 1h1v1h-1zM154 1h1v1h-1zM163 1h1v1h-1zM179 1h1v1h-1zM186 1h1v1h-1zM205 1h1v1h-1zM236 1h1v1h-1zM243 1h1v1h-1zM250 1h1v1h-1zM287 1h1v1h-1zM293 1h1v1h-1zM299 1h1v1h-1zM0 2h2v1h-2zM9 2h1v1h-1zM19 2h1v1h-1zM37 2h1v1h-1zM40 2h2v1h-2zM60 2h3v1h-3zM82 2h1v1h-1zM85 2h1v1h-1zM88 2h1v1h-1zM90 2h1v1h-1zM100 2h1v1h-1zM106 2h1v1h-1zM108 2h1v1h-1zM112 2h1v1h-1zM115 2h1v1h-1zM124 2h1v1h-1zM132 2h1v1h-1zM137 2h1v1h-1zM157 2h1v1h-1zM170 2h1v1h-1zM172 2h1v1h-1zM176 2h1v1h-1zM183 2h1v1h-1zM195 2h1v1h-1zM212 2h1v1h-1zM234 2h1v1h-1zM238 2h1v1h-1zM240 2h1v1h-1zM244 2h1v1h-1zM249 2h1v1h-1zM252 2h3v1h-3zM263 2h1v1h-1zM273 2h1v1h-1zM278 2h1v1h-1zM280 2h1v1h-1zM5 3h1v1h-1zM8 3h1v1h-1zM20 3h1v1h-1zM23 3h1v1h-1zM25 3h1v1h-1zM33 3h1v1h-1zM42 3h1v1h-1zM48 3h1v1h-1zM51 3h1v1h-1zM78 3h1v1h-1zM82 3h1v1h-1zM103 3h2v1h-2zM106 3h1v1h-1zM144 3h1v1h-1zM148 3h1v1h-1zM154 3h1v1h-1zM157 3h1v1h-1zM161 3h1v1h-1zM166 3h1v1h-1zM183 3h1v1h-1zM187 3h1v1h-1zM212 3h1v1h-1zM228 3h1v1h-1zM235 3h1v1h-1zM245 3h1v1h-1zM252 3h1v1h-1zM258 3h1v1h-1zM266 3h1v1h-1zM277 3h1v1h-1zM285 3h1v1h-1zM293 3h1v1h-1zM296 3h1v1h-1zM300 3h1v1h-1zM13 4h1v1h-1zM38 4h1v1h-1zM40 4h1v1h-1zM46 4h1v1h-1zM51 4h1v1h-1zM68 4h1v1h-1zM70 4h1v1h-1zM74 4h1v1h-1zM88 4h1v1h-1zM102 4h1v1h-1zM134 4h1v1h-1zM142 4h2v1h-2zM164 4h2v1h-2zM176 4h1v1h-1zM187 4h1v1h-1zM196 4h1v1h-1zM201 4h1v1h-1zM207 4h1v1h-1zM225 4h1v1h-1zM235 4h1v1h-1zM238 4h1v1h-1zM250 4h1v1h-1zM256 4h1v1h-1zM268 4h1v1h-1zM277 4h1v1h-1zM12 5h1v1h-1zM14 5h2v1h-2zM43 5h2v1h-2zM48 5h1v1h-1zM50 5h1v1h-1zM64 5h1v1h-1zM96 5h1v1h-1zM101 5h1v1h-1zM112 5h1v1h-1zM114 5h1v1h-1zM128 5h1v1h-1zM142 5h1v1h-1zM148 5h1v1h-1zM150 5h1v1h-1zM153 5h1v1h-1zM188 5h1v1h-1zM193 5h1v1h-1zM199 5h1v1h-1zM202 5h1v1h-1zM218 5h2v1h-2zM221 5h2v1h-2zM234 5h1v1h-1zM239 5h1v1h-1zM243 5h1v1h-1zM303 5h1v1h-1zM113 6h1v1h-1zM121 6h1v1h-1zM264 6h1v1h-1zM89 8h1v1h-1zM152 8h1v1h-1zM93 9h1v1h-1z"/><path fill="#fc9065" d="M6 0h1v1h-1zM8 0h1v1h-1zM35 0h1v1h-1zM44 0h1v1h-1zM67 0h1v1h-1zM88 0h1v1h-1zM91 0h1v1h-1zM106 0h1v1h-1zM140 0h1v1h-1zM150 0h1v1h-1zM164 0h1v1h-1zM179 0h1v1h-1zM217 0h1v1h-1zM226 0h1v1h-1zM248 0h1v1h-1zM258 0h1v1h-1zM272 0h1v1h-1zM1 1h1v1h-1zM18 1h1v1h-1zM22 1h1v1h-1zM36 1h1v1h-1zM83 1h1v1h-1zM98 1h1v1h-1zM122 1h1v1h-1zM136 1h1v1h-1zM148 1h1v1h-1zM150 1h1v1h-1zM203 1h1v1h-1zM211 1h1v1h-1zM213 1h1v1h-1zM219 1h1v1h-1zM226 1h1v1h-1zM231 1h1v1h-1zM251 1h1v1h-1zM257 1h1v1h-1zM265 1h1v1h-1zM269 1h1v1h-1zM286 1h1v1h-1zM296 1h2v1h-2zM302 1h1v1h-1zM305 1h1v1h-1zM3 2h1v1h-1zM18 2h1v1h-1zM23 2h1v1h-1zM27 2h1v1h-1zM34 2h1v1h-1zM39 2h1v1h-1zM45 2h1v1h-1zM48 2h1v1h-1zM51 2h1v1h-1zM54 2h1v1h-1zM59 2h1v1h-1zM91 2h1v1h-1zM93 2h1v1h-1zM103 2h1v1h-1zM107 2h1v1h-1zM110 2h1v1h-1zM116 2h2v1h-2zM121 2h1v1h-1zM140 2h2v1h-2zM145 2h2v1h-2zM152 2h1v1h-1zM159 2h2v1h-2zM167 2h1v1h-1zM175 2h1v1h-1zM194 2h1v1h-1zM196 2h1v1h-1zM202 2h1v1h-1zM204 2h1v1h-1zM216 2h1v1h-1zM219 2h1v1h-1zM224 2h1v1h-1zM226 2h1v1h-1zM230 2h1v1h-1zM232 2h1v1h-1zM250 2h1v1h-1zM293 2h2v1h-2zM300 2h1v1h-1zM302 2h1v1h-1zM2 3h1v1h-1zM9 3h1v1h-1zM19 3h1v1h-1zM29 3h1v1h-1zM37 3h1v1h-1zM46 3h1v1h-1zM52 3h1v1h-1zM57 3h1v1h-1zM64 3h1v1h-1zM79 3h1v1h-1zM81 3h1v1h-1zM95 3h1v1h-1zM97 3h1v1h-1zM100 3h1v1h-1zM111 3h1v1h-1zM120 3h1v1h-1zM123 3h1v1h-1zM125 3h1v1h-1zM127 3h1v1h-1zM130 3h3v1h-3zM136 3h1v1h-1zM172 3h1v1h-1zM184 3h1v1h-1zM195 3h2v1h-2zM208 3h1v1h-1zM210 3h2v1h-2zM221 3h1v1h-1zM234 3h1v1h-1zM244 3h1v1h-1zM253 3h1v1h-1zM273 3h1v1h-1zM290 3h1v1h-1zM294 3h1v1h-1zM297 3h1v1h-1zM3 4h1v1h-1zM11 4h1v1h-1zM23 4h1v1h-1zM26 4h1v1h-1zM30 4h1v1h-1zM35 4h1v1h-1zM43 4h1v1h-1zM77 4h1v1h-1zM79 4h1v1h-1zM94 4h1v1h-1zM129 4h1v1h-1zM133 4h1v1h-1zM139 4h1v1h-1zM147 4h1v1h-1zM151 4h1v1h-1zM158 4h1v1h-1zM162 4h2v1h-2zM167 4h1v1h-1zM177 4h1v1h-1zM182 4h1v1h-1zM185 4h1v1h-1zM216 4h1v1h-1zM220 4h1v1h-1zM224 4h1v1h-1zM234 4h1v1h-1zM252 4h1v1h-1zM258 4h1v1h-1zM289 4h1v1h-1zM291 4h1v1h-1zM296 4h1v1h-1zM22 5h1v1h-1zM45 5h1v1h-1zM69 5h1v1h-1zM80 5h1v1h-1zM98 5h1v1h-1zM109 5h1v1h-1zM121 5h1v1h-1zM130 5h2v1h-2zM177 5h1v1h-1zM190 5h3v1h-3zM200 5h1v1h-1zM206 5h1v1h-1zM210 5h1v1h-1zM214 5h2v1h-2zM229 5h1v1h-1zM237 5h1v1h-1zM255 5h1v1h-1zM259 5h1v1h-1zM272 5h1v1h-1zM287 5h1v1h-1zM34 6h1v1h-1zM287 6h1v1h-1zM93 7h1v1h-1zM152 7h1v1h-1zM28 8h1v1h-1zM93 8h1v1h-1zM159 8h1v1h-1zM262 9h1v1h-1zM269 9h1v1h-1z"/><path fill="#fe9d6c" d="M21 0h1v1h-1zM42 0h1v1h-1zM122 0h1v1h-1zM148 0h1v1h-1zM281 0h1v1h-1zM283 0h1v1h-1zM286 0h1v1h-1zM301 0h1v1h-1zM4 1h1v1h-1zM6 1h1v1h-1zM8 1h1v1h-1zM28 1h1v1h-1zM34 1h1v1h-1zM42 1h1v1h-1zM47 1h1v1h-1zM56 1h1v1h-1zM68 1h1v1h-1zM77 1h1v1h-1zM88 1h1v1h-1zM91 1h1v1h-1zM113 1h1v1h-1zM138 1h1v1h-1zM165 1h1v1h-1zM197 1h1v1h-1zM200 1h1v1h-1zM288 1h1v1h-1zM291 1h1v1h-1zM295 1h1v1h-1zM16 2h1v1h-1zM22 2h1v1h-1zM28 2h1v1h-1zM33 2h1v1h-1zM43 2h1v1h-1zM56 2h1v1h-1zM58 2h1v1h-1zM68 2h1v1h-1zM74 2h1v1h-1zM96 2h1v1h-1zM99 2h1v1h-1zM113 2h2v1h-2zM128 2h1v1h-1zM147 2h1v1h-1zM158 2h1v1h-1zM165 2h1v1h-1zM173 2h1v1h-1zM181 2h1v1h-1zM186 2h1v1h-1zM193 2h1v1h-1zM197 2h1v1h-1zM206 2h1v1h-1zM209 2h1v1h-1zM211 2h1v1h-1zM220 2h1v1h-1zM225 2h1v1h-1zM237 2h1v1h-1zM242 2h1v1h-1zM257 2h1v1h-1zM267 2h1v1h-1zM271 2h1v1h-1zM279 2h1v1h-1zM288 2h2v1h-2zM299 2h1v1h-1zM0 3h1v1h-1zM11 3h2v1h-2zM16 3h1v1h-1zM24 3h1v1h-1zM27 3h1v1h-1zM32 3h1v1h-1zM36 3h1v1h-1zM61 3h1v1h-1zM65 3h2v1h-2zM74 3h1v1h-1zM89 3h1v1h-1zM91 3h1v1h-1zM96 3h1v1h-1zM101 3h2v1h-2zM105 3h1v1h-1zM109 3h1v1h-1zM115 3h2v1h-2zM128 3h1v1h-1zM135 3h1v1h-1zM140 3h1v1h-1zM145 3h1v1h-1zM149 3h1v1h-1zM152 3h1v1h-1zM156 3h1v1h-1zM159 3h2v1h-2zM162 3h1v1h-1zM164 3h1v1h-1zM171 3h1v1h-1zM173 3h1v1h-1zM179 3h1v1h-1zM181 3h2v1h-2zM185 3h1v1h-1zM189 3h1v1h-1zM191 3h1v1h-1zM207 3h1v1h-1zM213 3h2v1h-2zM216 3h1v1h-1zM220 3h1v1h-1zM231 3h1v1h-1zM237 3h1v1h-1zM242 3h1v1h-1zM249 3h1v1h-1zM251 3h1v1h-1zM255 3h1v1h-1zM265 3h1v1h-1zM267 3h2v1h-2zM272 3h1v1h-1zM280 3h1v1h-1zM287 3h1v1h-1zM295 3h1v1h-1zM5 4h1v1h-1zM15 4h1v1h-1zM27 4h1v1h-1zM32 4h1v1h-1zM42 4h1v1h-1zM45 4h1v1h-1zM57 4h2v1h-2zM66 4h1v1h-1zM72 4h1v1h-1zM75 4h2v1h-2zM103 4h1v1h-1zM118 4h1v1h-1zM154 4h1v1h-1zM183 4h2v1h-2zM188 4h1v1h-1zM206 4h1v1h-1zM213 4h2v1h-2zM228 4h1v1h-1zM240 4h1v1h-1zM278 4h1v1h-1zM295 4h1v1h-1zM297 4h1v1h-1zM300 4h1v1h-1zM6 5h1v1h-1zM21 5h1v1h-1zM30 5h1v1h-1zM34 5h1v1h-1zM55 5h1v1h-1zM89 5h1v1h-1zM146 5h1v1h-1zM149 5h1v1h-1zM152 5h1v1h-1zM204 5h1v1h-1zM226 5h1v1h-1zM231 5h1v1h-1zM246 5h1v1h-1zM251 5h1v1h-1zM258 5h1v1h-1zM280 5h1v1h-1zM285 5h1v1h-1zM298 5h1v1h-1zM305 5h1v1h-1zM28 6h1v1h-1zM89 7h1v1h-1zM91 7h1v1h-1zM91 9h1v1h-1z"/><path fill="#feaa74" d="M22 0h1v1h-1zM30 0h2v1h-2zM75 0h1v1h-1zM93 0h1v1h-1zM103 0h1v1h-1zM105 0h1v1h-1zM158 0h1v1h-1zM161 0h1v1h-1zM261 0h1v1h-1zM292 0h1v1h-1zM299 0h1v1h-1zM15 1h1v1h-1zM35 1h1v1h-1zM55 1h1v1h-1zM57 1h1v1h-1zM80 1h1v1h-1zM117 1h1v1h-1zM141 1h1v1h-1zM216 1h1v1h-1zM222 1h1v1h-1zM264 1h1v1h-1zM283 1h1v1h-1zM289 1h1v1h-1zM42 2h1v1h-1zM44 2h1v1h-1zM50 2h1v1h-1zM64 2h1v1h-1zM70 2h1v1h-1zM73 2h1v1h-1zM75 2h3v1h-3zM81 2h1v1h-1zM94 2h1v1h-1zM109 2h1v1h-1zM122 2h1v1h-1zM130 2h1v1h-1zM133 2h1v1h-1zM136 2h1v1h-1zM138 2h1v1h-1zM168 2h1v1h-1zM178 2h1v1h-1zM187 2h1v1h-1zM199 2h1v1h-1zM210 2h1v1h-1zM214 2h1v1h-1zM217 2h1v1h-1zM241 2h1v1h-1zM243 2h1v1h-1zM247 2h1v1h-1zM255 2h1v1h-1zM259 2h1v1h-1zM268 2h1v1h-1zM272 2h1v1h-1zM281 2h2v1h-2zM284 2h1v1h-1zM296 2h2v1h-2zM3 3h1v1h-1zM26 3h1v1h-1zM34 3h1v1h-1zM43 3h1v1h-1zM47 3h1v1h-1zM49 3h1v1h-1zM54 3h1v1h-1zM59 3h1v1h-1zM67 3h1v1h-1zM76 3h1v1h-1zM80 3h1v1h-1zM87 3h2v1h-2zM99 3h1v1h-1zM112 3h1v1h-1zM114 3h1v1h-1zM118 3h1v1h-1zM121 3h2v1h-2zM124 3h1v1h-1zM137 3h1v1h-1zM143 3h1v1h-1zM158 3h1v1h-1zM177 3h1v1h-1zM188 3h1v1h-1zM198 3h1v1h-1zM215 3h1v1h-1zM247 3h1v1h-1zM254 3h1v1h-1zM261 3h1v1h-1zM264 3h1v1h-1zM275 3h2v1h-2zM304 3h1v1h-1zM1 4h1v1h-1zM6 4h1v1h-1zM12 4h1v1h-1zM19 4h1v1h-1zM33 4h2v1h-2zM36 4h1v1h-1zM48 4h3v1h-3zM52 4h2v1h-2zM56 4h1v1h-1zM69 4h1v1h-1zM84 4h1v1h-1zM87 4h1v1h-1zM89 4h1v1h-1zM97 4h1v1h-1zM99 4h1v1h-1zM109 4h1v1h-1zM120 4h2v1h-2zM123 4h1v1h-1zM126 4h1v1h-1zM150 4h1v1h-1zM166 4h1v1h-1zM171 4h1v1h-1zM189 4h4v1h-4zM198 4h1v1h-1zM202 4h1v1h-1zM209 4h1v1h-1zM230 4h3v1h-3zM246 4h1v1h-1zM254 4h2v1h-2zM264 4h1v1h-1zM267 4h1v1h-1zM281 4h1v1h-1zM293 4h2v1h-2zM298 4h1v1h-1zM305 4h1v1h-1zM57 5h1v1h-1zM85 5h1v1h-1zM110 5h1v1h-1zM117 5h1v1h-1zM119 5h1v1h-1zM138 5h1v1h-1zM141 5h1v1h-1zM168 5h1v1h-1zM183 5h1v1h-1zM232 5h1v1h-1zM264 5h1v1h-1zM269 5h1v1h-1zM20 6h1v1h-1zM93 6h1v1h-1zM160 6h1v1h-1zM203 7h1v1h-1zM28 9h1v1h-1zM89 9h1v1h-1zM301 9h1v1h-1z"/><path fill="#feb67c" d="M12 0h1v1h-1zM41 0h1v1h-1zM55 0h1v1h-1zM92 0h1v1h-1zM155 0h1v1h-1zM231 0h1v1h-1zM234 0h1v1h-1zM276 0h1v1h-1zM17 1h1v1h-1zM114 1h1v1h-1zM176 1h1v1h-1zM237 1h1v1h-1zM239 1h1v1h-1zM261 1h1v1h-1zM267 1h1v1h-1zM298 1h1v1h-1zM301 1h1v1h-1zM7 2h1v1h-1zM13 2h1v1h-1zM30 2h1v1h-1zM49 2h1v1h-1zM55 2h1v1h-1zM80 2h1v1h-1zM119 2h1v1h-1zM148 2h1v1h-1zM151 2h1v1h-1zM153 2h1v1h-1zM161 2h1v1h-1zM174 2h1v1h-1zM192 2h1v1h-1zM221 2h2v1h-2zM228 2h1v1h-1zM236 2h1v1h-1zM239 2h1v1h-1zM246 2h1v1h-1zM251 2h1v1h-1zM262 2h1v1h-1zM264 2h1v1h-1zM269 2h1v1h-1zM277 2h1v1h-1zM285 2h1v1h-1zM287 2h1v1h-1zM295 2h1v1h-1zM303 2h1v1h-1zM1 3h1v1h-1zM6 3h1v1h-1zM14 3h1v1h-1zM18 3h1v1h-1zM35 3h1v1h-1zM58 3h1v1h-1zM69 3h2v1h-2zM85 3h1v1h-1zM93 3h1v1h-1zM110 3h1v1h-1zM119 3h1v1h-1zM126 3h1v1h-1zM134 3h1v1h-1zM151 3h1v1h-1zM176 3h1v1h-1zM178 3h1v1h-1zM180 3h1v1h-1zM186 3h1v1h-1zM200 3h1v1h-1zM203 3h1v1h-1zM206 3h1v1h-1zM209 3h1v1h-1zM233 3h1v1h-1zM243 3h1v1h-1zM248 3h1v1h-1zM259 3h1v1h-1zM283 3h1v1h-1zM288 3h1v1h-1zM292 3h1v1h-1zM302 3h1v1h-1zM305 3h1v1h-1zM10 4h1v1h-1zM18 4h1v1h-1zM24 4h2v1h-2zM61 4h1v1h-1zM65 4h1v1h-1zM104 4h1v1h-1zM124 4h1v1h-1zM128 4h1v1h-1zM138 4h1v1h-1zM145 4h2v1h-2zM148 4h1v1h-1zM159 4h1v1h-1zM173 4h2v1h-2zM178 4h2v1h-2zM195 4h1v1h-1zM197 4h1v1h-1zM199 4h1v1h-1zM247 4h1v1h-1zM265 4h1v1h-1zM270 4h1v1h-1zM272 4h1v1h-1zM287 4h1v1h-1zM303 4h2v1h-2zM35 5h1v1h-1zM54 5h1v1h-1zM65 5h1v1h-1zM77 5h1v1h-1zM93 5h1v1h-1zM159 5h2v1h-2zM176 5h1v1h-1zM187 5h1v1h-1zM217 5h1v1h-1zM275 5h1v1h-1zM288 5h1v1h-1zM292 5h1v1h-1zM92 6h1v1h-1zM203 6h1v1h-1zM205 6h1v1h-1zM302 6h1v1h-1zM205 7h1v1h-1zM302 8h1v1h-1z"/><path fill="#fec287" d="M121 0h1v1h-1zM128 0h1v1h-1zM257 0h1v1h-1zM278 0h1v1h-1zM69 1h1v1h-1zM105 1h1v1h-1zM5 2h1v1h-1zM8 2h1v1h-1zM10 2h1v1h-1zM12 2h1v1h-1zM14 2h1v1h-1zM21 2h1v1h-1zM35 2h1v1h-1zM65 2h1v1h-1zM78 2h2v1h-2zM83 2h1v1h-1zM104 2h2v1h-2zM126 2h1v1h-1zM149 2h2v1h-2zM164 2h1v1h-1zM166 2h1v1h-1zM182 2h1v1h-1zM190 2h1v1h-1zM198 2h1v1h-1zM203 2h1v1h-1zM215 2h1v1h-1zM229 2h1v1h-1zM260 2h1v1h-1zM265 2h1v1h-1zM275 2h1v1h-1zM291 2h2v1h-2zM301 2h1v1h-1zM21 3h2v1h-2zM28 3h1v1h-1zM56 3h1v1h-1zM73 3h1v1h-1zM84 3h1v1h-1zM117 3h1v1h-1zM133 3h1v1h-1zM138 3h1v1h-1zM146 3h2v1h-2zM153 3h1v1h-1zM167 3h1v1h-1zM190 3h1v1h-1zM199 3h1v1h-1zM224 3h1v1h-1zM226 3h1v1h-1zM230 3h1v1h-1zM232 3h1v1h-1zM236 3h1v1h-1zM246 3h1v1h-1zM250 3h1v1h-1zM279 3h1v1h-1zM281 3h1v1h-1zM289 3h1v1h-1zM301 3h1v1h-1zM303 3h1v1h-1zM8 4h1v1h-1zM22 4h1v1h-1zM31 4h1v1h-1zM41 4h1v1h-1zM55 4h1v1h-1zM78 4h1v1h-1zM80 4h1v1h-1zM82 4h1v1h-1zM85 4h1v1h-1zM105 4h1v1h-1zM107 4h1v1h-1zM110 4h1v1h-1zM112 4h1v1h-1zM125 4h1v1h-1zM132 4h1v1h-1zM149 4h1v1h-1zM160 4h1v1h-1zM180 4h1v1h-1zM193 4h1v1h-1zM219 4h1v1h-1zM229 4h1v1h-1zM236 4h1v1h-1zM243 4h2v1h-2zM262 4h1v1h-1zM285 4h1v1h-1zM4 5h1v1h-1zM8 5h1v1h-1zM154 5h1v1h-1zM165 5h1v1h-1zM209 5h1v1h-1zM270 5h1v1h-1zM297 5h1v1h-1zM91 6h1v1h-1zM285 6h2v1h-2z"/><path fill="#fecd90" d="M174 0h1v1h-1zM273 0h1v1h-1zM41 1h1v1h-1zM44 1h1v1h-1zM4 2h1v1h-1zM6 2h1v1h-1zM17 2h1v1h-1zM67 2h1v1h-1zM69 2h1v1h-1zM84 2h1v1h-1zM120 2h1v1h-1zM154 2h1v1h-1zM171 2h1v1h-1zM177 2h1v1h-1zM179 2h1v1h-1zM261 2h1v1h-1zM270 2h1v1h-1zM290 2h1v1h-1zM15 3h1v1h-1zM39 3h1v1h-1zM50 3h1v1h-1zM68 3h1v1h-1zM75 3h1v1h-1zM77 3h1v1h-1zM94 3h1v1h-1zM107 3h1v1h-1zM155 3h1v1h-1zM165 3h1v1h-1zM168 3h1v1h-1zM202 3h1v1h-1zM217 3h1v1h-1zM229 3h1v1h-1zM239 3h1v1h-1zM257 3h1v1h-1zM260 3h1v1h-1zM262 3h1v1h-1zM269 3h1v1h-1zM291 3h1v1h-1zM298 3h1v1h-1zM4 4h1v1h-1zM7 4h1v1h-1zM9 4h1v1h-1zM39 4h1v1h-1zM54 4h1v1h-1zM64 4h1v1h-1zM73 4h1v1h-1zM83 4h1v1h-1zM122 4h1v1h-1zM140 4h1v1h-1zM152 4h1v1h-1zM156 4h1v1h-1zM168 4h1v1h-1zM203 4h1v1h-1zM217 4h1v1h-1zM222 4h1v1h-1zM237 4h1v1h-1zM261 4h1v1h-1zM269 4h1v1h-1zM273 4h1v1h-1zM276 4h1v1h-1zM286 4h1v1h-1zM288 4h1v1h-1zM292 4h1v1h-1zM5 5h1v1h-1zM28 5h1v1h-1zM42 5h1v1h-1zM91 5h1v1h-1zM171 5h1v1h-1zM257 5h1v1h-1zM261 5h1v1h-1zM299 5h1v1h-1zM301 6h1v1h-1zM301 8h1v1h-1zM205 9h1v1h-1zM302 9h1v1h-1z"/><path fill="#fdda9c" d="M69 0h1v1h-1zM25 2h1v1h-1zM125 2h1v1h-1zM200 2h1v1h-1zM298 2h1v1h-1zM7 3h1v1h-1zM17 3h1v1h-1zM30 3h2v1h-2zM41 3h1v1h-1zM55 3h1v1h-1zM83 3h1v1h-1zM92 3h1v1h-1zM113 3h1v1h-1zM150 3h1v1h-1zM174 3h1v1h-1zM197 3h1v1h-1zM222 3h1v1h-1zM270 3h1v1h-1zM278 3h1v1h-1zM299 3h1v1h-1zM17 4h1v1h-1zM44 4h1v1h-1zM92 4h1v1h-1zM119 4h1v1h-1zM215 4h1v1h-1zM17 5h1v1h-1zM31 5h1v1h-1zM195 5h1v1h-1zM203 5h1v1h-1zM262 5h1v1h-1zM278 5h1v1h-1zM286 5h1v1h-1zM92 7h1v1h-1zM92 9h1v1h-1z"/><path fill="#fde5a7" d="M31 2h1v1h-1zM155 2h1v1h-1zM276 2h1v1h-1zM4 3h1v1h-1zM141 3h1v1h-1zM192 3h1v1h-1zM219 3h1v1h-1zM113 4h1v1h-1zM141 4h1v1h-1zM155 4h1v1h-1zM226 4h1v1h-1zM251 4h1v1h-1zM301 4h2v1h-2zM41 5h1v1h-1zM87 5h1v1h-1zM113 5h1v1h-1zM302 5h1v1h-1z"/><path fill="#fcf2b4" d="M141 0h1v1h-1zM92 2h1v1h-1zM286 2h1v1h-1zM305 2h1v1h-1zM44 3h1v1h-1zM205 3h1v1h-1zM14 4h1v1h-1zM91 4h1v1h-1zM239 4h1v1h-1zM259 4h1v1h-1zM275 4h1v1h-1zM3 5h1v1h-1zM94 5h1v1h-1zM155 5h1v1h-1zM302 7h1v1h-1z"/><path fill="#fcfdbf" d="M57 2h1v1h-1zM205 2h1v1h-1zM286 3h1v1h-1zM21 4h1v1h-1zM28 4h1v1h-1zM93 4h1v1h-1zM205 4h1v1h-1zM257 4h1v1h-1zM299 4h1v1h-1zM92 5h1v1h-1zM205 5h1v1h-1zM301 5h1v1h-1zM301 7h1v1h-1zM92 8h1v1h-1z"/></g><rect x="43.3" y="1414.8" width="222.1" height="164.2" fill="none" stroke="#333" stroke-width="1.1"/><text x="43.6" y="1405.1" font-size="15.36">Lung_cancer</text><text x="38.3" y="1567.7" font-size="10.24" text-anchor="end" fill="#4D4D4D">120</text><path d="M40.1 1564.1H43.3" stroke="#333" stroke-width="1.1"/><text x="38.3" y="1537.84" font-size="10.24" text-anchor="end" fill="#4D4D4D">140</text><path d="M40.1 1534.24H43.3" stroke="#333" stroke-width="1.1"/><text x="38.3" y="1507.98" font-size="10.24" text-anchor="end" fill="#4D4D4D">160</text><path d="M40.1 1504.38H43.3" stroke="#333" stroke-width="1.1"/><text x="38.3" y="1478.12" font-size="10.24" text-anchor="end" fill="#4D4D4D">180</text><path d="M40.1 1474.52H43.3" stroke="#333" stroke-width="1.1"/><text x="38.3" y="1448.26" font-size="10.24" text-anchor="end" fill="#4D4D4D">200</text><path d="M40.1 1444.66H43.3" stroke="#333" stroke-width="1.1"/><text x="38.3" y="1418.4" font-size="10.24" text-anchor="end" fill="#4D4D4D">220</text><path d="M40.1 1414.8H43.3" stroke="#333" stroke-width="1.1"/><text x="53.4" y="1592.4" font-size="10.24" text-anchor="middle" fill="#4D4D4D">0</text><path d="M53.4 1579V1582.2" stroke="#333" stroke-width="1.1"/><text x="119.4" y="1592.4" font-size="10.24" text-anchor="middle" fill="#4D4D4D">100</text><path d="M119.4 1579V1582.2" stroke="#333" stroke-width="1.1"/><text x="185.4" y="1592.4" font-size="10.24" text-anchor="middle" fill="#4D4D4D">200</text><path d="M185.4 1579V1582.2" stroke="#333" stroke-width="1.1"/><text x="251.4" y="1592.4" font-size="10.24" text-anchor="middle" fill="#4D4D4D">300</text><path d="M251.4 1579V1582.2" stroke="#333" stroke-width="1.1"/><text x="154.35" y="1606.8" font-size="12.7" text-anchor="middle">genomic position</text><text transform="translate(14.6 1496.9) rotate(-90)" font-size="12.7" text-anchor="middle">fragment size</text><rect x="285.2" y="1455.8" width="19.8" height="99.3" fill="url(#g46)"/><text x="284.9" y="1447.9" font-size="12.7">value</text><path d="M285.2 1555.1H288.8" stroke="#fff" stroke-width="0.9"/><path d="M301.4 1555.1H305" stroke="#fff" stroke-width="0.9"/><text x="311.6" y="1558.7" font-size="10.24">0.00</text><path d="M285.2 1530.28H288.8" stroke="#fff" stroke-width="0.9"/><path d="M301.4 1530.28H305" stroke="#fff" stroke-width="0.9"/><text x="311.6" y="1533.88" font-size="10.24">0.25</text><path d="M285.2 1505.45H288.8" stroke="#fff" stroke-width="0.9"/><path d="M301.4 1505.45H305" stroke="#fff" stroke-width="0.9"/><text x="311.6" y="1509.05" font-size="10.24">0.50</text><path d="M285.2 1480.62H288.8" stroke="#fff" stroke-width="0.9"/><path d="M301.4 1480.62H305" stroke="#fff" stroke-width="0.9"/><text x="311.6" y="1484.22" font-size="10.24">0.75</text><path d="M285.2 1455.8H288.8" stroke="#fff" stroke-width="0.9"/><path d="M301.4 1455.8H305" stroke="#fff" stroke-width="0.9"/><text x="311.6" y="1459.4" font-size="10.24">1.00</text><path d="M389 1579.03H611.1" stroke="#EBEBEB" stroke-width="0.55"/><path d="M389 1549.17H611.1" stroke="#EBEBEB" stroke-width="0.55"/><path d="M389 1519.31H611.1" stroke="#EBEBEB" stroke-width="0.55"/><path d="M389 1489.45H611.1" stroke="#EBEBEB" stroke-width="0.55"/><path d="M389 1459.59H611.1" stroke="#EBEBEB" stroke-width="0.55"/><path d="M389 1429.73H611.1" stroke="#EBEBEB" stroke-width="0.55"/><path d="M432.1 1414.8V1579" stroke="#EBEBEB" stroke-width="0.55"/><path d="M498.1 1414.8V1579" stroke="#EBEBEB" stroke-width="0.55"/><path d="M564.1 1414.8V1579" stroke="#EBEBEB" stroke-width="0.55"/><path d="M389 1564.1H611.1" stroke="#EBEBEB" stroke-width="1.1"/><path d="M389 1534.24H611.1" stroke="#EBEBEB" stroke-width="1.1"/><path d="M389 1504.38H611.1" stroke="#EBEBEB" stroke-width="1.1"/><path d="M389 1474.52H611.1" stroke="#EBEBEB" stroke-width="1.1"/><path d="M389 1444.66H611.1" stroke="#EBEBEB" stroke-width="1.1"/><path d="M389 1414.8H611.1" stroke="#EBEBEB" stroke-width="1.1"/><path d="M399.1 1414.8V1579" stroke="#EBEBEB" stroke-width="1.1"/><path d="M465.1 1414.8V1579" stroke="#EBEBEB" stroke-width="1.1"/><path d="M531.1 1414.8V1579" stroke="#EBEBEB" stroke-width="1.1"/><path d="M597.1 1414.8V1579" stroke="#EBEBEB" stroke-width="1.1"/><g transform="translate(399.43 1422.26) scale(0.6600 14.9300)"><rect x="0" y="0" width="306" height="1" fill="#feb27a"/><rect x="0" y="1" width="306" height="1" fill="#feb27a"/><rect x="0" y="2" width="306" height="1" fill="#fec488"/><rect x="0" y="3" width="306" height="1" fill="#fecc8f"/><rect x="0" y="4" width="306" height="1" fill="#fed597"/><rect x="0" y="5" width="306" height="1" fill="#fdda9c"/><rect x="0" y="6" width="306" height="1" fill="#fed799"/><rect x="0" y="7" width="306" height="1" fill="#feca8d"/><rect x="0" y="8" width="306" height="1" fill="#feb67c"/><rect x="0" y="9" width="306" height="1" fill="#feb97f"/><path fill="#e34e65" d="M153 1h1v1h-1zM214 8h1v1h-1z"/><path fill="#eb5760" d="M37 8h1v1h-1z"/><path fill="#f1605d" d="M149 0h1v1h-1zM85 1h1v1h-1zM113 1h1v1h-1zM116 1h1v1h-1zM147 1h1v1h-1zM190 1h1v1h-1zM301 1h1v1h-1zM178 8h1v1h-1zM228 8h1v1h-1zM285 8h1v1h-1zM34 9h1v1h-1zM73 9h1v1h-1zM241 9h1v1h-1zM264 9h1v1h-1z"/><path fill="#f66c5c" d="M6 0h1v1h-1zM8 0h1v1h-1zM132 0h1v1h-1zM143 0h1v1h-1zM214 0h1v1h-1zM219 0h1v1h-1zM293 0h1v1h-1zM54 1h1v1h-1zM60 1h1v1h-1zM80 1h1v1h-1zM149 1h1v1h-1zM194 1h1v1h-1zM232 1h1v1h-1zM297 1h1v1h-1zM303 1h1v1h-1zM61 2h1v1h-1zM282 2h1v1h-1zM4 8h1v1h-1zM6 8h1v1h-1zM74 8h1v1h-1zM143 8h1v1h-1zM199 8h1v1h-1zM74 9h1v1h-1z"/><path fill="#f9785d" d="M18 0h1v1h-1zM51 0h1v1h-1zM63 0h1v1h-1zM77 0h1v1h-1zM82 0h1v1h-1zM86 0h1v1h-1zM116 0h1v1h-1zM131 0h1v1h-1zM153 0h1v1h-1zM158 0h1v1h-1zM218 0h1v1h-1zM235 0h1v1h-1zM243 0h1v1h-1zM255 0h1v1h-1zM264 0h1v1h-1zM282 0h1v1h-1zM301 0h1v1h-1zM34 1h1v1h-1zM42 1h1v1h-1zM84 1h1v1h-1zM99 1h1v1h-1zM125 1h1v1h-1zM144 1h1v1h-1zM179 1h1v1h-1zM231 1h1v1h-1zM248 1h1v1h-1zM218 2h1v1h-1zM61 6h1v1h-1zM248 6h1v1h-1zM25 7h1v1h-1zM45 7h1v1h-1zM205 7h1v1h-1zM18 8h1v1h-1zM36 8h1v1h-1zM48 8h1v1h-1zM62 8h1v1h-1zM80 8h1v1h-1zM88 8h1v1h-1zM202 8h1v1h-1zM245 8h1v1h-1zM282 8h1v1h-1zM112 9h1v1h-1zM126 9h1v1h-1zM165 9h1v1h-1zM217 9h1v1h-1zM224 9h1v1h-1zM282 9h1v1h-1z"/><path fill="#fb8560" d="M24 0h1v1h-1zM37 0h1v1h-1zM43 0h1v1h-1zM115 0h1v1h-1zM144 0h2v1h-2zM178 0h1v1h-1zM181 0h1v1h-1zM239 0h1v1h-1zM279 0h1v1h-1zM304 0h1v1h-1zM33 1h1v1h-1zM49 1h1v1h-1zM81 1h1v1h-1zM86 1h1v1h-1zM135 1h1v1h-1zM143 1h1v1h-1zM146 1h1v1h-1zM201 1h1v1h-1zM210 1h1v1h-1zM261 1h1v1h-1zM265 1h1v1h-1zM295 1h1v1h-1zM69 2h1v1h-1zM118 2h1v1h-1zM144 2h1v1h-1zM107 3h1v1h-1zM155 3h1v1h-1zM264 4h1v1h-1zM98 7h2v1h-2zM101 7h1v1h-1zM19 8h1v1h-1zM25 8h1v1h-1zM54 8h1v1h-1zM69 8h1v1h-1zM101 8h1v1h-1zM141 8h1v1h-1zM164 8h1v1h-1zM170 8h1v1h-1zM185 8h1v1h-1zM190 8h1v1h-1zM201 8h1v1h-1zM217 8h1v1h-1zM240 8h1v1h-1zM250 8h1v1h-1zM264 8h1v1h-1zM275 8h1v1h-1zM8 9h1v1h-1zM86 9h1v1h-1zM111 9h1v1h-1zM113 9h1v1h-1zM122 9h1v1h-1zM125 9h1v1h-1zM145 9h1v1h-1zM179 9h1v1h-1zM214 9h1v1h-1zM218 9h1v1h-1zM235 9h1v1h-1z"/><path fill="#fc9065" d="M49 0h1v1h-1zM55 0h1v1h-1zM61 0h2v1h-2zM66 0h1v1h-1zM76 0h1v1h-1zM83 0h1v1h-1zM108 0h1v1h-1zM134 0h1v1h-1zM152 0h1v1h-1zM155 0h1v1h-1zM162 0h1v1h-1zM167 0h1v1h-1zM196 0h1v1h-1zM217 0h1v1h-1zM240 0h2v1h-2zM257 0h1v1h-1zM273 0h1v1h-1zM290 0h1v1h-1zM292 0h1v1h-1zM6 1h1v1h-1zM30 1h1v1h-1zM45 1h1v1h-1zM48 1h1v1h-1zM58 1h1v1h-1zM61 1h1v1h-1zM63 1h1v1h-1zM104 1h1v1h-1zM127 1h1v1h-1zM132 1h1v1h-1zM142 1h1v1h-1zM148 1h1v1h-1zM154 1h1v1h-1zM164 1h1v1h-1zM166 1h1v1h-1zM213 1h2v1h-2zM217 1h2v1h-2zM235 1h1v1h-1zM243 1h1v1h-1zM262 1h1v1h-1zM289 1h1v1h-1zM51 2h1v1h-1zM54 2h1v1h-1zM92 2h1v1h-1zM117 2h1v1h-1zM174 2h1v1h-1zM252 2h1v1h-1zM290 2h1v1h-1zM4 3h1v1h-1zM69 3h1v1h-1zM195 3h1v1h-1zM153 5h1v1h-1zM218 5h1v1h-1zM25 6h1v1h-1zM116 6h1v1h-1zM269 6h1v1h-1zM52 7h1v1h-1zM118 7h1v1h-1zM121 7h1v1h-1zM134 7h1v1h-1zM170 7h1v1h-1zM188 7h1v1h-1zM221 7h1v1h-1zM266 7h1v1h-1zM281 7h1v1h-1zM3 8h1v1h-1zM9 8h1v1h-1zM22 8h1v1h-1zM24 8h1v1h-1zM49 8h1v1h-1zM58 8h1v1h-1zM67 8h1v1h-1zM78 8h1v1h-1zM95 8h1v1h-1zM115 8h1v1h-1zM123 8h1v1h-1zM138 8h1v1h-1zM153 8h1v1h-1zM161 8h1v1h-1zM165 8h1v1h-1zM172 8h1v1h-1zM180 8h1v1h-1zM206 8h1v1h-1zM243 8h1v1h-1zM248 8h1v1h-1zM276 8h1v1h-1zM278 8h1v1h-1zM301 8h1v1h-1zM19 9h1v1h-1zM21 9h1v1h-1zM27 9h1v1h-1zM50 9h1v1h-1zM79 9h1v1h-1zM85 9h1v1h-1zM105 9h1v1h-1zM116 9h1v1h-1zM150 9h1v1h-1zM171 9h1v1h-1zM185 9h1v1h-1zM190 9h1v1h-1zM228 9h1v1h-1zM242 9h1v1h-1zM265 9h1v1h-1zM272 9h1v1h-1z"/><path fill="#fe9d6c" d="M7 0h1v1h-1zM14 0h1v1h-1zM30 0h1v1h-1zM38 0h1v1h-1zM58 0h1v1h-1zM60 0h1v1h-1zM68 0h1v1h-1zM81 0h1v1h-1zM92 0h1v1h-1zM94 0h1v1h-1zM101 0h1v1h-1zM106 0h1v1h-1zM118 0h1v1h-1zM122 0h1v1h-1zM124 0h1v1h-1zM127 0h2v1h-2zM139 0h1v1h-1zM146 0h1v1h-1zM168 0h2v1h-2zM179 0h1v1h-1zM185 0h1v1h-1zM190 0h2v1h-2zM211 0h1v1h-1zM224 0h1v1h-1zM228 0h1v1h-1zM237 0h1v1h-1zM250 0h1v1h-1zM272 0h1v1h-1zM286 0h2v1h-2zM32 1h1v1h-1zM36 1h1v1h-1zM43 1h1v1h-1zM74 1h1v1h-1zM79 1h1v1h-1zM82 1h1v1h-1zM88 1h1v1h-1zM109 1h2v1h-2zM124 1h1v1h-1zM159 1h1v1h-1zM168 1h1v1h-1zM173 1h1v1h-1zM185 1h1v1h-1zM192 1h1v1h-1zM203 1h1v1h-1zM221 1h2v1h-2zM225 1h1v1h-1zM228 1h1v1h-1zM236 1h2v1h-2zM240 1h1v1h-1zM263 1h1v1h-1zM271 1h1v1h-1zM281 1h2v1h-2zM292 1h1v1h-1zM300 1h1v1h-1zM28 2h1v1h-1zM30 2h1v1h-1zM33 2h1v1h-1zM45 2h1v1h-1zM74 2h1v1h-1zM85 2h1v1h-1zM88 2h1v1h-1zM95 2h1v1h-1zM104 2h1v1h-1zM120 2h1v1h-1zM157 2h3v1h-3zM162 2h1v1h-1zM173 2h1v1h-1zM190 2h2v1h-2zM204 2h1v1h-1zM236 2h1v1h-1zM241 2h1v1h-1zM243 2h1v1h-1zM275 2h1v1h-1zM279 2h1v1h-1zM14 3h1v1h-1zM19 3h1v1h-1zM28 3h1v1h-1zM42 3h1v1h-1zM53 3h1v1h-1zM67 3h1v1h-1zM85 3h1v1h-1zM111 3h1v1h-1zM116 3h1v1h-1zM219 3h1v1h-1zM241 3h1v1h-1zM250 3h1v1h-1zM272 3h1v1h-1zM274 3h1v1h-1zM39 4h1v1h-1zM156 4h1v1h-1zM190 4h1v1h-1zM231 4h1v1h-1zM282 4h1v1h-1zM101 5h1v1h-1zM118 5h1v1h-1zM143 5h1v1h-1zM192 5h1v1h-1zM29 6h1v1h-1zM227 6h1v1h-1zM241 6h1v1h-1zM12 7h1v1h-1zM50 7h1v1h-1zM69 7h1v1h-1zM112 7h1v1h-1zM138 7h1v1h-1zM189 7h1v1h-1zM198 7h1v1h-1zM219 7h1v1h-1zM232 7h1v1h-1zM269 7h1v1h-1zM282 7h1v1h-1zM11 8h1v1h-1zM50 8h2v1h-2zM61 8h1v1h-1zM76 8h2v1h-2zM85 8h1v1h-1zM89 8h1v1h-1zM94 8h1v1h-1zM111 8h1v1h-1zM116 8h1v1h-1zM122 8h1v1h-1zM125 8h1v1h-1zM130 8h1v1h-1zM133 8h1v1h-1zM146 8h1v1h-1zM166 8h1v1h-1zM188 8h1v1h-1zM191 8h1v1h-1zM218 8h1v1h-1zM222 8h1v1h-1zM224 8h1v1h-1zM247 8h1v1h-1zM249 8h1v1h-1zM255 8h1v1h-1zM272 8h1v1h-1zM274 8h1v1h-1zM280 8h1v1h-1zM3 9h1v1h-1zM18 9h1v1h-1zM24 9h2v1h-2zM29 9h1v1h-1zM37 9h1v1h-1zM48 9h2v1h-2zM54 9h1v1h-1zM61 9h1v1h-1zM80 9h1v1h-1zM98 9h1v1h-1zM108 9h1v1h-1zM137 9h1v1h-1zM143 9h1v1h-1zM153 9h1v1h-1zM164 9h1v1h-1zM181 9h1v1h-1zM210 9h1v1h-1zM221 9h1v1h-1zM232 9h1v1h-1zM236 9h1v1h-1zM253 9h1v1h-1zM296 9h1v1h-1zM299 9h1v1h-1z"/><path fill="#feaa74" d="M1 0h1v1h-1zM4 0h1v1h-1zM12 0h1v1h-1zM16 0h1v1h-1zM35 0h1v1h-1zM50 0h1v1h-1zM54 0h1v1h-1zM69 0h1v1h-1zM75 0h1v1h-1zM89 0h1v1h-1zM97 0h1v1h-1zM99 0h1v1h-1zM104 0h1v1h-1zM112 0h2v1h-2zM117 0h1v1h-1zM130 0h1v1h-1zM160 0h1v1h-1zM174 0h1v1h-1zM186 0h1v1h-1zM206 0h1v1h-1zM213 0h1v1h-1zM232 0h2v1h-2zM253 0h1v1h-1zM266 0h1v1h-1zM269 0h1v1h-1zM275 0h1v1h-1zM277 0h1v1h-1zM3 1h2v1h-2zM10 1h1v1h-1zM18 1h1v1h-1zM22 1h1v1h-1zM27 1h1v1h-1zM29 1h1v1h-1zM31 1h1v1h-1zM37 1h1v1h-1zM50 1h2v1h-2zM53 1h1v1h-1zM69 1h1v1h-1zM78 1h1v1h-1zM89 1h1v1h-1zM95 1h1v1h-1zM101 1h1v1h-1zM111 1h1v1h-1zM117 1h1v1h-1zM130 1h1v1h-1zM145 1h1v1h-1zM152 1h1v1h-1zM160 1h1v1h-1zM162 1h1v1h-1zM180 1h1v1h-1zM188 1h1v1h-1zM207 1h1v1h-1zM224 1h1v1h-1zM227 1h1v1h-1zM238 1h1v1h-1zM250 1h1v1h-1zM259 1h2v1h-2zM264 1h1v1h-1zM269 1h1v1h-1zM275 1h1v1h-1zM283 1h1v1h-1zM37 2h1v1h-1zM42 2h1v1h-1zM60 2h1v1h-1zM70 2h1v1h-1zM78 2h1v1h-1zM81 2h1v1h-1zM97 2h1v1h-1zM99 2h1v1h-1zM111 2h1v1h-1zM116 2h1v1h-1zM128 2h1v1h-1zM165 2h1v1h-1zM179 2h1v1h-1zM213 2h2v1h-2zM224 2h2v1h-2zM228 2h1v1h-1zM231 2h1v1h-1zM248 2h1v1h-1zM250 2h1v1h-1zM276 2h1v1h-1zM278 2h1v1h-1zM281 2h1v1h-1zM284 2h1v1h-1zM295 2h1v1h-1zM18 3h1v1h-1zM25 3h1v1h-1zM45 3h1v1h-1zM54 3h1v1h-1zM57 3h1v1h-1zM60 3h1v1h-1zM83 3h1v1h-1zM108 3h1v1h-1zM124 3h1v1h-1zM134 3h1v1h-1zM146 3h1v1h-1zM158 3h1v1h-1zM174 3h1v1h-1zM180 3h1v1h-1zM193 3h1v1h-1zM203 3h1v1h-1zM214 3h1v1h-1zM252 3h1v1h-1zM255 3h1v1h-1zM282 3h1v1h-1zM38 4h1v1h-1zM49 4h1v1h-1zM51 4h1v1h-1zM63 4h1v1h-1zM121 4h1v1h-1zM124 4h1v1h-1zM142 4h1v1h-1zM159 4h1v1h-1zM165 4h1v1h-1zM193 4h1v1h-1zM203 4h1v1h-1zM243 4h1v1h-1zM268 4h1v1h-1zM275 4h1v1h-1zM281 4h1v1h-1zM19 5h1v1h-1zM58 5h1v1h-1zM61 5h1v1h-1zM99 5h1v1h-1zM125 5h1v1h-1zM135 5h1v1h-1zM140 5h1v1h-1zM185 5h1v1h-1zM190 5h1v1h-1zM35 6h1v1h-1zM89 6h1v1h-1zM99 6h1v1h-1zM120 6h1v1h-1zM124 6h1v1h-1zM143 6h1v1h-1zM146 6h1v1h-1zM174 6h1v1h-1zM214 6h1v1h-1zM235 6h1v1h-1zM254 6h1v1h-1zM261 6h1v1h-1zM276 6h1v1h-1zM290 6h1v1h-1zM37 7h1v1h-1zM43 7h1v1h-1zM51 7h1v1h-1zM89 7h1v1h-1zM92 7h2v1h-2zM111 7h1v1h-1zM114 7h1v1h-1zM116 7h1v1h-1zM124 7h1v1h-1zM130 7h1v1h-1zM166 7h1v1h-1zM178 7h1v1h-1zM209 7h1v1h-1zM214 7h1v1h-1zM218 7h1v1h-1zM229 7h1v1h-1zM249 7h1v1h-1zM259 7h1v1h-1zM262 7h1v1h-1zM285 7h1v1h-1zM287 7h1v1h-1zM293 7h1v1h-1zM298 7h2v1h-2zM0 8h1v1h-1zM2 8h1v1h-1zM12 8h2v1h-2zM20 8h1v1h-1zM30 8h1v1h-1zM42 8h1v1h-1zM64 8h1v1h-1zM71 8h1v1h-1zM81 8h1v1h-1zM99 8h1v1h-1zM107 8h1v1h-1zM114 8h1v1h-1zM131 8h2v1h-2zM134 8h1v1h-1zM140 8h1v1h-1zM158 8h1v1h-1zM175 8h2v1h-2zM181 8h1v1h-1zM194 8h1v1h-1zM205 8h1v1h-1zM223 8h1v1h-1zM225 8h1v1h-1zM231 8h1v1h-1zM281 8h1v1h-1zM0 9h2v1h-2zM7 9h1v1h-1zM10 9h1v1h-1zM26 9h1v1h-1zM28 9h1v1h-1zM38 9h1v1h-1zM40 9h1v1h-1zM43 9h1v1h-1zM52 9h1v1h-1zM68 9h1v1h-1zM83 9h1v1h-1zM89 9h1v1h-1zM95 9h1v1h-1zM99 9h2v1h-2zM110 9h1v1h-1zM115 9h1v1h-1zM118 9h1v1h-1zM121 9h1v1h-1zM124 9h1v1h-1zM134 9h2v1h-2zM144 9h1v1h-1zM176 9h1v1h-1zM183 9h1v1h-1zM197 9h2v1h-2zM212 9h1v1h-1zM225 9h1v1h-1zM227 9h1v1h-1zM229 9h1v1h-1zM231 9h1v1h-1zM234 9h1v1h-1zM238 9h1v1h-1zM259 9h2v1h-2zM262 9h1v1h-1zM268 9h2v1h-2zM281 9h1v1h-1zM283 9h1v1h-1zM290 9h1v1h-1z"/><path fill="#feb67c" d="M0 0h1v1h-1zM11 0h1v1h-1zM19 0h3v1h-3zM25 0h1v1h-1zM34 0h1v1h-1zM39 0h1v1h-1zM46 0h1v1h-1zM70 0h1v1h-1zM73 0h1v1h-1zM79 0h1v1h-1zM85 0h1v1h-1zM91 0h1v1h-1zM93 0h1v1h-1zM105 0h1v1h-1zM111 0h1v1h-1zM119 0h3v1h-3zM125 0h1v1h-1zM136 0h1v1h-1zM140 0h1v1h-1zM161 0h1v1h-1zM164 0h2v1h-2zM172 0h1v1h-1zM176 0h1v1h-1zM193 0h1v1h-1zM197 0h1v1h-1zM203 0h1v1h-1zM209 0h2v1h-2zM215 0h1v1h-1zM220 0h2v1h-2zM225 0h1v1h-1zM236 0h1v1h-1zM238 0h1v1h-1zM242 0h1v1h-1zM247 0h3v1h-3zM251 0h1v1h-1zM263 0h1v1h-1zM271 0h1v1h-1zM281 0h1v1h-1zM283 0h1v1h-1zM295 0h1v1h-1zM303 0h1v1h-1zM5 1h1v1h-1zM8 1h1v1h-1zM17 1h1v1h-1zM19 1h2v1h-2zM24 1h1v1h-1zM40 1h1v1h-1zM67 1h1v1h-1zM70 1h1v1h-1zM83 1h1v1h-1zM92 1h1v1h-1zM94 1h1v1h-1zM97 1h2v1h-2zM100 1h1v1h-1zM105 1h2v1h-2zM112 1h1v1h-1zM114 1h1v1h-1zM122 1h1v1h-1zM128 1h1v1h-1zM133 1h2v1h-2zM138 1h2v1h-2zM158 1h1v1h-1zM165 1h1v1h-1zM169 1h2v1h-2zM174 1h1v1h-1zM176 1h1v1h-1zM178 1h1v1h-1zM184 1h1v1h-1zM186 1h1v1h-1zM191 1h1v1h-1zM193 1h1v1h-1zM196 1h1v1h-1zM206 1h1v1h-1zM219 1h2v1h-2zM233 1h1v1h-1zM239 1h1v1h-1zM247 1h1v1h-1zM280 1h1v1h-1zM288 1h1v1h-1zM290 1h1v1h-1zM293 1h1v1h-1zM302 1h1v1h-1zM4 2h1v1h-1zM7 2h1v1h-1zM20 2h1v1h-1zM41 2h1v1h-1zM49 2h2v1h-2zM75 2h2v1h-2zM79 2h1v1h-1zM84 2h1v1h-1zM98 2h1v1h-1zM102 2h2v1h-2zM122 2h1v1h-1zM124 2h1v1h-1zM126 2h1v1h-1zM129 2h2v1h-2zM142 2h1v1h-1zM160 2h1v1h-1zM166 2h1v1h-1zM169 2h1v1h-1zM172 2h1v1h-1zM182 2h1v1h-1zM196 2h1v1h-1zM203 2h1v1h-1zM206 2h1v1h-1zM215 2h3v1h-3zM220 2h2v1h-2zM223 2h1v1h-1zM232 2h1v1h-1zM261 2h1v1h-1zM271 2h1v1h-1zM280 2h1v1h-1zM285 2h1v1h-1zM300 2h1v1h-1zM2 3h1v1h-1zM39 3h1v1h-1zM41 3h1v1h-1zM43 3h1v1h-1zM50 3h1v1h-1zM63 3h1v1h-1zM65 3h2v1h-2zM73 3h1v1h-1zM75 3h2v1h-2zM80 3h1v1h-1zM89 3h1v1h-1zM98 3h2v1h-2zM105 3h1v1h-1zM152 3h1v1h-1zM168 3h1v1h-1zM179 3h1v1h-1zM185 3h1v1h-1zM190 3h2v1h-2zM196 3h2v1h-2zM217 3h2v1h-2zM221 3h1v1h-1zM228 3h1v1h-1zM237 3h1v1h-1zM242 3h1v1h-1zM248 3h1v1h-1zM256 3h1v1h-1zM263 3h1v1h-1zM266 3h1v1h-1zM280 3h1v1h-1zM284 3h1v1h-1zM290 3h1v1h-1zM292 3h1v1h-1zM6 4h1v1h-1zM22 4h1v1h-1zM25 4h1v1h-1zM30 4h1v1h-1zM61 4h1v1h-1zM69 4h1v1h-1zM84 4h1v1h-1zM90 4h1v1h-1zM92 4h1v1h-1zM94 4h1v1h-1zM111 4h1v1h-1zM116 4h1v1h-1zM128 4h1v1h-1zM144 4h1v1h-1zM146 4h1v1h-1zM158 4h1v1h-1zM163 4h1v1h-1zM178 4h1v1h-1zM182 4h1v1h-1zM205 4h1v1h-1zM214 4h1v1h-1zM218 4h1v1h-1zM224 4h1v1h-1zM229 4h1v1h-1zM255 4h2v1h-2zM266 4h1v1h-1zM283 4h1v1h-1zM38 5h1v1h-1zM85 5h1v1h-1zM112 5h1v1h-1zM114 5h1v1h-1zM127 5h1v1h-1zM130 5h1v1h-1zM134 5h1v1h-1zM191 5h1v1h-1zM193 5h2v1h-2zM201 5h1v1h-1zM214 5h1v1h-1zM225 5h1v1h-1zM227 5h1v1h-1zM280 5h1v1h-1zM19 6h1v1h-1zM33 6h1v1h-1zM50 6h1v1h-1zM55 6h1v1h-1zM60 6h1v1h-1zM63 6h1v1h-1zM79 6h1v1h-1zM85 6h1v1h-1zM107 6h1v1h-1zM110 6h1v1h-1zM151 6h1v1h-1zM153 6h1v1h-1zM167 6h1v1h-1zM182 6h1v1h-1zM194 6h1v1h-1zM218 6h3v1h-3zM228 6h1v1h-1zM236 6h1v1h-1zM282 6h1v1h-1zM284 6h1v1h-1zM3 7h2v1h-2zM7 7h1v1h-1zM14 7h1v1h-1zM28 7h1v1h-1zM76 7h1v1h-1zM104 7h1v1h-1zM125 7h1v1h-1zM144 7h1v1h-1zM153 7h1v1h-1zM161 7h1v1h-1zM174 7h1v1h-1zM185 7h1v1h-1zM190 7h1v1h-1zM217 7h1v1h-1zM220 7h1v1h-1zM233 7h1v1h-1zM251 7h1v1h-1zM261 7h1v1h-1zM264 7h1v1h-1zM273 7h1v1h-1zM304 7h1v1h-1zM21 8h1v1h-1zM28 8h2v1h-2zM31 8h1v1h-1zM33 8h2v1h-2zM44 8h2v1h-2zM53 8h1v1h-1zM55 8h1v1h-1zM60 8h1v1h-1zM96 8h1v1h-1zM100 8h1v1h-1zM112 8h1v1h-1zM124 8h1v1h-1zM149 8h1v1h-1zM162 8h1v1h-1zM174 8h1v1h-1zM179 8h1v1h-1zM192 8h2v1h-2zM195 8h2v1h-2zM210 8h1v1h-1zM216 8h1v1h-1zM221 8h1v1h-1zM234 8h2v1h-2zM237 8h3v1h-3zM254 8h1v1h-1zM265 8h2v1h-2zM269 8h1v1h-1zM283 8h1v1h-1zM290 8h1v1h-1zM295 8h1v1h-1zM299 8h1v1h-1zM303 8h1v1h-1zM5 9h2v1h-2zM9 9h1v1h-1zM20 9h1v1h-1zM31 9h1v1h-1zM33 9h1v1h-1zM36 9h1v1h-1zM39 9h1v1h-1zM45 9h1v1h-1zM51 9h1v1h-1zM53 9h1v1h-1zM58 9h1v1h-1zM62 9h1v1h-1zM69 9h2v1h-2zM88 9h1v1h-1zM114 9h1v1h-1zM130 9h1v1h-1zM133 9h1v1h-1zM142 9h1v1h-1zM146 9h1v1h-1zM149 9h1v1h-1zM152 9h1v1h-1zM166 9h2v1h-2zM169 9h1v1h-1zM172 9h1v1h-1zM175 9h1v1h-1zM191 9h1v1h-1zM196 9h1v1h-1zM203 9h1v1h-1zM206 9h1v1h-1zM208 9h1v1h-1zM219 9h2v1h-2zM243 9h1v1h-1zM248 9h1v1h-1zM266 9h1v1h-1zM275 9h2v1h-2zM298 9h1v1h-1zM302 9h1v1h-1z"/><path fill="#fec287" d="M2 0h2v1h-2zM5 0h1v1h-1zM13 0h1v1h-1zM22 0h1v1h-1zM27 0h3v1h-3zM33 0h1v1h-1zM36 0h1v1h-1zM40 0h2v1h-2zM44 0h1v1h-1zM48 0h1v1h-1zM53 0h1v1h-1zM65 0h1v1h-1zM67 0h1v1h-1zM78 0h1v1h-1zM80 0h1v1h-1zM88 0h1v1h-1zM90 0h1v1h-1zM95 0h1v1h-1zM98 0h1v1h-1zM100 0h1v1h-1zM102 0h2v1h-2zM109 0h1v1h-1zM114 0h1v1h-1zM126 0h1v1h-1zM133 0h1v1h-1zM135 0h1v1h-1zM137 0h2v1h-2zM142 0h1v1h-1zM148 0h1v1h-1zM150 0h2v1h-2zM156 0h2v1h-2zM159 0h1v1h-1zM163 0h1v1h-1zM166 0h1v1h-1zM170 0h2v1h-2zM173 0h1v1h-1zM180 0h1v1h-1zM182 0h1v1h-1zM184 0h1v1h-1zM188 0h1v1h-1zM192 0h1v1h-1zM194 0h1v1h-1zM198 0h1v1h-1zM205 0h1v1h-1zM216 0h1v1h-1zM222 0h1v1h-1zM229 0h1v1h-1zM231 0h1v1h-1zM252 0h1v1h-1zM254 0h1v1h-1zM256 0h1v1h-1zM259 0h3v1h-3zM265 0h1v1h-1zM280 0h1v1h-1zM285 0h1v1h-1zM289 0h1v1h-1zM294 0h1v1h-1zM296 0h2v1h-2zM299 0h1v1h-1zM0 1h1v1h-1zM2 1h1v1h-1zM7 1h1v1h-1zM11 1h4v1h-4zM25 1h1v1h-1zM35 1h1v1h-1zM38 1h2v1h-2zM55 1h1v1h-1zM57 1h1v1h-1zM62 1h1v1h-1zM64 1h1v1h-1zM66 1h1v1h-1zM72 1h2v1h-2zM76 1h2v1h-2zM96 1h1v1h-1zM103 1h1v1h-1zM115 1h1v1h-1zM118 1h1v1h-1zM120 1h1v1h-1zM123 1h1v1h-1zM137 1h1v1h-1zM150 1h2v1h-2zM161 1h1v1h-1zM163 1h1v1h-1zM171 1h1v1h-1zM182 1h1v1h-1zM187 1h1v1h-1zM205 1h1v1h-1zM215 1h1v1h-1zM223 1h1v1h-1zM226 1h1v1h-1zM241 1h2v1h-2zM245 1h1v1h-1zM249 1h1v1h-1zM254 1h2v1h-2zM258 1h1v1h-1zM266 1h1v1h-1zM272 1h2v1h-2zM276 1h2v1h-2zM279 1h1v1h-1zM284 1h3v1h-3zM296 1h1v1h-1zM298 1h2v1h-2zM305 1h1v1h-1zM6 2h1v1h-1zM10 2h1v1h-1zM12 2h1v1h-1zM17 2h3v1h-3zM25 2h1v1h-1zM27 2h1v1h-1zM29 2h1v1h-1zM34 2h3v1h-3zM38 2h2v1h-2zM43 2h1v1h-1zM52 2h1v1h-1zM57 2h3v1h-3zM63 2h1v1h-1zM82 2h1v1h-1zM89 2h2v1h-2zM94 2h1v1h-1zM101 2h1v1h-1zM105 2h1v1h-1zM112 2h1v1h-1zM135 2h1v1h-1zM143 2h1v1h-1zM145 2h2v1h-2zM151 2h1v1h-1zM153 2h1v1h-1zM163 2h1v1h-1zM167 2h1v1h-1zM171 2h1v1h-1zM176 2h1v1h-1zM178 2h1v1h-1zM180 2h2v1h-2zM183 2h1v1h-1zM185 2h1v1h-1zM194 2h2v1h-2zM211 2h1v1h-1zM233 2h1v1h-1zM235 2h1v1h-1zM238 2h2v1h-2zM255 2h1v1h-1zM259 2h2v1h-2zM262 2h1v1h-1zM264 2h3v1h-3zM283 2h1v1h-1zM286 2h1v1h-1zM296 2h2v1h-2zM301 2h1v1h-1zM304 2h1v1h-1zM5 3h1v1h-1zM8 3h2v1h-2zM30 3h1v1h-1zM33 3h1v1h-1zM37 3h1v1h-1zM48 3h2v1h-2zM61 3h1v1h-1zM70 3h1v1h-1zM81 3h1v1h-1zM93 3h3v1h-3zM112 3h2v1h-2zM120 3h2v1h-2zM126 3h2v1h-2zM130 3h1v1h-1zM137 3h1v1h-1zM144 3h1v1h-1zM151 3h1v1h-1zM153 3h1v1h-1zM159 3h1v1h-1zM164 3h2v1h-2zM173 3h1v1h-1zM183 3h1v1h-1zM186 3h1v1h-1zM201 3h1v1h-1zM204 3h1v1h-1zM206 3h1v1h-1zM222 3h1v1h-1zM224 3h2v1h-2zM233 3h1v1h-1zM243 3h1v1h-1zM253 3h1v1h-1zM261 3h1v1h-1zM269 3h1v1h-1zM275 3h1v1h-1zM277 3h2v1h-2zM281 3h1v1h-1zM283 3h1v1h-1zM295 3h1v1h-1zM1 4h1v1h-1zM4 4h1v1h-1zM12 4h1v1h-1zM19 4h2v1h-2zM36 4h1v1h-1zM42 4h1v1h-1zM50 4h1v1h-1zM70 4h1v1h-1zM85 4h1v1h-1zM99 4h1v1h-1zM106 4h1v1h-1zM113 4h1v1h-1zM117 4h1v1h-1zM132 4h1v1h-1zM143 4h1v1h-1zM153 4h1v1h-1zM176 4h1v1h-1zM179 4h1v1h-1zM184 4h1v1h-1zM194 4h1v1h-1zM206 4h2v1h-2zM221 4h1v1h-1zM223 4h1v1h-1zM239 4h1v1h-1zM248 4h1v1h-1zM250 4h1v1h-1zM271 4h1v1h-1zM274 4h1v1h-1zM279 4h1v1h-1zM294 4h1v1h-1zM6 5h1v1h-1zM8 5h1v1h-1zM22 5h1v1h-1zM37 5h1v1h-1zM51 5h1v1h-1zM57 5h1v1h-1zM68 5h2v1h-2zM74 5h1v1h-1zM76 5h1v1h-1zM94 5h1v1h-1zM98 5h1v1h-1zM105 5h2v1h-2zM113 5h1v1h-1zM116 5h1v1h-1zM122 5h1v1h-1zM124 5h1v1h-1zM155 5h1v1h-1zM163 5h1v1h-1zM174 5h1v1h-1zM179 5h1v1h-1zM197 5h1v1h-1zM221 5h2v1h-2zM228 5h1v1h-1zM233 5h1v1h-1zM247 5h2v1h-2zM254 5h1v1h-1zM257 5h1v1h-1zM282 5h2v1h-2zM293 5h1v1h-1zM4 6h1v1h-1zM20 6h1v1h-1zM36 6h2v1h-2zM54 6h1v1h-1zM57 6h1v1h-1zM69 6h1v1h-1zM73 6h1v1h-1zM112 6h1v1h-1zM117 6h1v1h-1zM131 6h1v1h-1zM140 6h1v1h-1zM158 6h2v1h-2zM161 6h1v1h-1zM164 6h1v1h-1zM185 6h2v1h-2zM190 6h1v1h-1zM198 6h1v1h-1zM206 6h1v1h-1zM221 6h1v1h-1zM225 6h1v1h-1zM249 6h2v1h-2zM259 6h1v1h-1zM262 6h1v1h-1zM266 6h1v1h-1zM274 6h2v1h-2zM283 6h1v1h-1zM1 7h2v1h-2zM6 7h1v1h-1zM16 7h1v1h-1zM19 7h2v1h-2zM22 7h1v1h-1zM39 7h2v1h-2zM49 7h1v1h-1zM54 7h1v1h-1zM57 7h1v1h-1zM60 7h1v1h-1zM62 7h1v1h-1zM78 7h1v1h-1zM80 7h1v1h-1zM83 7h1v1h-1zM85 7h1v1h-1zM105 7h1v1h-1zM107 7h2v1h-2zM120 7h1v1h-1zM132 7h1v1h-1zM137 7h1v1h-1zM142 7h1v1h-1zM146 7h1v1h-1zM149 7h1v1h-1zM152 7h1v1h-1zM157 7h4v1h-4zM163 7h1v1h-1zM168 7h1v1h-1zM187 7h1v1h-1zM197 7h1v1h-1zM201 7h1v1h-1zM203 7h1v1h-1zM206 7h1v1h-1zM227 7h1v1h-1zM231 7h1v1h-1zM235 7h1v1h-1zM239 7h1v1h-1zM245 7h1v1h-1zM248 7h1v1h-1zM258 7h1v1h-1zM265 7h1v1h-1zM271 7h1v1h-1zM275 7h1v1h-1zM278 7h1v1h-1zM283 7h2v1h-2zM286 7h1v1h-1zM300 7h1v1h-1zM303 7h1v1h-1zM1 8h1v1h-1zM14 8h1v1h-1zM35 8h1v1h-1zM38 8h1v1h-1zM40 8h1v1h-1zM63 8h1v1h-1zM70 8h1v1h-1zM75 8h1v1h-1zM79 8h1v1h-1zM83 8h2v1h-2zM92 8h1v1h-1zM97 8h2v1h-2zM103 8h1v1h-1zM105 8h2v1h-2zM110 8h1v1h-1zM113 8h1v1h-1zM118 8h1v1h-1zM121 8h1v1h-1zM128 8h1v1h-1zM139 8h1v1h-1zM142 8h1v1h-1zM144 8h2v1h-2zM148 8h1v1h-1zM152 8h1v1h-1zM155 8h2v1h-2zM160 8h1v1h-1zM171 8h1v1h-1zM182 8h2v1h-2zM189 8h1v1h-1zM203 8h1v1h-1zM208 8h2v1h-2zM215 8h1v1h-1zM219 8h2v1h-2zM229 8h1v1h-1zM236 8h1v1h-1zM241 8h2v1h-2zM252 8h1v1h-1zM259 8h1v1h-1zM271 8h1v1h-1zM273 8h1v1h-1zM279 8h1v1h-1zM286 8h2v1h-2zM292 8h2v1h-2zM302 8h1v1h-1zM304 8h1v1h-1zM4 9h1v1h-1zM12 9h1v1h-1zM15 9h1v1h-1zM30 9h1v1h-1zM35 9h1v1h-1zM41 9h1v1h-1zM44 9h1v1h-1zM55 9h1v1h-1zM57 9h1v1h-1zM60 9h1v1h-1zM63 9h1v1h-1zM67 9h1v1h-1zM78 9h1v1h-1zM81 9h2v1h-2zM84 9h1v1h-1zM90 9h1v1h-1zM96 9h2v1h-2zM101 9h2v1h-2zM104 9h1v1h-1zM109 9h1v1h-1zM117 9h1v1h-1zM119 9h2v1h-2zM139 9h1v1h-1zM155 9h2v1h-2zM159 9h2v1h-2zM163 9h1v1h-1zM174 9h1v1h-1zM178 9h1v1h-1zM182 9h1v1h-1zM184 9h1v1h-1zM194 9h1v1h-1zM201 9h1v1h-1zM216 9h1v1h-1zM222 9h1v1h-1zM233 9h1v1h-1zM240 9h1v1h-1zM249 9h2v1h-2zM255 9h1v1h-1zM263 9h1v1h-1zM271 9h1v1h-1zM274 9h1v1h-1zM286 9h1v1h-1zM291 9h3v1h-3zM301 9h1v1h-1z"/><path fill="#fecd90" d="M9 0h2v1h-2zM15 0h1v1h-1zM17 0h1v1h-1zM31 0h2v1h-2zM45 0h1v1h-1zM57 0h1v1h-1zM74 0h1v1h-1zM84 0h1v1h-1zM107 0h1v1h-1zM123 0h1v1h-1zM141 0h1v1h-1zM175 0h1v1h-1zM177 0h1v1h-1zM183 0h1v1h-1zM187 0h1v1h-1zM195 0h1v1h-1zM199 0h3v1h-3zM207 0h2v1h-2zM223 0h1v1h-1zM227 0h1v1h-1zM245 0h1v1h-1zM258 0h1v1h-1zM268 0h1v1h-1zM274 0h1v1h-1zM276 0h1v1h-1zM278 0h1v1h-1zM284 0h1v1h-1zM302 0h1v1h-1zM305 0h1v1h-1zM16 1h1v1h-1zM21 1h1v1h-1zM26 1h1v1h-1zM28 1h1v1h-1zM41 1h1v1h-1zM52 1h1v1h-1zM59 1h1v1h-1zM68 1h1v1h-1zM75 1h1v1h-1zM90 1h2v1h-2zM102 1h1v1h-1zM107 1h2v1h-2zM119 1h1v1h-1zM121 1h1v1h-1zM140 1h1v1h-1zM155 1h1v1h-1zM157 1h1v1h-1zM172 1h1v1h-1zM177 1h1v1h-1zM181 1h1v1h-1zM183 1h1v1h-1zM195 1h1v1h-1zM197 1h2v1h-2zM204 1h1v1h-1zM208 1h2v1h-2zM211 1h1v1h-1zM216 1h1v1h-1zM229 1h2v1h-2zM251 1h2v1h-2zM256 1h2v1h-2zM267 1h2v1h-2zM274 1h1v1h-1zM278 1h1v1h-1zM287 1h1v1h-1zM304 1h1v1h-1zM2 2h1v1h-1zM8 2h1v1h-1zM14 2h1v1h-1zM26 2h1v1h-1zM55 2h1v1h-1zM64 2h3v1h-3zM77 2h1v1h-1zM80 2h1v1h-1zM83 2h1v1h-1zM100 2h1v1h-1zM113 2h2v1h-2zM131 2h2v1h-2zM134 2h1v1h-1zM138 2h1v1h-1zM141 2h1v1h-1zM149 2h2v1h-2zM152 2h1v1h-1zM155 2h1v1h-1zM161 2h1v1h-1zM164 2h1v1h-1zM188 2h2v1h-2zM192 2h2v1h-2zM201 2h1v1h-1zM219 2h1v1h-1zM222 2h1v1h-1zM226 2h2v1h-2zM240 2h1v1h-1zM245 2h2v1h-2zM249 2h1v1h-1zM256 2h1v1h-1zM267 2h1v1h-1zM269 2h1v1h-1zM272 2h2v1h-2zM277 2h1v1h-1zM288 2h2v1h-2zM293 2h2v1h-2zM298 2h2v1h-2zM0 3h1v1h-1zM6 3h1v1h-1zM20 3h1v1h-1zM31 3h1v1h-1zM40 3h1v1h-1zM51 3h1v1h-1zM55 3h1v1h-1zM58 3h1v1h-1zM74 3h1v1h-1zM77 3h3v1h-3zM88 3h1v1h-1zM96 3h2v1h-2zM101 3h1v1h-1zM104 3h1v1h-1zM109 3h2v1h-2zM114 3h1v1h-1zM118 3h1v1h-1zM128 3h1v1h-1zM131 3h3v1h-3zM142 3h2v1h-2zM145 3h1v1h-1zM161 3h2v1h-2zM167 3h1v1h-1zM170 3h2v1h-2zM176 3h1v1h-1zM178 3h1v1h-1zM188 3h1v1h-1zM194 3h1v1h-1zM199 3h1v1h-1zM209 3h1v1h-1zM235 3h2v1h-2zM239 3h1v1h-1zM247 3h1v1h-1zM249 3h1v1h-1zM260 3h1v1h-1zM264 3h2v1h-2zM268 3h1v1h-1zM270 3h1v1h-1zM273 3h1v1h-1zM276 3h1v1h-1zM286 3h1v1h-1zM296 3h1v1h-1zM301 3h3v1h-3zM305 3h1v1h-1zM0 4h1v1h-1zM3 4h1v1h-1zM5 4h1v1h-1zM29 4h1v1h-1zM34 4h1v1h-1zM37 4h1v1h-1zM40 4h1v1h-1zM45 4h1v1h-1zM53 4h1v1h-1zM55 4h1v1h-1zM58 4h1v1h-1zM60 4h1v1h-1zM66 4h1v1h-1zM78 4h2v1h-2zM88 4h2v1h-2zM91 4h1v1h-1zM93 4h1v1h-1zM97 4h1v1h-1zM100 4h1v1h-1zM105 4h1v1h-1zM112 4h1v1h-1zM114 4h1v1h-1zM119 4h1v1h-1zM125 4h1v1h-1zM130 4h2v1h-2zM133 4h2v1h-2zM137 4h1v1h-1zM149 4h1v1h-1zM172 4h1v1h-1zM174 4h1v1h-1zM185 4h2v1h-2zM191 4h1v1h-1zM196 4h1v1h-1zM199 4h1v1h-1zM215 4h1v1h-1zM217 4h1v1h-1zM219 4h2v1h-2zM225 4h2v1h-2zM228 4h1v1h-1zM232 4h1v1h-1zM235 4h1v1h-1zM244 4h1v1h-1zM247 4h1v1h-1zM249 4h1v1h-1zM258 4h3v1h-3zM265 4h1v1h-1zM269 4h1v1h-1zM272 4h2v1h-2zM297 4h1v1h-1zM301 4h1v1h-1zM4 5h1v1h-1zM7 5h1v1h-1zM12 5h1v1h-1zM14 5h1v1h-1zM20 5h2v1h-2zM24 5h1v1h-1zM40 5h1v1h-1zM50 5h1v1h-1zM60 5h1v1h-1zM62 5h1v1h-1zM64 5h1v1h-1zM70 5h1v1h-1zM77 5h1v1h-1zM81 5h2v1h-2zM88 5h2v1h-2zM108 5h1v1h-1zM111 5h1v1h-1zM128 5h1v1h-1zM144 5h3v1h-3zM148 5h2v1h-2zM158 5h1v1h-1zM162 5h1v1h-1zM164 5h2v1h-2zM168 5h1v1h-1zM170 5h1v1h-1zM183 5h2v1h-2zM203 5h1v1h-1zM205 5h1v1h-1zM220 5h1v1h-1zM229 5h1v1h-1zM231 5h1v1h-1zM238 5h1v1h-1zM243 5h1v1h-1zM249 5h1v1h-1zM264 5h1v1h-1zM269 5h1v1h-1zM281 5h1v1h-1zM284 5h1v1h-1zM301 5h3v1h-3zM5 6h2v1h-2zM8 6h1v1h-1zM12 6h1v1h-1zM18 6h1v1h-1zM34 6h1v1h-1zM39 6h1v1h-1zM48 6h2v1h-2zM51 6h1v1h-1zM58 6h2v1h-2zM68 6h1v1h-1zM75 6h1v1h-1zM82 6h1v1h-1zM84 6h1v1h-1zM86 6h1v1h-1zM95 6h1v1h-1zM98 6h1v1h-1zM111 6h1v1h-1zM114 6h1v1h-1zM118 6h1v1h-1zM125 6h1v1h-1zM130 6h1v1h-1zM134 6h1v1h-1zM142 6h1v1h-1zM144 6h2v1h-2zM155 6h1v1h-1zM169 6h1v1h-1zM173 6h1v1h-1zM191 6h1v1h-1zM196 6h1v1h-1zM199 6h1v1h-1zM203 6h1v1h-1zM211 6h2v1h-2zM224 6h1v1h-1zM232 6h2v1h-2zM243 6h1v1h-1zM252 6h1v1h-1zM255 6h1v1h-1zM260 6h1v1h-1zM265 6h1v1h-1zM271 6h1v1h-1zM281 6h1v1h-1zM18 7h1v1h-1zM30 7h2v1h-2zM34 7h1v1h-1zM36 7h1v1h-1zM38 7h1v1h-1zM41 7h1v1h-1zM46 7h1v1h-1zM55 7h1v1h-1zM58 7h2v1h-2zM61 7h1v1h-1zM66 7h1v1h-1zM68 7h1v1h-1zM70 7h1v1h-1zM74 7h1v1h-1zM79 7h1v1h-1zM81 7h2v1h-2zM87 7h1v1h-1zM94 7h1v1h-1zM96 7h2v1h-2zM100 7h1v1h-1zM106 7h1v1h-1zM109 7h1v1h-1zM113 7h1v1h-1zM117 7h1v1h-1zM122 7h1v1h-1zM143 7h1v1h-1zM145 7h1v1h-1zM148 7h1v1h-1zM151 7h1v1h-1zM162 7h1v1h-1zM165 7h1v1h-1zM167 7h1v1h-1zM172 7h1v1h-1zM179 7h1v1h-1zM181 7h1v1h-1zM184 7h1v1h-1zM186 7h1v1h-1zM191 7h2v1h-2zM194 7h1v1h-1zM196 7h1v1h-1zM199 7h1v1h-1zM212 7h1v1h-1zM215 7h2v1h-2zM222 7h4v1h-4zM228 7h1v1h-1zM230 7h1v1h-1zM236 7h1v1h-1zM241 7h4v1h-4zM247 7h1v1h-1zM255 7h1v1h-1zM257 7h1v1h-1zM260 7h1v1h-1zM267 7h1v1h-1zM274 7h1v1h-1zM292 7h1v1h-1zM295 7h1v1h-1zM297 7h1v1h-1zM301 7h1v1h-1zM8 8h1v1h-1zM10 8h1v1h-1zM15 8h3v1h-3zM27 8h1v1h-1zM32 8h1v1h-1zM39 8h1v1h-1zM41 8h1v1h-1zM43 8h1v1h-1zM52 8h1v1h-1zM66 8h1v1h-1zM73 8h1v1h-1zM82 8h1v1h-1zM91 8h1v1h-1zM93 8h1v1h-1zM102 8h1v1h-1zM109 8h1v1h-1zM119 8h2v1h-2zM135 8h1v1h-1zM137 8h1v1h-1zM150 8h2v1h-2zM157 8h1v1h-1zM159 8h1v1h-1zM163 8h1v1h-1zM168 8h2v1h-2zM186 8h1v1h-1zM197 8h2v1h-2zM204 8h1v1h-1zM207 8h1v1h-1zM211 8h1v1h-1zM226 8h2v1h-2zM233 8h1v1h-1zM244 8h1v1h-1zM246 8h1v1h-1zM260 8h2v1h-2zM277 8h1v1h-1zM296 8h1v1h-1zM300 8h1v1h-1zM11 9h1v1h-1zM13 9h2v1h-2zM17 9h1v1h-1zM22 9h1v1h-1zM42 9h1v1h-1zM64 9h1v1h-1zM66 9h1v1h-1zM76 9h2v1h-2zM91 9h1v1h-1zM93 9h2v1h-2zM107 9h1v1h-1zM123 9h1v1h-1zM127 9h2v1h-2zM132 9h1v1h-1zM148 9h1v1h-1zM158 9h1v1h-1zM161 9h1v1h-1zM170 9h1v1h-1zM186 9h1v1h-1zM188 9h1v1h-1zM193 9h1v1h-1zM195 9h1v1h-1zM202 9h1v1h-1zM204 9h2v1h-2zM207 9h1v1h-1zM215 9h1v1h-1zM223 9h1v1h-1zM230 9h1v1h-1zM237 9h1v1h-1zM239 9h1v1h-1zM247 9h1v1h-1zM251 9h2v1h-2zM254 9h1v1h-1zM261 9h1v1h-1zM273 9h1v1h-1zM280 9h1v1h-1zM285 9h1v1h-1zM287 9h1v1h-1zM289 9h1v1h-1zM295 9h1v1h-1zM300 9h1v1h-1zM303 9h2v1h-2z"/><path fill="#fdda9c" d="M23 0h1v1h-1zM26 0h1v1h-1zM42 0h1v1h-1zM52 0h1v1h-1zM59 0h1v1h-1zM64 0h1v1h-1zM96 0h1v1h-1zM110 0h1v1h-1zM154 0h1v1h-1zM189 0h1v1h-1zM204 0h1v1h-1zM226 0h1v1h-1zM230 0h1v1h-1zM234 0h1v1h-1zM267 0h1v1h-1zM298 0h1v1h-1zM300 0h1v1h-1zM1 1h1v1h-1zM9 1h1v1h-1zM44 1h1v1h-1zM47 1h1v1h-1zM71 1h1v1h-1zM93 1h1v1h-1zM126 1h1v1h-1zM129 1h1v1h-1zM131 1h1v1h-1zM167 1h1v1h-1zM175 1h1v1h-1zM189 1h1v1h-1zM199 1h2v1h-2zM202 1h1v1h-1zM212 1h1v1h-1zM244 1h1v1h-1zM246 1h1v1h-1zM253 1h1v1h-1zM294 1h1v1h-1zM1 2h1v1h-1zM3 2h1v1h-1zM5 2h1v1h-1zM9 2h1v1h-1zM11 2h1v1h-1zM15 2h2v1h-2zM24 2h1v1h-1zM31 2h2v1h-2zM40 2h1v1h-1zM48 2h1v1h-1zM53 2h1v1h-1zM56 2h1v1h-1zM62 2h1v1h-1zM67 2h1v1h-1zM73 2h1v1h-1zM86 2h1v1h-1zM91 2h1v1h-1zM107 2h2v1h-2zM110 2h1v1h-1zM115 2h1v1h-1zM119 2h1v1h-1zM121 2h1v1h-1zM123 2h1v1h-1zM133 2h1v1h-1zM147 2h1v1h-1zM168 2h1v1h-1zM186 2h1v1h-1zM198 2h2v1h-2zM210 2h1v1h-1zM229 2h2v1h-2zM237 2h1v1h-1zM242 2h1v1h-1zM247 2h1v1h-1zM257 2h2v1h-2zM268 2h1v1h-1zM287 2h1v1h-1zM292 2h1v1h-1zM302 2h2v1h-2zM1 3h1v1h-1zM3 3h1v1h-1zM7 3h1v1h-1zM12 3h1v1h-1zM15 3h1v1h-1zM24 3h1v1h-1zM29 3h1v1h-1zM35 3h2v1h-2zM38 3h1v1h-1zM52 3h1v1h-1zM68 3h1v1h-1zM72 3h1v1h-1zM82 3h1v1h-1zM84 3h1v1h-1zM90 3h1v1h-1zM92 3h1v1h-1zM102 3h2v1h-2zM106 3h1v1h-1zM115 3h1v1h-1zM117 3h1v1h-1zM122 3h2v1h-2zM125 3h1v1h-1zM135 3h1v1h-1zM138 3h1v1h-1zM148 3h1v1h-1zM150 3h1v1h-1zM160 3h1v1h-1zM163 3h1v1h-1zM166 3h1v1h-1zM169 3h1v1h-1zM172 3h1v1h-1zM177 3h1v1h-1zM181 3h2v1h-2zM187 3h1v1h-1zM189 3h1v1h-1zM192 3h1v1h-1zM198 3h1v1h-1zM205 3h1v1h-1zM211 3h3v1h-3zM215 3h2v1h-2zM226 3h2v1h-2zM230 3h3v1h-3zM240 3h1v1h-1zM244 3h1v1h-1zM254 3h1v1h-1zM258 3h2v1h-2zM262 3h1v1h-1zM267 3h1v1h-1zM271 3h1v1h-1zM287 3h1v1h-1zM293 3h1v1h-1zM297 3h1v1h-1zM299 3h1v1h-1zM8 4h1v1h-1zM15 4h1v1h-1zM18 4h1v1h-1zM21 4h1v1h-1zM24 4h1v1h-1zM33 4h1v1h-1zM35 4h1v1h-1zM41 4h1v1h-1zM43 4h1v1h-1zM48 4h1v1h-1zM52 4h1v1h-1zM54 4h1v1h-1zM62 4h1v1h-1zM67 4h1v1h-1zM74 4h1v1h-1zM81 4h1v1h-1zM95 4h1v1h-1zM98 4h1v1h-1zM101 4h1v1h-1zM118 4h1v1h-1zM127 4h1v1h-1zM139 4h1v1h-1zM145 4h1v1h-1zM150 4h1v1h-1zM155 4h1v1h-1zM157 4h1v1h-1zM160 4h3v1h-3zM164 4h1v1h-1zM166 4h1v1h-1zM168 4h1v1h-1zM170 4h1v1h-1zM180 4h2v1h-2zM188 4h1v1h-1zM198 4h1v1h-1zM201 4h1v1h-1zM208 4h3v1h-3zM222 4h1v1h-1zM227 4h1v1h-1zM233 4h1v1h-1zM236 4h1v1h-1zM240 4h2v1h-2zM246 4h1v1h-1zM252 4h1v1h-1zM267 4h1v1h-1zM278 4h1v1h-1zM285 4h2v1h-2zM292 4h1v1h-1zM295 4h1v1h-1zM2 5h1v1h-1zM5 5h1v1h-1zM15 5h1v1h-1zM23 5h1v1h-1zM30 5h1v1h-1zM34 5h1v1h-1zM36 5h1v1h-1zM41 5h4v1h-4zM46 5h1v1h-1zM48 5h2v1h-2zM53 5h1v1h-1zM55 5h1v1h-1zM63 5h1v1h-1zM66 5h2v1h-2zM73 5h1v1h-1zM80 5h1v1h-1zM83 5h2v1h-2zM95 5h1v1h-1zM115 5h1v1h-1zM119 5h3v1h-3zM133 5h1v1h-1zM142 5h1v1h-1zM147 5h1v1h-1zM157 5h1v1h-1zM159 5h1v1h-1zM167 5h1v1h-1zM169 5h1v1h-1zM172 5h1v1h-1zM176 5h1v1h-1zM178 5h1v1h-1zM180 5h1v1h-1zM182 5h1v1h-1zM187 5h2v1h-2zM198 5h2v1h-2zM206 5h1v1h-1zM213 5h1v1h-1zM216 5h2v1h-2zM219 5h1v1h-1zM232 5h1v1h-1zM235 5h1v1h-1zM246 5h1v1h-1zM256 5h1v1h-1zM259 5h1v1h-1zM261 5h1v1h-1zM265 5h2v1h-2zM268 5h1v1h-1zM275 5h3v1h-3zM286 5h2v1h-2zM290 5h1v1h-1zM295 5h1v1h-1zM2 6h2v1h-2zM14 6h1v1h-1zM16 6h1v1h-1zM22 6h1v1h-1zM30 6h1v1h-1zM32 6h1v1h-1zM38 6h1v1h-1zM40 6h2v1h-2zM43 6h1v1h-1zM45 6h1v1h-1zM52 6h1v1h-1zM62 6h1v1h-1zM64 6h1v1h-1zM67 6h1v1h-1zM70 6h1v1h-1zM74 6h1v1h-1zM80 6h2v1h-2zM83 6h1v1h-1zM88 6h1v1h-1zM90 6h3v1h-3zM101 6h2v1h-2zM105 6h2v1h-2zM108 6h1v1h-1zM113 6h1v1h-1zM121 6h1v1h-1zM128 6h1v1h-1zM133 6h1v1h-1zM138 6h2v1h-2zM147 6h1v1h-1zM160 6h1v1h-1zM163 6h1v1h-1zM165 6h2v1h-2zM176 6h1v1h-1zM178 6h2v1h-2zM183 6h1v1h-1zM187 6h2v1h-2zM192 6h2v1h-2zM195 6h1v1h-1zM200 6h2v1h-2zM215 6h1v1h-1zM217 6h1v1h-1zM222 6h1v1h-1zM238 6h2v1h-2zM244 6h1v1h-1zM264 6h1v1h-1zM268 6h1v1h-1zM273 6h1v1h-1zM293 6h1v1h-1zM295 6h1v1h-1zM299 6h3v1h-3zM5 7h1v1h-1zM8 7h1v1h-1zM10 7h1v1h-1zM15 7h1v1h-1zM23 7h2v1h-2zM29 7h1v1h-1zM33 7h1v1h-1zM35 7h1v1h-1zM42 7h1v1h-1zM48 7h1v1h-1zM63 7h2v1h-2zM67 7h1v1h-1zM71 7h1v1h-1zM75 7h1v1h-1zM84 7h1v1h-1zM88 7h1v1h-1zM91 7h1v1h-1zM95 7h1v1h-1zM102 7h1v1h-1zM110 7h1v1h-1zM127 7h1v1h-1zM133 7h1v1h-1zM135 7h2v1h-2zM140 7h1v1h-1zM150 7h1v1h-1zM164 7h1v1h-1zM171 7h1v1h-1zM173 7h1v1h-1zM176 7h1v1h-1zM182 7h1v1h-1zM193 7h1v1h-1zM195 7h1v1h-1zM204 7h1v1h-1zM213 7h1v1h-1zM240 7h1v1h-1zM252 7h1v1h-1zM254 7h1v1h-1zM256 7h1v1h-1zM263 7h1v1h-1zM268 7h1v1h-1zM272 7h1v1h-1zM276 7h1v1h-1zM280 7h1v1h-1zM290 7h1v1h-1zM296 7h1v1h-1zM302 7h1v1h-1zM5 8h1v1h-1zM7 8h1v1h-1zM26 8h1v1h-1zM57 8h1v1h-1zM59 8h1v1h-1zM65 8h1v1h-1zM68 8h1v1h-1zM72 8h1v1h-1zM86 8h2v1h-2zM104 8h1v1h-1zM117 8h1v1h-1zM127 8h1v1h-1zM129 8h1v1h-1zM167 8h1v1h-1zM177 8h1v1h-1zM184 8h1v1h-1zM187 8h1v1h-1zM212 8h1v1h-1zM230 8h1v1h-1zM232 8h1v1h-1zM251 8h1v1h-1zM253 8h1v1h-1zM256 8h3v1h-3zM262 8h2v1h-2zM268 8h1v1h-1zM270 8h1v1h-1zM284 8h1v1h-1zM288 8h2v1h-2zM291 8h1v1h-1zM297 8h1v1h-1zM2 9h1v1h-1zM16 9h1v1h-1zM46 9h2v1h-2zM59 9h1v1h-1zM65 9h1v1h-1zM75 9h1v1h-1zM92 9h1v1h-1zM103 9h1v1h-1zM138 9h1v1h-1zM151 9h1v1h-1zM157 9h1v1h-1zM168 9h1v1h-1zM173 9h1v1h-1zM180 9h1v1h-1zM189 9h1v1h-1zM192 9h1v1h-1zM199 9h2v1h-2zM209 9h1v1h-1zM211 9h1v1h-1zM213 9h1v1h-1zM226 9h1v1h-1zM244 9h3v1h-3zM277 9h3v1h-3zM284 9h1v1h-1zM294 9h1v1h-1zM297 9h1v1h-1z"/><path fill="#fde5a7" d="M47 0h1v1h-1zM56 0h1v1h-1zM71 0h2v1h-2zM87 0h1v1h-1zM147 0h1v1h-1zM202 0h1v1h-1zM212 0h1v1h-1zM244 0h1v1h-1zM246 0h1v1h-1zM262 0h1v1h-1zM15 1h1v1h-1zM23 1h1v1h-1zM46 1h1v1h-1zM56 1h1v1h-1zM65 1h1v1h-1zM87 1h1v1h-1zM136 1h1v1h-1zM270 1h1v1h-1zM291 1h1v1h-1zM0 2h1v1h-1zM13 2h1v1h-1zM21 2h2v1h-2zM44 2h1v1h-1zM46 2h2v1h-2zM71 2h1v1h-1zM87 2h1v1h-1zM93 2h1v1h-1zM106 2h1v1h-1zM109 2h1v1h-1zM125 2h1v1h-1zM127 2h1v1h-1zM136 2h2v1h-2zM148 2h1v1h-1zM154 2h1v1h-1zM170 2h1v1h-1zM177 2h1v1h-1zM184 2h1v1h-1zM197 2h1v1h-1zM202 2h1v1h-1zM205 2h1v1h-1zM207 2h1v1h-1zM209 2h1v1h-1zM212 2h1v1h-1zM244 2h1v1h-1zM251 2h1v1h-1zM253 2h2v1h-2zM263 2h1v1h-1zM270 2h1v1h-1zM274 2h1v1h-1zM13 3h1v1h-1zM16 3h1v1h-1zM26 3h2v1h-2zM32 3h1v1h-1zM34 3h1v1h-1zM46 3h1v1h-1zM59 3h1v1h-1zM62 3h1v1h-1zM64 3h1v1h-1zM86 3h1v1h-1zM91 3h1v1h-1zM129 3h1v1h-1zM139 3h2v1h-2zM147 3h1v1h-1zM149 3h1v1h-1zM154 3h1v1h-1zM184 3h1v1h-1zM202 3h1v1h-1zM207 3h1v1h-1zM210 3h1v1h-1zM223 3h1v1h-1zM229 3h1v1h-1zM251 3h1v1h-1zM257 3h1v1h-1zM279 3h1v1h-1zM285 3h1v1h-1zM288 3h2v1h-2zM298 3h1v1h-1zM304 3h1v1h-1zM2 4h1v1h-1zM7 4h1v1h-1zM10 4h2v1h-2zM13 4h2v1h-2zM17 4h1v1h-1zM44 4h1v1h-1zM47 4h1v1h-1zM64 4h1v1h-1zM71 4h3v1h-3zM75 4h3v1h-3zM80 4h1v1h-1zM82 4h1v1h-1zM96 4h1v1h-1zM104 4h1v1h-1zM108 4h3v1h-3zM120 4h1v1h-1zM122 4h2v1h-2zM135 4h1v1h-1zM138 4h1v1h-1zM140 4h1v1h-1zM148 4h1v1h-1zM151 4h2v1h-2zM171 4h1v1h-1zM177 4h1v1h-1zM183 4h1v1h-1zM189 4h1v1h-1zM192 4h1v1h-1zM195 4h1v1h-1zM197 4h1v1h-1zM202 4h1v1h-1zM204 4h1v1h-1zM212 4h2v1h-2zM230 4h1v1h-1zM237 4h2v1h-2zM242 4h1v1h-1zM254 4h1v1h-1zM257 4h1v1h-1zM276 4h1v1h-1zM280 4h1v1h-1zM287 4h1v1h-1zM289 4h2v1h-2zM293 4h1v1h-1zM296 4h1v1h-1zM299 4h2v1h-2zM302 4h2v1h-2zM3 5h1v1h-1zM10 5h2v1h-2zM18 5h1v1h-1zM25 5h1v1h-1zM28 5h2v1h-2zM31 5h1v1h-1zM33 5h1v1h-1zM35 5h1v1h-1zM39 5h1v1h-1zM52 5h1v1h-1zM54 5h1v1h-1zM59 5h1v1h-1zM72 5h1v1h-1zM79 5h1v1h-1zM92 5h2v1h-2zM96 5h2v1h-2zM103 5h2v1h-2zM109 5h1v1h-1zM117 5h1v1h-1zM123 5h1v1h-1zM126 5h1v1h-1zM129 5h1v1h-1zM137 5h1v1h-1zM139 5h1v1h-1zM150 5h3v1h-3zM160 5h2v1h-2zM171 5h1v1h-1zM181 5h1v1h-1zM186 5h1v1h-1zM196 5h1v1h-1zM215 5h1v1h-1zM223 5h2v1h-2zM226 5h1v1h-1zM236 5h2v1h-2zM239 5h1v1h-1zM241 5h2v1h-2zM250 5h1v1h-1zM253 5h1v1h-1zM255 5h1v1h-1zM258 5h1v1h-1zM260 5h1v1h-1zM263 5h1v1h-1zM272 5h3v1h-3zM278 5h2v1h-2zM285 5h1v1h-1zM292 5h1v1h-1zM296 5h2v1h-2zM299 5h2v1h-2zM1 6h1v1h-1zM7 6h1v1h-1zM10 6h2v1h-2zM15 6h1v1h-1zM17 6h1v1h-1zM24 6h1v1h-1zM42 6h1v1h-1zM44 6h1v1h-1zM46 6h1v1h-1zM53 6h1v1h-1zM66 6h1v1h-1zM77 6h1v1h-1zM94 6h1v1h-1zM97 6h1v1h-1zM100 6h1v1h-1zM103 6h2v1h-2zM109 6h1v1h-1zM115 6h1v1h-1zM119 6h1v1h-1zM122 6h2v1h-2zM126 6h2v1h-2zM132 6h1v1h-1zM135 6h1v1h-1zM148 6h3v1h-3zM152 6h1v1h-1zM157 6h1v1h-1zM162 6h1v1h-1zM168 6h1v1h-1zM170 6h3v1h-3zM177 6h1v1h-1zM180 6h2v1h-2zM204 6h2v1h-2zM207 6h4v1h-4zM213 6h1v1h-1zM216 6h1v1h-1zM223 6h1v1h-1zM229 6h3v1h-3zM242 6h1v1h-1zM247 6h1v1h-1zM251 6h1v1h-1zM256 6h1v1h-1zM258 6h1v1h-1zM272 6h1v1h-1zM277 6h4v1h-4zM286 6h1v1h-1zM288 6h2v1h-2zM296 6h1v1h-1zM302 6h1v1h-1zM304 6h1v1h-1zM0 7h1v1h-1zM9 7h1v1h-1zM11 7h1v1h-1zM17 7h1v1h-1zM21 7h1v1h-1zM26 7h2v1h-2zM73 7h1v1h-1zM77 7h1v1h-1zM103 7h1v1h-1zM115 7h1v1h-1zM119 7h1v1h-1zM123 7h1v1h-1zM126 7h1v1h-1zM128 7h2v1h-2zM131 7h1v1h-1zM141 7h1v1h-1zM155 7h1v1h-1zM169 7h1v1h-1zM177 7h1v1h-1zM180 7h1v1h-1zM183 7h1v1h-1zM202 7h1v1h-1zM207 7h1v1h-1zM210 7h1v1h-1zM226 7h1v1h-1zM237 7h1v1h-1zM250 7h1v1h-1zM253 7h1v1h-1zM277 7h1v1h-1zM279 7h1v1h-1zM289 7h1v1h-1zM23 8h1v1h-1zM90 8h1v1h-1zM108 8h1v1h-1zM126 8h1v1h-1zM136 8h1v1h-1zM147 8h1v1h-1zM154 8h1v1h-1zM173 8h1v1h-1zM200 8h1v1h-1zM213 8h1v1h-1zM294 8h1v1h-1zM298 8h1v1h-1zM305 8h1v1h-1zM23 9h1v1h-1zM32 9h1v1h-1zM72 9h1v1h-1zM87 9h1v1h-1zM129 9h1v1h-1zM131 9h1v1h-1zM140 9h2v1h-2zM154 9h1v1h-1zM162 9h1v1h-1zM187 9h1v1h-1zM256 9h3v1h-3zM270 9h1v1h-1z"/><path fill="#fcf2b4" d="M270 0h1v1h-1zM291 0h1v1h-1zM141 1h1v1h-1zM234 1h1v1h-1zM23 2h1v1h-1zM72 2h1v1h-1zM96 2h1v1h-1zM139 2h2v1h-2zM156 2h1v1h-1zM175 2h1v1h-1zM187 2h1v1h-1zM208 2h1v1h-1zM234 2h1v1h-1zM305 2h1v1h-1zM10 3h2v1h-2zM21 3h3v1h-3zM47 3h1v1h-1zM71 3h1v1h-1zM87 3h1v1h-1zM100 3h1v1h-1zM156 3h2v1h-2zM175 3h1v1h-1zM200 3h1v1h-1zM208 3h1v1h-1zM220 3h1v1h-1zM234 3h1v1h-1zM238 3h1v1h-1zM245 3h1v1h-1zM294 3h1v1h-1zM300 3h1v1h-1zM9 4h1v1h-1zM16 4h1v1h-1zM23 4h1v1h-1zM26 4h3v1h-3zM31 4h2v1h-2zM46 4h1v1h-1zM57 4h1v1h-1zM59 4h1v1h-1zM83 4h1v1h-1zM86 4h2v1h-2zM102 4h2v1h-2zM107 4h1v1h-1zM115 4h1v1h-1zM126 4h1v1h-1zM167 4h1v1h-1zM169 4h1v1h-1zM173 4h1v1h-1zM187 4h1v1h-1zM211 4h1v1h-1zM216 4h1v1h-1zM245 4h1v1h-1zM251 4h1v1h-1zM261 4h3v1h-3zM277 4h1v1h-1zM284 4h1v1h-1zM298 4h1v1h-1zM304 4h1v1h-1zM1 5h1v1h-1zM13 5h1v1h-1zM17 5h1v1h-1zM26 5h2v1h-2zM32 5h1v1h-1zM45 5h1v1h-1zM47 5h1v1h-1zM71 5h1v1h-1zM75 5h1v1h-1zM78 5h1v1h-1zM86 5h1v1h-1zM90 5h2v1h-2zM100 5h1v1h-1zM102 5h1v1h-1zM107 5h1v1h-1zM110 5h1v1h-1zM131 5h2v1h-2zM156 5h1v1h-1zM166 5h1v1h-1zM189 5h1v1h-1zM195 5h1v1h-1zM204 5h1v1h-1zM208 5h5v1h-5zM230 5h1v1h-1zM240 5h1v1h-1zM244 5h2v1h-2zM252 5h1v1h-1zM271 5h1v1h-1zM289 5h1v1h-1zM304 5h1v1h-1zM9 6h1v1h-1zM13 6h1v1h-1zM21 6h1v1h-1zM23 6h1v1h-1zM26 6h3v1h-3zM31 6h1v1h-1zM47 6h1v1h-1zM65 6h1v1h-1zM76 6h1v1h-1zM78 6h1v1h-1zM87 6h1v1h-1zM96 6h1v1h-1zM129 6h1v1h-1zM137 6h1v1h-1zM154 6h1v1h-1zM175 6h1v1h-1zM184 6h1v1h-1zM197 6h1v1h-1zM226 6h1v1h-1zM237 6h1v1h-1zM240 6h1v1h-1zM245 6h2v1h-2zM253 6h1v1h-1zM257 6h1v1h-1zM263 6h1v1h-1zM267 6h1v1h-1zM285 6h1v1h-1zM287 6h1v1h-1zM292 6h1v1h-1zM294 6h1v1h-1zM297 6h2v1h-2zM303 6h1v1h-1zM13 7h1v1h-1zM47 7h1v1h-1zM53 7h1v1h-1zM65 7h1v1h-1zM72 7h1v1h-1zM86 7h1v1h-1zM90 7h1v1h-1zM147 7h1v1h-1zM156 7h1v1h-1zM175 7h1v1h-1zM238 7h1v1h-1zM246 7h1v1h-1zM294 7h1v1h-1zM47 8h1v1h-1zM56 8h1v1h-1zM267 8h1v1h-1zM56 9h1v1h-1zM71 9h1v1h-1zM106 9h1v1h-1zM147 9h1v1h-1zM177 9h1v1h-1zM267 9h1v1h-1zM288 9h1v1h-1zM305 9h1v1h-1z"/><path fill="#fcfdbf" d="M129 0h1v1h-1zM288 0h1v1h-1zM156 1h1v1h-1zM68 2h1v1h-1zM200 2h1v1h-1zM291 2h1v1h-1zM17 3h1v1h-1zM44 3h1v1h-1zM56 3h1v1h-1zM119 3h1v1h-1zM136 3h1v1h-1zM141 3h1v1h-1zM246 3h1v1h-1zM291 3h1v1h-1zM56 4h1v1h-1zM65 4h1v1h-1zM68 4h1v1h-1zM129 4h1v1h-1zM136 4h1v1h-1zM141 4h1v1h-1zM147 4h1v1h-1zM154 4h1v1h-1zM175 4h1v1h-1zM200 4h1v1h-1zM234 4h1v1h-1zM253 4h1v1h-1zM270 4h1v1h-1zM288 4h1v1h-1zM291 4h1v1h-1zM305 4h1v1h-1zM0 5h1v1h-1zM9 5h1v1h-1zM16 5h1v1h-1zM56 5h1v1h-1zM65 5h1v1h-1zM87 5h1v1h-1zM136 5h1v1h-1zM138 5h1v1h-1zM141 5h1v1h-1zM154 5h1v1h-1zM173 5h1v1h-1zM175 5h1v1h-1zM177 5h1v1h-1zM200 5h1v1h-1zM202 5h1v1h-1zM207 5h1v1h-1zM234 5h1v1h-1zM251 5h1v1h-1zM262 5h1v1h-1zM267 5h1v1h-1zM270 5h1v1h-1zM288 5h1v1h-1zM291 5h1v1h-1zM294 5h1v1h-1zM298 5h1v1h-1zM305 5h1v1h-1zM0 6h1v1h-1zM56 6h1v1h-1zM71 6h2v1h-2zM93 6h1v1h-1zM136 6h1v1h-1zM141 6h1v1h-1zM156 6h1v1h-1zM189 6h1v1h-1zM202 6h1v1h-1zM234 6h1v1h-1zM270 6h1v1h-1zM291 6h1v1h-1zM305 6h1v1h-1zM32 7h1v1h-1zM44 7h1v1h-1zM56 7h1v1h-1zM139 7h1v1h-1zM154 7h1v1h-1zM200 7h1v1h-1zM208 7h1v1h-1zM211 7h1v1h-1zM234 7h1v1h-1zM270 7h1v1h-1zM288 7h1v1h-1zM291 7h1v1h-1zM305 7h1v1h-1zM46 8h1v1h-1zM136 9h1v1h-1z"/></g><rect x="389" y="1414.8" width="222.1" height="164.2" fill="none" stroke="#333" stroke-width="1.1"/><text x="389.3" y="1405.1" font-size="15.36">Healthy</text><text x="384" y="1567.7" font-size="10.24" text-anchor="end" fill="#4D4D4D">120</text><path d="M385.8 1564.1H389" stroke="#333" stroke-width="1.1"/><text x="384" y="1537.84" font-size="10.24" text-anchor="end" fill="#4D4D4D">140</text><path d="M385.8 1534.24H389" stroke="#333" stroke-width="1.1"/><text x="384" y="1507.98" font-size="10.24" text-anchor="end" fill="#4D4D4D">160</text><path d="M385.8 1504.38H389" stroke="#333" stroke-width="1.1"/><text x="384" y="1478.12" font-size="10.24" text-anchor="end" fill="#4D4D4D">180</text><path d="M385.8 1474.52H389" stroke="#333" stroke-width="1.1"/><text x="384" y="1448.26" font-size="10.24" text-anchor="end" fill="#4D4D4D">200</text><path d="M385.8 1444.66H389" stroke="#333" stroke-width="1.1"/><text x="384" y="1418.4" font-size="10.24" text-anchor="end" fill="#4D4D4D">220</text><path d="M385.8 1414.8H389" stroke="#333" stroke-width="1.1"/><text x="399.1" y="1592.4" font-size="10.24" text-anchor="middle" fill="#4D4D4D">0</text><path d="M399.1 1579V1582.2" stroke="#333" stroke-width="1.1"/><text x="465.1" y="1592.4" font-size="10.24" text-anchor="middle" fill="#4D4D4D">100</text><path d="M465.1 1579V1582.2" stroke="#333" stroke-width="1.1"/><text x="531.1" y="1592.4" font-size="10.24" text-anchor="middle" fill="#4D4D4D">200</text><path d="M531.1 1579V1582.2" stroke="#333" stroke-width="1.1"/><text x="597.1" y="1592.4" font-size="10.24" text-anchor="middle" fill="#4D4D4D">300</text><path d="M597.1 1579V1582.2" stroke="#333" stroke-width="1.1"/><text x="500.05" y="1606.8" font-size="12.7" text-anchor="middle">genomic position</text><text transform="translate(360.3 1496.9) rotate(-90)" font-size="12.7" text-anchor="middle">fragment size</text><rect x="630.9" y="1455.8" width="19.8" height="99.3" fill="url(#g47)"/><text x="630.6" y="1447.9" font-size="12.7">value</text><path d="M630.9 1555.1H634.5" stroke="#fff" stroke-width="0.9"/><path d="M647.1 1555.1H650.7" stroke="#fff" stroke-width="0.9"/><text x="657.3" y="1558.7" font-size="10.24">0.00</text><path d="M630.9 1530.28H634.5" stroke="#fff" stroke-width="0.9"/><path d="M647.1 1530.28H650.7" stroke="#fff" stroke-width="0.9"/><text x="657.3" y="1533.88" font-size="10.24">0.25</text><path d="M630.9 1505.45H634.5" stroke="#fff" stroke-width="0.9"/><path d="M647.1 1505.45H650.7" stroke="#fff" stroke-width="0.9"/><text x="657.3" y="1509.05" font-size="10.24">0.50</text><path d="M630.9 1480.62H634.5" stroke="#fff" stroke-width="0.9"/><path d="M647.1 1480.62H650.7" stroke="#fff" stroke-width="0.9"/><text x="657.3" y="1484.22" font-size="10.24">0.75</text><path d="M630.9 1455.8H634.5" stroke="#fff" stroke-width="0.9"/><path d="M647.1 1455.8H650.7" stroke="#fff" stroke-width="0.9"/><text x="657.3" y="1459.4" font-size="10.24">1.00</text></svg></body></html>
